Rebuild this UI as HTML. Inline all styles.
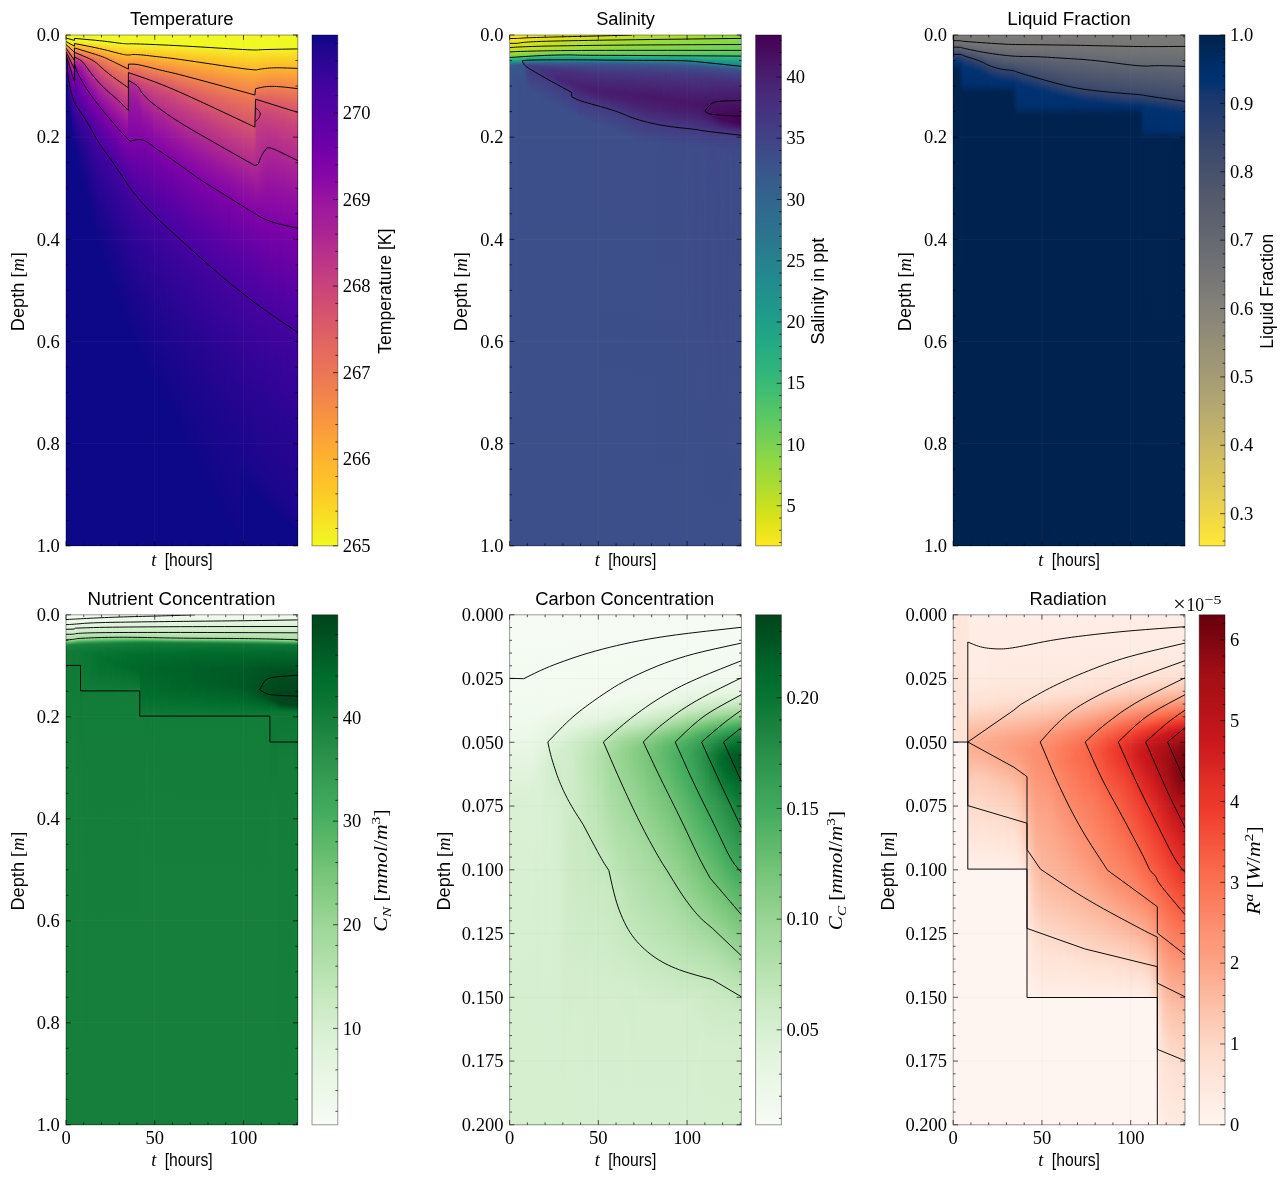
<!DOCTYPE html><html><head><meta charset="utf-8"><style>html,body{margin:0;padding:0;background:#fff}body{width:1288px;height:1184px;position:relative;overflow:hidden}.hm{position:absolute;overflow:hidden}.hm i{position:absolute;top:0;height:100%;display:block}svg{display:block;position:absolute;left:0;top:0;will-change:transform}</style></head><body><div class="hm" style="left:66px;top:35px;width:231.8px;height:510.8px"><div style="position:absolute;left:0px;top:0px;width:232px;height:511px"><i style="left:0px;width:2px;background:linear-gradient(#f0f921 0.5px,#f0f921 5.5px,#f3f027 6.5px,#fcd025 8.5px,#fca338 11.5px,#ed7953 14.5px,#ca457a 19.5px,#a21d9a 23.5px,#9511a1 24.5px,#8305a7 25.5px,#6c00a8 26.5px,#5b01a5 28.5px,#43039e 33.5px,#20068f 44.5px,#0d0887 53.5px,#0d0887 510.5px)"></i><i style="left:2px;width:2px;background:linear-gradient(#f0f921 0.5px,#f0f921 5.5px,#f1f525 6.5px,#fccd25 9.5px,#f99a3e 13.5px,#ec7754 16.5px,#c43e7f 23.5px,#9511a1 29.5px,#8004a8 32.5px,#6700a8 38.5px,#41049d 52.5px,#220690 63.5px,#0d0887 76.5px,#0d0887 510.5px)"></i><i style="left:4px;width:2px;background:linear-gradient(#f0f921 0.5px,#f0f921 6.5px,#f3ee27 7.5px,#fdca26 10.5px,#fa9c3c 14.5px,#e76f5a 19.5px,#c6417d 26.5px,#9c179e 33.5px,#8104a7 38.5px,#6300a7 47.5px,#310597 67.5px,#1b068d 78.5px,#0d0887 91.5px,#0d0887 510.5px)"></i><i style="left:6px;width:2px;background:linear-gradient(#f0f921 0.5px,#f0f921 6.5px,#f1f426 7.5px,#fdc827 11.5px,#f89540 16.5px,#e76f5a 21.5px,#c33d80 30.5px,#a11b9b 37.5px,#8104a7 44.5px,#5c01a6 57.5px,#280592 81.5px,#100788 100.5px,#0d0887 111.5px,#0d0887 510.5px)"></i><i style="left:8px;width:2px;background:linear-gradient(#f0f921 0.5px,#f0f921 5.5px,#f3f027 6.5px,#fdcb26 9.5px,#fba139 13.5px,#e56b5d 18.5px,#c23c81 23.5px,#a51f99 27.5px,#8b0aa5 31.5px,#7b02a8 35.5px,#6400a7 46.5px,#43039e 73.5px,#280592 87.5px,#130789 106.5px,#0d0887 115.5px,#0d0887 510.5px)"></i><i style="left:10px;width:2px;background:linear-gradient(#f0f921 0.5px,#f0f921 5.5px,#f2f227 6.5px,#fcce25 9.5px,#fca537 13.5px,#e97158 18.5px,#c13b82 24.5px,#ab2494 27.5px,#8d0ba5 34.5px,#7501a8 43.5px,#5601a4 62.5px,#41049d 77.5px,#2c0594 89.5px,#16078a 110.5px,#0d0887 123.5px,#0d0887 510.5px)"></i><i style="left:12px;width:2px;background:linear-gradient(#f0f921 0.5px,#f0f921 5.5px,#f1f426 6.5px,#fdc627 10.5px,#fb9f3a 14.5px,#e26561 20.5px,#c03a83 25.5px,#ab2494 28.5px,#8d0ba5 37.5px,#7501a8 48.5px,#3e049c 82.5px,#260591 99.5px,#130789 122.5px,#0d0887 133.5px,#0d0887 510.5px)"></i><i style="left:14px;width:2px;background:linear-gradient(#f0f921 0.5px,#f0f921 5.5px,#f1f525 6.5px,#fdca26 10.5px,#f99a3e 15.5px,#e06363 21.5px,#bf3984 26.5px,#ab2494 29.5px,#8f0da4 38.5px,#7501a8 51.5px,#3e049c 85.5px,#240691 106.5px,#130789 130.5px,#0d0887 141.5px,#0d0887 510.5px)"></i><i style="left:16px;width:2px;background:linear-gradient(#f0f921 0.5px,#f0f724 6.5px,#f8df25 8.5px,#fdc229 11.5px,#f89441 16.5px,#de6164 22.5px,#b32c8e 29.5px,#a11b9b 34.5px,#8707a6 45.5px,#6700a8 62.5px,#370499 93.5px,#1d068e 120.5px,#100788 143.5px,#0d0887 146.5px,#0d0887 510.5px)"></i><i style="left:18px;width:2px;background:linear-gradient(#f0f921 0.5px,#f0f921 6.5px,#f4ed27 7.5px,#fcce25 10.5px,#fba238 15.5px,#e76e5b 21.5px,#cd4a76 26.5px,#b12a90 32.5px,#9511a1 42.5px,#7d03a8 54.5px,#4c02a1 81.5px,#2e0595 105.5px,#16078a 138.5px,#100788 151.5px,#0d0887 154.5px,#0d0887 510.5px)"></i><i style="left:20px;width:2px;background:linear-gradient(#f0f921 0.5px,#f0f921 6.5px,#f3ee27 7.5px,#fdc827 11.5px,#fa9c3c 16.5px,#e56b5d 22.5px,#cd4a76 27.5px,#b02991 35.5px,#8f0da4 48.5px,#7501a8 61.5px,#48039f 87.5px,#2c0594 112.5px,#16078a 144.5px,#100788 158.5px,#0d0887 161.5px,#0d0887 510.5px)"></i><i style="left:22px;width:2px;background:linear-gradient(#f0f921 0.5px,#f0f921 6.5px,#f3f027 7.5px,#fdca26 11.5px,#f9983e 17.5px,#e4695e 23.5px,#d14e72 27.5px,#b42e8d 36.5px,#920fa3 50.5px,#7a02a8 62.5px,#48039f 90.5px,#2a0593 118.5px,#16078a 152.5px,#100788 166.5px,#0d0887 169.5px,#0d0887 510.5px)"></i><i style="left:24px;width:2px;background:linear-gradient(#f0f921 0.5px,#f0f921 6.5px,#f3f027 7.5px,#fdcb26 11.5px,#fa9c3c 17.5px,#e76e5b 23.5px,#d45270 27.5px,#ba3388 36.5px,#9511a1 52.5px,#7e03a8 63.5px,#5102a3 87.5px,#3a049a 105.5px,#220690 136.5px,#130789 166.5px,#100788 174.5px,#0d0887 177.5px,#0d0887 510.5px)"></i><i style="left:26px;width:2px;background:linear-gradient(#f0f921 0.5px,#f0f921 6.5px,#f2f227 7.5px,#fcce25 11.5px,#fb9f3a 17.5px,#e97257 23.5px,#d35171 28.5px,#bc3587 37.5px,#9410a2 55.5px,#7b02a8 67.5px,#4b03a1 95.5px,#2f0596 121.5px,#19068c 160.5px,#100788 182.5px,#0d0887 185.5px,#0d0887 510.5px)"></i><i style="left:28px;width:2px;background:linear-gradient(#f0f921 0.5px,#f0f921 6.5px,#f1f426 7.5px,#fdc827 12.5px,#fa9b3d 18.5px,#e56a5d 25.5px,#d14e72 30.5px,#b7318a 41.5px,#8e0ca4 60.5px,#7501a8 73.5px,#48039f 101.5px,#2a0593 135.5px,#1b068d 163.5px,#100788 190.5px,#0d0887 197.5px,#0d0887 510.5px)"></i><i style="left:30px;width:2px;background:linear-gradient(#f0f921 0.5px,#f0f921 6.5px,#f1f525 7.5px,#fdca26 12.5px,#fa9e3b 18.5px,#e56a5d 26.5px,#d14e72 32.5px,#b42e8d 45.5px,#8e0ca4 63.5px,#7801a8 74.5px,#4b03a1 102.5px,#2f0596 132.5px,#1b068d 169.5px,#130789 190.5px,#100788 195.5px,#100788 199.5px,#0d0887 202.5px,#0d0887 510.5px)"></i><i style="left:32px;width:2px;background:linear-gradient(#f0f921 0.5px,#f0f921 6.5px,#f1f525 7.5px,#fdc527 13.5px,#f99a3e 19.5px,#ed7953 24.5px,#d6556d 32.5px,#c03a83 42.5px,#9814a0 61.5px,#7e03a8 73.5px,#5102a3 100.5px,#3a049a 121.5px,#220690 160.5px,#130789 196.5px,#100788 206.5px,#0d0887 209.5px,#0d0887 510.5px)"></i><i style="left:34px;width:2px;background:linear-gradient(#f0f921 0.5px,#f0f724 7.5px,#f6e626 9.5px,#fdc627 13.5px,#fa9e3b 19.5px,#ef7c51 24.5px,#da5b69 32.5px,#be3885 45.5px,#9410a2 65.5px,#7b02a8 77.5px,#4c02a1 106.5px,#350498 132.5px,#1d068e 174.5px,#130789 203.5px,#100788 208.5px,#100788 212.5px,#0d0887 215.5px,#0d0887 510.5px)"></i><i style="left:36px;width:2px;background:linear-gradient(#f0f921 0.5px,#f0f724 7.5px,#f6e826 9.5px,#fdca26 13.5px,#f99a3e 20.5px,#eb7655 26.5px,#d04d73 38.5px,#a11b9b 61.5px,#8004a8 77.5px,#5801a4 101.5px,#3f049c 121.5px,#260591 160.5px,#16078a 199.5px,#100788 216.5px,#0d0887 227.5px,#0d0887 510.5px)"></i><i style="left:38px;width:2px;background:linear-gradient(#f0f921 0.5px,#f0f921 7.5px,#f2f227 8.5px,#fdcb26 13.5px,#fa9e3b 20.5px,#ed7a52 26.5px,#d8576b 36.5px,#a51f99 61.5px,#8305a7 78.5px,#6001a6 98.5px,#41049d 122.5px,#260591 164.5px,#16078a 203.5px,#100788 222.5px,#0d0887 229.5px,#0d0887 510.5px)"></i><i style="left:40px;width:2px;background:linear-gradient(#f0f921 0.5px,#f0f921 7.5px,#f2f227 8.5px,#fdc827 14.5px,#fa9c3c 21.5px,#ed7a52 27.5px,#d5536f 39.5px,#a82296 61.5px,#8606a6 79.5px,#6600a7 97.5px,#44039e 121.5px,#2c0594 157.5px,#1b068d 194.5px,#130789 219.5px,#100788 224.5px,#100788 229.5px,#0d0887 232.5px,#0d0887 510.5px)"></i><i style="left:42px;width:2px;background:linear-gradient(#f0f921 0.5px,#f0f921 7.5px,#f4ed27 9.5px,#fdca26 14.5px,#f99a3e 22.5px,#ed7a52 28.5px,#da5a6a 38.5px,#ac2694 61.5px,#8707a6 80.5px,#6700a8 99.5px,#46039f 122.5px,#2c0594 160.5px,#1b068d 199.5px,#130789 224.5px,#100788 229.5px,#100788 234.5px,#0d0887 237.5px,#0d0887 510.5px)"></i><i style="left:44px;width:2px;background:linear-gradient(#f0f921 0.5px,#f0f921 7.5px,#f6e826 10.5px,#fdc627 15.5px,#f9983e 23.5px,#ed7a52 29.5px,#da5b69 39.5px,#a72197 65.5px,#8405a7 84.5px,#6100a7 105.5px,#43039e 128.5px,#280592 172.5px,#19068c 210.5px,#130789 229.5px,#100788 234.5px,#100788 239.5px,#0d0887 242.5px,#0d0887 510.5px)"></i><i style="left:46px;width:2px;background:linear-gradient(#f0f921 0.5px,#f0f724 8.5px,#f5e926 10.5px,#fdca26 15.5px,#fa9b3d 23.5px,#ed7a52 30.5px,#da5a6a 41.5px,#ab2494 65.5px,#8a09a5 83.5px,#6c00a8 101.5px,#48039f 126.5px,#2f0596 161.5px,#1b068d 208.5px,#130789 234.5px,#100788 239.5px,#100788 245.5px,#0d0887 248.5px,#0d0887 510.5px)"></i><i style="left:48px;width:2px;background:linear-gradient(#f0f921 0.5px,#f0f921 8.5px,#f2f227 9.5px,#fdcb26 15.5px,#f99a3e 24.5px,#ed7953 31.5px,#d5546e 45.5px,#ac2694 66.5px,#8a09a5 85.5px,#6c00a8 103.5px,#44039e 132.5px,#280592 179.5px,#19068c 221.5px,#130789 239.5px,#100788 250.5px,#0d0887 257.5px,#0d0887 510.5px)"></i><i style="left:50px;width:2px;background:linear-gradient(#f0f921 0.5px,#f0f921 8.5px,#f2f227 9.5px,#fdc827 16.5px,#f9983e 25.5px,#ed7953 32.5px,#d04d73 49.5px,#a62098 71.5px,#8405a7 91.5px,#6300a7 112.5px,#44039e 135.5px,#2a0593 179.5px,#1b068d 218.5px,#130789 245.5px,#100788 250.5px,#100788 256.5px,#0d0887 259.5px,#0d0887 510.5px)"></i><i style="left:52px;width:2px;background:linear-gradient(#f0f921 0.5px,#f0f921 8.5px,#f3ee27 10.5px,#fdca26 16.5px,#f9973f 26.5px,#ed7953 33.5px,#c43e7f 57.5px,#9d189d 78.5px,#8004a8 96.5px,#5601a4 123.5px,#3f049c 145.5px,#280592 188.5px,#19068c 230.5px,#130789 251.5px,#100788 256.5px,#100788 262.5px,#0d0887 265.5px,#0d0887 510.5px)"></i><i style="left:54px;width:2px;background:linear-gradient(#f0f921 0.5px,#f0f921 8.5px,#f5e926 11.5px,#fdc627 17.5px,#f89441 27.5px,#e87059 37.5px,#bc3587 63.5px,#9613a1 84.5px,#7d03a8 100.5px,#4e02a2 132.5px,#3a049a 156.5px,#240691 202.5px,#19068c 236.5px,#130789 256.5px,#100788 261.5px,#100788 268.5px,#0d0887 271.5px,#0d0887 510.5px)"></i><i style="left:56px;width:2px;background:linear-gradient(#f0f921 0.5px,#f0f921 8.5px,#f5e926 11.5px,#fdc827 17.5px,#f9973f 27.5px,#eb7655 36.5px,#bf3984 63.5px,#9613a1 86.5px,#7d03a8 102.5px,#4c02a1 136.5px,#38049a 162.5px,#220690 212.5px,#16078a 250.5px,#130789 262.5px,#100788 267.5px,#100788 274.5px,#0d0887 277.5px,#0d0887 510.5px)"></i><i style="left:58px;width:2px;background:linear-gradient(#f0f921 0.5px,#f0f921 8.5px,#f5eb27 11.5px,#fdc827 17.5px,#f89540 28.5px,#e87059 39.5px,#bd3786 66.5px,#9511a1 89.5px,#7d03a8 104.5px,#4e02a2 138.5px,#3c049b 160.5px,#240691 210.5px,#16078a 255.5px,#130789 267.5px,#100788 272.5px,#100788 279.5px,#0d0887 282.5px,#0d0887 510.5px)"></i><i style="left:60px;width:2px;background:linear-gradient(#f0f921 0.5px,#f0f724 9.5px,#f6e626 12.5px,#fdc527 18.5px,#f89441 29.5px,#ea7457 39.5px,#ca457a 60.5px,#9c179e 87.5px,#7e03a8 105.5px,#5102a3 138.5px,#3e049c 160.5px,#240691 214.5px,#16078a 261.5px,#130789 273.5px,#100788 278.5px,#100788 285.5px,#0d0887 288.5px,#0d0887 510.5px)"></i><i style="left:62px;width:2px;background:linear-gradient(#f0f921 0.5px,#f0f724 9.5px,#f6e626 12.5px,#fdc627 18.5px,#f9983e 27.5px,#de5f65 38.5px,#bf3984 45.5px,#ad2793 49.5px,#9814a0 66.5px,#7b02a8 109.5px,#4e02a2 144.5px,#3c049b 166.5px,#260591 214.5px,#19068c 255.5px,#130789 278.5px,#100788 283.5px,#100788 291.5px,#0d0887 294.5px,#0d0887 510.5px)"></i><i style="left:64px;width:2px;background:linear-gradient(#f0f921 0.5px,#f0f921 8.5px,#f5e926 11.5px,#fdca26 17.5px,#fa9b3d 26.5px,#e26561 37.5px,#c43e7f 45.5px,#b02991 49.5px,#9613a1 69.5px,#7b02a8 110.5px,#5002a2 145.5px,#3c049b 169.5px,#240691 223.5px,#19068c 261.5px,#130789 283.5px,#100788 288.5px,#100788 296.5px,#0d0887 299.5px,#0d0887 510.5px)"></i><i style="left:66px;width:2px;background:linear-gradient(#f0f921 0.5px,#f0f724 9.5px,#f5eb27 11.5px,#fdc827 17.5px,#f99a3e 26.5px,#df6263 38.5px,#c8437b 45.5px,#b12a90 50.5px,#a01a9c 61.5px,#8d0ba5 84.5px,#7701a8 114.5px,#46039f 157.5px,#2e0595 202.5px,#1b068d 255.5px,#130789 287.5px,#100788 292.5px,#100788 300.5px,#0d0887 303.5px,#0d0887 510.5px)"></i><i style="left:68px;width:2px;background:linear-gradient(#f0f921 0.5px,#f0f724 9.5px,#f6e626 12.5px,#fdc328 18.5px,#f79342 27.5px,#db5c68 40.5px,#c23c81 47.5px,#ad2793 52.5px,#9511a1 72.5px,#7a02a8 111.5px,#4b03a1 155.5px,#370499 186.5px,#240691 231.5px,#19068c 269.5px,#130789 291.5px,#100788 302.5px,#100788 305.5px,#0d0887 308.5px,#0d0887 510.5px)"></i><i style="left:70px;width:2px;background:linear-gradient(#f0f921 0.5px,#f0f724 9.5px,#f6e626 12.5px,#fdca26 17.5px,#f99a3e 26.5px,#e87059 35.5px,#cb4679 46.5px,#b12a90 52.5px,#9c179e 66.5px,#8104a7 101.5px,#5b01a5 140.5px,#3e049c 176.5px,#260591 228.5px,#16078a 283.5px,#130789 296.5px,#100788 301.5px,#100788 310.5px,#0d0887 313.5px,#0d0887 510.5px)"></i><i style="left:72px;width:2px;background:linear-gradient(#f0f921 0.5px,#f0f724 9.5px,#f6e626 12.5px,#fdc527 18.5px,#f89540 27.5px,#e56a5d 37.5px,#c7427c 48.5px,#ae2892 55.5px,#9410a2 76.5px,#7501a8 114.5px,#46039f 166.5px,#2f0596 208.5px,#1d068e 259.5px,#130789 300.5px,#100788 311.5px,#100788 314.5px,#0d0887 317.5px,#0d0887 510.5px)"></i><i style="left:74px;width:2px;background:linear-gradient(#f0f921 0.5px,#f0f724 9.5px,#f6e626 12.5px,#fdc527 18.5px,#f79342 28.5px,#e16462 39.5px,#b22b8f 57.5px,#9814a0 76.5px,#7d03a8 107.5px,#4e02a2 158.5px,#38049a 191.5px,#220690 247.5px,#16078a 292.5px,#130789 304.5px,#100788 309.5px,#100788 318.5px,#0d0887 321.5px,#0d0887 510.5px)"></i><i style="left:76px;width:2px;background:linear-gradient(#f0f921 0.5px,#f0f724 9.5px,#f6e826 12.5px,#fdc627 18.5px,#f89441 28.5px,#de5f65 41.5px,#b83289 57.5px,#a31e9a 70.5px,#8405a7 99.5px,#6100a7 137.5px,#43039e 175.5px,#2a0593 227.5px,#1b068d 274.5px,#130789 307.5px,#100788 318.5px,#100788 322.5px,#0d0887 325.5px,#0d0887 510.5px)"></i><i style="left:78px;width:2px;background:linear-gradient(#f0f921 0.5px,#f0f921 9.5px,#f2f227 10.5px,#fdcb26 17.5px,#fa9b3d 27.5px,#e66c5c 38.5px,#cc4977 49.5px,#ae2892 64.5px,#8e0ca4 90.5px,#7401a8 117.5px,#4903a0 167.5px,#330597 207.5px,#20068f 260.5px,#130789 310.5px,#100788 321.5px,#100788 325.5px,#0d0887 328.5px,#0d0887 510.5px)"></i><i style="left:80px;width:2px;background:linear-gradient(#f0f921 0.5px,#f0f921 9.5px,#f2f227 10.5px,#fdc827 18.5px,#f9973f 28.5px,#db5c68 43.5px,#ba3388 59.5px,#a01a9c 76.5px,#8305a7 103.5px,#6001a6 141.5px,#41049d 181.5px,#280592 237.5px,#19068c 290.5px,#130789 314.5px,#100788 319.5px,#100788 328.5px,#0d0887 331.5px,#0d0887 510.5px)"></i><i style="left:82px;width:2px;background:linear-gradient(#f0f921 0.5px,#f0f921 9.5px,#f4ed27 11.5px,#fdc827 18.5px,#f89441 29.5px,#da5b69 44.5px,#bb3488 60.5px,#9d189d 80.5px,#8104a7 107.5px,#5c01a6 146.5px,#3f049c 186.5px,#280592 240.5px,#1b068d 283.5px,#130789 316.5px,#100788 332.5px,#0d0887 335.5px,#0d0887 510.5px)"></i><i style="left:84px;width:2px;background:linear-gradient(#f0f921 0.5px,#f0f921 9.5px,#f3ee27 11.5px,#fdca26 18.5px,#f99a3e 28.5px,#de6164 43.5px,#ca457a 53.5px,#ac2694 71.5px,#8e0ca4 95.5px,#7401a8 121.5px,#4b03a1 170.5px,#330597 213.5px,#20068f 268.5px,#130789 319.5px,#100788 335.5px,#0d0887 338.5px,#0d0887 510.5px)"></i><i style="left:86px;width:2px;background:linear-gradient(#f0f921 0.5px,#f0f921 9.5px,#f3ee27 11.5px,#fdca26 18.5px,#f9973f 29.5px,#de5f65 44.5px,#ca457a 54.5px,#ad2793 72.5px,#8d0ba5 98.5px,#7201a8 124.5px,#46039f 179.5px,#2f0596 224.5px,#1b068d 287.5px,#130789 324.5px,#100788 329.5px,#100788 339.5px,#0d0887 342.5px,#0d0887 510.5px)"></i><i style="left:88px;width:2px;background:linear-gradient(#f0f921 0.5px,#f0f921 9.5px,#f3ee27 11.5px,#fdca26 18.5px,#f9983e 29.5px,#e16462 43.5px,#cb4679 54.5px,#aa2395 76.5px,#8a09a5 103.5px,#6f00a8 130.5px,#48039f 178.5px,#310597 222.5px,#1d068e 282.5px,#130789 327.5px,#100788 332.5px,#100788 342.5px,#0d0887 345.5px,#0d0887 510.5px)"></i><i style="left:90px;width:2px;background:linear-gradient(#f0f921 0.5px,#f0f921 9.5px,#f3ee27 11.5px,#fdcb26 18.5px,#f99a3e 29.5px,#e26660 43.5px,#cf4c74 52.5px,#ae2892 74.5px,#8b0aa5 103.5px,#7100a8 129.5px,#48039f 180.5px,#310597 224.5px,#1d068e 285.5px,#130789 330.5px,#100788 341.5px,#100788 346.5px,#0d0887 349.5px,#0d0887 510.5px)"></i><i style="left:92px;width:2px;background:linear-gradient(#f0f921 0.5px,#f0f921 9.5px,#f3ee27 11.5px,#fdcb26 18.5px,#fa9b3d 29.5px,#e4695e 43.5px,#cf4c74 53.5px,#b22b8f 73.5px,#910ea3 100.5px,#7a02a8 121.5px,#5002a2 170.5px,#370499 214.5px,#220690 271.5px,#16078a 320.5px,#130789 334.5px,#100788 339.5px,#100788 349.5px,#0d0887 352.5px,#0d0887 510.5px)"></i><i style="left:94px;width:2px;background:linear-gradient(#f0f921 0.5px,#f0f921 9.5px,#f5e926 12.5px,#fdc827 19.5px,#f89441 31.5px,#e16462 45.5px,#ce4b75 54.5px,#ae2892 77.5px,#8d0ba5 104.5px,#7401a8 129.5px,#4903a0 181.5px,#330597 224.5px,#20068f 282.5px,#16078a 323.5px,#130789 337.5px,#100788 342.5px,#100788 353.5px,#0d0887 356.5px,#0d0887 510.5px)"></i><i style="left:96px;width:2px;background:linear-gradient(#f0f921 0.5px,#f0f921 9.5px,#f5eb27 12.5px,#fdc827 19.5px,#f89540 31.5px,#e26561 45.5px,#cc4977 56.5px,#ab2494 81.5px,#8a09a5 108.5px,#6f00a8 136.5px,#4c02a1 178.5px,#370499 218.5px,#240691 270.5px,#19068c 314.5px,#130789 340.5px,#100788 351.5px,#100788 356.5px,#0d0887 359.5px,#0d0887 510.5px)"></i><i style="left:98px;width:2px;background:linear-gradient(#f0f921 0.5px,#f0f921 9.5px,#f5eb27 12.5px,#fdc827 19.5px,#f89441 32.5px,#dd5e66 48.5px,#c8437b 60.5px,#a01a9c 91.5px,#8104a7 118.5px,#5c01a6 159.5px,#3f049c 201.5px,#260591 265.5px,#19068c 317.5px,#130789 344.5px,#100788 349.5px,#100788 359.5px,#0d0887 362.5px,#0d0887 510.5px)"></i><i style="left:100px;width:2px;background:linear-gradient(#f0f921 0.5px,#f0f921 9.5px,#f5eb27 12.5px,#fdca26 19.5px,#f9983e 31.5px,#e06363 47.5px,#cd4a76 57.5px,#b02991 80.5px,#8d0ba5 109.5px,#7501a8 131.5px,#4903a0 186.5px,#330597 231.5px,#20068f 290.5px,#16078a 333.5px,#130789 347.5px,#100788 352.5px,#100788 363.5px,#0d0887 366.5px,#0d0887 510.5px)"></i><i style="left:102px;width:2px;background:linear-gradient(#f0f921 0.5px,#f0f921 9.5px,#f5eb27 12.5px,#fdca26 19.5px,#f99a3e 31.5px,#df6263 48.5px,#c9447a 61.5px,#9e199d 95.5px,#8104a7 120.5px,#5c01a6 162.5px,#41049d 202.5px,#280592 263.5px,#19068c 323.5px,#130789 351.5px,#100788 356.5px,#100788 366.5px,#0d0887 369.5px,#0d0887 510.5px)"></i><i style="left:104px;width:2px;background:linear-gradient(#f0f921 0.5px,#f0f921 9.5px,#f5eb27 12.5px,#fdcb26 19.5px,#f99a3e 31.5px,#e26660 47.5px,#ce4b75 58.5px,#ad2793 85.5px,#8a09a5 114.5px,#7100a8 139.5px,#4b03a1 187.5px,#350498 231.5px,#20068f 295.5px,#16078a 340.5px,#130789 350.5px,#100788 370.5px,#0d0887 373.5px,#0d0887 510.5px)"></i><i style="left:106px;width:2px;background:linear-gradient(#f0f921 0.5px,#f0f921 9.5px,#f4ed27 12.5px,#fdcb26 19.5px,#fa9b3d 31.5px,#e26561 48.5px,#cc4778 61.5px,#a31e9a 94.5px,#8104a7 123.5px,#5c01a6 165.5px,#41049d 206.5px,#280592 268.5px,#19068c 330.5px,#130789 356.5px,#100788 367.5px,#100788 373.5px,#0d0887 376.5px,#0d0887 510.5px)"></i><i style="left:108px;width:2px;background:linear-gradient(#f0f921 0.5px,#f0f724 10.5px,#f6e826 13.5px,#fdc827 20.5px,#f89540 33.5px,#df6263 50.5px,#cc4778 62.5px,#9e199d 100.5px,#8104a7 124.5px,#5c01a6 166.5px,#41049d 208.5px,#2a0593 266.5px,#1b068d 320.5px,#130789 359.5px,#100788 370.5px,#100788 377.5px,#0d0887 380.5px,#0d0887 510.5px)"></i><i style="left:110px;width:2px;background:linear-gradient(#f0f921 0.5px,#f0f724 10.5px,#f6e826 13.5px,#fdc827 20.5px,#f9973f 33.5px,#db5c68 53.5px,#c8437b 66.5px,#9814a0 106.5px,#7e03a8 129.5px,#5502a4 178.5px,#3a049a 224.5px,#240691 288.5px,#19068c 336.5px,#130789 362.5px,#100788 379.5px,#0d0887 386.5px,#0d0887 510.5px)"></i><i style="left:112px;width:2px;background:linear-gradient(#f0f921 0.5px,#f0f724 10.5px,#f7e425 14.5px,#fdc527 21.5px,#f79143 35.5px,#da5b69 54.5px,#c23c81 72.5px,#9511a1 110.5px,#7d03a8 132.5px,#5302a3 182.5px,#3a049a 226.5px,#260591 284.5px,#19068c 338.5px,#130789 367.5px,#100788 372.5px,#100788 384.5px,#0d0887 387.5px,#0d0887 510.5px)"></i><i style="left:114px;width:2px;background:linear-gradient(#f0f921 0.5px,#f0f724 10.5px,#f7e425 14.5px,#fdc229 22.5px,#f68f44 36.5px,#d9586a 56.5px,#c13b82 74.5px,#9511a1 111.5px,#7d03a8 133.5px,#5102a3 186.5px,#38049a 232.5px,#240691 294.5px,#19068c 342.5px,#130789 370.5px,#100788 375.5px,#100788 387.5px,#0d0887 390.5px,#0d0887 510.5px)"></i><i style="left:116px;width:2px;background:linear-gradient(#f0f921 0.5px,#f0f724 10.5px,#f7e425 14.5px,#fdc627 21.5px,#f79342 35.5px,#da5a6a 56.5px,#c03a83 76.5px,#920fa3 115.5px,#7b02a8 136.5px,#4c02a1 195.5px,#370499 239.5px,#220690 303.5px,#19068c 346.5px,#130789 381.5px,#100788 392.5px,#100788 399.5px,#0d0887 402.5px,#0d0887 510.5px)"></i><i style="left:118px;width:2px;background:linear-gradient(#f0f921 0.5px,#f0f921 10.5px,#f3ee27 12.5px,#fdcb26 20.5px,#fa9b3d 33.5px,#e26561 52.5px,#cc4778 67.5px,#9a169f 110.5px,#8004a8 133.5px,#5801a4 181.5px,#3e049c 223.5px,#260591 291.5px,#19068c 346.5px,#16078a 367.5px,#130789 377.5px,#130789 386.5px,#100788 391.5px,#100788 403.5px,#0d0887 406.5px,#0d0887 510.5px)"></i><i style="left:120px;width:2px;background:linear-gradient(#f0f921 0.5px,#f0f921 10.5px,#f3ee27 12.5px,#fdc827 21.5px,#f89540 35.5px,#e06363 54.5px,#cb4679 69.5px,#9a169f 111.5px,#8004a8 134.5px,#5801a4 183.5px,#3e049c 225.5px,#260591 294.5px,#19068c 349.5px,#16078a 371.5px,#130789 381.5px,#130789 390.5px,#100788 395.5px,#100788 407.5px,#0d0887 410.5px,#0d0887 510.5px)"></i><i style="left:122px;width:2px;background:linear-gradient(#f0f921 0.5px,#f0f921 10.5px,#f3f027 12.5px,#fdc827 21.5px,#f89441 36.5px,#df6263 55.5px,#c8437b 72.5px,#9613a1 115.5px,#7d03a8 139.5px,#4c02a1 200.5px,#370499 245.5px,#240691 304.5px,#19068c 353.5px,#16078a 374.5px,#130789 384.5px,#130789 394.5px,#100788 399.5px,#100788 411.5px,#0d0887 414.5px,#0d0887 510.5px)"></i><i style="left:124px;width:2px;background:linear-gradient(#f0f921 0.5px,#f0f921 10.5px,#f5eb27 13.5px,#fdca26 21.5px,#f9983e 35.5px,#e06363 55.5px,#c6417d 75.5px,#99159f 114.5px,#7e03a8 139.5px,#5302a3 192.5px,#3a049a 238.5px,#260591 299.5px,#19068c 356.5px,#16078a 377.5px,#130789 387.5px,#130789 397.5px,#100788 402.5px,#100788 414.5px,#0d0887 417.5px,#0d0887 510.5px)"></i><i style="left:126px;width:2px;background:linear-gradient(#f0f921 0.5px,#f0f921 10.5px,#f4ed27 13.5px,#fdca26 21.5px,#f99a3e 35.5px,#db5c68 59.5px,#be3885 83.5px,#9410a2 120.5px,#7b02a8 143.5px,#4e02a2 201.5px,#38049a 244.5px,#240691 309.5px,#19068c 360.5px,#16078a 381.5px,#130789 391.5px,#130789 401.5px,#100788 406.5px,#100788 418.5px,#0d0887 421.5px,#0d0887 510.5px)"></i><i style="left:128px;width:2px;background:linear-gradient(#f0f921 0.5px,#f0f921 10.5px,#f4ed27 13.5px,#fdcb26 21.5px,#fba139 33.5px,#e16462 56.5px,#ca457a 74.5px,#9e199d 112.5px,#8004a8 140.5px,#5801a4 189.5px,#3f049c 230.5px,#280592 296.5px,#19068c 362.5px,#16078a 384.5px,#130789 394.5px,#130789 405.5px,#100788 410.5px,#100788 422.5px,#0d0887 425.5px,#0d0887 510.5px)"></i><i style="left:130px;width:2px;background:linear-gradient(#f0f921 0.5px,#f0f921 10.5px,#f4ed27 13.5px,#fdc827 22.5px,#f89540 37.5px,#de5f65 59.5px,#c43e7f 80.5px,#99159f 118.5px,#7e03a8 143.5px,#5102a3 200.5px,#3c049b 240.5px,#260591 306.5px,#19068c 364.5px,#16078a 388.5px,#130789 398.5px,#130789 409.5px,#100788 414.5px,#100788 426.5px,#0d0887 429.5px,#0d0887 510.5px)"></i><i style="left:132px;width:2px;background:linear-gradient(#f0f921 0.5px,#f0f921 10.5px,#f4ed27 13.5px,#fdc827 22.5px,#f89441 38.5px,#e06363 58.5px,#c6417d 79.5px,#99159f 119.5px,#8004a8 143.5px,#5801a4 192.5px,#3f049c 234.5px,#280592 301.5px,#1b068d 356.5px,#16078a 389.5px,#130789 412.5px,#100788 417.5px,#100788 429.5px,#0d0887 432.5px,#0d0887 510.5px)"></i><i style="left:134px;width:2px;background:linear-gradient(#f0f921 0.5px,#f0f724 11.5px,#f6e626 15.5px,#fdc527 23.5px,#f79143 39.5px,#de6164 60.5px,#c43e7f 82.5px,#99159f 121.5px,#8004a8 144.5px,#5601a4 195.5px,#3c049b 244.5px,#260591 311.5px,#19068c 371.5px,#16078a 395.5px,#130789 405.5px,#130789 416.5px,#100788 421.5px,#100788 433.5px,#0d0887 436.5px,#0d0887 510.5px)"></i><i style="left:136px;width:2px;background:linear-gradient(#f0f921 0.5px,#f0f724 11.5px,#f6e626 15.5px,#fdc328 24.5px,#f79044 40.5px,#dd5e66 62.5px,#c13b82 86.5px,#9613a1 124.5px,#7e03a8 148.5px,#5801a4 195.5px,#3e049c 241.5px,#260591 313.5px,#19068c 374.5px,#16078a 398.5px,#130789 408.5px,#130789 420.5px,#100788 425.5px,#100788 437.5px,#0d0887 440.5px,#0d0887 510.5px)"></i><i style="left:138px;width:2px;background:linear-gradient(#f0f921 0.5px,#f0f724 11.5px,#f6e626 15.5px,#fdc328 24.5px,#f79143 40.5px,#de5f65 62.5px,#c13b82 87.5px,#9613a1 125.5px,#7e03a8 149.5px,#5102a3 206.5px,#3c049b 248.5px,#260591 316.5px,#19068c 376.5px,#16078a 402.5px,#130789 412.5px,#130789 424.5px,#100788 429.5px,#100788 440.5px,#0d0887 443.5px,#0d0887 510.5px)"></i><i style="left:140px;width:2px;background:linear-gradient(#f0f921 0.5px,#f0f724 11.5px,#f6e626 15.5px,#fdc527 24.5px,#f9983e 38.5px,#e4695e 58.5px,#ca457a 80.5px,#9d189d 121.5px,#8004a8 148.5px,#5801a4 199.5px,#3f049c 241.5px,#280592 311.5px,#19068c 378.5px,#16078a 405.5px,#130789 415.5px,#130789 427.5px,#100788 432.5px,#100788 444.5px,#0d0887 447.5px,#0d0887 510.5px)"></i><i style="left:142px;width:2px;background:linear-gradient(#f0f921 0.5px,#f0f724 11.5px,#f6e826 15.5px,#fdc527 24.5px,#f79143 41.5px,#e16462 61.5px,#c33d80 87.5px,#99159f 125.5px,#8004a8 149.5px,#5801a4 200.5px,#3e049c 247.5px,#260591 320.5px,#19068c 383.5px,#16078a 409.5px,#130789 419.5px,#130789 431.5px,#100788 436.5px,#100788 448.5px,#0d0887 451.5px,#0d0887 510.5px)"></i><i style="left:144px;width:2px;background:linear-gradient(#f0f921 0.5px,#f0f724 11.5px,#f7e425 16.5px,#fdc627 24.5px,#f89441 40.5px,#df6263 63.5px,#c03a83 91.5px,#9410a2 131.5px,#7b02a8 155.5px,#5102a3 211.5px,#3a049a 257.5px,#240691 331.5px,#19068c 386.5px,#16078a 412.5px,#130789 422.5px,#130789 435.5px,#100788 440.5px,#100788 451.5px,#0d0887 454.5px,#0d0887 510.5px)"></i><i style="left:146px;width:2px;background:linear-gradient(#f0f921 0.5px,#f0f921 11.5px,#f3f027 13.5px,#fdca26 23.5px,#f89540 40.5px,#e26561 62.5px,#c8437b 85.5px,#9c179e 125.5px,#7e03a8 153.5px,#5601a4 205.5px,#3e049c 251.5px,#280592 318.5px,#19068c 387.5px,#16078a 416.5px,#130789 426.5px,#130789 439.5px,#100788 444.5px,#100788 455.5px,#0d0887 458.5px,#0d0887 510.5px)"></i><i style="left:148px;width:2px;background:linear-gradient(#f0f921 0.5px,#f0f921 11.5px,#f3f027 13.5px,#fdcb26 23.5px,#f99a3e 39.5px,#e87059 57.5px,#cf4c74 79.5px,#a11b9b 122.5px,#8104a7 151.5px,#5c01a6 198.5px,#44039e 238.5px,#2e0595 300.5px,#1b068d 376.5px,#16078a 417.5px,#130789 443.5px,#100788 448.5px,#100788 459.5px,#0d0887 462.5px,#0d0887 510.5px)"></i><i style="left:150px;width:2px;background:linear-gradient(#f0f921 0.5px,#f0f921 11.5px,#f4ed27 14.5px,#fdc827 24.5px,#f89540 41.5px,#e56b5d 60.5px,#c8437b 87.5px,#9d189d 127.5px,#8004a8 154.5px,#5801a4 206.5px,#3e049c 255.5px,#280592 323.5px,#1b068d 381.5px,#16078a 418.5px,#130789 447.5px,#100788 452.5px,#100788 462.5px,#0d0887 465.5px,#0d0887 510.5px)"></i><i style="left:152px;width:2px;background:linear-gradient(#f0f921 0.5px,#f0f921 11.5px,#f4ed27 14.5px,#fdc827 24.5px,#f89441 42.5px,#e4695e 62.5px,#c7427c 89.5px,#9a169f 130.5px,#8004a8 156.5px,#5801a4 207.5px,#3e049c 256.5px,#260591 332.5px,#19068c 397.5px,#16078a 427.5px,#130789 437.5px,#130789 450.5px,#100788 455.5px,#100788 466.5px,#0d0887 469.5px,#0d0887 510.5px)"></i><i style="left:154px;width:2px;background:linear-gradient(#f0f921 0.5px,#f0f921 11.5px,#f3ee27 14.5px,#fdca26 24.5px,#f9973f 41.5px,#e56a5d 62.5px,#c8437b 89.5px,#9a169f 131.5px,#8004a8 157.5px,#5801a4 209.5px,#3e049c 258.5px,#260591 335.5px,#19068c 400.5px,#16078a 431.5px,#130789 441.5px,#130789 454.5px,#100788 459.5px,#100788 469.5px,#0d0887 472.5px,#0d0887 510.5px)"></i><i style="left:156px;width:2px;background:linear-gradient(#f0f921 0.5px,#f0f921 11.5px,#f3ee27 14.5px,#fdca26 24.5px,#f89540 42.5px,#e3685f 64.5px,#c5407e 93.5px,#9c179e 131.5px,#7e03a8 159.5px,#5502a4 215.5px,#3e049c 260.5px,#260591 337.5px,#19068c 402.5px,#16078a 435.5px,#130789 445.5px,#130789 458.5px,#100788 463.5px,#100788 473.5px,#0d0887 476.5px,#0d0887 510.5px)"></i><i style="left:158px;width:2px;background:linear-gradient(#f0f921 0.5px,#f0f921 11.5px,#f3ee27 14.5px,#fdc827 25.5px,#fa9b3d 40.5px,#e66c5c 62.5px,#c8437b 91.5px,#9d189d 131.5px,#8004a8 159.5px,#5801a4 212.5px,#3e049c 261.5px,#260591 339.5px,#19068c 405.5px,#16078a 439.5px,#130789 449.5px,#130789 462.5px,#100788 467.5px,#100788 476.5px,#0d0887 479.5px,#0d0887 510.5px)"></i><i style="left:160px;width:2px;background:linear-gradient(#f0f921 0.5px,#f0f724 12.5px,#f6e826 16.5px,#fdc527 26.5px,#f99a3e 41.5px,#e56a5d 64.5px,#c5407e 95.5px,#9a169f 135.5px,#8004a8 160.5px,#5801a4 214.5px,#41049d 255.5px,#2a0593 326.5px,#1b068d 394.5px,#16078a 435.5px,#130789 466.5px,#100788 471.5px,#100788 480.5px,#0d0887 483.5px,#0d0887 510.5px)"></i><i style="left:162px;width:2px;background:linear-gradient(#f0f921 0.5px,#f0f724 12.5px,#f7e425 17.5px,#fdc229 27.5px,#f68f44 46.5px,#dc5d67 73.5px,#b12a90 115.5px,#8a09a5 151.5px,#6f00a8 181.5px,#4b03a1 236.5px,#350498 290.5px,#220690 362.5px,#19068c 412.5px,#16078a 448.5px,#130789 458.5px,#130789 470.5px,#100788 475.5px,#100788 484.5px,#0d0887 487.5px,#0d0887 510.5px)"></i><i style="left:164px;width:2px;background:linear-gradient(#f0f921 0.5px,#f0f724 12.5px,#f7e425 17.5px,#fdc328 27.5px,#f89441 44.5px,#e56b5d 65.5px,#c6417d 96.5px,#99159f 138.5px,#7e03a8 164.5px,#5502a4 221.5px,#3e049c 267.5px,#260591 345.5px,#19068c 413.5px,#16078a 453.5px,#130789 463.5px,#130789 474.5px,#100788 479.5px,#100788 487.5px,#0d0887 490.5px,#0d0887 510.5px)"></i><i style="left:166px;width:2px;background:linear-gradient(#f0f921 0.5px,#f0f724 12.5px,#f7e425 17.5px,#fdc328 27.5px,#f79342 45.5px,#e16462 70.5px,#bd3786 106.5px,#9511a1 143.5px,#7d03a8 167.5px,#5302a3 225.5px,#3c049b 273.5px,#280592 341.5px,#1b068d 401.5px,#16078a 446.5px,#16078a 458.5px,#130789 468.5px,#130789 479.5px,#100788 484.5px,#100788 491.5px,#0d0887 494.5px,#0d0887 510.5px)"></i><i style="left:168px;width:2px;background:linear-gradient(#f0f921 0.5px,#f0f724 12.5px,#f6e626 17.5px,#fdc527 27.5px,#f9983e 43.5px,#e76f5a 64.5px,#c8437b 96.5px,#9c179e 138.5px,#8004a8 165.5px,#5801a4 219.5px,#41049d 262.5px,#2a0593 334.5px,#1b068d 404.5px,#16078a 449.5px,#16078a 463.5px,#130789 473.5px,#130789 483.5px,#100788 488.5px,#100788 494.5px,#0d0887 497.5px,#0d0887 510.5px)"></i><i style="left:170px;width:2px;background:linear-gradient(#f0f921 0.5px,#f0f724 12.5px,#f6e626 17.5px,#fdc527 27.5px,#f9973f 44.5px,#e56b5d 67.5px,#c5407e 100.5px,#9814a0 143.5px,#7e03a8 168.5px,#5502a4 225.5px,#3c049b 276.5px,#260591 353.5px,#19068c 421.5px,#16078a 469.5px,#130789 479.5px,#130789 487.5px,#100788 492.5px,#100788 498.5px,#0d0887 501.5px,#0d0887 510.5px)"></i><i style="left:172px;width:2px;background:linear-gradient(#f0f921 0.5px,#f0f921 12.5px,#f3f027 14.5px,#fdc827 26.5px,#f89540 45.5px,#e76e5b 66.5px,#c6417d 100.5px,#9814a0 144.5px,#7e03a8 170.5px,#5601a4 224.5px,#3e049c 274.5px,#260591 355.5px,#1b068d 410.5px,#16078a 459.5px,#16078a 474.5px,#130789 484.5px,#130789 491.5px,#100788 496.5px,#100788 502.5px,#0d0887 505.5px,#0d0887 510.5px)"></i><i style="left:174px;width:2px;background:linear-gradient(#f0f921 0.5px,#f0f921 12.5px,#f4ed27 15.5px,#fdca26 26.5px,#fa9b3d 43.5px,#e76f5a 66.5px,#c7427c 100.5px,#99159f 144.5px,#7e03a8 170.5px,#5302a3 231.5px,#3c049b 280.5px,#260591 358.5px,#16078a 436.5px,#130789 446.5px,#100788 457.5px,#0d0887 464.5px,#0d0887 510.5px)"></i><i style="left:176px;width:2px;background:linear-gradient(#f0f921 0.5px,#f0f921 12.5px,#f3ee27 15.5px,#fdca26 26.5px,#fba139 41.5px,#eb7655 62.5px,#cc4977 95.5px,#9a169f 144.5px,#8004a8 171.5px,#5901a5 222.5px,#3f049c 272.5px,#280592 352.5px,#1b068d 415.5px,#130789 437.5px,#100788 442.5px,#0d0887 453.5px,#0d0887 510.5px)"></i><i style="left:178px;width:2px;background:linear-gradient(#f0f921 0.5px,#f0f921 12.5px,#f3ee27 15.5px,#fdc827 27.5px,#f9983e 45.5px,#e76e5b 68.5px,#c03a83 109.5px,#9511a1 150.5px,#7b02a8 176.5px,#5302a3 234.5px,#3e049c 279.5px,#280592 354.5px,#19068c 426.5px,#100788 445.5px,#0d0887 452.5px,#0d0887 510.5px)"></i><i style="left:180px;width:2px;background:linear-gradient(#f0f921 0.5px,#f0f921 12.5px,#f3ee27 15.5px,#fdc827 27.5px,#fa9b3d 44.5px,#e87059 67.5px,#c23c81 108.5px,#9613a1 150.5px,#7d03a8 176.5px,#5601a4 230.5px,#3e049c 280.5px,#260591 364.5px,#19068c 428.5px,#100788 448.5px,#0d0887 451.5px,#0d0887 510.5px)"></i><i style="left:182px;width:2px;background:linear-gradient(#f0f921 0.5px,#f0f921 12.5px,#f3ee27 15.5px,#fdc827 27.5px,#f89540 47.5px,#e66c5c 70.5px,#bc3587 115.5px,#920fa3 155.5px,#7b02a8 180.5px,#5502a4 234.5px,#3c049b 286.5px,#260591 368.5px,#1b068d 423.5px,#130789 444.5px,#100788 449.5px,#0d0887 456.5px,#0d0887 510.5px)"></i><i style="left:184px;width:2px;background:linear-gradient(#f0f921 0.5px,#f0f921 12.5px,#f3ee27 15.5px,#fdca26 27.5px,#fb9f3a 43.5px,#eb7556 65.5px,#c8437b 104.5px,#99159f 150.5px,#8004a8 176.5px,#5801a4 230.5px,#3e049c 283.5px,#260591 369.5px,#19068c 433.5px,#100788 452.5px,#0d0887 455.5px,#0d0887 510.5px)"></i><i style="left:186px;width:2px;background:linear-gradient(#f0f921 0.5px,#f0f724 13.5px,#f6e626 18.5px,#fdc627 28.5px,#f9973f 47.5px,#e87059 69.5px,#bf3984 114.5px,#9410a2 156.5px,#7b02a8 181.5px,#5002a2 245.5px,#38049a 301.5px,#260591 373.5px,#19068c 436.5px,#100788 454.5px,#0d0887 457.5px,#0d0887 510.5px)"></i><i style="left:188px;width:2px;background:linear-gradient(#f0f921 0.5px,#f0f724 13.5px,#f6e626 18.5px,#fdc527 29.5px,#f79143 49.5px,#e4695e 66.5px,#d9586a 76.5px,#c03a83 108.5px,#a11b9b 146.5px,#8004a8 177.5px,#5801a4 234.5px,#3f049c 282.5px,#280592 364.5px,#1b068d 431.5px,#100788 456.5px,#0d0887 459.5px,#0d0887 510.5px)"></i><i style="left:190px;width:2px;background:linear-gradient(#f0f921 0.5px,#f0f921 12.5px,#f3ee27 15.5px,#fdca26 27.5px,#f9973f 46.5px,#e97158 59.5px,#d35171 67.5px,#c23c81 88.5px,#ac2694 134.5px,#8405a7 174.5px,#6400a7 216.5px,#48039f 264.5px,#330597 323.5px,#240691 387.5px,#1b068d 433.5px,#100788 458.5px,#0d0887 461.5px,#0d0887 510.5px)"></i><i style="left:192px;width:2px;background:linear-gradient(#f0f921 0.5px,#f0f921 12.5px,#f3ee27 15.5px,#fdc827 27.5px,#f89540 46.5px,#e87059 59.5px,#d45270 67.5px,#c23c81 88.5px,#aa2395 135.5px,#8606a6 173.5px,#6600a7 214.5px,#46039f 269.5px,#310597 331.5px,#240691 391.5px,#19068c 443.5px,#100788 460.5px,#0d0887 463.5px,#0d0887 510.5px)"></i><i style="left:194px;width:2px;background:linear-gradient(#f0f921 0.5px,#f0f921 12.5px,#f3ee27 15.5px,#fdc827 27.5px,#f89441 46.5px,#e76f5a 59.5px,#d45270 68.5px,#c23c81 87.5px,#a31e9a 137.5px,#8104a7 178.5px,#5b01a5 234.5px,#43039e 278.5px,#2a0593 361.5px,#1b068d 438.5px,#100788 461.5px,#0d0887 464.5px,#0d0887 510.5px)"></i><i style="left:196px;width:2px;background:linear-gradient(#f0f921 0.5px,#f0f921 12.5px,#f3ee27 15.5px,#fdca26 26.5px,#f9983e 44.5px,#e76f5a 59.5px,#d5536f 68.5px,#c03a83 90.5px,#9c179e 144.5px,#7e03a8 183.5px,#5102a3 251.5px,#3e049c 293.5px,#280592 373.5px,#1b068d 440.5px,#100788 463.5px,#0d0887 466.5px,#0d0887 510.5px)"></i><i style="left:198px;width:2px;background:linear-gradient(#f0f921 0.5px,#f0f921 12.5px,#f3ee27 15.5px,#fdca26 26.5px,#f9973f 44.5px,#e76e5b 59.5px,#d24f71 70.5px,#bd3786 94.5px,#9410a2 153.5px,#7a02a8 191.5px,#4b03a1 263.5px,#38049a 311.5px,#260591 385.5px,#1b068d 443.5px,#100788 465.5px,#0d0887 468.5px,#0d0887 510.5px)"></i><i style="left:200px;width:2px;background:linear-gradient(#f0f921 0.5px,#f0f921 12.5px,#f4ed27 15.5px,#fdca26 26.5px,#f9983e 43.5px,#e3685f 61.5px,#cf4c74 73.5px,#b83289 99.5px,#9410a2 152.5px,#7801a8 194.5px,#4903a0 268.5px,#38049a 313.5px,#260591 386.5px,#1b068d 445.5px,#100788 467.5px,#0d0887 470.5px,#0d0887 510.5px)"></i><i style="left:202px;width:2px;background:linear-gradient(#f0f921 0.5px,#f0f921 12.5px,#f4ed27 15.5px,#fdca26 26.5px,#f9983e 43.5px,#e3685f 61.5px,#d04d73 73.5px,#b83289 99.5px,#9613a1 148.5px,#7b02a8 191.5px,#4c02a1 264.5px,#3a049a 308.5px,#260591 388.5px,#1b068d 447.5px,#100788 468.5px,#0d0887 471.5px,#0d0887 510.5px)"></i><i style="left:204px;width:2px;background:linear-gradient(#f0f921 0.5px,#f0f921 12.5px,#f4ed27 15.5px,#fdc827 26.5px,#f89540 44.5px,#e26660 62.5px,#d14e72 73.5px,#ba3388 98.5px,#9814a0 146.5px,#7d03a8 189.5px,#5002a2 259.5px,#3e049c 298.5px,#260591 389.5px,#1b068d 450.5px,#100788 470.5px,#0d0887 473.5px,#0d0887 510.5px)"></i><i style="left:206px;width:2px;background:linear-gradient(#f0f921 0.5px,#f0f921 12.5px,#f4ed27 15.5px,#fdc827 26.5px,#f9973f 43.5px,#e16462 63.5px,#cf4c74 75.5px,#b42e8d 106.5px,#920fa3 155.5px,#7801a8 196.5px,#48039f 274.5px,#310597 342.5px,#240691 405.5px,#1b068d 452.5px,#100788 472.5px,#0d0887 475.5px,#0d0887 510.5px)"></i><i style="left:208px;width:2px;background:linear-gradient(#f0f921 0.5px,#f0f921 12.5px,#f3f027 14.5px,#fdc827 26.5px,#f9973f 43.5px,#e06363 64.5px,#d04d73 75.5px,#b83289 101.5px,#9511a1 151.5px,#7a02a8 194.5px,#4b03a1 270.5px,#38049a 318.5px,#260591 395.5px,#1b068d 454.5px,#100788 474.5px,#0d0887 477.5px,#0d0887 510.5px)"></i><i style="left:210px;width:2px;background:linear-gradient(#f0f921 0.5px,#f0f921 12.5px,#f3f027 14.5px,#fdc827 26.5px,#f9973f 43.5px,#e26561 63.5px,#ce4b75 77.5px,#b22b8f 111.5px,#910ea3 159.5px,#7801a8 197.5px,#4b03a1 271.5px,#38049a 320.5px,#260591 397.5px,#1b068d 457.5px,#100788 475.5px,#0d0887 478.5px,#0d0887 510.5px)"></i><i style="left:212px;width:2px;background:linear-gradient(#f0f921 0.5px,#f0f724 12.5px,#f6e626 17.5px,#fdc527 27.5px,#f89441 44.5px,#df6263 65.5px,#cf4c74 77.5px,#b42e8d 109.5px,#920fa3 157.5px,#7801a8 198.5px,#4c02a1 269.5px,#3a049a 316.5px,#260591 398.5px,#1b068d 459.5px,#100788 477.5px,#0d0887 480.5px,#0d0887 510.5px)"></i><i style="left:214px;width:2px;background:linear-gradient(#f0f921 0.5px,#f0f724 12.5px,#f6e626 17.5px,#fdc527 27.5px,#f79342 45.5px,#da5a6a 69.5px,#c8437b 86.5px,#ab2494 123.5px,#8808a6 173.5px,#6a00a8 220.5px,#48039f 280.5px,#350498 336.5px,#240691 411.5px,#1b068d 461.5px,#100788 479.5px,#0d0887 482.5px,#0d0887 510.5px)"></i><i style="left:216px;width:2px;background:linear-gradient(#f0f921 0.5px,#f0f724 12.5px,#f6e626 17.5px,#fdc527 27.5px,#f79342 45.5px,#da5b69 69.5px,#c7427c 87.5px,#a01a9c 139.5px,#8004a8 187.5px,#5601a4 254.5px,#41049d 298.5px,#2a0593 382.5px,#1b068d 464.5px,#100788 480.5px,#0d0887 483.5px,#0d0887 510.5px)"></i><i style="left:218px;width:2px;background:linear-gradient(#f0f921 0.5px,#f0f724 12.5px,#f6e626 17.5px,#fdc527 27.5px,#f79342 45.5px,#d9586a 71.5px,#c7427c 88.5px,#a01a9c 140.5px,#8004a8 187.5px,#5601a4 255.5px,#41049d 299.5px,#2a0593 384.5px,#1d068e 458.5px,#16078a 475.5px,#0d0887 486.5px,#0d0887 510.5px)"></i><i style="left:220px;width:2px;background:linear-gradient(#f0f921 0.5px,#f0f724 12.5px,#f6e626 17.5px,#fdc527 27.5px,#f79143 46.5px,#d9586a 71.5px,#bd3786 101.5px,#9613a1 154.5px,#7d03a8 193.5px,#4e02a2 271.5px,#3a049a 321.5px,#260591 407.5px,#1b068d 468.5px,#100788 484.5px,#0d0887 487.5px,#0d0887 510.5px)"></i><i style="left:222px;width:2px;background:linear-gradient(#f0f921 0.5px,#f0f724 12.5px,#f6e626 17.5px,#fdc527 27.5px,#f89441 45.5px,#da5a6a 71.5px,#c5407e 92.5px,#9e199d 144.5px,#7e03a8 190.5px,#5102a3 266.5px,#3e049c 312.5px,#280592 398.5px,#1d068e 463.5px,#16078a 479.5px,#0d0887 488.5px,#0d0887 510.5px)"></i><i style="left:224px;width:2px;background:linear-gradient(#f0f921 0.5px,#f0f724 12.5px,#f6e626 17.5px,#fdc527 27.5px,#f89441 45.5px,#da5b69 71.5px,#c8437b 89.5px,#a01a9c 143.5px,#8104a7 187.5px,#5b01a5 249.5px,#43039e 299.5px,#2c0594 381.5px,#220690 442.5px,#19068c 478.5px,#0d0887 490.5px,#0d0887 510.5px)"></i><i style="left:226px;width:2px;background:linear-gradient(#f0f921 0.5px,#f0f724 12.5px,#f7e425 17.5px,#fdc527 27.5px,#f89441 45.5px,#da5a6a 72.5px,#bf3984 101.5px,#9613a1 156.5px,#7b02a8 196.5px,#4c02a1 277.5px,#3a049a 327.5px,#260591 411.5px,#1d068e 468.5px,#16078a 483.5px,#0d0887 491.5px,#0d0887 510.5px)"></i><i style="left:228px;width:2px;background:linear-gradient(#f0f921 0.5px,#f0f724 12.5px,#f7e425 17.5px,#fdc527 27.5px,#f79342 46.5px,#dd5e66 70.5px,#cc4778 86.5px,#a82296 133.5px,#8606a6 181.5px,#6600a7 232.5px,#46039f 293.5px,#330597 355.5px,#240691 426.5px,#1d068e 471.5px,#16078a 485.5px,#0d0887 493.5px,#0d0887 510.5px)"></i><i style="left:230px;width:2px;background:linear-gradient(#f0f921 0.5px,#f0f724 12.5px,#f7e425 17.5px,#fdc527 27.5px,#f79342 46.5px,#da5a6a 73.5px,#c13b82 100.5px,#9613a1 158.5px,#7d03a8 195.5px,#4e02a2 276.5px,#3a049a 330.5px,#260591 416.5px,#1d068e 473.5px,#16078a 487.5px,#0d0887 495.5px,#0d0887 510.5px)"></i></div></div>
<div class="hm" style="left:509.6px;top:35px;width:231.8px;height:510.8px"><div style="position:absolute;left:-0.6px;top:0px;width:233px;height:511px"><i style="left:0px;width:2px;background:linear-gradient(#fbe723 0.5px,#e2e418 8.5px,#d8e219 11.5px,#bade28 16.5px,#b2dd2d 17.5px,#93d741 19.5px,#58c765 22.5px,#2eb37c 24.5px,#21a685 25.5px,#1f998a 26.5px,#306a8e 29.5px,#355e8d 30.5px,#38588c 32.5px,#3c4f8a 56.5px,#3c4f8a 510.5px)"></i><i style="left:2px;width:2px;background:linear-gradient(#fbe723 0.5px,#e2e418 8.5px,#cde11d 13.5px,#bade28 16.5px,#a2da37 18.5px,#56c667 22.5px,#2cb17e 24.5px,#20a486 25.5px,#1f978b 26.5px,#31688e 29.5px,#365c8d 30.5px,#39568c 33.5px,#3c4f8a 55.5px,#3c4f8a 510.5px)"></i><i style="left:4px;width:2px;background:linear-gradient(#fbe723 0.5px,#e2e418 8.5px,#cae11f 13.5px,#b8de29 16.5px,#a0da39 18.5px,#54c568 22.5px,#2ab07f 24.5px,#20a386 25.5px,#1f968b 26.5px,#32658e 29.5px,#375a8c 30.5px,#3b518b 42.5px,#3c4f8a 510.5px)"></i><i style="left:6px;width:2px;background:linear-gradient(#f8e621 0.5px,#e2e418 8.5px,#cae11f 13.5px,#b5de2b 16.5px,#9dd93b 18.5px,#50c46a 22.5px,#28ae80 24.5px,#1fa187 25.5px,#1f948c 26.5px,#33638d 29.5px,#38598c 30.5px,#3c508b 44.5px,#3c4f8a 510.5px)"></i><i style="left:8px;width:2px;background:linear-gradient(#f8e621 0.5px,#e2e418 8.5px,#c8e020 13.5px,#b5de2b 16.5px,#89d548 19.5px,#4ec36b 22.5px,#27ad81 24.5px,#1fa188 25.5px,#20928c 26.5px,#34608d 29.5px,#39568c 30.5px,#3c4f8a 50.5px,#3c4f8a 510.5px)"></i><i style="left:10px;width:2px;background:linear-gradient(#f8e621 0.5px,#dfe318 8.5px,#c8e020 13.5px,#b2dd2d 16.5px,#a8db34 17.5px,#73d056 20.5px,#35b779 23.5px,#25ac82 24.5px,#1f9f88 25.5px,#27808e 27.5px,#355e8d 29.5px,#39558c 30.5px,#3c4f8a 52.5px,#3c4f8a 510.5px)"></i><i style="left:12px;width:2px;background:linear-gradient(#f6e620 0.5px,#dde318 8.5px,#c0df25 14.5px,#b2dd2d 16.5px,#84d44b 19.5px,#48c16e 22.5px,#24aa83 24.5px,#1e9d89 25.5px,#287d8e 27.5px,#306a8e 28.5px,#365c8d 29.5px,#39558c 30.5px,#3c4f8a 50.5px,#3c4f8a 510.5px)"></i><i style="left:14px;width:2px;background:linear-gradient(#f6e620 0.5px,#dfe318 7.5px,#c0df25 14.5px,#b0dd2f 16.5px,#81d34d 19.5px,#32b67a 23.5px,#23a983 24.5px,#1f998a 25.5px,#26818e 26.5px,#34608d 27.5px,#3f4889 28.5px,#3a548c 30.5px,#3c4f8a 61.5px,#3c4f8a 510.5px)"></i><i style="left:16px;width:2px;background:linear-gradient(#f6e620 0.5px,#e2e418 6.5px,#c8e020 12.5px,#b0dd2f 16.5px,#93d741 18.5px,#40bd72 22.5px,#2cb17e 23.5px,#20a386 24.5px,#1f948c 25.5px,#365d8d 28.5px,#3e4989 29.5px,#3c4f8a 61.5px,#3c4f8a 510.5px)"></i><i style="left:18px;width:2px;background:linear-gradient(#f4e61e 0.5px,#e7e419 4.5px,#d0e11c 10.5px,#bddf26 14.5px,#addc30 16.5px,#90d743 18.5px,#54c568 21.5px,#27ad81 23.5px,#1f9f88 24.5px,#27808e 26.5px,#365d8d 28.5px,#404688 29.5px,#424086 30.5px,#424086 37.5px,#3c4f8a 53.5px,#3c4f8a 510.5px)"></i><i style="left:20px;width:2px;background:linear-gradient(#f4e61e 0.5px,#e2e418 5.5px,#cae11f 11.5px,#addc30 16.5px,#8ed645 18.5px,#50c46a 21.5px,#26ad81 23.5px,#1f9e89 24.5px,#287d8e 26.5px,#3e4989 29.5px,#433d84 30.5px,#433d84 38.5px,#3c4f8a 54.5px,#3c4f8a 510.5px)"></i><i style="left:22px;width:2px;background:linear-gradient(#f4e61e 0.5px,#dde318 6.5px,#c0df25 13.5px,#aadc32 16.5px,#8bd646 18.5px,#4ec36b 21.5px,#37b878 22.5px,#25ac82 23.5px,#1e9d89 24.5px,#287d8e 26.5px,#3e4a89 29.5px,#433e85 30.5px,#443b84 37.5px,#3c4f8a 56.5px,#3c4f8a 510.5px)"></i><i style="left:24px;width:2px;background:linear-gradient(#f4e61e 0.5px,#dae319 6.5px,#c8e020 11.5px,#bade28 14.5px,#aadc32 16.5px,#75d054 19.5px,#35b779 22.5px,#25ab82 23.5px,#1e9d89 24.5px,#287c8e 26.5px,#38598c 28.5px,#423f85 30.5px,#443a83 31.5px,#433e85 41.5px,#3c4f8a 57.5px,#3c4f8a 510.5px)"></i><i style="left:26px;width:2px;background:linear-gradient(#f1e51d 0.5px,#e7e419 3.5px,#d5e21a 7.5px,#b8de29 14.5px,#b2dd2d 15.5px,#9bd93c 17.5px,#48c16e 21.5px,#32b67a 22.5px,#24aa83 23.5px,#1e9c89 24.5px,#287c8e 26.5px,#38598c 28.5px,#424186 30.5px,#443a83 31.5px,#433e85 41.5px,#3c4f8a 58.5px,#3c4f8a 510.5px)"></i><i style="left:28px;width:2px;background:linear-gradient(#f1e51d 0.5px,#dde318 5.5px,#d0e11c 8.5px,#b8de29 14.5px,#a8db34 16.5px,#84d44b 18.5px,#44bf70 21.5px,#31b57b 22.5px,#23a983 23.5px,#1e9c89 24.5px,#297b8e 26.5px,#38598c 28.5px,#414287 30.5px,#453882 32.5px,#433d84 40.5px,#3c4f8a 59.5px,#3c4f8a 510.5px)"></i><i style="left:30px;width:2px;background:linear-gradient(#f1e51d 0.5px,#dae319 5.5px,#bade28 13.5px,#b0dd2f 15.5px,#a5db36 16.5px,#81d34d 18.5px,#42be71 21.5px,#2fb47c 22.5px,#22a884 23.5px,#1e9b8a 24.5px,#297b8e 26.5px,#38598c 28.5px,#443b84 31.5px,#453781 35.5px,#3c4f8a 61.5px,#3c4f8a 510.5px)"></i><i style="left:32px;width:2px;background:linear-gradient(#efe51c 0.5px,#e5e419 3.5px,#d8e219 5.5px,#bade28 13.5px,#a5db36 16.5px,#7fd34e 18.5px,#3fbc73 21.5px,#22a785 23.5px,#1e9b8a 24.5px,#297b8e 26.5px,#38598c 28.5px,#433d84 31.5px,#453581 34.5px,#453581 38.5px,#3e4a89 55.5px,#3c4f8a 66.5px,#3c4f8a 510.5px)"></i><i style="left:34px;width:2px;background:linear-gradient(#efe51c 0.5px,#e5e419 3.5px,#d2e21b 6.5px,#b8de29 13.5px,#addc30 15.5px,#a2da37 16.5px,#93d741 17.5px,#3fbc73 21.5px,#2db27d 22.5px,#22a785 23.5px,#1f9a8a 24.5px,#30698e 27.5px,#38598c 28.5px,#433e85 31.5px,#453581 33.5px,#453581 39.5px,#3e4989 55.5px,#3c4f8a 65.5px,#3c4f8a 510.5px)"></i><i style="left:36px;width:2px;background:linear-gradient(#efe51c 0.5px,#d8e219 5.5px,#cae11f 8.5px,#b2dd2d 14.5px,#a2da37 16.5px,#7cd250 18.5px,#3dbc74 21.5px,#21a685 23.5px,#1f9a8a 24.5px,#297a8e 26.5px,#38598c 28.5px,#423f85 31.5px,#46337f 34.5px,#46327e 39.5px,#424186 48.5px,#3c4f8a 65.5px,#3c4f8a 510.5px)"></i><i style="left:38px;width:2px;background:linear-gradient(#ece51b 0.5px,#e2e418 3.5px,#d0e11c 6.5px,#b5de2b 13.5px,#aadc32 15.5px,#a0da39 16.5px,#65cb5e 19.5px,#2cb17e 22.5px,#21a685 23.5px,#1f9a8a 24.5px,#297a8e 26.5px,#38598c 28.5px,#423f85 31.5px,#46337f 34.5px,#46307e 40.5px,#424186 49.5px,#3c4f8a 66.5px,#3c4f8a 510.5px)"></i><i style="left:40px;width:2px;background:linear-gradient(#ece51b 0.5px,#e2e418 3.5px,#cae11f 7.5px,#bade28 12.5px,#a8db34 15.5px,#a0da39 16.5px,#7ad151 18.5px,#3bbb75 21.5px,#21a585 23.5px,#1f998a 24.5px,#31688e 27.5px,#38598c 28.5px,#443a83 32.5px,#46307e 36.5px,#472f7d 41.5px,#423f85 48.5px,#3c4f8a 67.5px,#3c4f8a 510.5px)"></i><i style="left:42px;width:2px;background:linear-gradient(#ece51b 0.5px,#dae319 4.5px,#cde11d 6.5px,#b8de29 12.5px,#b0dd2f 14.5px,#9dd93b 16.5px,#63cb5f 19.5px,#2ab07f 22.5px,#21a585 23.5px,#1f998a 24.5px,#31688e 27.5px,#38598c 28.5px,#424086 31.5px,#46307e 35.5px,#472e7c 42.5px,#433e85 48.5px,#3c4f8a 68.5px,#3c4f8a 510.5px)"></i><i style="left:44px;width:2px;background:linear-gradient(#ece51b 0.5px,#dfe318 3.5px,#cde11d 6.5px,#b2dd2d 13.5px,#a8db34 15.5px,#8bd646 17.5px,#3aba76 21.5px,#2ab07f 22.5px,#21a585 23.5px,#1f998a 24.5px,#31688e 27.5px,#38598c 28.5px,#443b84 32.5px,#472f7d 36.5px,#472c7a 42.5px,#433d84 49.5px,#3c4f8a 69.5px,#3c4f8a 510.5px)"></i><i style="left:46px;width:2px;background:linear-gradient(#eae51a 0.5px,#e5e419 2.5px,#d0e11c 5.5px,#addc30 14.5px,#9bd93c 16.5px,#60ca60 19.5px,#3aba76 21.5px,#2ab07f 22.5px,#20a486 23.5px,#1f988b 24.5px,#31688e 27.5px,#38598c 28.5px,#424186 31.5px,#472f7d 36.5px,#482979 43.5px,#443b84 49.5px,#3c4f8a 69.5px,#3c4f8a 510.5px)"></i><i style="left:48px;width:2px;background:linear-gradient(#eae51a 0.5px,#dde318 3.5px,#cae11f 6.5px,#b0dd2f 13.5px,#a5db36 15.5px,#89d548 17.5px,#38b977 21.5px,#29af7f 22.5px,#20a486 23.5px,#1f988b 24.5px,#31678e 27.5px,#3c4f8a 29.5px,#463480 34.5px,#482878 42.5px,#472a7a 45.5px,#443b84 50.5px,#3c4f8a 70.5px,#3c4f8a 510.5px)"></i><i style="left:50px;width:2px;background:linear-gradient(#eae51a 0.5px,#dde318 3.5px,#cde11d 5.5px,#aadc32 14.5px,#98d83e 16.5px,#5ec962 19.5px,#38b977 21.5px,#29af7f 22.5px,#20a386 23.5px,#238a8d 25.5px,#38598c 28.5px,#414287 31.5px,#472f7d 36.5px,#482677 44.5px,#472d7b 47.5px,#443b84 51.5px,#3c4f8a 71.5px,#3c4f8a 510.5px)"></i><i style="left:52px;width:2px;background:linear-gradient(#e7e419 0.5px,#e2e418 2.5px,#cde11d 5.5px,#b2dd2d 12.5px,#a2da37 15.5px,#86d549 17.5px,#37b878 21.5px,#28ae80 22.5px,#20a386 23.5px,#1f978b 24.5px,#31678e 27.5px,#3c4f8a 29.5px,#453581 34.5px,#482677 42.5px,#482677 46.5px,#443b84 52.5px,#3c4f8a 73.5px,#3c4f8a 510.5px)"></i><i style="left:54px;width:2px;background:linear-gradient(#e7e419 0.5px,#dae319 3.5px,#c2df23 7.5px,#b2dd2d 12.5px,#a0da39 15.5px,#95d840 16.5px,#5cc863 19.5px,#37b878 21.5px,#28ae80 22.5px,#20a386 23.5px,#1f978b 24.5px,#31678e 27.5px,#38598c 28.5px,#433e85 32.5px,#472e7c 37.5px,#482576 45.5px,#472a7a 48.5px,#443b84 53.5px,#3c4f8a 74.5px,#3c4f8a 510.5px)"></i><i style="left:56px;width:2px;background:linear-gradient(#e7e419 0.5px,#dfe318 2.5px,#c5e021 6.5px,#b5de2b 11.5px,#a8db34 14.5px,#95d840 16.5px,#48c16e 20.5px,#27ad81 22.5px,#1fa287 23.5px,#23898e 25.5px,#38598c 28.5px,#423f85 32.5px,#472e7c 37.5px,#482576 45.5px,#482677 48.5px,#443b84 54.5px,#3c4f8a 75.5px,#3c4f8a 510.5px)"></i><i style="left:58px;width:2px;background:linear-gradient(#e5e419 0.5px,#dfe318 2.5px,#cae11f 5.5px,#a5db36 14.5px,#a0da39 15.5px,#81d34d 17.5px,#35b779 21.5px,#27ad81 22.5px,#1fa287 23.5px,#23888e 25.5px,#38598c 28.5px,#423f85 32.5px,#472e7c 37.5px,#482475 47.5px,#453581 53.5px,#414487 62.5px,#3c4f8a 78.5px,#3c4f8a 510.5px)"></i><i style="left:60px;width:2px;background:linear-gradient(#e5e419 0.5px,#d8e219 3.5px,#c2df23 6.5px,#b2dd2d 11.5px,#a5db36 14.5px,#93d741 16.5px,#46c06f 20.5px,#26ad81 22.5px,#1fa187 23.5px,#23888e 25.5px,#38598c 28.5px,#423f85 32.5px,#472e7c 37.5px,#482475 47.5px,#472a7a 51.5px,#443a83 56.5px,#3c4f8a 76.5px,#3c4f8a 510.5px)"></i><i style="left:62px;width:2px;background:linear-gradient(#e5e419 0.5px,#dde318 2.5px,#c8e020 5.5px,#addc30 12.5px,#9dd93b 15.5px,#81d34d 17.5px,#35b779 21.5px,#27ad81 22.5px,#1fa187 23.5px,#23888e 25.5px,#38598c 28.5px,#424086 32.5px,#472d7b 38.5px,#482374 48.5px,#472f7d 54.5px,#423f85 63.5px,#3c4f8a 79.5px,#3c4f8a 510.5px)"></i><i style="left:64px;width:2px;background:linear-gradient(#e2e418 0.5px,#e2e418 1.5px,#cde11d 4.5px,#c5e021 5.5px,#a8db34 13.5px,#9bd93c 15.5px,#81d34d 17.5px,#37b878 21.5px,#27ad81 22.5px,#1fa287 23.5px,#23888e 25.5px,#38598c 28.5px,#424086 32.5px,#472e7c 38.5px,#482374 48.5px,#482979 54.5px,#433e85 65.5px,#3e4c8a 77.5px,#3c4f8a 81.5px,#3c4f8a 510.5px)"></i><i style="left:66px;width:2px;background:linear-gradient(#e2e418 0.5px,#dae319 2.5px,#c5e021 5.5px,#a2da37 14.5px,#90d743 16.5px,#5cc863 19.5px,#28ae80 22.5px,#1fa287 23.5px,#23888e 25.5px,#38598c 28.5px,#404688 31.5px,#46307e 37.5px,#482374 48.5px,#482677 54.5px,#433d84 65.5px,#3e4c8a 78.5px,#3c4f8a 82.5px,#3c4f8a 510.5px)"></i><i style="left:68px;width:2px;background:linear-gradient(#e2e418 0.5px,#dae319 2.5px,#c2df23 5.5px,#a5db36 13.5px,#9bd93c 15.5px,#81d34d 17.5px,#4cc26c 20.5px,#28ae80 22.5px,#1fa287 23.5px,#23888e 25.5px,#38598c 28.5px,#404688 31.5px,#46307e 37.5px,#482173 49.5px,#482979 56.5px,#433e85 67.5px,#3f4889 78.5px,#3c4f8a 81.5px,#3c4f8a 510.5px)"></i><i style="left:70px;width:2px;background:linear-gradient(#e2e418 0.5px,#dae319 2.5px,#c8e020 4.5px,#bade28 7.5px,#a0da39 14.5px,#81d34d 17.5px,#4cc26c 20.5px,#29af7f 22.5px,#20a386 23.5px,#23898e 25.5px,#38598c 28.5px,#424186 32.5px,#472d7b 39.5px,#482173 50.5px,#482979 57.5px,#433e85 68.5px,#3f4889 79.5px,#3c4f8a 82.5px,#3c4f8a 510.5px)"></i><i style="left:72px;width:2px;background:linear-gradient(#dfe318 0.5px,#d8e219 2.5px,#c0df25 5.5px,#a8db34 12.5px,#98d83e 15.5px,#7fd34e 17.5px,#4cc26c 20.5px,#29af7f 22.5px,#20a386 23.5px,#23898e 25.5px,#375a8c 28.5px,#3f4788 31.5px,#46327e 37.5px,#482071 51.5px,#472a7a 58.5px,#443b84 67.5px,#3e4989 80.5px,#3c4f8a 82.5px,#3c4f8a 510.5px)"></i><i style="left:74px;width:2px;background:linear-gradient(#dfe318 0.5px,#d8e219 2.5px,#c5e021 4.5px,#b8de29 7.5px,#a8db34 12.5px,#8ed645 16.5px,#4cc26c 20.5px,#29af7f 22.5px,#20a386 23.5px,#23898e 25.5px,#375a8c 28.5px,#3f4788 31.5px,#46307e 38.5px,#482071 51.5px,#482878 58.5px,#433d84 68.5px,#3e4c8a 81.5px,#3c4f8a 85.5px,#3c4f8a 510.5px)"></i><i style="left:76px;width:2px;background:linear-gradient(#dfe318 0.5px,#d8e219 2.5px,#c5e021 4.5px,#b8de29 7.5px,#9dd93b 14.5px,#7fd34e 17.5px,#3aba76 21.5px,#29af7f 22.5px,#20a386 23.5px,#23898e 25.5px,#375a8c 28.5px,#3f4788 31.5px,#46307e 38.5px,#482071 51.5px,#482374 56.5px,#443b84 68.5px,#3e4989 81.5px,#3c4f8a 84.5px,#3c4f8a 510.5px)"></i><i style="left:78px;width:2px;background:linear-gradient(#dde318 0.5px,#dde318 1.5px,#bddf26 5.5px,#a0da39 13.5px,#95d840 15.5px,#7cd250 17.5px,#3aba76 21.5px,#29af7f 22.5px,#20a386 23.5px,#23898e 25.5px,#375a8c 28.5px,#3f4788 31.5px,#472f7d 39.5px,#481f70 52.5px,#482576 58.5px,#433d84 69.5px,#3e4a89 82.5px,#3c4f8a 86.5px,#3c4f8a 510.5px)"></i><i style="left:80px;width:2px;background:linear-gradient(#dde318 0.5px,#d5e21a 2.5px,#c2df23 4.5px,#b5de2b 7.5px,#9bd93c 14.5px,#7cd250 17.5px,#3aba76 21.5px,#29af7f 22.5px,#20a386 23.5px,#23898e 25.5px,#375a8c 28.5px,#3d4d8a 30.5px,#463480 37.5px,#481f70 51.5px,#482173 57.5px,#443b84 69.5px,#3c4f8a 87.5px,#3c4f8a 510.5px)"></i><i style="left:82px;width:2px;background:linear-gradient(#dde318 0.5px,#d5e21a 2.5px,#bade28 5.5px,#a2da37 12.5px,#93d741 15.5px,#7cd250 17.5px,#3aba76 21.5px,#29af7f 22.5px,#20a386 23.5px,#23898e 25.5px,#375b8d 28.5px,#3b518b 29.5px,#453781 36.5px,#481f70 51.5px,#482173 58.5px,#433d84 70.5px,#3c4f8a 88.5px,#3c4f8a 510.5px)"></i><i style="left:84px;width:2px;background:linear-gradient(#dae319 0.5px,#dae319 1.5px,#c0df25 4.5px,#b2dd2d 7.5px,#a2da37 12.5px,#89d548 16.5px,#4cc26c 20.5px,#29af7f 22.5px,#20a386 23.5px,#238a8d 25.5px,#375b8d 28.5px,#3b518b 29.5px,#443a83 35.5px,#482475 47.5px,#481d6f 56.5px,#443b84 70.5px,#3c4f8a 88.5px,#3c4f8a 510.5px)"></i><i style="left:86px;width:2px;background:linear-gradient(#dae319 0.5px,#d2e21b 2.5px,#b8de29 5.5px,#9dd93b 13.5px,#86d549 16.5px,#6ccd5a 18.5px,#3aba76 21.5px,#29af7f 22.5px,#20a386 23.5px,#238a8d 25.5px,#375b8d 28.5px,#3b518b 29.5px,#453581 37.5px,#481d6f 53.5px,#481f70 58.5px,#443a83 70.5px,#3c4f8a 89.5px,#3c4f8a 510.5px)"></i><i style="left:88px;width:2px;background:linear-gradient(#dae319 0.5px,#d2e21b 2.5px,#bddf26 4.5px,#b0dd2f 7.5px,#a0da39 12.5px,#90d743 15.5px,#7ad151 17.5px,#3aba76 21.5px,#29af7f 22.5px,#20a386 23.5px,#238a8d 25.5px,#375b8d 28.5px,#3d4d8a 30.5px,#46337f 38.5px,#481c6e 56.5px,#482475 61.5px,#443b84 71.5px,#3c4f8a 90.5px,#3c4f8a 510.5px)"></i><i style="left:90px;width:2px;background:linear-gradient(#d8e219 0.5px,#d8e219 1.5px,#b5de2b 5.5px,#a2da37 11.5px,#95d840 14.5px,#86d549 16.5px,#4ac16d 20.5px,#29af7f 22.5px,#20a386 23.5px,#238a8d 25.5px,#375b8d 28.5px,#3d4e8a 30.5px,#443983 36.5px,#482677 46.5px,#481c6e 56.5px,#482173 61.5px,#433d84 72.5px,#3d4e8a 90.5px,#3c4f8a 510.5px)"></i><i style="left:92px;width:2px;background:linear-gradient(#d8e219 0.5px,#d0e11c 2.5px,#bade28 4.5px,#a8db34 9.5px,#9dd93b 12.5px,#8ed645 15.5px,#69cd5b 18.5px,#38b977 21.5px,#29af7f 22.5px,#20a386 23.5px,#238a8d 25.5px,#365c8d 28.5px,#3b528b 29.5px,#443b84 35.5px,#482576 47.5px,#481c6e 56.5px,#482374 62.5px,#443b84 72.5px,#3d4e8a 90.5px,#3c4f8a 510.5px)"></i><i style="left:94px;width:2px;background:linear-gradient(#d8e219 0.5px,#d5e21a 1.5px,#bade28 4.5px,#addc30 7.5px,#9dd93b 12.5px,#84d44b 16.5px,#5ac864 19.5px,#29af7f 22.5px,#20a386 23.5px,#238a8d 25.5px,#365c8d 28.5px,#3b528b 29.5px,#453781 37.5px,#481c6e 54.5px,#481c6e 59.5px,#443b84 73.5px,#3d4e8a 91.5px,#3c4f8a 510.5px)"></i><i style="left:96px;width:2px;background:linear-gradient(#d8e219 0.5px,#d5e21a 1.5px,#b8de29 4.5px,#93d741 14.5px,#75d054 17.5px,#4ac16d 20.5px,#29af7f 22.5px,#20a386 23.5px,#238a8d 25.5px,#365c8d 28.5px,#3b528b 29.5px,#453781 37.5px,#481c6e 54.5px,#481d6f 60.5px,#433d84 74.5px,#3d4e8a 92.5px,#3c4f8a 510.5px)"></i><i style="left:98px;width:2px;background:linear-gradient(#d5e21a 0.5px,#d2e21b 1.5px,#b8de29 4.5px,#aadc32 7.5px,#9bd93c 12.5px,#8bd646 15.5px,#67cc5c 18.5px,#38b977 21.5px,#29af7f 22.5px,#20a386 23.5px,#238a8d 25.5px,#365c8d 28.5px,#3b528b 29.5px,#453781 37.5px,#481d6f 54.5px,#481c6e 59.5px,#472f7d 68.5px,#433e85 76.5px,#3d4e8a 93.5px,#3c4f8a 510.5px)"></i><i style="left:100px;width:2px;background:linear-gradient(#d5e21a 0.5px,#d2e21b 1.5px,#b5de2b 4.5px,#90d743 14.5px,#81d34d 16.5px,#4ac16d 20.5px,#29af7f 22.5px,#20a386 23.5px,#228b8d 25.5px,#365c8d 28.5px,#3b528b 29.5px,#453781 37.5px,#481d6f 54.5px,#481c6e 60.5px,#433d84 75.5px,#3d4e8a 93.5px,#3c4f8a 510.5px)"></i><i style="left:102px;width:2px;background:linear-gradient(#d5e21a 0.5px,#c8e020 2.5px,#b5de2b 4.5px,#a2da37 9.5px,#98d83e 12.5px,#89d548 15.5px,#67cc5c 18.5px,#38b977 21.5px,#29af7f 22.5px,#20a386 23.5px,#228b8d 25.5px,#365d8d 28.5px,#3b528b 29.5px,#453781 37.5px,#481b6d 56.5px,#481f70 62.5px,#443b84 75.5px,#3d4e8a 94.5px,#3c4f8a 510.5px)"></i><i style="left:104px;width:2px;background:linear-gradient(#d2e21b 0.5px,#d0e11c 1.5px,#b2dd2d 4.5px,#93d741 13.5px,#7fd34e 16.5px,#48c16e 20.5px,#29af7f 22.5px,#20a386 23.5px,#228b8d 25.5px,#365d8d 28.5px,#3b528b 29.5px,#453781 37.5px,#481b6d 56.5px,#482071 63.5px,#433d84 76.5px,#3d4e8a 95.5px,#3c4f8a 510.5px)"></i><i style="left:106px;width:2px;background:linear-gradient(#d2e21b 0.5px,#c5e021 2.5px,#b2dd2d 4.5px,#8ed645 14.5px,#7fd34e 16.5px,#48c16e 20.5px,#29af7f 22.5px,#20a386 23.5px,#228b8d 25.5px,#365d8d 28.5px,#3d4e8a 30.5px,#453882 37.5px,#482071 52.5px,#481b6d 59.5px,#482576 66.5px,#443b84 76.5px,#3d4e8a 95.5px,#3c4f8a 510.5px)"></i><i style="left:108px;width:2px;background:linear-gradient(#d2e21b 0.5px,#cde11d 1.5px,#b0dd2f 4.5px,#90d743 13.5px,#86d549 15.5px,#65cb5e 18.5px,#38b977 21.5px,#29af7f 22.5px,#20a386 23.5px,#228b8d 25.5px,#365d8d 28.5px,#3d4e8a 30.5px,#46337f 39.5px,#481b6d 57.5px,#482071 64.5px,#443a83 76.5px,#3d4e8a 96.5px,#3c4f8a 510.5px)"></i><i style="left:110px;width:2px;background:linear-gradient(#d0e11c 0.5px,#c2df23 2.5px,#b0dd2f 4.5px,#8bd646 14.5px,#7cd250 16.5px,#56c667 19.5px,#29af7f 22.5px,#20a386 23.5px,#228b8d 25.5px,#355e8d 28.5px,#3a538b 29.5px,#443a83 36.5px,#482475 49.5px,#481a6c 59.5px,#482576 67.5px,#443b84 78.5px,#3d4e8a 97.5px,#3c4f8a 510.5px)"></i><i style="left:112px;width:2px;background:linear-gradient(#d0e11c 0.5px,#cae11f 1.5px,#addc30 4.5px,#93d741 12.5px,#84d44b 15.5px,#70cf57 17.5px,#38b977 21.5px,#29af7f 22.5px,#20a386 23.5px,#228b8d 25.5px,#355e8d 28.5px,#3a538b 29.5px,#453882 37.5px,#481b6d 56.5px,#481c6e 62.5px,#433d84 79.5px,#3d4e8a 98.5px,#3c4f8a 510.5px)"></i><i style="left:114px;width:2px;background:linear-gradient(#cde11d 0.5px,#c0df25 2.5px,#addc30 4.5px,#8ed645 13.5px,#7ad151 16.5px,#48c16e 20.5px,#29af7f 22.5px,#20a386 23.5px,#228b8d 25.5px,#355e8d 28.5px,#3a538b 29.5px,#453882 37.5px,#481b6d 56.5px,#481c6e 63.5px,#443b84 79.5px,#3d4e8a 99.5px,#3c4f8a 510.5px)"></i><i style="left:116px;width:2px;background:linear-gradient(#cde11d 0.5px,#c8e020 1.5px,#addc30 4.5px,#89d548 14.5px,#7ad151 16.5px,#48c16e 20.5px,#29af7f 22.5px,#20a386 23.5px,#228b8d 25.5px,#3a538b 29.5px,#453882 37.5px,#481b6d 56.5px,#481c6e 63.5px,#433d84 81.5px,#3d4e8a 100.5px,#3c4f8a 510.5px)"></i><i style="left:118px;width:2px;background:linear-gradient(#cde11d 0.5px,#c8e020 1.5px,#aadc32 4.5px,#90d743 12.5px,#7ad151 16.5px,#48c16e 20.5px,#29af7f 22.5px,#20a386 23.5px,#228b8d 25.5px,#355f8d 28.5px,#3a548c 29.5px,#433e85 35.5px,#472a7a 45.5px,#481a6c 59.5px,#481f70 66.5px,#443b84 81.5px,#3d4e8a 101.5px,#3c4f8a 510.5px)"></i><i style="left:120px;width:2px;background:linear-gradient(#cae11f 0.5px,#bddf26 2.5px,#aadc32 4.5px,#8bd646 13.5px,#81d34d 15.5px,#63cb5f 18.5px,#38b977 21.5px,#29af7f 22.5px,#20a386 23.5px,#228b8d 25.5px,#355f8d 28.5px,#3a548c 29.5px,#433e85 35.5px,#472a7a 45.5px,#481a6c 59.5px,#482071 67.5px,#433d84 83.5px,#3d4e8a 101.5px,#3c4f8a 510.5px)"></i><i style="left:122px;width:2px;background:linear-gradient(#c8e020 0.5px,#c2df23 1.5px,#b0dd2f 3.5px,#a2da37 6.5px,#90d743 12.5px,#81d34d 15.5px,#63cb5f 18.5px,#38b977 21.5px,#28ae80 22.5px,#20a386 23.5px,#228b8d 25.5px,#3a548c 29.5px,#443983 37.5px,#482173 52.5px,#481a6c 60.5px,#482071 68.5px,#443a83 82.5px,#3d4e8a 102.5px,#3c4f8a 510.5px)"></i><i style="left:124px;width:2px;background:linear-gradient(#c5e021 0.5px,#b0dd2f 3.5px,#a2da37 6.5px,#8bd646 13.5px,#81d34d 15.5px,#6ece58 17.5px,#38b977 21.5px,#28ae80 22.5px,#20a386 23.5px,#228b8d 25.5px,#34608d 28.5px,#3c508b 30.5px,#453781 38.5px,#481a6c 58.5px,#481d6f 67.5px,#443b84 84.5px,#3d4e8a 103.5px,#3c4f8a 510.5px)"></i><i style="left:126px;width:2px;background:linear-gradient(#c5e021 0.5px,#a8db34 4.5px,#93d741 11.5px,#7fd34e 15.5px,#6ece58 17.5px,#38b977 21.5px,#28ae80 22.5px,#20a386 23.5px,#228b8d 25.5px,#39558c 29.5px,#443b84 36.5px,#482576 49.5px,#481a6c 60.5px,#481d6f 67.5px,#443b84 85.5px,#3d4e8a 104.5px,#3c4f8a 510.5px)"></i><i style="left:128px;width:2px;background:linear-gradient(#c5e021 0.5px,#bade28 1.5px,#a8db34 4.5px,#8bd646 13.5px,#6ece58 17.5px,#38b977 21.5px,#28ae80 22.5px,#1fa287 23.5px,#228b8d 25.5px,#34618d 28.5px,#3c508b 30.5px,#453781 38.5px,#481a6c 59.5px,#481c6e 66.5px,#433d84 86.5px,#3d4e8a 105.5px,#3c4f8a 510.5px)"></i><i style="left:130px;width:2px;background:linear-gradient(#c2df23 0.5px,#addc30 3.5px,#a0da39 6.5px,#8ed645 12.5px,#77d153 16.5px,#54c568 19.5px,#38b977 21.5px,#28ae80 22.5px,#1fa287 23.5px,#228b8d 25.5px,#39568c 29.5px,#414287 34.5px,#472e7c 43.5px,#48186a 61.5px,#482071 70.5px,#443a83 85.5px,#3d4e8a 105.5px,#3c4f8a 510.5px)"></i><i style="left:132px;width:2px;background:linear-gradient(#c2df23 0.5px,#addc30 3.5px,#a0da39 6.5px,#8ed645 12.5px,#77d153 16.5px,#46c06f 20.5px,#28ae80 22.5px,#1fa287 23.5px,#238a8d 25.5px,#39568c 29.5px,#414287 34.5px,#472e7c 43.5px,#48186a 61.5px,#482173 71.5px,#433d84 87.5px,#3d4e8a 106.5px,#3c4f8a 510.5px)"></i><i style="left:134px;width:2px;background:linear-gradient(#c2df23 0.5px,#a5db36 4.5px,#8ed645 12.5px,#77d153 16.5px,#46c06f 20.5px,#28ae80 22.5px,#1fa287 23.5px,#238a8d 25.5px,#38588c 29.5px,#414287 34.5px,#472d7b 44.5px,#48186a 61.5px,#481f70 70.5px,#443a83 86.5px,#3d4e8a 106.5px,#3c4f8a 510.5px)"></i><i style="left:136px;width:2px;background:linear-gradient(#c0df25 0.5px,#aadc32 3.5px,#89d548 13.5px,#7fd34e 15.5px,#54c568 19.5px,#38b977 21.5px,#28ae80 22.5px,#1fa287 23.5px,#238a8d 25.5px,#38588c 29.5px,#414287 34.5px,#472d7b 44.5px,#48186a 61.5px,#481f70 70.5px,#443b84 87.5px,#3d4e8a 107.5px,#3c4f8a 510.5px)"></i><i style="left:138px;width:2px;background:linear-gradient(#c0df25 0.5px,#aadc32 3.5px,#98d83e 8.5px,#84d44b 14.5px,#75d054 16.5px,#54c568 19.5px,#28ae80 22.5px,#1fa287 23.5px,#238a8d 25.5px,#38588c 29.5px,#414287 34.5px,#472c7a 45.5px,#48186a 61.5px,#481c6e 69.5px,#443a83 87.5px,#3d4e8a 107.5px,#3c4f8a 510.5px)"></i><i style="left:140px;width:2px;background:linear-gradient(#c0df25 0.5px,#aadc32 3.5px,#9dd93b 6.5px,#89d548 13.5px,#6ccd5a 17.5px,#46c06f 20.5px,#28ae80 22.5px,#1fa287 23.5px,#238a8d 25.5px,#38598c 29.5px,#3e4989 32.5px,#463480 40.5px,#48186a 60.5px,#481c6e 69.5px,#443b84 88.5px,#3d4e8a 107.5px,#3c4f8a 510.5px)"></i><i style="left:142px;width:2px;background:linear-gradient(#bddf26 0.5px,#a8db34 3.5px,#8bd646 12.5px,#7cd250 15.5px,#60ca60 18.5px,#37b878 21.5px,#28ae80 22.5px,#1fa287 23.5px,#238a8d 25.5px,#38598c 29.5px,#3d4e8a 31.5px,#463480 40.5px,#48186a 61.5px,#481c6e 69.5px,#443a83 88.5px,#3d4e8a 108.5px,#3c4f8a 510.5px)"></i><i style="left:144px;width:2px;background:linear-gradient(#bddf26 0.5px,#a8db34 3.5px,#86d549 13.5px,#75d054 16.5px,#54c568 19.5px,#28ae80 22.5px,#1fa287 23.5px,#238a8d 25.5px,#375a8c 29.5px,#3e4a89 32.5px,#46337f 41.5px,#48186a 61.5px,#481c6e 70.5px,#443a83 88.5px,#3d4e8a 108.5px,#3c4f8a 510.5px)"></i><i style="left:146px;width:2px;background:linear-gradient(#bade28 0.5px,#a2da37 4.5px,#8bd646 12.5px,#75d054 16.5px,#54c568 19.5px,#28ae80 22.5px,#1fa187 23.5px,#238a8d 25.5px,#375a8c 29.5px,#3e4a89 32.5px,#46337f 41.5px,#48186a 61.5px,#481b6d 69.5px,#433d84 90.5px,#3d4e8a 109.5px,#3c4f8a 510.5px)"></i><i style="left:148px;width:2px;background:linear-gradient(#bade28 0.5px,#a2da37 4.5px,#86d549 13.5px,#75d054 16.5px,#46c06f 20.5px,#28ae80 22.5px,#1fa187 23.5px,#23898e 25.5px,#375a8c 29.5px,#3e4a89 32.5px,#46337f 41.5px,#481769 63.5px,#482071 73.5px,#443b84 90.5px,#3d4d8a 108.5px,#3c4f8a 510.5px)"></i><i style="left:150px;width:2px;background:linear-gradient(#bade28 0.5px,#a5db36 3.5px,#86d549 13.5px,#75d054 16.5px,#46c06f 20.5px,#28ae80 22.5px,#1fa187 23.5px,#23898e 25.5px,#375b8d 29.5px,#3b528b 30.5px,#453882 39.5px,#481a6c 59.5px,#48186a 67.5px,#482979 79.5px,#433e85 93.5px,#3d4d8a 109.5px,#3c4f8a 510.5px)"></i><i style="left:152px;width:2px;background:linear-gradient(#b8de29 0.5px,#a0da39 4.5px,#86d549 13.5px,#69cd5b 17.5px,#46c06f 20.5px,#28ae80 22.5px,#1fa187 23.5px,#23898e 25.5px,#375b8d 29.5px,#3e4c8a 32.5px,#463480 41.5px,#48186a 61.5px,#481a6c 69.5px,#443b84 91.5px,#3d4d8a 109.5px,#3c4f8a 510.5px)"></i><i style="left:154px;width:2px;background:linear-gradient(#b8de29 0.5px,#a0da39 4.5px,#89d548 12.5px,#7ad151 15.5px,#5ec962 18.5px,#37b878 21.5px,#28ae80 22.5px,#1fa187 23.5px,#277e8e 26.5px,#375b8d 29.5px,#3e4c8a 32.5px,#463480 41.5px,#481769 64.5px,#481f70 74.5px,#443b84 91.5px,#3d4d8a 109.5px,#3c4f8a 510.5px)"></i><i style="left:156px;width:2px;background:linear-gradient(#b8de29 0.5px,#a0da39 4.5px,#89d548 12.5px,#73d056 16.5px,#46c06f 20.5px,#28ae80 22.5px,#1fa187 23.5px,#277e8e 26.5px,#365c8d 29.5px,#3c4f8a 31.5px,#453581 40.5px,#481769 64.5px,#481d6f 73.5px,#443a83 91.5px,#3d4d8a 110.5px,#3c4f8a 510.5px)"></i><i style="left:158px;width:2px;background:linear-gradient(#b5de2b 0.5px,#a2da37 3.5px,#84d44b 13.5px,#73d056 16.5px,#46c06f 20.5px,#27ad81 22.5px,#1fa187 23.5px,#277e8e 26.5px,#365c8d 29.5px,#3c4f8a 31.5px,#453781 40.5px,#48186a 61.5px,#481a6c 70.5px,#443b84 92.5px,#3d4d8a 110.5px,#3c4f8a 510.5px)"></i><i style="left:160px;width:2px;background:linear-gradient(#b5de2b 0.5px,#a2da37 3.5px,#84d44b 13.5px,#73d056 16.5px,#46c06f 20.5px,#27ad81 22.5px,#1fa187 23.5px,#277e8e 26.5px,#365c8d 29.5px,#3f4889 33.5px,#46307e 43.5px,#481769 64.5px,#481c6e 73.5px,#443a83 91.5px,#3d4d8a 110.5px,#3c4f8a 510.5px)"></i><i style="left:162px;width:2px;background:linear-gradient(#b5de2b 0.5px,#9dd93b 4.5px,#84d44b 13.5px,#73d056 16.5px,#46c06f 20.5px,#27ad81 22.5px,#1fa187 23.5px,#277e8e 26.5px,#3a548c 30.5px,#433e85 37.5px,#472c7a 47.5px,#481769 64.5px,#481c6e 73.5px,#443b84 92.5px,#3d4d8a 110.5px,#3c4f8a 510.5px)"></i><i style="left:164px;width:2px;background:linear-gradient(#b2dd2d 0.5px,#9bd93c 5.5px,#7fd34e 14.5px,#69cd5b 17.5px,#46c06f 20.5px,#27ad81 22.5px,#1fa187 23.5px,#277e8e 26.5px,#3a548c 30.5px,#443b84 38.5px,#482878 50.5px,#481769 64.5px,#481b6d 73.5px,#443b84 92.5px,#3d4d8a 111.5px,#3c4f8a 510.5px)"></i><i style="left:166px;width:2px;background:linear-gradient(#b2dd2d 0.5px,#a0da39 3.5px,#86d549 12.5px,#77d153 15.5px,#69cd5b 17.5px,#46c06f 20.5px,#27ad81 22.5px,#1fa188 23.5px,#277e8e 26.5px,#365d8d 29.5px,#3d4d8a 32.5px,#46337f 42.5px,#481769 64.5px,#481a6c 72.5px,#443983 91.5px,#3d4d8a 110.5px,#3c4f8a 510.5px)"></i><i style="left:168px;width:2px;background:linear-gradient(#b2dd2d 0.5px,#a0da39 3.5px,#81d34d 13.5px,#70cf57 16.5px,#52c569 19.5px,#37b878 21.5px,#27ad81 22.5px,#1fa188 23.5px,#277e8e 26.5px,#39558c 30.5px,#443b84 38.5px,#482475 53.5px,#481668 66.5px,#482071 77.5px,#443a83 92.5px,#3d4d8a 111.5px,#3c4f8a 510.5px)"></i><i style="left:170px;width:2px;background:linear-gradient(#b0dd2f 0.5px,#98d83e 5.5px,#81d34d 13.5px,#70cf57 16.5px,#44bf70 20.5px,#27ad81 22.5px,#1fa188 23.5px,#277e8e 26.5px,#39558c 30.5px,#443b84 38.5px,#482475 53.5px,#481668 66.5px,#481f70 76.5px,#443b84 93.5px,#3d4d8a 111.5px,#3c4f8a 510.5px)"></i><i style="left:172px;width:2px;background:linear-gradient(#b0dd2f 0.5px,#98d83e 5.5px,#81d34d 13.5px,#70cf57 16.5px,#44bf70 20.5px,#27ad81 22.5px,#1fa188 23.5px,#277e8e 26.5px,#39558c 30.5px,#443b84 38.5px,#482173 55.5px,#481668 67.5px,#481d6f 76.5px,#443b84 93.5px,#3d4d8a 111.5px,#3c4f8a 510.5px)"></i><i style="left:174px;width:2px;background:linear-gradient(#b0dd2f 0.5px,#9dd93b 3.5px,#7cd250 14.5px,#67cc5c 17.5px,#44bf70 20.5px,#27ad81 22.5px,#1fa188 23.5px,#277e8e 26.5px,#39568c 30.5px,#423f85 37.5px,#482979 49.5px,#481668 66.5px,#481c6e 75.5px,#443b84 93.5px,#3d4d8a 112.5px,#3c4f8a 510.5px)"></i><i style="left:176px;width:2px;background:linear-gradient(#addc30 0.5px,#9bd93c 4.5px,#84d44b 12.5px,#70cf57 16.5px,#44bf70 20.5px,#28ae80 22.5px,#1fa287 23.5px,#23898e 25.5px,#39568c 30.5px,#423f85 37.5px,#482979 49.5px,#481668 66.5px,#481b6d 75.5px,#443983 92.5px,#3d4d8a 111.5px,#3c4f8a 510.5px)"></i><i style="left:178px;width:2px;background:linear-gradient(#addc30 0.5px,#95d840 5.5px,#7cd250 14.5px,#67cc5c 17.5px,#38b977 21.5px,#29af7f 22.5px,#20a386 23.5px,#228b8d 25.5px,#38588c 30.5px,#3f4788 34.5px,#46307e 44.5px,#481668 66.5px,#481b6d 75.5px,#443a83 93.5px,#3d4d8a 112.5px,#3c4f8a 510.5px)"></i><i style="left:180px;width:2px;background:linear-gradient(#addc30 0.5px,#a0da39 2.5px,#7fd34e 13.5px,#67cc5c 17.5px,#38b977 21.5px,#29af7f 22.5px,#20a486 23.5px,#228d8d 25.5px,#38588c 30.5px,#3f4788 34.5px,#472f7d 45.5px,#481668 67.5px,#481a6c 74.5px,#443a83 93.5px,#3d4d8a 112.5px,#3c4f8a 510.5px)"></i><i style="left:182px;width:2px;background:linear-gradient(#aadc32 0.5px,#95d840 5.5px,#7fd34e 13.5px,#6ece58 16.5px,#50c46a 19.5px,#2ab07f 22.5px,#21a585 23.5px,#1f9a8a 24.5px,#2e6e8e 28.5px,#3b518b 31.5px,#453882 40.5px,#481668 67.5px,#481b6d 76.5px,#443983 92.5px,#3d4d8a 112.5px,#3c4f8a 510.5px)"></i><i style="left:184px;width:2px;background:linear-gradient(#aadc32 0.5px,#98d83e 4.5px,#7fd34e 13.5px,#6ece58 16.5px,#50c46a 19.5px,#2ab07f 22.5px,#21a685 23.5px,#1e9b8a 24.5px,#2e6f8e 28.5px,#3b528b 31.5px,#453882 40.5px,#481668 67.5px,#481a6c 75.5px,#443a83 93.5px,#3e4c8a 111.5px,#3c4f8a 510.5px)"></i><i style="left:186px;width:2px;background:linear-gradient(#aadc32 0.5px,#98d83e 4.5px,#7ad151 14.5px,#65cb5e 17.5px,#38b977 21.5px,#22a785 23.5px,#1e9c89 24.5px,#2d718e 28.5px,#375a8c 30.5px,#3e4a89 33.5px,#46307e 44.5px,#481467 68.5px,#481d6f 78.5px,#443983 93.5px,#3e4a89 109.5px,#3c4f8a 414.5px,#3c4f8a 510.5px)"></i><i style="left:188px;width:2px;background:linear-gradient(#a8db34 0.5px,#93d741 5.5px,#7ad151 14.5px,#65cb5e 17.5px,#38b977 21.5px,#22a884 23.5px,#1f9e89 24.5px,#2c718e 28.5px,#3b528b 31.5px,#453882 40.5px,#481467 68.5px,#481a6c 76.5px,#443983 93.5px,#3e4c8a 111.5px,#3c4f8a 510.5px)"></i><i style="left:190px;width:2px;background:linear-gradient(#a8db34 0.5px,#93d741 5.5px,#7ad151 14.5px,#65cb5e 17.5px,#38b977 21.5px,#23a983 23.5px,#1f9f88 24.5px,#2c738e 28.5px,#3a538b 31.5px,#443a83 39.5px,#482071 57.5px,#481467 70.5px,#482173 81.5px,#433d84 96.5px,#3d4d8a 114.5px,#3c4f8a 510.5px)"></i><i style="left:192px;width:2px;background:linear-gradient(#a5db36 0.5px,#93d741 5.5px,#7cd250 13.5px,#6ece58 16.5px,#38b977 21.5px,#23a983 23.5px,#1f958b 25.5px,#355e8d 30.5px,#3c4f8a 32.5px,#46337f 43.5px,#481467 68.5px,#481769 76.5px,#443983 94.5px,#3e4c8a 113.5px,#3c4f8a 510.5px)"></i><i style="left:194px;width:2px;background:linear-gradient(#a5db36 0.5px,#93d741 5.5px,#7cd250 13.5px,#65cb5e 17.5px,#38b977 21.5px,#24aa83 23.5px,#1f968b 25.5px,#2f6c8e 29.5px,#39558c 31.5px,#433e85 38.5px,#472c7a 48.5px,#471365 70.5px,#481769 78.5px,#453781 93.5px,#3e4c8a 112.5px,#3c4f8a 510.5px)"></i><i style="left:196px;width:2px;background:linear-gradient(#a5db36 0.5px,#98d83e 3.5px,#77d153 14.5px,#63cb5f 17.5px,#38b977 21.5px,#25ab82 23.5px,#1f988b 25.5px,#33628d 30.5px,#3c508b 32.5px,#453781 41.5px,#471365 69.5px,#481467 77.5px,#482979 87.5px,#433e85 98.5px,#3e4c8a 114.5px,#3c4f8a 510.5px)"></i><i style="left:198px;width:2px;background:linear-gradient(#a2da37 0.5px,#8bd646 7.5px,#77d153 14.5px,#63cb5f 17.5px,#38b977 21.5px,#25ab82 23.5px,#1f998a 25.5px,#2d718e 29.5px,#38598c 31.5px,#3d4e8a 33.5px,#453581 42.5px,#471164 70.5px,#471164 77.5px,#482677 87.5px,#443a83 96.5px,#3e4a89 111.5px,#3c4f8a 495.5px,#3c4f8a 510.5px)"></i><i style="left:200px;width:2px;background:linear-gradient(#a2da37 0.5px,#90d743 5.5px,#77d153 14.5px,#63cb5f 17.5px,#2eb37c 22.5px,#20a386 24.5px,#21918c 26.5px,#31678e 30.5px,#3b528b 32.5px,#453581 42.5px,#471164 70.5px,#471063 78.5px,#482475 87.5px,#443b84 97.5px,#3e4a89 112.5px,#3c4f8a 507.5px,#3c4f8a 510.5px)"></i><i style="left:202px;width:2px;background:linear-gradient(#a2da37 0.5px,#90d743 5.5px,#77d153 14.5px,#63cb5f 17.5px,#2eb37c 22.5px,#20a386 24.5px,#23898e 27.5px,#3a538b 32.5px,#443a83 40.5px,#482677 51.5px,#470e61 74.5px,#471063 80.5px,#482878 89.5px,#443a83 96.5px,#3e4989 110.5px,#3d4d8a 184.5px,#3c4f8a 510.5px)"></i><i style="left:204px;width:2px;background:linear-gradient(#a0da39 0.5px,#75d054 14.5px,#6ccd5a 16.5px,#38b977 21.5px,#20a486 24.5px,#20938c 26.5px,#2f6b8e 30.5px,#39558c 32.5px,#404588 36.5px,#472d7b 47.5px,#470d60 75.5px,#471063 82.5px,#453581 94.5px,#3e4989 110.5px,#3d4e8a 229.5px,#3c4f8a 510.5px)"></i><i style="left:206px;width:2px;background:linear-gradient(#a0da39 0.5px,#75d054 14.5px,#6ccd5a 16.5px,#2fb47c 22.5px,#21a585 24.5px,#1f948c 26.5px,#2e6e8e 30.5px,#39568c 32.5px,#414287 37.5px,#472d7b 47.5px,#470d60 75.5px,#470d60 82.5px,#482677 90.5px,#443a83 97.5px,#3e4a89 112.5px,#3c4f8a 510.5px)"></i><i style="left:208px;width:2px;background:linear-gradient(#a0da39 0.5px,#89d548 7.5px,#75d054 14.5px,#63cb5f 17.5px,#2fb47c 22.5px,#21a585 24.5px,#1f958b 26.5px,#2d708e 30.5px,#38598c 32.5px,#3e4989 35.5px,#472d7b 47.5px,#460b5e 76.5px,#460b5e 83.5px,#482475 90.5px,#443a83 97.5px,#3e4a89 112.5px,#3c4f8a 510.5px)"></i><i style="left:210px;width:2px;background:linear-gradient(#9dd93b 0.5px,#75d054 14.5px,#60ca60 17.5px,#2fb47c 22.5px,#21a685 24.5px,#1f968b 26.5px,#2c718e 30.5px,#3b528b 33.5px,#453781 42.5px,#482173 55.5px,#46085c 80.5px,#460a5d 84.5px,#46327e 94.5px,#424086 101.5px,#3e4a89 114.5px,#3c4f8a 510.5px)"></i><i style="left:212px;width:2px;background:linear-gradient(#9dd93b 0.5px,#75d054 14.5px,#60ca60 17.5px,#27ad81 23.5px,#1f9f88 25.5px,#277f8e 29.5px,#3a538b 33.5px,#443983 41.5px,#482374 54.5px,#46085c 80.5px,#46085c 84.5px,#481a6c 89.5px,#463480 95.5px,#404688 106.5px,#3e4c8a 123.5px,#3c4f8a 510.5px)"></i><i style="left:214px;width:2px;background:linear-gradient(#9dd93b 0.5px,#70cf57 15.5px,#42be71 20.5px,#27ad81 23.5px,#1fa088 25.5px,#27808e 29.5px,#3a548c 33.5px,#443983 41.5px,#482071 56.5px,#46085c 79.5px,#46085c 85.5px,#46337f 95.5px,#424186 102.5px,#3e4c8a 118.5px,#3c4f8a 510.5px)"></i><i style="left:216px;width:2px;background:linear-gradient(#9bd93c 0.5px,#70cf57 15.5px,#42be71 20.5px,#28ae80 23.5px,#1fa188 25.5px,#26828e 29.5px,#39568c 33.5px,#404588 37.5px,#472c7a 48.5px,#46085c 78.5px,#46085c 85.5px,#481668 89.5px,#46327e 95.5px,#423f85 101.5px,#3e4a89 114.5px,#3c4f8a 510.5px)"></i><i style="left:218px;width:2px;background:linear-gradient(#9bd93c 0.5px,#73d056 14.5px,#69cd5b 16.5px,#2fb47c 22.5px,#1fa188 25.5px,#26828e 29.5px,#38588c 33.5px,#3d4d8a 35.5px,#46337f 44.5px,#481f70 57.5px,#46075a 80.5px,#46085c 86.5px,#46307e 95.5px,#423f85 101.5px,#3e4a89 114.5px,#3c4f8a 510.5px)"></i><i style="left:220px;width:2px;background:linear-gradient(#9bd93c 0.5px,#73d056 14.5px,#69cd5b 16.5px,#2fb47c 22.5px,#1fa187 25.5px,#228b8d 28.5px,#2d718e 31.5px,#3b518b 34.5px,#46337f 44.5px,#481d6f 59.5px,#450559 80.5px,#46075a 86.5px,#481c6e 91.5px,#463480 96.5px,#404588 106.5px,#3e4c8a 122.5px,#3c4f8a 510.5px)"></i><i style="left:222px;width:2px;background:linear-gradient(#98d83e 0.5px,#73d056 14.5px,#60ca60 17.5px,#2fb47c 22.5px,#1fa287 25.5px,#25848e 29.5px,#31678e 32.5px,#3b528b 34.5px,#443983 42.5px,#482374 54.5px,#450559 80.5px,#450559 86.5px,#481f70 92.5px,#453781 97.5px,#3f4788 108.5px,#3e4c8a 132.5px,#3c4f8a 510.5px)"></i><i style="left:224px;width:2px;background:linear-gradient(#98d83e 0.5px,#73d056 14.5px,#5ec962 17.5px,#2fb47c 22.5px,#1fa287 25.5px,#24868e 29.5px,#3a548c 34.5px,#433e85 40.5px,#482576 52.5px,#450457 81.5px,#450559 87.5px,#46327e 96.5px,#433e85 101.5px,#3e4989 113.5px,#3c4f8a 421.5px,#3c4f8a 510.5px)"></i><i style="left:226px;width:2px;background:linear-gradient(#98d83e 0.5px,#6ece58 15.5px,#4cc26c 19.5px,#28ae80 23.5px,#1e9c89 26.5px,#2a768e 31.5px,#39558c 34.5px,#424186 39.5px,#482979 50.5px,#450457 80.5px,#450457 87.5px,#481b6d 92.5px,#463480 97.5px,#404588 106.5px,#3e4c8a 125.5px,#3c4f8a 510.5px)"></i><i style="left:228px;width:2px;background:linear-gradient(#95d840 0.5px,#6ece58 15.5px,#4cc26c 19.5px,#31b57b 22.5px,#20a386 25.5px,#218f8d 28.5px,#2e6e8e 32.5px,#3c508b 35.5px,#463480 44.5px,#481c6e 59.5px,#450457 80.5px,#440256 87.5px,#482475 94.5px,#443a83 99.5px,#3e4989 113.5px,#3c4f8a 438.5px,#3c4f8a 510.5px)"></i><i style="left:230px;width:2px;background:linear-gradient(#95d840 0.5px,#70cf57 14.5px,#67cc5c 16.5px,#31b57b 22.5px,#20a386 25.5px,#21908d 28.5px,#2d708e 32.5px,#38598c 34.5px,#3e4989 37.5px,#472a7a 49.5px,#440256 81.5px,#440154 87.5px,#460b5e 90.5px,#472e7c 96.5px,#443b84 100.5px,#3e4989 113.5px,#3c4f8a 446.5px,#3c4f8a 510.5px)"></i><i style="left:232px;width:1px;background:linear-gradient(#95d840 0.5px,#70cf57 14.5px,#67cc5c 16.5px,#31b57b 22.5px,#20a486 25.5px,#21918c 28.5px,#2d718e 32.5px,#3b518b 35.5px,#46337f 45.5px,#481b6d 60.5px,#440256 81.5px,#440256 88.5px,#481668 92.5px,#46327e 97.5px,#424086 103.5px,#3e4a89 116.5px,#3c4f8a 510.5px)"></i></div></div>
<div class="hm" style="left:953.2px;top:35px;width:231.8px;height:510.8px"><div style="position:absolute;left:-0.2px;top:0px;width:232px;height:511px"><i style="left:0px;width:2px;background:linear-gradient(#7c7b78 0.5px,#727274 7.5px,#555c6d 14.5px,#203a6f 23.5px,#053371 26.5px,#002f6d 28.5px,#002554 33.5px,#00224e 37.5px,#00224e 510.5px)"></i><i style="left:2px;width:2px;background:linear-gradient(#7c7b78 0.5px,#6f7073 8.5px,#50576c 15.5px,#18376f 24.5px,#053371 26.5px,#002f6d 28.5px,#002554 33.5px,#00224e 37.5px,#00224e 510.5px)"></i><i style="left:4px;width:2px;background:linear-gradient(#7c7b78 0.5px,#6f7073 8.5px,#50576c 15.5px,#18376f 24.5px,#003170 27.5px,#002a5f 31.5px,#002451 35.5px,#00224e 43.5px,#00224e 510.5px)"></i><i style="left:6px;width:2px;background:linear-gradient(#7c7b78 0.5px,#727274 7.5px,#5c616e 13.5px,#273e6e 22.5px,#143670 25.5px,#003170 28.5px,#00285b 34.5px,#002656 39.5px,#002451 53.5px,#00224e 65.5px,#00224e 510.5px)"></i><i style="left:8px;width:2px;background:linear-gradient(#7c7b78 0.5px,#707173 8.5px,#585e6d 14.5px,#273e6e 23.5px,#003171 30.5px,#002d68 38.5px,#002b62 50.5px,#00234f 57.5px,#00224e 510.5px)"></i><i style="left:10px;width:2px;background:linear-gradient(#7c7b78 0.5px,#727274 8.5px,#5b606e 14.5px,#2d416d 23.5px,#053371 31.5px,#003170 35.5px,#002e6c 49.5px,#00224e 58.5px,#00224e 510.5px)"></i><i style="left:12px;width:2px;background:linear-gradient(#7c7b78 0.5px,#727274 8.5px,#5e626e 14.5px,#2f426d 23.5px,#053371 32.5px,#003170 36.5px,#002e6c 49.5px,#00224e 58.5px,#00224e 510.5px)"></i><i style="left:14px;width:2px;background:linear-gradient(#7c7b78 0.5px,#727374 8.5px,#5b606e 15.5px,#293f6e 25.5px,#0c3470 31.5px,#013271 33.5px,#002f6d 48.5px,#002a5f 53.5px,#00224e 58.5px,#00224e 510.5px)"></i><i style="left:16px;width:2px;background:linear-gradient(#7c7b78 0.5px,#737475 8.5px,#5e626e 15.5px,#2b406d 25.5px,#013271 34.5px,#002f6d 48.5px,#002b62 52.5px,#00224e 58.5px,#00224e 510.5px)"></i><i style="left:18px;width:2px;background:linear-gradient(#7c7b78 0.5px,#727274 9.5px,#565c6d 17.5px,#2a3f6d 26.5px,#123570 31.5px,#013271 35.5px,#002e6c 49.5px,#00224e 58.5px,#00224e 510.5px)"></i><i style="left:20px;width:2px;background:linear-gradient(#7c7b78 0.5px,#707173 10.5px,#585e6d 17.5px,#293f6e 27.5px,#0c3470 33.5px,#013271 35.5px,#002e6c 49.5px,#00224e 58.5px,#00224e 510.5px)"></i><i style="left:22px;width:2px;background:linear-gradient(#7c7b78 0.5px,#717274 10.5px,#565c6d 18.5px,#273e6e 28.5px,#013271 36.5px,#002f6d 48.5px,#002b62 52.5px,#00224e 58.5px,#00224e 510.5px)"></i><i style="left:24px;width:2px;background:linear-gradient(#7c7b78 0.5px,#717274 10.5px,#585e6d 18.5px,#2a3f6d 28.5px,#013271 36.5px,#002f6d 48.5px,#002b62 52.5px,#00224e 58.5px,#00224e 510.5px)"></i><i style="left:26px;width:2px;background:linear-gradient(#7c7b78 0.5px,#727274 10.5px,#5a5f6e 18.5px,#293f6e 29.5px,#0c3470 35.5px,#013271 37.5px,#002f6d 48.5px,#002b62 52.5px,#00224e 58.5px,#00224e 510.5px)"></i><i style="left:28px;width:2px;background:linear-gradient(#7c7b78 0.5px,#727274 10.5px,#5d616e 18.5px,#243c6e 31.5px,#013271 38.5px,#002f6d 48.5px,#002b62 52.5px,#00224e 58.5px,#00224e 510.5px)"></i><i style="left:30px;width:2px;background:linear-gradient(#7c7b78 0.5px,#717274 11.5px,#575d6d 20.5px,#203a6f 33.5px,#013271 39.5px,#002f6d 48.5px,#002b62 52.5px,#00224e 58.5px,#00224e 510.5px)"></i><i style="left:32px;width:2px;background:linear-gradient(#7c7b78 0.5px,#727374 10.5px,#595e6e 20.5px,#1c396f 35.5px,#013271 40.5px,#002e6c 49.5px,#00224e 58.5px,#00224e 510.5px)"></i><i style="left:34px;width:2px;background:linear-gradient(#7c7b78 0.5px,#727274 11.5px,#555b6d 22.5px,#18376f 37.5px,#003171 42.5px,#002e6c 49.5px,#00224e 58.5px,#00224e 510.5px)"></i><i style="left:36px;width:2px;background:linear-gradient(#7c7b78 0.5px,#727274 11.5px,#555c6d 22.5px,#213b6e 36.5px,#013271 42.5px,#002e6c 49.5px,#00224e 58.5px,#00224e 510.5px)"></i><i style="left:38px;width:2px;background:linear-gradient(#7c7b78 0.5px,#727274 11.5px,#575d6d 22.5px,#1c396f 38.5px,#013271 43.5px,#00306f 48.5px,#00224e 58.5px,#00224e 510.5px)"></i><i style="left:40px;width:2px;background:linear-gradient(#7c7b78 0.5px,#717274 12.5px,#48526c 27.5px,#1a386f 39.5px,#003171 44.5px,#002f6d 49.5px,#00224e 58.5px,#00224e 510.5px)"></i><i style="left:42px;width:2px;background:linear-gradient(#7c7b78 0.5px,#717274 12.5px,#4d556c 26.5px,#213b6e 38.5px,#083370 43.5px,#013271 44.5px,#002f6d 49.5px,#002553 56.5px,#00224e 60.5px,#00224e 510.5px)"></i><i style="left:44px;width:2px;background:linear-gradient(#7c7b78 0.5px,#717274 12.5px,#52596d 25.5px,#243c6e 38.5px,#013271 45.5px,#002f6d 49.5px,#002553 56.5px,#00224e 60.5px,#00224e 510.5px)"></i><i style="left:46px;width:2px;background:linear-gradient(#7c7b78 0.5px,#707173 13.5px,#49536c 28.5px,#233c6e 39.5px,#083370 44.5px,#013271 45.5px,#002f6d 49.5px,#002553 56.5px,#00224e 60.5px,#00224e 510.5px)"></i><i style="left:48px;width:2px;background:linear-gradient(#7c7b78 0.5px,#727274 12.5px,#51586d 26.5px,#243c6e 39.5px,#013271 46.5px,#002f6d 49.5px,#002553 56.5px,#00224e 60.5px,#00224e 510.5px)"></i><i style="left:50px;width:2px;background:linear-gradient(#7c7b78 0.5px,#727274 12.5px,#555b6d 25.5px,#213b6e 40.5px,#143670 43.5px,#013271 46.5px,#002f6d 49.5px,#002553 56.5px,#00224e 60.5px,#00224e 510.5px)"></i><i style="left:52px;width:2px;background:linear-gradient(#7c7b78 0.5px,#717274 13.5px,#4f576c 27.5px,#1e3a6f 41.5px,#013271 46.5px,#002f6d 49.5px,#002553 56.5px,#00224e 60.5px,#00224e 510.5px)"></i><i style="left:54px;width:2px;background:linear-gradient(#7c7b78 0.5px,#727374 12.5px,#535a6d 26.5px,#1a386f 42.5px,#013271 46.5px,#002f6d 49.5px,#002553 56.5px,#00224e 60.5px,#00224e 510.5px)"></i><i style="left:56px;width:2px;background:linear-gradient(#7c7b78 0.5px,#727374 12.5px,#565c6d 25.5px,#203a6f 41.5px,#003171 47.5px,#002e6c 50.5px,#002554 55.5px,#00224e 59.5px,#00224e 510.5px)"></i><i style="left:58px;width:2px;background:linear-gradient(#7c7b78 0.5px,#727374 12.5px,#5a5f6e 24.5px,#243c6e 40.5px,#003171 47.5px,#002e6c 50.5px,#002553 56.5px,#00224e 62.5px,#00224e 510.5px)"></i><i style="left:60px;width:2px;background:linear-gradient(#7c7b78 0.5px,#727274 13.5px,#555b6d 26.5px,#263d6e 40.5px,#083370 46.5px,#013271 47.5px,#002f6d 50.5px,#002859 56.5px,#002656 63.5px,#002451 75.5px,#00224e 87.5px,#00224e 510.5px)"></i><i style="left:62px;width:2px;background:linear-gradient(#7c7b78 0.5px,#727274 13.5px,#555c6d 26.5px,#293f6e 40.5px,#0c3470 46.5px,#013271 48.5px,#002c66 63.5px,#002b62 71.5px,#00224e 80.5px,#00224e 510.5px)"></i><i style="left:64px;width:2px;background:linear-gradient(#7c7b78 0.5px,#727274 13.5px,#4f576c 29.5px,#273e6e 41.5px,#0f3570 46.5px,#013271 49.5px,#002f6d 69.5px,#002b62 74.5px,#00224e 80.5px,#00224e 510.5px)"></i><i style="left:66px;width:2px;background:linear-gradient(#7c7b78 0.5px,#727274 13.5px,#4a536c 31.5px,#263d6e 42.5px,#013271 49.5px,#002f6d 70.5px,#002a5f 75.5px,#00224e 80.5px,#00224e 510.5px)"></i><i style="left:68px;width:2px;background:linear-gradient(#7c7b78 0.5px,#727274 13.5px,#4b546c 31.5px,#293f6e 42.5px,#0c3470 48.5px,#013271 50.5px,#002f6d 70.5px,#002a5f 75.5px,#00224e 80.5px,#00224e 510.5px)"></i><i style="left:70px;width:2px;background:linear-gradient(#7c7b78 0.5px,#727274 13.5px,#49536c 32.5px,#2b406d 42.5px,#013271 51.5px,#002f6d 70.5px,#002a5f 75.5px,#00224e 80.5px,#00224e 510.5px)"></i><i style="left:72px;width:2px;background:linear-gradient(#7c7b78 0.5px,#727274 13.5px,#45506c 34.5px,#263d6e 44.5px,#013271 51.5px,#002f6d 70.5px,#002a5f 75.5px,#00224e 80.5px,#00224e 510.5px)"></i><i style="left:74px;width:2px;background:linear-gradient(#7c7b78 0.5px,#727274 13.5px,#3f4c6c 37.5px,#233c6e 45.5px,#013271 52.5px,#002f6d 70.5px,#002a5f 75.5px,#00224e 80.5px,#00224e 510.5px)"></i><i style="left:76px;width:2px;background:linear-gradient(#7d7c78 0.5px,#707173 14.5px,#3b496c 39.5px,#18376f 48.5px,#013271 52.5px,#002f6d 70.5px,#002a5f 75.5px,#00224e 80.5px,#00224e 510.5px)"></i><i style="left:78px;width:2px;background:linear-gradient(#7d7c78 0.5px,#707173 14.5px,#3c4a6c 39.5px,#243c6e 46.5px,#013271 53.5px,#002f6d 70.5px,#002a5f 75.5px,#00224e 80.5px,#00224e 510.5px)"></i><i style="left:80px;width:2px;background:linear-gradient(#7d7c78 0.5px,#707173 14.5px,#3b496c 40.5px,#233c6e 47.5px,#003171 54.5px,#002f6d 70.5px,#002a5f 75.5px,#00224e 80.5px,#00224e 510.5px)"></i><i style="left:82px;width:2px;background:linear-gradient(#7d7c78 0.5px,#707173 14.5px,#3c4a6c 40.5px,#243c6e 47.5px,#013271 54.5px,#002f6d 70.5px,#002a5f 75.5px,#00224e 80.5px,#00224e 510.5px)"></i><i style="left:84px;width:2px;background:linear-gradient(#7d7c78 0.5px,#707173 14.5px,#3e4b6c 40.5px,#233c6e 48.5px,#013271 55.5px,#002f6d 70.5px,#002a5f 75.5px,#00224e 80.5px,#00224e 510.5px)"></i><i style="left:86px;width:2px;background:linear-gradient(#7d7c78 0.5px,#707173 14.5px,#3d4a6c 41.5px,#263d6e 48.5px,#013271 55.5px,#002f6d 70.5px,#002a5f 75.5px,#00224e 80.5px,#00224e 510.5px)"></i><i style="left:88px;width:2px;background:linear-gradient(#7d7c78 0.5px,#707173 14.5px,#3e4b6c 41.5px,#203a6f 50.5px,#053371 55.5px,#003170 59.5px,#002e6c 71.5px,#00224e 80.5px,#00224e 510.5px)"></i><i style="left:90px;width:2px;background:linear-gradient(#7c7b78 0.5px,#727274 13.5px,#3f4c6c 41.5px,#2a3f6d 48.5px,#123570 53.5px,#013271 56.5px,#002f6d 70.5px,#002b62 74.5px,#00224e 80.5px,#00224e 510.5px)"></i><i style="left:92px;width:2px;background:linear-gradient(#7c7b78 0.5px,#727274 13.5px,#404c6c 41.5px,#293f6e 49.5px,#013271 57.5px,#002e6c 71.5px,#00224e 80.5px,#00224e 510.5px)"></i><i style="left:94px;width:2px;background:linear-gradient(#7c7b78 0.5px,#727274 13.5px,#3f4c6c 42.5px,#273e6e 50.5px,#083370 56.5px,#013271 57.5px,#002e6c 71.5px,#00224e 80.5px,#00224e 510.5px)"></i><i style="left:96px;width:2px;background:linear-gradient(#7c7b78 0.5px,#717274 14.5px,#3e4b6c 43.5px,#293f6e 50.5px,#0c3470 56.5px,#013271 58.5px,#002f6d 70.5px,#002b62 74.5px,#00224e 80.5px,#00224e 510.5px)"></i><i style="left:98px;width:2px;background:linear-gradient(#7c7b78 0.5px,#717274 14.5px,#3f4c6c 43.5px,#273e6e 51.5px,#013271 59.5px,#002f6d 70.5px,#002b62 74.5px,#00224e 80.5px,#00224e 510.5px)"></i><i style="left:100px;width:2px;background:linear-gradient(#7c7b78 0.5px,#717274 14.5px,#404c6c 43.5px,#2a3f6d 51.5px,#013271 59.5px,#002f6d 70.5px,#002b62 74.5px,#00224e 80.5px,#00224e 510.5px)"></i><i style="left:102px;width:2px;background:linear-gradient(#7c7b78 0.5px,#717274 14.5px,#3f4c6c 44.5px,#2b406d 51.5px,#143670 56.5px,#013271 60.5px,#002f6d 70.5px,#002b62 74.5px,#00224e 80.5px,#00224e 510.5px)"></i><i style="left:104px;width:2px;background:linear-gradient(#7c7b78 0.5px,#717274 14.5px,#404c6c 44.5px,#2a3f6d 52.5px,#123570 57.5px,#013271 60.5px,#002f6d 70.5px,#002b62 74.5px,#00224e 80.5px,#00224e 510.5px)"></i><i style="left:106px;width:2px;background:linear-gradient(#7c7b78 0.5px,#717274 14.5px,#3f4c6c 45.5px,#293f6e 53.5px,#0f3570 58.5px,#013271 61.5px,#002f6d 70.5px,#002b62 74.5px,#00224e 80.5px,#00224e 510.5px)"></i><i style="left:108px;width:2px;background:linear-gradient(#7c7b78 0.5px,#717274 14.5px,#404c6c 45.5px,#2a3f6d 53.5px,#083370 60.5px,#013271 61.5px,#002f6d 70.5px,#002b62 74.5px,#00224e 80.5px,#00224e 510.5px)"></i><i style="left:110px;width:2px;background:linear-gradient(#7c7b78 0.5px,#717274 14.5px,#3f4c6c 46.5px,#293f6e 54.5px,#0c3470 60.5px,#013271 62.5px,#002e6c 71.5px,#00224e 80.5px,#00224e 510.5px)"></i><i style="left:112px;width:2px;background:linear-gradient(#7c7b78 0.5px,#707173 15.5px,#404c6c 46.5px,#273e6e 55.5px,#083370 61.5px,#013271 62.5px,#002e6c 71.5px,#00224e 80.5px,#00224e 510.5px)"></i><i style="left:114px;width:2px;background:linear-gradient(#7c7b78 0.5px,#707173 15.5px,#3f4c6c 47.5px,#293f6e 55.5px,#013271 63.5px,#002e6c 71.5px,#00224e 80.5px,#00224e 510.5px)"></i><i style="left:116px;width:2px;background:linear-gradient(#7c7b78 0.5px,#707173 15.5px,#3f4c6c 47.5px,#2e416d 54.5px,#123570 60.5px,#013271 63.5px,#002f6d 70.5px,#002b62 74.5px,#00224e 80.5px,#00224e 510.5px)"></i><i style="left:118px;width:2px;background:linear-gradient(#7c7b78 0.5px,#707173 15.5px,#3e4b6c 48.5px,#2b406d 55.5px,#143670 60.5px,#003171 64.5px,#002e6c 71.5px,#00224e 80.5px,#00224e 510.5px)"></i><i style="left:120px;width:2px;background:linear-gradient(#7c7b78 0.5px,#727274 14.5px,#414d6c 47.5px,#2d416d 55.5px,#123570 61.5px,#013271 64.5px,#002e6c 71.5px,#00224e 80.5px,#00224e 510.5px)"></i><i style="left:122px;width:2px;background:linear-gradient(#7c7b78 0.5px,#727274 14.5px,#414d6c 47.5px,#2b406d 56.5px,#083370 63.5px,#013271 64.5px,#002e6c 71.5px,#00224e 80.5px,#00224e 510.5px)"></i><i style="left:124px;width:2px;background:linear-gradient(#7c7b78 0.5px,#727274 14.5px,#424e6c 47.5px,#2d416d 56.5px,#0c3470 63.5px,#013271 65.5px,#002e6a 72.5px,#00224e 80.5px,#00224e 510.5px)"></i><i style="left:126px;width:2px;background:linear-gradient(#7c7b78 0.5px,#727274 14.5px,#424e6c 47.5px,#2e416d 56.5px,#18376f 61.5px,#013271 65.5px,#00306f 70.5px,#00224e 80.5px,#00224e 510.5px)"></i><i style="left:128px;width:2px;background:linear-gradient(#7c7b78 0.5px,#727274 14.5px,#414d6c 48.5px,#2f426d 56.5px,#1a386f 61.5px,#003171 66.5px,#00306f 70.5px,#00224e 80.5px,#00224e 510.5px)"></i><i style="left:130px;width:2px;background:linear-gradient(#7c7b78 0.5px,#727274 14.5px,#424e6c 48.5px,#31436d 56.5px,#163770 62.5px,#013271 66.5px,#002f6d 71.5px,#00224e 80.5px,#00224e 510.5px)"></i><i style="left:132px;width:2px;background:linear-gradient(#7c7b78 0.5px,#727274 14.5px,#424e6c 48.5px,#32436d 56.5px,#143670 63.5px,#013271 66.5px,#002f6d 71.5px,#002553 78.5px,#00224e 82.5px,#00224e 510.5px)"></i><i style="left:134px;width:2px;background:linear-gradient(#7c7b78 0.5px,#727374 14.5px,#444f6c 47.5px,#2f426d 57.5px,#1a386f 62.5px,#003171 67.5px,#002f6d 71.5px,#002553 78.5px,#00224e 82.5px,#00224e 510.5px)"></i><i style="left:136px;width:2px;background:linear-gradient(#7c7b78 0.5px,#727374 14.5px,#49536c 44.5px,#33446d 56.5px,#123570 64.5px,#003171 67.5px,#002f6d 71.5px,#002553 78.5px,#00224e 82.5px,#00224e 510.5px)"></i><i style="left:138px;width:2px;background:linear-gradient(#7c7b78 0.5px,#727374 14.5px,#434e6c 48.5px,#31436d 57.5px,#18376f 63.5px,#013271 67.5px,#002f6d 71.5px,#002553 78.5px,#00224e 82.5px,#00224e 510.5px)"></i><i style="left:140px;width:2px;background:linear-gradient(#7c7b78 0.5px,#727374 14.5px,#444f6c 48.5px,#2e416d 58.5px,#143670 64.5px,#013271 67.5px,#002f6d 71.5px,#002553 78.5px,#00224e 82.5px,#00224e 510.5px)"></i><i style="left:142px;width:2px;background:linear-gradient(#7c7b78 0.5px,#727274 15.5px,#434e6c 49.5px,#2e416d 58.5px,#143670 64.5px,#013271 67.5px,#002f6d 71.5px,#002553 78.5px,#00224e 82.5px,#00224e 510.5px)"></i><i style="left:144px;width:2px;background:linear-gradient(#7c7b78 0.5px,#727274 15.5px,#414d6c 50.5px,#2f426d 58.5px,#163770 64.5px,#053371 67.5px,#003170 69.5px,#002b62 74.5px,#002553 78.5px,#00224e 82.5px,#00224e 510.5px)"></i><i style="left:146px;width:2px;background:linear-gradient(#7c7b78 0.5px,#727274 15.5px,#424e6c 50.5px,#2d416d 59.5px,#123570 65.5px,#003171 68.5px,#002e6a 72.5px,#002553 78.5px,#00224e 82.5px,#00224e 510.5px)"></i><i style="left:148px;width:2px;background:linear-gradient(#7c7b78 0.5px,#717274 16.5px,#3f4c6c 52.5px,#2a3f6d 60.5px,#123570 65.5px,#013271 68.5px,#002f6d 71.5px,#002553 78.5px,#00224e 82.5px,#00224e 510.5px)"></i><i style="left:150px;width:2px;background:linear-gradient(#7c7b78 0.5px,#717274 16.5px,#3f4c6c 52.5px,#273e6e 61.5px,#083370 67.5px,#013271 68.5px,#002f6d 71.5px,#002553 78.5px,#00224e 82.5px,#00224e 510.5px)"></i><i style="left:152px;width:2px;background:linear-gradient(#7c7b78 0.5px,#717274 16.5px,#3e4b6c 53.5px,#2b406d 60.5px,#143670 65.5px,#013271 68.5px,#002f6d 71.5px,#002553 78.5px,#00224e 82.5px,#00224e 510.5px)"></i><i style="left:154px;width:2px;background:linear-gradient(#7c7b78 0.5px,#707173 17.5px,#3e4b6c 53.5px,#293f6e 61.5px,#123570 66.5px,#083370 67.5px,#003171 69.5px,#002b62 74.5px,#002553 78.5px,#00224e 82.5px,#00224e 510.5px)"></i><i style="left:156px;width:2px;background:linear-gradient(#7c7b78 0.5px,#707173 17.5px,#3d4a6c 54.5px,#263d6e 62.5px,#0c3470 67.5px,#003171 69.5px,#002e6c 72.5px,#002554 77.5px,#00224e 81.5px,#00224e 510.5px)"></i><i style="left:158px;width:2px;background:linear-gradient(#7c7b78 0.5px,#6f7073 18.5px,#3d4a6c 54.5px,#2a3f6d 61.5px,#143670 66.5px,#003171 69.5px,#002e6c 72.5px,#002554 77.5px,#00224e 81.5px,#00224e 510.5px)"></i><i style="left:160px;width:2px;background:linear-gradient(#7c7b78 0.5px,#727274 16.5px,#3f4c6c 53.5px,#273e6e 62.5px,#0f3570 67.5px,#013271 69.5px,#002e6c 72.5px,#002554 77.5px,#00224e 81.5px,#00224e 510.5px)"></i><i style="left:162px;width:2px;background:linear-gradient(#7c7b78 0.5px,#727274 16.5px,#414d6c 52.5px,#2f426d 60.5px,#163770 66.5px,#013271 69.5px,#002e6c 72.5px,#002451 78.5px,#00224e 86.5px,#00224e 510.5px)"></i><i style="left:164px;width:2px;background:linear-gradient(#7c7b78 0.5px,#717274 17.5px,#3e4b6c 54.5px,#293f6e 62.5px,#123570 67.5px,#013271 69.5px,#002e6c 72.5px,#002451 78.5px,#00224e 86.5px,#00224e 510.5px)"></i><i style="left:166px;width:2px;background:linear-gradient(#7c7b78 0.5px,#717274 17.5px,#404c6c 53.5px,#2d416d 61.5px,#123570 67.5px,#003170 70.5px,#002b62 74.5px,#002451 78.5px,#00224e 86.5px,#00224e 510.5px)"></i><i style="left:168px;width:2px;background:linear-gradient(#7c7b78 0.5px,#707173 18.5px,#424e6c 52.5px,#2e416d 61.5px,#143670 67.5px,#003171 70.5px,#002b62 74.5px,#002451 78.5px,#00224e 86.5px,#00224e 510.5px)"></i><i style="left:170px;width:2px;background:linear-gradient(#7c7b78 0.5px,#707173 18.5px,#3f4c6c 54.5px,#273e6e 63.5px,#0f3570 68.5px,#053371 69.5px,#003070 71.5px,#002451 78.5px,#00224e 86.5px,#00224e 510.5px)"></i><i style="left:172px;width:2px;background:linear-gradient(#7c7b78 0.5px,#6f7073 19.5px,#414d6c 53.5px,#2b406d 62.5px,#163770 67.5px,#003171 70.5px,#002d68 73.5px,#002554 77.5px,#00224e 81.5px,#00224e 510.5px)"></i><i style="left:174px;width:2px;background:linear-gradient(#7c7b78 0.5px,#6f7073 19.5px,#434e6c 52.5px,#2f426d 61.5px,#163770 67.5px,#013271 70.5px,#002d68 73.5px,#002554 77.5px,#00224e 81.5px,#00224e 510.5px)"></i><i style="left:176px;width:2px;background:linear-gradient(#7c7b78 0.5px,#707173 18.5px,#424e6c 53.5px,#2d416d 62.5px,#123570 68.5px,#013271 70.5px,#002f6d 72.5px,#002554 77.5px,#00224e 81.5px,#00224e 510.5px)"></i><i style="left:178px;width:2px;background:linear-gradient(#7c7b78 0.5px,#717274 18.5px,#424e6c 53.5px,#2a3f6d 63.5px,#18376f 67.5px,#0c3470 69.5px,#013271 70.5px,#002f6d 72.5px,#002554 77.5px,#00224e 81.5px,#00224e 510.5px)"></i><i style="left:180px;width:2px;background:linear-gradient(#7c7b78 0.5px,#717274 18.5px,#444f6c 52.5px,#31436d 61.5px,#18376f 67.5px,#0c3470 69.5px,#013271 70.5px,#002f6d 72.5px,#002554 77.5px,#00224e 81.5px,#00224e 510.5px)"></i><i style="left:182px;width:2px;background:linear-gradient(#7c7b78 0.5px,#707173 19.5px,#46516c 51.5px,#2e416d 62.5px,#18376f 67.5px,#0c3470 69.5px,#013271 70.5px,#002f6d 72.5px,#002554 77.5px,#00224e 81.5px,#00224e 510.5px)"></i><i style="left:184px;width:2px;background:linear-gradient(#7c7b78 0.5px,#6f7073 20.5px,#434e6c 53.5px,#2e416d 62.5px,#143670 68.5px,#013271 70.5px,#002f6d 72.5px,#002554 77.5px,#00224e 81.5px,#00224e 510.5px)"></i><i style="left:186px;width:2px;background:linear-gradient(#7c7b78 0.5px,#6f7073 20.5px,#45506c 52.5px,#32436d 61.5px,#143670 68.5px,#013271 70.5px,#002e6a 73.5px,#002554 78.5px,#00234f 90.5px,#00224e 510.5px)"></i><i style="left:188px;width:2px;background:linear-gradient(#7c7b78 0.5px,#6e6f73 21.5px,#444f6c 53.5px,#2b406d 63.5px,#143670 68.5px,#003171 71.5px,#002a5f 80.5px,#00285b 95.5px,#00224e 104.5px,#00224e 510.5px)"></i><i style="left:190px;width:2px;background:linear-gradient(#7c7b78 0.5px,#6e6f73 21.5px,#444f6c 53.5px,#31436d 62.5px,#163770 68.5px,#053371 71.5px,#003170 73.5px,#002d68 95.5px,#002451 102.5px,#00224e 110.5px,#00224e 510.5px)"></i><i style="left:192px;width:2px;background:linear-gradient(#7c7b78 0.5px,#6f7073 20.5px,#434e6c 54.5px,#2e416d 63.5px,#0c3470 70.5px,#013271 72.5px,#002f6d 93.5px,#002a61 98.5px,#00234f 103.5px,#00224e 510.5px)"></i><i style="left:194px;width:2px;background:linear-gradient(#7c7b78 0.5px,#6f7073 20.5px,#424e6c 55.5px,#2b406d 64.5px,#013271 73.5px,#002f6d 93.5px,#002a61 98.5px,#00234f 103.5px,#00224e 510.5px)"></i><i style="left:196px;width:2px;background:linear-gradient(#7c7b78 0.5px,#707173 19.5px,#424e6c 55.5px,#31436d 63.5px,#163770 69.5px,#053371 72.5px,#003170 76.5px,#002f6d 93.5px,#002a61 98.5px,#00234f 103.5px,#00224e 510.5px)"></i><i style="left:198px;width:2px;background:linear-gradient(#7c7b78 0.5px,#707173 19.5px,#414d6c 56.5px,#2a3f6d 65.5px,#013271 73.5px,#002f6d 93.5px,#002a61 98.5px,#00234f 103.5px,#00224e 510.5px)"></i><i style="left:200px;width:2px;background:linear-gradient(#7c7b78 0.5px,#707173 19.5px,#414d6c 56.5px,#2e416d 64.5px,#143670 70.5px,#013271 73.5px,#002f6d 93.5px,#002d68 96.5px,#00234f 103.5px,#00224e 510.5px)"></i><i style="left:202px;width:2px;background:linear-gradient(#7c7b78 0.5px,#717274 18.5px,#404c6c 57.5px,#2b406d 65.5px,#143670 70.5px,#013271 74.5px,#002f6d 93.5px,#002d68 96.5px,#00234f 103.5px,#00224e 510.5px)"></i><i style="left:204px;width:2px;background:linear-gradient(#7c7b78 0.5px,#717274 18.5px,#3f4c6c 58.5px,#2d416d 65.5px,#0c3470 72.5px,#013271 74.5px,#002f6d 93.5px,#002d68 96.5px,#00234f 103.5px,#00224e 510.5px)"></i><i style="left:206px;width:2px;background:linear-gradient(#7c7b78 0.5px,#717274 18.5px,#414d6c 57.5px,#2e416d 65.5px,#123570 71.5px,#013271 74.5px,#002f6d 94.5px,#00234f 103.5px,#00224e 510.5px)"></i><i style="left:208px;width:2px;background:linear-gradient(#7c7b78 0.5px,#717274 18.5px,#414d6c 57.5px,#2f426d 65.5px,#013271 75.5px,#002f6d 94.5px,#002a61 98.5px,#00234f 103.5px,#00224e 510.5px)"></i><i style="left:210px;width:2px;background:linear-gradient(#7c7b78 0.5px,#717274 18.5px,#404c6c 58.5px,#2d416d 66.5px,#0f3570 72.5px,#013271 75.5px,#002f6d 94.5px,#002a61 98.5px,#00234f 103.5px,#00224e 510.5px)"></i><i style="left:212px;width:2px;background:linear-gradient(#7c7b78 0.5px,#717274 18.5px,#424e6c 57.5px,#2e416d 66.5px,#0c3470 73.5px,#013271 75.5px,#002f6d 94.5px,#002a61 98.5px,#00234f 103.5px,#00224e 510.5px)"></i><i style="left:214px;width:2px;background:linear-gradient(#7c7b78 0.5px,#717274 18.5px,#414d6c 58.5px,#2f426d 66.5px,#083370 74.5px,#013271 75.5px,#002f6d 94.5px,#002a61 98.5px,#00234f 103.5px,#00224e 510.5px)"></i><i style="left:216px;width:2px;background:linear-gradient(#7c7b78 0.5px,#717274 18.5px,#404c6c 59.5px,#293f6e 68.5px,#053371 75.5px,#003170 79.5px,#002f6d 94.5px,#002b62 98.5px,#002451 102.5px,#00224e 110.5px,#00224e 510.5px)"></i><i style="left:218px;width:2px;background:linear-gradient(#7c7b78 0.5px,#707173 19.5px,#404c6c 59.5px,#31436d 66.5px,#163770 72.5px,#013271 76.5px,#002f6d 94.5px,#002b62 98.5px,#002553 102.5px,#00224e 106.5px,#00224e 510.5px)"></i><i style="left:220px;width:2px;background:linear-gradient(#7c7b78 0.5px,#707173 19.5px,#424e6c 58.5px,#32436d 66.5px,#18376f 72.5px,#013271 76.5px,#002f6d 94.5px,#002b62 98.5px,#002553 102.5px,#00224e 106.5px,#00224e 510.5px)"></i><i style="left:222px;width:2px;background:linear-gradient(#7c7b78 0.5px,#707173 19.5px,#414d6c 59.5px,#2f426d 67.5px,#0f3570 74.5px,#013271 77.5px,#002f6d 94.5px,#002b62 98.5px,#002553 102.5px,#00224e 106.5px,#00224e 510.5px)"></i><i style="left:224px;width:2px;background:linear-gradient(#7c7b78 0.5px,#707173 19.5px,#404c6c 60.5px,#2d416d 68.5px,#0c3470 75.5px,#013271 77.5px,#002f6d 94.5px,#002b62 98.5px,#00224e 104.5px,#00224e 510.5px)"></i><i style="left:226px;width:2px;background:linear-gradient(#7c7b78 0.5px,#707173 19.5px,#3f4c6c 61.5px,#2a3f6d 69.5px,#013271 77.5px,#002f6d 94.5px,#002b62 98.5px,#00224e 104.5px,#00224e 510.5px)"></i><i style="left:228px;width:2px;background:linear-gradient(#7c7b78 0.5px,#707173 19.5px,#414d6c 60.5px,#2f426d 68.5px,#083370 76.5px,#013271 77.5px,#002f6d 94.5px,#002b62 98.5px,#00224e 104.5px,#00224e 510.5px)"></i><i style="left:230px;width:2px;background:linear-gradient(#7c7b78 0.5px,#6e6f73 20.5px,#414d6c 60.5px,#2f426d 68.5px,#1a386f 73.5px,#053371 77.5px,#003170 81.5px,#002e6c 95.5px,#00224e 104.5px,#00224e 510.5px)"></i></div></div>
<div class="hm" style="left:66px;top:614.8px;width:231.8px;height:510px"><div style="position:absolute;left:0px;top:-0.8px;width:232px;height:511px"><i style="left:0px;width:2px;background:linear-gradient(#f7fcf5 0.5px,#e7f6e3 11.5px,#c7e9c0 20.5px,#a5db9f 25.5px,#98d594 26.5px,#7fc97f 27.5px,#3ca559 29.5px,#2a924a 30.5px,#1d8640 31.5px,#117b38 36.5px,#157f3b 258.5px,#157f3b 510.5px)"></i><i style="left:2px;width:2px;background:linear-gradient(#f7fcf5 0.5px,#e7f6e3 11.5px,#c1e6ba 21.5px,#a4da9e 25.5px,#95d391 26.5px,#7ac77b 27.5px,#56b567 28.5px,#39a257 29.5px,#278f48 30.5px,#1c8540 31.5px,#107a37 37.5px,#157f3b 190.5px,#157f3b 510.5px)"></i><i style="left:4px;width:2px;background:linear-gradient(#f7fcf5 0.5px,#e5f5e0 12.5px,#c1e6ba 21.5px,#a3da9d 25.5px,#92d28f 26.5px,#76c578 27.5px,#52b365 28.5px,#359e53 29.5px,#248c46 30.5px,#1a843f 31.5px,#107a37 37.5px,#157f3b 187.5px,#157f3b 510.5px)"></i><i style="left:6px;width:2px;background:linear-gradient(#f7fcf5 0.5px,#e7f6e2 11.5px,#c1e6ba 21.5px,#a2d99c 25.5px,#8ed08b 26.5px,#72c375 27.5px,#4bb062 28.5px,#329b51 29.5px,#228a44 30.5px,#19833e 31.5px,#0e7936 38.5px,#147e3a 110.5px,#157f3b 510.5px)"></i><i style="left:8px;width:2px;background:linear-gradient(#f7fcf5 0.5px,#e6f5e1 11.5px,#c4e8bd 20.5px,#a8dca2 24.5px,#9cd797 25.5px,#87cd86 26.5px,#66bd6f 27.5px,#43ac5e 28.5px,#2f974e 29.5px,#208843 30.5px,#18823d 31.5px,#0e7936 38.5px,#147e3a 110.5px,#157f3b 510.5px)"></i><i style="left:10px;width:2px;background:linear-gradient(#f7fcf5 0.5px,#e5f5e1 11.5px,#c1e6ba 20.5px,#a2d99c 24.5px,#91d28e 25.5px,#78c679 26.5px,#3ba458 28.5px,#2a924a 29.5px,#1d8640 30.5px,#107a37 36.5px,#107a37 46.5px,#157f3b 162.5px,#157f3b 510.5px)"></i><i style="left:12px;width:2px;background:linear-gradient(#f7fcf5 0.5px,#e5f5e0 11.5px,#c6e8bf 19.5px,#aadda4 23.5px,#a0d99b 24.5px,#8dd08a 25.5px,#73c476 26.5px,#52b365 27.5px,#37a055 28.5px,#278f48 29.5px,#1c8540 30.5px,#117b38 35.5px,#0d7836 43.5px,#127c39 59.5px,#157f3b 320.5px,#157f3b 510.5px)"></i><i style="left:14px;width:2px;background:linear-gradient(#f7fcf5 0.5px,#e5f5e0 11.5px,#c6e8bf 19.5px,#a9dca3 23.5px,#9fd899 24.5px,#8bcf89 25.5px,#70c274 26.5px,#4eb264 27.5px,#359e53 28.5px,#258d47 29.5px,#1a843f 30.5px,#0e7936 36.5px,#0e7936 60.5px,#157f3b 160.5px,#157f3b 510.5px)"></i><i style="left:16px;width:2px;background:linear-gradient(#f7fcf5 0.5px,#e4f5df 11.5px,#c6e8bf 19.5px,#a9dca3 23.5px,#9ed798 24.5px,#88ce87 25.5px,#6dc072 26.5px,#4bb062 27.5px,#349d53 28.5px,#248c46 29.5px,#19833e 30.5px,#0c7735 38.5px,#117b38 72.5px,#157f3b 236.5px,#157f3b 510.5px)"></i><i style="left:18px;width:2px;background:linear-gradient(#f7fcf5 0.5px,#e4f5df 11.5px,#c4e8bd 19.5px,#a8dca2 23.5px,#9cd797 24.5px,#87cd86 25.5px,#6bc072 26.5px,#4aaf61 27.5px,#339c52 28.5px,#248c46 29.5px,#19833e 30.5px,#0c7735 37.5px,#0c7735 55.5px,#137d39 94.5px,#157f3b 510.5px)"></i><i style="left:20px;width:2px;background:linear-gradient(#f7fcf5 0.5px,#e3f4de 11.5px,#c4e8bd 19.5px,#a8dca2 23.5px,#9bd696 24.5px,#86cc85 25.5px,#46ae60 27.5px,#329b51 28.5px,#238b45 29.5px,#18823d 30.5px,#0a7633 39.5px,#137d39 96.5px,#157f3b 510.5px)"></i><i style="left:22px;width:2px;background:linear-gradient(#f7fcf5 0.5px,#e3f4de 11.5px,#c4e8bd 19.5px,#a7dba0 23.5px,#99d595 24.5px,#83cb82 25.5px,#66bd6f 26.5px,#45ad5f 27.5px,#309950 28.5px,#228a44 29.5px,#18823d 30.5px,#0b7734 38.5px,#0b7734 56.5px,#127c39 84.5px,#157f3b 320.5px,#157f3b 510.5px)"></i><i style="left:24px;width:2px;background:linear-gradient(#f7fcf5 0.5px,#e2f4dd 11.5px,#c3e7bc 19.5px,#a5db9f 23.5px,#98d594 24.5px,#81ca81 25.5px,#43ac5e 27.5px,#2f984f 28.5px,#218944 29.5px,#17813d 30.5px,#097532 39.5px,#0b7734 58.5px,#127c39 83.5px,#157f3b 319.5px,#157f3b 510.5px)"></i><i style="left:26px;width:2px;background:linear-gradient(#f7fcf5 0.5px,#e2f4dd 11.5px,#c3e7bc 19.5px,#a5db9f 23.5px,#97d492 24.5px,#80ca80 25.5px,#40aa5d 27.5px,#208843 29.5px,#17813d 30.5px,#097532 39.5px,#097532 54.5px,#127c39 81.5px,#157f3b 325.5px,#157f3b 510.5px)"></i><i style="left:28px;width:2px;background:linear-gradient(#f7fcf5 0.5px,#e2f4dd 11.5px,#c3e7bc 19.5px,#a4da9e 23.5px,#95d391 24.5px,#7dc87e 25.5px,#3fa95c 27.5px,#1f8742 29.5px,#147e3a 31.5px,#077331 41.5px,#0b7734 60.5px,#127c39 82.5px,#157f3b 318.5px,#157f3b 510.5px)"></i><i style="left:30px;width:2px;background:linear-gradient(#f7fcf5 0.5px,#e2f4dd 11.5px,#c2e7bb 19.5px,#a3da9d 23.5px,#94d390 24.5px,#7cc87c 25.5px,#3ea75a 27.5px,#1f8742 29.5px,#16803c 30.5px,#077331 40.5px,#097532 57.5px,#127c39 80.5px,#157f3b 324.5px,#157f3b 510.5px)"></i><i style="left:32px;width:2px;background:linear-gradient(#f7fcf5 0.5px,#e1f3dc 11.5px,#c8e9c1 18.5px,#acdea6 22.5px,#a3da9d 23.5px,#92d28f 24.5px,#79c67a 25.5px,#3da65a 27.5px,#1e8741 29.5px,#16803c 30.5px,#077331 39.5px,#077331 55.5px,#127c39 78.5px,#157f3b 331.5px,#157f3b 510.5px)"></i><i style="left:34px;width:2px;background:linear-gradient(#f7fcf5 0.5px,#e1f3dc 11.5px,#c2e7bb 19.5px,#a2d99c 23.5px,#90d18d 24.5px,#78c679 25.5px,#3ca559 27.5px,#2a924a 28.5px,#1d8640 29.5px,#147e3a 31.5px,#067230 40.5px,#067230 54.5px,#127c39 78.5px,#157f3b 331.5px,#157f3b 510.5px)"></i><i style="left:36px;width:2px;background:linear-gradient(#f7fcf5 0.5px,#e1f3dc 11.5px,#c7e9c0 18.5px,#abdda5 22.5px,#a0d99b 23.5px,#90d18d 24.5px,#76c578 25.5px,#3aa357 27.5px,#29914a 28.5px,#1c8540 29.5px,#137d39 31.5px,#05712f 42.5px,#077331 56.5px,#127c39 78.5px,#157f3b 326.5px,#157f3b 510.5px)"></i><i style="left:38px;width:2px;background:linear-gradient(#f7fcf5 0.5px,#e1f3dc 11.5px,#c7e9c0 18.5px,#abdda5 22.5px,#a0d99b 23.5px,#8ed08b 24.5px,#75c477 25.5px,#3aa357 27.5px,#29914a 28.5px,#1c8540 29.5px,#137d39 31.5px,#05712f 42.5px,#05712f 54.5px,#127c39 77.5px,#157f3b 330.5px,#157f3b 510.5px)"></i><i style="left:40px;width:2px;background:linear-gradient(#f7fcf5 0.5px,#e1f3dc 11.5px,#c7e9c0 18.5px,#abdda5 22.5px,#a0d99b 23.5px,#8ed08b 24.5px,#75c477 25.5px,#53b466 26.5px,#39a257 27.5px,#289049 28.5px,#1a843f 29.5px,#0e7936 33.5px,#026f2e 44.5px,#097532 61.5px,#127c39 79.5px,#157f3b 323.5px,#157f3b 510.5px)"></i><i style="left:42px;width:2px;background:linear-gradient(#f7fcf5 0.5px,#e1f3dc 11.5px,#c7e9c0 18.5px,#aadda4 22.5px,#a0d99b 23.5px,#8ed08b 24.5px,#73c476 25.5px,#52b365 26.5px,#38a156 27.5px,#278f48 28.5px,#1a843f 29.5px,#0e7936 33.5px,#026f2e 44.5px,#077331 58.5px,#127c39 78.5px,#157f3b 326.5px,#157f3b 510.5px)"></i><i style="left:44px;width:2px;background:linear-gradient(#f7fcf5 0.5px,#e1f3dc 11.5px,#c7e9c0 18.5px,#aadda4 22.5px,#a0d99b 23.5px,#8dd08a 24.5px,#73c476 25.5px,#52b365 26.5px,#37a055 27.5px,#268e47 28.5px,#19833e 29.5px,#107a37 32.5px,#026f2e 44.5px,#067230 58.5px,#127c39 77.5px,#157f3b 330.5px,#157f3b 510.5px)"></i><i style="left:46px;width:2px;background:linear-gradient(#f7fcf5 0.5px,#e1f3dc 11.5px,#c7e9c0 18.5px,#aadda4 22.5px,#a0d99b 23.5px,#8dd08a 24.5px,#72c375 25.5px,#50b264 26.5px,#369f54 27.5px,#258d47 28.5px,#18823d 29.5px,#097532 36.5px,#016e2d 48.5px,#0a7633 63.5px,#127c39 79.5px,#157f3b 323.5px,#157f3b 510.5px)"></i><i style="left:48px;width:2px;background:linear-gradient(#f7fcf5 0.5px,#e0f3db 11.5px,#c7e9c0 18.5px,#aadda4 22.5px,#a0d99b 23.5px,#8dd08a 24.5px,#72c375 25.5px,#4eb264 26.5px,#359e53 27.5px,#258d47 28.5px,#18823d 29.5px,#097532 36.5px,#006d2c 48.5px,#0c7735 66.5px,#127c39 82.5px,#157f3b 310.5px,#157f3b 510.5px)"></i><i style="left:50px;width:2px;background:linear-gradient(#f7fcf5 0.5px,#e0f3db 11.5px,#c7e9c0 18.5px,#aadda4 22.5px,#9fd899 23.5px,#8bcf89 24.5px,#70c274 25.5px,#4eb264 26.5px,#359e53 27.5px,#248c46 28.5px,#17813d 29.5px,#067230 38.5px,#006d2c 51.5px,#127c39 77.5px,#157f3b 325.5px,#157f3b 510.5px)"></i><i style="left:52px;width:2px;background:linear-gradient(#f7fcf5 0.5px,#e0f3db 11.5px,#c7e9c0 18.5px,#aadda4 22.5px,#9fd899 23.5px,#8bcf89 24.5px,#6ec173 25.5px,#4db163 26.5px,#349d53 27.5px,#238b45 28.5px,#17813d 29.5px,#087432 36.5px,#006d2c 49.5px,#087432 62.5px,#127c39 77.5px,#157f3b 325.5px,#157f3b 510.5px)"></i><i style="left:54px;width:2px;background:linear-gradient(#f7fcf5 0.5px,#e0f3db 11.5px,#c7e9c0 18.5px,#aadda4 22.5px,#9fd899 23.5px,#8bcf89 24.5px,#6ec173 25.5px,#4bb062 26.5px,#339c52 27.5px,#228a44 28.5px,#16803c 29.5px,#05712f 39.5px,#006d2c 52.5px,#127c39 77.5px,#157f3b 325.5px,#157f3b 510.5px)"></i><i style="left:56px;width:2px;background:linear-gradient(#f7fcf5 0.5px,#e0f3db 11.5px,#c7e9c0 18.5px,#aadda4 22.5px,#9fd899 23.5px,#8ace88 24.5px,#6dc072 25.5px,#4aaf61 26.5px,#329b51 27.5px,#228a44 28.5px,#16803c 29.5px,#077331 37.5px,#006c2c 48.5px,#03702e 59.5px,#127c39 76.5px,#157f3b 329.5px,#157f3b 510.5px)"></i><i style="left:58px;width:2px;background:linear-gradient(#f7fcf5 0.5px,#e0f3db 11.5px,#c7e9c0 18.5px,#aadda4 22.5px,#9fd899 23.5px,#8ace88 24.5px,#6dc072 25.5px,#4aaf61 26.5px,#319a50 27.5px,#218944 28.5px,#157f3b 29.5px,#03702e 40.5px,#006c2c 54.5px,#127c39 77.5px,#157f3b 325.5px,#157f3b 510.5px)"></i><i style="left:60px;width:2px;background:linear-gradient(#f7fcf5 0.5px,#e0f3db 11.5px,#c7e9c0 18.5px,#aadda4 22.5px,#9fd899 23.5px,#88ce87 24.5px,#6bc072 25.5px,#48ae60 26.5px,#309950 27.5px,#208843 28.5px,#157f3b 29.5px,#026f2e 40.5px,#006b2b 53.5px,#097532 65.5px,#127c39 77.5px,#157f3b 321.5px,#157f3b 510.5px)"></i><i style="left:62px;width:2px;background:linear-gradient(#f7fcf5 0.5px,#e0f3db 11.5px,#c7e9c0 18.5px,#aadda4 22.5px,#9ed798 23.5px,#88ce87 24.5px,#6bc072 25.5px,#46ae60 26.5px,#2f984f 27.5px,#1f8742 28.5px,#147e3a 29.5px,#016e2d 41.5px,#006b2b 54.5px,#0c7735 68.5px,#127c39 80.5px,#157f3b 312.5px,#157f3b 510.5px)"></i><i style="left:64px;width:2px;background:linear-gradient(#f7fcf5 0.5px,#e0f3db 11.5px,#c7e9c0 18.5px,#aadda4 22.5px,#9ed798 23.5px,#88ce87 24.5px,#6abf71 25.5px,#45ad5f 26.5px,#1e8741 28.5px,#147e3a 29.5px,#026f2e 40.5px,#00692a 53.5px,#05712f 62.5px,#127c39 76.5px,#157f3b 324.5px,#157f3b 510.5px)"></i><i style="left:66px;width:2px;background:linear-gradient(#f7fcf5 0.5px,#e0f3db 11.5px,#c7e9c0 18.5px,#b2e0ac 21.5px,#9ed798 23.5px,#87cd86 24.5px,#68be70 25.5px,#43ac5e 26.5px,#1e8741 28.5px,#147e3a 29.5px,#026f2e 40.5px,#00692a 54.5px,#067230 63.5px,#127c39 77.5px,#157f3b 321.5px,#157f3b 510.5px)"></i><i style="left:68px;width:2px;background:linear-gradient(#f7fcf5 0.5px,#e0f3db 11.5px,#c7e9c0 18.5px,#aadda4 22.5px,#9fd899 23.5px,#88ce87 24.5px,#6abf71 25.5px,#43ac5e 26.5px,#2e964d 27.5px,#1d8640 28.5px,#137d39 29.5px,#026f2e 40.5px,#00692a 52.5px,#03702e 62.5px,#127c39 76.5px,#157f3b 324.5px,#157f3b 510.5px)"></i><i style="left:70px;width:2px;background:linear-gradient(#f7fcf5 0.5px,#e0f3db 11.5px,#c7e9c0 18.5px,#aadda4 22.5px,#9fd899 23.5px,#8ace88 24.5px,#6abf71 25.5px,#43ac5e 26.5px,#1c8540 28.5px,#137d39 29.5px,#006d2c 41.5px,#00682a 54.5px,#03702e 62.5px,#127c39 76.5px,#157f3b 324.5px,#157f3b 510.5px)"></i><i style="left:72px;width:2px;background:linear-gradient(#f7fcf5 0.5px,#e0f3db 11.5px,#c7e9c0 18.5px,#aadda4 22.5px,#a0d99b 23.5px,#8ace88 24.5px,#6abf71 25.5px,#43ac5e 26.5px,#2d954d 27.5px,#1c8540 28.5px,#137d39 29.5px,#016e2d 40.5px,#00682a 55.5px,#03702e 63.5px,#127c39 76.5px,#157f3b 324.5px,#157f3b 510.5px)"></i><i style="left:74px;width:2px;background:linear-gradient(#f7fcf5 0.5px,#e3f4de 10.5px,#c7e9c0 18.5px,#abdda5 22.5px,#a0d99b 23.5px,#8bcf89 24.5px,#6bc072 25.5px,#43ac5e 26.5px,#2d954d 27.5px,#1c8540 28.5px,#127c39 29.5px,#006d2c 41.5px,#006729 55.5px,#026f2e 82.5px,#127c39 105.5px,#157f3b 262.5px,#157f3b 510.5px)"></i><i style="left:76px;width:2px;background:linear-gradient(#f7fcf5 0.5px,#e3f4de 10.5px,#c7e9c0 18.5px,#abdda5 22.5px,#a2d99c 23.5px,#8dd08a 24.5px,#6dc072 25.5px,#45ad5f 26.5px,#2e964d 27.5px,#1c8540 28.5px,#127c39 29.5px,#006d2c 41.5px,#006729 55.5px,#026f2e 82.5px,#127c39 105.5px,#157f3b 262.5px,#157f3b 510.5px)"></i><i style="left:78px;width:2px;background:linear-gradient(#f7fcf5 0.5px,#e9f7e5 7.5px,#cfecc9 16.5px,#bbe4b4 20.5px,#a2d99c 23.5px,#8dd08a 24.5px,#6ec173 25.5px,#46ae60 26.5px,#2e964d 27.5px,#1c8540 28.5px,#127c39 29.5px,#006d2c 41.5px,#006729 55.5px,#026f2e 83.5px,#127c39 105.5px,#157f3b 262.5px,#157f3b 510.5px)"></i><i style="left:80px;width:2px;background:linear-gradient(#f7fcf5 0.5px,#e9f7e5 7.5px,#cfecc9 16.5px,#b5e1ae 21.5px,#a2d99c 23.5px,#8ed08b 24.5px,#70c274 25.5px,#48ae60 26.5px,#2f974e 27.5px,#1c8540 28.5px,#127c39 29.5px,#006d2c 41.5px,#006729 53.5px,#006c2c 77.5px,#107a37 100.5px,#157f3b 155.5px,#157f3b 510.5px)"></i><i style="left:82px;width:2px;background:linear-gradient(#f7fcf5 0.5px,#e9f7e5 7.5px,#cfecc9 16.5px,#bbe4b4 20.5px,#a3da9d 23.5px,#90d18d 24.5px,#70c274 25.5px,#48ae60 26.5px,#2f974e 27.5px,#1d8640 28.5px,#127c39 29.5px,#006d2c 41.5px,#006529 54.5px,#016e2d 81.5px,#127c39 105.5px,#157f3b 262.5px,#157f3b 510.5px)"></i><i style="left:84px;width:2px;background:linear-gradient(#f7fcf5 0.5px,#ebf7e7 6.5px,#dcf2d7 12.5px,#c2e7bb 19.5px,#a3da9d 23.5px,#91d28e 24.5px,#72c375 25.5px,#4aaf61 26.5px,#2f984f 27.5px,#1d8640 28.5px,#127c39 29.5px,#006d2c 40.5px,#006529 55.5px,#026f2e 84.5px,#127c39 105.5px,#157f3b 262.5px,#157f3b 510.5px)"></i><i style="left:86px;width:2px;background:linear-gradient(#f7fcf5 0.5px,#ebf7e7 6.5px,#dbf1d6 12.5px,#c2e7bb 19.5px,#a4da9e 23.5px,#92d28f 24.5px,#73c476 25.5px,#4bb062 26.5px,#309950 27.5px,#1d8640 28.5px,#127c39 29.5px,#006d2c 40.5px,#006529 53.5px,#006c2c 78.5px,#117b38 101.5px,#157f3b 198.5px,#157f3b 510.5px)"></i><i style="left:88px;width:2px;background:linear-gradient(#f7fcf5 0.5px,#ecf8e8 5.5px,#dff3da 11.5px,#c2e7bb 19.5px,#a4da9e 23.5px,#92d28f 24.5px,#75c477 25.5px,#4db163 26.5px,#309950 27.5px,#1d8640 28.5px,#127c39 29.5px,#006d2c 40.5px,#006529 53.5px,#00692a 74.5px,#087432 92.5px,#127c39 105.5px,#157f3b 262.5px,#157f3b 510.5px)"></i><i style="left:90px;width:2px;background:linear-gradient(#f7fcf5 0.5px,#ecf8e8 5.5px,#dff3da 11.5px,#c2e7bb 19.5px,#a4da9e 23.5px,#94d390 24.5px,#76c578 25.5px,#4eb264 26.5px,#319a50 27.5px,#1e8741 28.5px,#127c39 29.5px,#006d2c 40.5px,#006428 55.5px,#006d2c 81.5px,#127c39 105.5px,#157f3b 262.5px,#157f3b 510.5px)"></i><i style="left:92px;width:2px;background:linear-gradient(#f7fcf5 0.5px,#ecf8e8 5.5px,#dff3da 11.5px,#c2e7bb 19.5px,#a5db9f 23.5px,#95d391 24.5px,#78c679 25.5px,#50b264 26.5px,#319a50 27.5px,#1e8741 28.5px,#127c39 29.5px,#006d2c 40.5px,#006428 53.5px,#006b2b 77.5px,#0b7734 96.5px,#127c39 105.5px,#157f3b 262.5px,#157f3b 510.5px)"></i><i style="left:94px;width:2px;background:linear-gradient(#f7fcf5 0.5px,#edf8e9 4.5px,#dff3da 11.5px,#c2e7bb 19.5px,#a5db9f 23.5px,#97d492 24.5px,#79c67a 25.5px,#50b264 26.5px,#329b51 27.5px,#1e8741 28.5px,#127c39 29.5px,#006d2c 40.5px,#006428 53.5px,#00692a 75.5px,#067230 89.5px,#127c39 105.5px,#157f3b 262.5px,#157f3b 510.5px)"></i><i style="left:96px;width:2px;background:linear-gradient(#f7fcf5 0.5px,#edf8e9 4.5px,#dff3da 11.5px,#c2e7bb 19.5px,#a5db9f 23.5px,#97d492 24.5px,#7ac77b 25.5px,#52b365 26.5px,#339c52 27.5px,#1e8741 28.5px,#127c39 29.5px,#006d2c 40.5px,#006428 53.5px,#00682a 74.5px,#05712f 88.5px,#127c39 105.5px,#157f3b 262.5px,#157f3b 510.5px)"></i><i style="left:98px;width:2px;background:linear-gradient(#f7fcf5 0.5px,#edf8e9 4.5px,#dff3da 11.5px,#c2e7bb 19.5px,#a7dba0 23.5px,#98d594 24.5px,#7cc87c 25.5px,#53b466 26.5px,#339c52 27.5px,#1f8742 28.5px,#127c39 29.5px,#006c2c 40.5px,#006328 56.5px,#006b2b 78.5px,#0b7734 96.5px,#127c39 105.5px,#157f3b 262.5px,#157f3b 510.5px)"></i><i style="left:100px;width:2px;background:linear-gradient(#f7fcf5 0.5px,#eef8ea 3.5px,#e2f4dd 10.5px,#c2e7bb 19.5px,#a7dba0 23.5px,#99d595 24.5px,#7dc87e 25.5px,#55b567 26.5px,#349d53 27.5px,#1f8742 28.5px,#127c39 29.5px,#006c2c 40.5px,#006328 55.5px,#006b2b 79.5px,#0d7836 99.5px,#127c39 105.5px,#157f3b 262.5px,#157f3b 510.5px)"></i><i style="left:102px;width:2px;background:linear-gradient(#f7fcf5 0.5px,#eef8ea 3.5px,#e2f4dd 10.5px,#c2e7bb 19.5px,#b0dfaa 22.5px,#99d595 24.5px,#7fc97f 25.5px,#56b567 26.5px,#349d53 27.5px,#1f8742 28.5px,#127c39 29.5px,#006c2c 40.5px,#006328 55.5px,#00692a 77.5px,#067230 90.5px,#127c39 105.5px,#157f3b 262.5px,#157f3b 510.5px)"></i><i style="left:104px;width:2px;background:linear-gradient(#f7fcf5 0.5px,#ecf8e8 4.5px,#e2f4dd 10.5px,#c2e7bb 19.5px,#a8dca2 23.5px,#9bd696 24.5px,#80ca80 25.5px,#58b668 26.5px,#359e53 27.5px,#208843 28.5px,#127c39 29.5px,#006c2c 40.5px,#006328 53.5px,#006729 74.5px,#03702e 87.5px,#127c39 105.5px,#157f3b 262.5px,#157f3b 510.5px)"></i><i style="left:106px;width:2px;background:linear-gradient(#f7fcf5 0.5px,#edf8ea 3.5px,#e2f4dd 10.5px,#c2e7bb 19.5px,#a8dca2 23.5px,#9cd797 24.5px,#80ca80 25.5px,#5ab769 26.5px,#369f54 27.5px,#208843 28.5px,#127c39 29.5px,#006c2c 40.5px,#006328 53.5px,#006529 72.5px,#03702e 87.5px,#127c39 105.5px,#157f3b 262.5px,#157f3b 510.5px)"></i><i style="left:108px;width:2px;background:linear-gradient(#f7fcf5 0.5px,#edf8ea 3.5px,#e2f4dd 10.5px,#bde5b6 20.5px,#a8dca2 23.5px,#9cd797 24.5px,#81ca81 25.5px,#5bb86a 26.5px,#37a055 27.5px,#218944 28.5px,#127c39 29.5px,#006d2c 39.5px,#006227 53.5px,#006729 75.5px,#05712f 89.5px,#127c39 105.5px,#157f3b 262.5px,#157f3b 510.5px)"></i><i style="left:110px;width:2px;background:linear-gradient(#f7fcf5 0.5px,#eff9ec 2.5px,#e2f4dd 10.5px,#bde5b6 20.5px,#a9dca3 23.5px,#9ed798 24.5px,#83cb82 25.5px,#5db96b 26.5px,#37a055 27.5px,#218944 28.5px,#127c39 29.5px,#006d2c 39.5px,#006227 53.5px,#006529 73.5px,#026f2e 86.5px,#127c39 105.5px,#157f3b 262.5px,#157f3b 510.5px)"></i><i style="left:112px;width:2px;background:linear-gradient(#f7fcf5 0.5px,#eff9eb 2.5px,#e2f4dd 10.5px,#bde5b6 20.5px,#a9dca3 23.5px,#9ed798 24.5px,#84cc83 25.5px,#38a156 27.5px,#218944 28.5px,#127c39 29.5px,#006d2c 39.5px,#006328 50.5px,#006428 71.5px,#03702e 88.5px,#127c39 104.5px,#157f3b 265.5px,#157f3b 510.5px)"></i><i style="left:114px;width:2px;background:linear-gradient(#f7fcf5 0.5px,#eff9eb 2.5px,#e2f4dd 10.5px,#bde5b6 20.5px,#a9dca3 23.5px,#9ed798 24.5px,#84cc83 25.5px,#5eb96b 26.5px,#38a156 27.5px,#218944 28.5px,#127c39 29.5px,#006d2c 39.5px,#006227 52.5px,#006328 69.5px,#026f2e 87.5px,#127c39 104.5px,#157f3b 265.5px,#157f3b 510.5px)"></i><i style="left:116px;width:2px;background:linear-gradient(#f7fcf5 0.5px,#eff9eb 2.5px,#e2f4dd 10.5px,#bde5b6 20.5px,#a9dca3 23.5px,#9ed798 24.5px,#84cc83 25.5px,#5eb96b 26.5px,#38a156 27.5px,#228a44 28.5px,#127c39 29.5px,#006c2c 39.5px,#006227 52.5px,#006328 70.5px,#026f2e 87.5px,#127c39 104.5px,#157f3b 265.5px,#157f3b 510.5px)"></i><i style="left:118px;width:2px;background:linear-gradient(#f7fcf5 0.5px,#eef8ea 2.5px,#e5f5e0 9.5px,#c2e7bb 19.5px,#a9dca3 23.5px,#9fd899 24.5px,#86cc85 25.5px,#39a257 27.5px,#228a44 28.5px,#127c39 29.5px,#006c2c 39.5px,#006027 54.5px,#006428 73.5px,#03702e 88.5px,#127c39 104.5px,#157f3b 265.5px,#157f3b 510.5px)"></i><i style="left:120px;width:2px;background:linear-gradient(#f4fbf2 0.5px,#ecf8e8 4.5px,#e2f4dd 10.5px,#bde5b6 20.5px,#a9dca3 23.5px,#9fd899 24.5px,#86cc85 25.5px,#39a257 27.5px,#228a44 28.5px,#127c39 29.5px,#006c2c 39.5px,#006027 54.5px,#006328 71.5px,#026f2e 87.5px,#127c39 104.5px,#157f3b 265.5px,#157f3b 510.5px)"></i><i style="left:122px;width:2px;background:linear-gradient(#ecf8e8 0.5px,#f0f9ed 1.5px,#e2f4dd 10.5px,#bde5b6 20.5px,#a9dca3 23.5px,#9fd899 24.5px,#86cc85 25.5px,#60ba6c 26.5px,#39a257 27.5px,#228a44 28.5px,#127c39 29.5px,#006d2c 38.5px,#006027 52.5px,#006227 70.5px,#026f2e 87.5px,#127c39 104.5px,#157f3b 265.5px,#157f3b 510.5px)"></i><i style="left:124px;width:2px;background:linear-gradient(#b5e1ae 0.5px,#f0f9ec 1.5px,#e2f4dd 10.5px,#bde5b6 20.5px,#a9dca3 23.5px,#9fd899 24.5px,#86cc85 25.5px,#3aa357 27.5px,#238b45 28.5px,#137d39 29.5px,#03702e 36.5px,#006529 44.5px,#005f26 61.5px,#00692a 81.5px,#087432 93.5px,#127c39 105.5px,#157f3b 262.5px,#157f3b 510.5px)"></i><i style="left:126px;width:2px;background:linear-gradient(#00441b 0.5px,#f0f9ec 1.5px,#e2f4dd 10.5px,#bde5b6 20.5px,#a9dca3 23.5px,#9fd899 24.5px,#87cd86 25.5px,#3aa357 27.5px,#238b45 28.5px,#137d39 29.5px,#016e2d 37.5px,#006027 51.5px,#006227 71.5px,#026f2e 88.5px,#127c39 104.5px,#157f3b 265.5px,#157f3b 510.5px)"></i><i style="left:128px;width:2px;background:linear-gradient(#00441b 0.5px,#f2faf0 1.5px,#e1f3dc 10.5px,#c2e7bb 19.5px,#a9dca3 23.5px,#9fd899 24.5px,#87cd86 25.5px,#62bb6d 26.5px,#3aa357 27.5px,#238b45 28.5px,#137d39 29.5px,#016e2d 37.5px,#006027 51.5px,#005f26 67.5px,#026f2e 88.5px,#127c39 104.5px,#157f3b 265.5px,#157f3b 510.5px)"></i><i style="left:130px;width:2px;background:linear-gradient(#f7fcf5 0.5px,#dbf1d6 12.5px,#bde5b6 20.5px,#a9dca3 23.5px,#9fd899 24.5px,#87cd86 25.5px,#3ba458 27.5px,#238b45 28.5px,#137d39 29.5px,#016e2d 37.5px,#005f26 52.5px,#006027 70.5px,#026f2e 88.5px,#127c39 104.5px,#157f3b 265.5px,#157f3b 510.5px)"></i><i style="left:132px;width:2px;background:linear-gradient(#f7fcf5 0.5px,#dbf1d6 12.5px,#bde5b6 20.5px,#aadda4 23.5px,#9fd899 24.5px,#87cd86 25.5px,#3ba458 27.5px,#248c46 28.5px,#137d39 29.5px,#016e2d 37.5px,#005f26 52.5px,#006027 71.5px,#026f2e 88.5px,#127c39 104.5px,#157f3b 265.5px,#157f3b 510.5px)"></i><i style="left:134px;width:2px;background:linear-gradient(#f7fcf5 0.5px,#dbf1d6 12.5px,#bde5b6 20.5px,#aadda4 23.5px,#9fd899 24.5px,#87cd86 25.5px,#63bc6e 26.5px,#3ba458 27.5px,#248c46 28.5px,#137d39 29.5px,#016e2d 37.5px,#005f26 51.5px,#006027 71.5px,#026f2e 88.5px,#127c39 104.5px,#157f3b 265.5px,#157f3b 510.5px)"></i><i style="left:136px;width:2px;background:linear-gradient(#f7fcf5 0.5px,#dbf1d6 12.5px,#bde5b6 20.5px,#a0d99b 24.5px,#88ce87 25.5px,#3ca559 27.5px,#248c46 28.5px,#137d39 29.5px,#016e2d 37.5px,#005f26 51.5px,#005e26 67.5px,#026f2e 88.5px,#127c39 104.5px,#157f3b 265.5px,#157f3b 510.5px)"></i><i style="left:138px;width:2px;background:linear-gradient(#f7fcf5 0.5px,#dbf1d6 12.5px,#bde5b6 20.5px,#a0d99b 24.5px,#88ce87 25.5px,#65bd6f 26.5px,#3ca559 27.5px,#258d47 28.5px,#137d39 29.5px,#016e2d 37.5px,#005f26 51.5px,#005e26 68.5px,#026f2e 89.5px,#127c39 104.5px,#157f3b 265.5px,#157f3b 510.5px)"></i><i style="left:140px;width:2px;background:linear-gradient(#f7fcf5 0.5px,#dbf1d6 12.5px,#bde5b6 20.5px,#a0d99b 24.5px,#88ce87 25.5px,#65bd6f 26.5px,#3da65a 27.5px,#258d47 28.5px,#147e3a 29.5px,#087432 33.5px,#00692a 40.5px,#005e26 55.5px,#005f26 71.5px,#026f2e 89.5px,#127c39 104.5px,#157f3b 265.5px,#157f3b 510.5px)"></i><i style="left:142px;width:2px;background:linear-gradient(#f7fcf5 0.5px,#dbf1d6 12.5px,#c2e7bb 19.5px,#aadda4 23.5px,#a0d99b 24.5px,#8ace88 25.5px,#3da65a 27.5px,#268e47 28.5px,#147e3a 29.5px,#087432 33.5px,#00692a 40.5px,#005e26 54.5px,#005f26 72.5px,#026f2e 89.5px,#127c39 104.5px,#157f3b 265.5px,#157f3b 510.5px)"></i><i style="left:144px;width:2px;background:linear-gradient(#f7fcf5 0.5px,#dbf1d6 12.5px,#c2e7bb 19.5px,#aadda4 23.5px,#a0d99b 24.5px,#8ace88 25.5px,#66bd6f 26.5px,#3ea75a 27.5px,#268e47 28.5px,#147e3a 29.5px,#087432 33.5px,#00692a 40.5px,#005c25 55.5px,#005f26 72.5px,#026f2e 89.5px,#127c39 104.5px,#157f3b 265.5px,#157f3b 510.5px)"></i><i style="left:146px;width:2px;background:linear-gradient(#f7fcf5 0.5px,#dbf1d6 12.5px,#c2e7bb 19.5px,#aadda4 23.5px,#a0d99b 24.5px,#8ace88 25.5px,#66bd6f 26.5px,#3ea75a 27.5px,#278f48 28.5px,#147e3a 29.5px,#087432 33.5px,#00692a 40.5px,#005c25 55.5px,#005e26 71.5px,#026f2e 89.5px,#127c39 104.5px,#157f3b 265.5px,#157f3b 510.5px)"></i><i style="left:148px;width:2px;background:linear-gradient(#f7fcf5 0.5px,#dbf1d6 12.5px,#c2e7bb 19.5px,#aadda4 23.5px,#a0d99b 24.5px,#8ace88 25.5px,#68be70 26.5px,#3fa85b 27.5px,#278f48 28.5px,#157f3b 29.5px,#0c7735 31.5px,#006b2b 39.5px,#005c25 55.5px,#005e26 72.5px,#026f2e 89.5px,#127c39 104.5px,#157f3b 265.5px,#157f3b 510.5px)"></i><i style="left:150px;width:2px;background:linear-gradient(#f7fcf5 0.5px,#dbf1d6 12.5px,#c2e7bb 19.5px,#aadda4 23.5px,#a0d99b 24.5px,#8bcf89 25.5px,#68be70 26.5px,#3fa85b 27.5px,#289049 28.5px,#157f3b 29.5px,#0c7735 31.5px,#006b2b 39.5px,#005c25 55.5px,#005e26 72.5px,#026f2e 89.5px,#127c39 104.5px,#157f3b 265.5px,#157f3b 510.5px)"></i><i style="left:152px;width:2px;background:linear-gradient(#f7fcf5 0.5px,#dbf1d6 12.5px,#c2e7bb 19.5px,#aadda4 23.5px,#a0d99b 24.5px,#8bcf89 25.5px,#68be70 26.5px,#3fa95c 27.5px,#289049 28.5px,#157f3b 29.5px,#0c7735 31.5px,#006b2b 39.5px,#005c25 54.5px,#005e26 73.5px,#026f2e 89.5px,#127c39 104.5px,#157f3b 265.5px,#157f3b 510.5px)"></i><i style="left:154px;width:2px;background:linear-gradient(#f7fcf5 0.5px,#dbf1d6 12.5px,#c3e7bc 19.5px,#aadda4 23.5px,#a0d99b 24.5px,#8bcf89 25.5px,#6abf71 26.5px,#3fa95c 27.5px,#29914a 28.5px,#16803c 29.5px,#0e7936 30.5px,#006b2b 39.5px,#005c25 54.5px,#005b25 69.5px,#026f2e 90.5px,#127c39 104.5px,#157f3b 265.5px,#157f3b 510.5px)"></i><i style="left:156px;width:2px;background:linear-gradient(#f7fcf5 0.5px,#dbf1d6 12.5px,#c3e7bc 19.5px,#aadda4 23.5px,#a2d99c 24.5px,#8bcf89 25.5px,#6abf71 26.5px,#40aa5d 27.5px,#29914a 28.5px,#16803c 29.5px,#0e7936 30.5px,#006b2b 39.5px,#005b25 55.5px,#005c25 72.5px,#026f2e 90.5px,#127c39 104.5px,#157f3b 265.5px,#157f3b 510.5px)"></i><i style="left:158px;width:2px;background:linear-gradient(#f7fcf5 0.5px,#dbf1d6 12.5px,#c3e7bc 19.5px,#aadda4 23.5px,#a2d99c 24.5px,#8dd08a 25.5px,#6bc072 26.5px,#40aa5d 27.5px,#2a924a 28.5px,#16803c 29.5px,#0e7936 30.5px,#006b2b 39.5px,#005c25 53.5px,#005b25 71.5px,#026f2e 90.5px,#127c39 104.5px,#157f3b 265.5px,#157f3b 510.5px)"></i><i style="left:160px;width:2px;background:linear-gradient(#f7fcf5 0.5px,#dbf1d6 12.5px,#c3e7bc 19.5px,#aadda4 23.5px,#a2d99c 24.5px,#8dd08a 25.5px,#6bc072 26.5px,#42ab5d 27.5px,#2a924a 28.5px,#17813d 29.5px,#0e7936 30.5px,#006b2b 39.5px,#005c25 53.5px,#005b25 71.5px,#026f2e 90.5px,#127c39 104.5px,#157f3b 265.5px,#157f3b 510.5px)"></i><i style="left:162px;width:2px;background:linear-gradient(#f7fcf5 0.5px,#dbf1d6 12.5px,#c3e7bc 19.5px,#aadda4 23.5px,#a2d99c 24.5px,#8dd08a 25.5px,#6bc072 26.5px,#42ab5d 27.5px,#2b934b 28.5px,#17813d 29.5px,#0e7936 30.5px,#006b2b 39.5px,#005b25 54.5px,#005a24 70.5px,#026f2e 90.5px,#127c39 104.5px,#157f3b 265.5px,#157f3b 510.5px)"></i><i style="left:164px;width:2px;background:linear-gradient(#f7fcf5 0.5px,#dbf1d6 12.5px,#c3e7bc 19.5px,#aadda4 23.5px,#a2d99c 24.5px,#8dd08a 25.5px,#6dc072 26.5px,#43ac5e 27.5px,#2b934b 28.5px,#17813d 29.5px,#0e7936 30.5px,#006b2b 39.5px,#005b25 54.5px,#005a24 71.5px,#026f2e 90.5px,#127c39 104.5px,#157f3b 265.5px,#157f3b 510.5px)"></i><i style="left:166px;width:2px;background:linear-gradient(#f7fcf5 0.5px,#dbf1d5 12.5px,#c3e7bc 19.5px,#abdda5 23.5px,#a2d99c 24.5px,#8ed08b 25.5px,#6dc072 26.5px,#43ac5e 27.5px,#2c944c 28.5px,#18823d 29.5px,#0e7936 30.5px,#006b2b 39.5px,#005b25 54.5px,#005a24 71.5px,#006c2c 88.5px,#127c39 104.5px,#157f3b 265.5px,#157f3b 510.5px)"></i><i style="left:168px;width:2px;background:linear-gradient(#f7fcf5 0.5px,#dbf1d5 12.5px,#c3e7bc 19.5px,#abdda5 23.5px,#a2d99c 24.5px,#8ed08b 25.5px,#6ec173 26.5px,#45ad5f 27.5px,#2c944c 28.5px,#18823d 29.5px,#0e7936 30.5px,#006b2b 39.5px,#005b25 54.5px,#005a24 72.5px,#026f2e 90.5px,#127c39 104.5px,#157f3b 265.5px,#157f3b 510.5px)"></i><i style="left:170px;width:2px;background:linear-gradient(#f7fcf5 0.5px,#dbf1d5 12.5px,#c3e7bc 19.5px,#abdda5 23.5px,#a2d99c 24.5px,#8ed08b 25.5px,#6ec173 26.5px,#45ad5f 27.5px,#18823d 29.5px,#0e7936 30.5px,#006b2b 39.5px,#005a24 55.5px,#005b25 74.5px,#016e2d 90.5px,#127c39 103.5px,#157f3b 268.5px,#157f3b 510.5px)"></i><i style="left:172px;width:2px;background:linear-gradient(#f7fcf5 0.5px,#dbf1d5 12.5px,#c3e7bc 19.5px,#abdda5 23.5px,#a2d99c 24.5px,#8ed08b 25.5px,#6ec173 26.5px,#46ae60 27.5px,#2d954d 28.5px,#19833e 29.5px,#0e7936 30.5px,#006b2b 39.5px,#005a24 55.5px,#005924 71.5px,#00692a 86.5px,#087432 95.5px,#127c39 104.5px,#157f3b 265.5px,#157f3b 510.5px)"></i><i style="left:174px;width:2px;background:linear-gradient(#f7fcf5 0.5px,#d5efcf 14.5px,#bee5b8 20.5px,#a2d99c 24.5px,#90d18d 25.5px,#70c274 26.5px,#46ae60 27.5px,#19833e 29.5px,#0e7936 30.5px,#006b2b 39.5px,#005b25 53.5px,#005924 70.5px,#006428 83.5px,#026f2e 91.5px,#127c39 103.5px,#157f3b 268.5px,#157f3b 510.5px)"></i><i style="left:176px;width:2px;background:linear-gradient(#f7fcf5 0.5px,#d5efcf 14.5px,#bee5b8 20.5px,#a2d99c 24.5px,#90d18d 25.5px,#70c274 26.5px,#48ae60 27.5px,#2e964d 28.5px,#1a843f 29.5px,#0e7936 30.5px,#006b2b 39.5px,#005a24 55.5px,#005924 73.5px,#026f2e 91.5px,#127c39 103.5px,#157f3b 268.5px,#157f3b 510.5px)"></i><i style="left:178px;width:2px;background:linear-gradient(#f7fcf5 0.5px,#d2edcc 15.5px,#b8e3b2 21.5px,#a3da9d 24.5px,#91d28e 25.5px,#72c375 26.5px,#4aaf61 27.5px,#2f974e 28.5px,#1a843f 29.5px,#0e7936 30.5px,#006b2b 39.5px,#005924 56.5px,#005a24 75.5px,#026f2e 91.5px,#127c39 103.5px,#157f3b 268.5px,#157f3b 510.5px)"></i><i style="left:180px;width:2px;background:linear-gradient(#f7fcf5 0.5px,#d2edcc 15.5px,#b8e3b2 21.5px,#a3da9d 24.5px,#91d28e 25.5px,#73c476 26.5px,#4bb062 27.5px,#2f984f 28.5px,#1a843f 29.5px,#0e7936 30.5px,#006b2b 39.5px,#005924 55.5px,#005723 74.5px,#026f2e 91.5px,#127c39 103.5px,#157f3b 268.5px,#157f3b 510.5px)"></i><i style="left:182px;width:2px;background:linear-gradient(#f7fcf5 0.5px,#d2edcc 15.5px,#b8e3b2 21.5px,#a3da9d 24.5px,#92d28f 25.5px,#75c477 26.5px,#4bb062 27.5px,#2f984f 28.5px,#1c8540 29.5px,#0e7936 30.5px,#006b2b 39.5px,#005a24 53.5px,#005522 72.5px,#006529 86.5px,#05712f 93.5px,#127c39 103.5px,#157f3b 268.5px,#157f3b 510.5px)"></i><i style="left:184px;width:2px;background:linear-gradient(#f7fcf5 0.5px,#cfecc9 16.5px,#b4e1ad 22.5px,#a4da9e 24.5px,#92d28f 25.5px,#76c578 26.5px,#4db163 27.5px,#309950 28.5px,#1c8540 29.5px,#107a37 30.5px,#006c2c 38.5px,#005924 54.5px,#005321 72.5px,#006428 86.5px,#026f2e 92.5px,#127c39 103.5px,#157f3b 268.5px,#157f3b 510.5px)"></i><i style="left:186px;width:2px;background:linear-gradient(#f7fcf5 0.5px,#cfecc9 16.5px,#b4e1ad 22.5px,#a4da9e 24.5px,#94d390 25.5px,#76c578 26.5px,#4eb264 27.5px,#319a50 28.5px,#1d8640 29.5px,#107a37 30.5px,#006c2c 38.5px,#005723 55.5px,#005321 75.5px,#00692a 89.5px,#0a7633 97.5px,#127c39 102.5px,#157f3b 272.5px,#157f3b 510.5px)"></i><i style="left:188px;width:2px;background:linear-gradient(#f7fcf5 0.5px,#cfecc9 16.5px,#b4e1ad 22.5px,#a4da9e 24.5px,#94d390 25.5px,#78c679 26.5px,#50b264 27.5px,#329b51 28.5px,#1d8640 29.5px,#107a37 30.5px,#006c2c 38.5px,#005622 56.5px,#005221 75.5px,#006227 86.5px,#03702e 93.5px,#127c39 102.5px,#157f3b 272.5px,#157f3b 510.5px)"></i><i style="left:190px;width:2px;background:linear-gradient(#f7fcf5 0.5px,#cfecc9 16.5px,#b4e1ad 22.5px,#a4da9e 24.5px,#95d391 25.5px,#79c67a 26.5px,#52b365 27.5px,#329b51 28.5px,#1e8741 29.5px,#107a37 30.5px,#006c2c 38.5px,#005924 52.5px,#005120 71.5px,#005622 80.5px,#016e2d 92.5px,#127c39 102.5px,#157f3b 272.5px,#157f3b 510.5px)"></i><i style="left:192px;width:2px;background:linear-gradient(#f7fcf5 0.5px,#cfecc9 16.5px,#b4e1ad 22.5px,#a4da9e 24.5px,#95d391 25.5px,#79c67a 26.5px,#53b466 27.5px,#339c52 28.5px,#1e8741 29.5px,#107a37 30.5px,#006c2c 38.5px,#005723 53.5px,#005020 74.5px,#005522 81.5px,#026f2e 93.5px,#127c39 102.5px,#157f3b 272.5px,#157f3b 510.5px)"></i><i style="left:194px;width:2px;background:linear-gradient(#f7fcf5 0.5px,#cfecc9 16.5px,#aedea7 23.5px,#a5db9f 24.5px,#97d492 25.5px,#7ac77b 26.5px,#53b466 27.5px,#349d53 28.5px,#1f8742 29.5px,#107a37 30.5px,#006c2c 38.5px,#005622 54.5px,#004e1f 76.5px,#005b25 85.5px,#026f2e 93.5px,#127c39 102.5px,#157f3b 272.5px,#157f3b 510.5px)"></i><i style="left:196px;width:2px;background:linear-gradient(#f7fcf5 0.5px,#cfecc9 16.5px,#aedea7 23.5px,#a5db9f 24.5px,#97d492 25.5px,#7cc87c 26.5px,#55b567 27.5px,#349d53 28.5px,#1f8742 29.5px,#117b38 30.5px,#016e2d 37.5px,#005723 52.5px,#004e1f 72.5px,#005120 81.5px,#016e2d 93.5px,#127c39 102.5px,#157f3b 272.5px,#157f3b 510.5px)"></i><i style="left:198px;width:2px;background:linear-gradient(#f7fcf5 0.5px,#cfecc9 16.5px,#aedea7 23.5px,#98d594 25.5px,#7dc87e 26.5px,#56b567 27.5px,#359e53 28.5px,#208843 29.5px,#117b38 30.5px,#016e2d 37.5px,#005622 53.5px,#004d1f 73.5px,#005020 81.5px,#006d2c 93.5px,#127c39 102.5px,#157f3b 272.5px,#157f3b 510.5px)"></i><i style="left:200px;width:2px;background:linear-gradient(#f7fcf5 0.5px,#cfecc9 16.5px,#aedea7 23.5px,#99d595 25.5px,#7dc87e 26.5px,#369f54 28.5px,#218944 29.5px,#117b38 30.5px,#016e2d 37.5px,#005522 54.5px,#004c1e 76.5px,#005020 83.5px,#026f2e 94.5px,#127c39 102.5px,#157f3b 272.5px,#157f3b 510.5px)"></i><i style="left:202px;width:2px;background:linear-gradient(#f7fcf5 0.5px,#cfecc9 16.5px,#aedea7 23.5px,#a7dba0 24.5px,#99d595 25.5px,#80ca80 26.5px,#37a055 28.5px,#218944 29.5px,#117b38 30.5px,#016e2d 37.5px,#005723 52.5px,#004c1e 71.5px,#004d1f 83.5px,#006027 90.5px,#016e2d 94.5px,#127c39 102.5px,#157f3b 272.5px,#157f3b 510.5px)"></i><i style="left:204px;width:2px;background:linear-gradient(#f7fcf5 0.5px,#cfecc9 16.5px,#b5e1ae 22.5px,#a7dba0 24.5px,#9bd696 25.5px,#81ca81 26.5px,#38a156 28.5px,#228a44 29.5px,#127c39 30.5px,#087432 33.5px,#00682a 40.5px,#005321 55.5px,#004a1e 75.5px,#004c1e 84.5px,#006529 91.5px,#077331 95.5px,#0e7936 100.5px,#157f3b 206.5px,#157f3b 510.5px)"></i><i style="left:206px;width:2px;background:linear-gradient(#f7fcf5 0.5px,#cfecc9 16.5px,#b5e1ae 22.5px,#a8dca2 24.5px,#9cd797 25.5px,#83cb82 26.5px,#5eb96b 27.5px,#39a257 28.5px,#238b45 29.5px,#127c39 30.5px,#087432 33.5px,#00682a 40.5px,#005221 56.5px,#00491d 76.5px,#004a1e 85.5px,#006729 92.5px,#0d7836 98.5px,#157f3b 193.5px,#157f3b 510.5px)"></i><i style="left:208px;width:2px;background:linear-gradient(#f7fcf5 0.5px,#cfecc9 16.5px,#b5e1ae 22.5px,#9ed798 25.5px,#84cc83 26.5px,#60ba6c 27.5px,#3aa357 28.5px,#238b45 29.5px,#127c39 30.5px,#087432 33.5px,#00682a 40.5px,#005120 57.5px,#00481d 79.5px,#00491d 86.5px,#005f26 91.5px,#05712f 95.5px,#0d7836 99.5px,#157f3b 193.5px,#157f3b 510.5px)"></i><i style="left:210px;width:2px;background:linear-gradient(#f7fcf5 0.5px,#cfecc9 16.5px,#b0dfaa 23.5px,#9ed798 25.5px,#86cc85 26.5px,#62bb6d 27.5px,#3ba458 28.5px,#248c46 29.5px,#127c39 30.5px,#087432 33.5px,#00682a 40.5px,#005020 58.5px,#00471c 80.5px,#00481d 87.5px,#006529 93.5px,#077331 96.5px,#0e7936 101.5px,#157f3b 205.5px,#157f3b 510.5px)"></i><i style="left:212px;width:2px;background:linear-gradient(#f7fcf5 0.5px,#cfecc9 16.5px,#b0dfaa 23.5px,#9fd899 25.5px,#88ce87 26.5px,#3da65a 28.5px,#258d47 29.5px,#137d39 30.5px,#0a7633 32.5px,#00692a 39.5px,#004e1f 59.5px,#00451c 83.5px,#00471c 88.5px,#005a24 92.5px,#016e2d 95.5px,#0c7735 98.5px,#137d39 143.5px,#157f3b 510.5px)"></i><i style="left:214px;width:2px;background:linear-gradient(#f7fcf5 0.5px,#cfecc9 16.5px,#b0dfaa 23.5px,#a0d99b 25.5px,#8ace88 26.5px,#66bd6f 27.5px,#3ea75a 28.5px,#268e47 29.5px,#137d39 30.5px,#0a7633 32.5px,#00692a 39.5px,#004e1f 59.5px,#00451c 81.5px,#00471c 89.5px,#005622 92.5px,#006c2c 95.5px,#0c7735 98.5px,#137d39 143.5px,#157f3b 510.5px)"></i><i style="left:216px;width:2px;background:linear-gradient(#f7fcf5 0.5px,#cfecc9 16.5px,#b0dfaa 23.5px,#a0d99b 25.5px,#8bcf89 26.5px,#68be70 27.5px,#3fa85b 28.5px,#278f48 29.5px,#147e3a 30.5px,#0c7735 31.5px,#00692a 39.5px,#004e1f 59.5px,#00451c 81.5px,#00451c 89.5px,#005522 92.5px,#006c2c 95.5px,#0c7735 98.5px,#137d39 143.5px,#157f3b 510.5px)"></i><i style="left:218px;width:2px;background:linear-gradient(#f7fcf5 0.5px,#cfecc9 16.5px,#b1e0ab 23.5px,#a2d99c 25.5px,#8dd08a 26.5px,#6abf71 27.5px,#3fa95c 28.5px,#289049 29.5px,#147e3a 30.5px,#0c7735 31.5px,#00692a 39.5px,#004e1f 59.5px,#00451c 81.5px,#00451c 89.5px,#005321 92.5px,#006b2b 95.5px,#0c7735 98.5px,#137d39 143.5px,#157f3b 510.5px)"></i><i style="left:220px;width:2px;background:linear-gradient(#f7fcf5 0.5px,#cfecc9 16.5px,#b1e0ab 23.5px,#a2d99c 25.5px,#8ed08b 26.5px,#6dc072 27.5px,#40aa5d 28.5px,#289049 29.5px,#147e3a 30.5px,#0c7735 31.5px,#006b2b 39.5px,#005120 56.5px,#00451c 78.5px,#00471c 90.5px,#00692a 95.5px,#0c7735 98.5px,#137d39 143.5px,#157f3b 510.5px)"></i><i style="left:222px;width:2px;background:linear-gradient(#f7fcf5 0.5px,#cfecc9 16.5px,#b1e0ab 23.5px,#a3da9d 25.5px,#90d18d 26.5px,#6ec173 27.5px,#42ab5d 28.5px,#29914a 29.5px,#157f3b 30.5px,#0c7735 31.5px,#006b2b 39.5px,#005120 56.5px,#00451c 78.5px,#00451c 90.5px,#005723 93.5px,#026f2e 96.5px,#0c7735 98.5px,#137d39 143.5px,#157f3b 510.5px)"></i><i style="left:224px;width:2px;background:linear-gradient(#f7fcf5 0.5px,#cfecc9 16.5px,#b1e0ab 23.5px,#a3da9d 25.5px,#91d28e 26.5px,#70c274 27.5px,#45ad5f 28.5px,#2a924a 29.5px,#157f3b 30.5px,#0c7735 31.5px,#006b2b 39.5px,#005120 56.5px,#00451c 78.5px,#00441b 90.5px,#005622 93.5px,#026f2e 96.5px,#0c7735 98.5px,#137d39 143.5px,#157f3b 510.5px)"></i><i style="left:226px;width:2px;background:linear-gradient(#f7fcf5 0.5px,#cfecc9 16.5px,#b1e0ab 23.5px,#a3da9d 25.5px,#92d28f 26.5px,#72c375 27.5px,#46ae60 28.5px,#2b934b 29.5px,#16803c 30.5px,#0c7735 31.5px,#006b2b 39.5px,#005221 55.5px,#00451c 76.5px,#00471c 91.5px,#005c25 94.5px,#016e2d 96.5px,#0c7735 98.5px,#137d39 143.5px,#157f3b 510.5px)"></i><i style="left:228px;width:2px;background:linear-gradient(#f7fcf5 0.5px,#cfecc9 16.5px,#b2e0ac 23.5px,#a4da9e 25.5px,#94d390 26.5px,#75c477 27.5px,#48ae60 28.5px,#2c944c 29.5px,#16803c 30.5px,#0c7735 31.5px,#006b2b 39.5px,#005221 55.5px,#00451c 76.5px,#00451c 91.5px,#005b25 94.5px,#006d2c 96.5px,#0d7836 99.5px,#157f3b 192.5px,#157f3b 510.5px)"></i><i style="left:230px;width:2px;background:linear-gradient(#f7fcf5 0.5px,#cfecc9 16.5px,#acdea6 24.5px,#a4da9e 25.5px,#95d391 26.5px,#76c578 27.5px,#4bb062 28.5px,#2d954d 29.5px,#17813d 30.5px,#0c7735 31.5px,#006b2b 39.5px,#005221 55.5px,#00451c 76.5px,#00441b 91.5px,#005924 94.5px,#006c2c 96.5px,#0b7734 98.5px,#107a37 109.5px,#157f3b 213.5px,#157f3b 510.5px)"></i></div></div>
<div class="hm" style="left:509.6px;top:614.8px;width:231.8px;height:510px"><div style="position:absolute;left:-0.6px;top:-0.8px;width:233px;height:511px"><i style="left:0px;width:2px;background:linear-gradient(#f6fcf4 0.5px,#f1faee 107.5px,#dff3da 164.5px,#d9f0d3 203.5px,#d5efcf 459.5px,#d5efcf 510.5px)"></i><i style="left:2px;width:2px;background:linear-gradient(#f6fcf4 0.5px,#f1faee 106.5px,#ddf2d8 169.5px,#d8f0d2 224.5px,#d5efcf 510.5px)"></i><i style="left:4px;width:2px;background:linear-gradient(#f6fcf4 0.5px,#f1faee 106.5px,#daf0d4 186.5px,#d5efcf 413.5px,#d5efcf 510.5px)"></i><i style="left:6px;width:2px;background:linear-gradient(#f6fcf4 0.5px,#f1faee 105.5px,#daf0d4 186.5px,#d5efcf 413.5px,#d5efcf 510.5px)"></i><i style="left:8px;width:2px;background:linear-gradient(#f6fcf4 0.5px,#f1faee 104.5px,#daf0d4 186.5px,#d5efcf 413.5px,#d5efcf 510.5px)"></i><i style="left:10px;width:2px;background:linear-gradient(#f6fcf4 0.5px,#f1faee 104.5px,#daf0d4 185.5px,#d5efcf 416.5px,#d5efcf 510.5px)"></i><i style="left:12px;width:2px;background:linear-gradient(#f6fcf4 0.5px,#f1faee 103.5px,#dbf1d5 181.5px,#d5efcf 377.5px,#d5efcf 510.5px)"></i><i style="left:14px;width:2px;background:linear-gradient(#f6fcf4 0.5px,#f1faee 102.5px,#daf0d4 185.5px,#d5efcf 416.5px,#d5efcf 510.5px)"></i><i style="left:16px;width:2px;background:linear-gradient(#f6fcf4 0.5px,#f1faee 102.5px,#dbf1d5 180.5px,#d5efcf 380.5px,#d5efcf 510.5px)"></i><i style="left:18px;width:2px;background:linear-gradient(#f6fcf4 0.5px,#f1faee 101.5px,#dbf1d5 180.5px,#d5efcf 380.5px,#d5efcf 510.5px)"></i><i style="left:20px;width:2px;background:linear-gradient(#f6fcf4 0.5px,#f1faee 101.5px,#dbf1d5 178.5px,#d5efcf 385.5px,#d5efcf 510.5px)"></i><i style="left:22px;width:2px;background:linear-gradient(#f6fcf4 0.5px,#f1faee 100.5px,#dbf1d5 176.5px,#d5efcf 391.5px,#d5efcf 510.5px)"></i><i style="left:24px;width:2px;background:linear-gradient(#f6fcf4 0.5px,#f1faee 99.5px,#dbf1d6 169.5px,#d5efcf 361.5px,#d5efcf 510.5px)"></i><i style="left:26px;width:2px;background:linear-gradient(#f6fcf4 0.5px,#f1faee 99.5px,#ddf2d8 159.5px,#d7efd1 256.5px,#d5efcf 510.5px)"></i><i style="left:28px;width:2px;background:linear-gradient(#f6fcf4 0.5px,#f1faee 98.5px,#ddf2d8 154.5px,#d7efd1 265.5px,#d5efcf 510.5px)"></i><i style="left:30px;width:2px;background:linear-gradient(#f6fcf4 0.5px,#f1faee 98.5px,#dcf2d7 153.5px,#d5efcf 358.5px,#d5efcf 510.5px)"></i><i style="left:32px;width:2px;background:linear-gradient(#f6fcf4 0.5px,#f1faee 97.5px,#dbf1d5 153.5px,#d5efcf 428.5px,#d5efcf 510.5px)"></i><i style="left:34px;width:2px;background:linear-gradient(#f6fcf4 0.5px,#f1faee 97.5px,#d9f0d3 153.5px,#d5efcf 510.5px)"></i><i style="left:36px;width:2px;background:linear-gradient(#f6fcf4 0.5px,#f2faef 94.5px,#d7efd1 152.5px,#d7efd1 280.5px,#d5efcf 510.5px)"></i><i style="left:38px;width:2px;background:linear-gradient(#f6fcf4 0.5px,#f2faef 94.5px,#ddf2d8 132.5px,#d5efcf 154.5px,#d9f0d3 216.5px,#d5efcf 494.5px,#d5efcf 510.5px)"></i><i style="left:40px;width:2px;background:linear-gradient(#f6fcf4 0.5px,#f2faef 93.5px,#e1f3dc 125.5px,#d3eecd 150.5px,#d9f0d3 208.5px,#d5efcf 504.5px,#d5efcf 510.5px)"></i><i style="left:42px;width:2px;background:linear-gradient(#f6fcf4 0.5px,#f2faef 93.5px,#dff3da 126.5px,#d1edcb 151.5px,#d8f0d2 202.5px,#d5efcf 510.5px)"></i><i style="left:44px;width:2px;background:linear-gradient(#f6fcf4 0.5px,#f2faef 92.5px,#e1f3dc 122.5px,#d0edca 149.5px,#d3eecd 173.5px,#d7efd1 199.5px,#d5efcf 510.5px)"></i><i style="left:46px;width:2px;background:linear-gradient(#f6fcf4 0.5px,#f2faef 91.5px,#e1f3dc 121.5px,#d0edca 146.5px,#d0edca 167.5px,#d6efd0 194.5px,#d5efcf 510.5px)"></i><i style="left:48px;width:2px;background:linear-gradient(#f6fcf4 0.5px,#f2faef 91.5px,#e0f3db 121.5px,#d0edca 144.5px,#d0edca 168.5px,#d5efcf 195.5px,#d5efcf 510.5px)"></i><i style="left:50px;width:2px;background:linear-gradient(#f6fcf4 0.5px,#f2faef 90.5px,#e3f4de 117.5px,#d3eecd 137.5px,#cfecc9 162.5px,#d4eece 194.5px,#d5efcf 510.5px)"></i><i style="left:52px;width:2px;background:linear-gradient(#f6fcf4 0.5px,#f2faef 90.5px,#e1f3dc 118.5px,#d3eecd 135.5px,#cfecc9 162.5px,#d2edcc 193.5px,#d5efcf 510.5px)"></i><i style="left:54px;width:2px;background:linear-gradient(#f6fcf4 0.5px,#f2faef 89.5px,#e2f4dd 116.5px,#d2edcc 135.5px,#d0edca 166.5px,#d0edca 198.5px,#d5efcf 510.5px)"></i><i style="left:56px;width:2px;background:linear-gradient(#f6fcf4 0.5px,#f2faef 89.5px,#e3f4de 114.5px,#d2edcc 132.5px,#cfecc9 194.5px,#cfecc9 276.5px,#d5efcf 455.5px,#d5efcf 510.5px)"></i><i style="left:58px;width:2px;background:linear-gradient(#f6fcf4 0.5px,#f2faef 88.5px,#e3f4de 113.5px,#d1edcb 132.5px,#cfecc9 189.5px,#cbebc5 225.5px,#d5efcf 424.5px,#d5efcf 510.5px)"></i><i style="left:60px;width:2px;background:linear-gradient(#f6fcf4 0.5px,#f2faef 88.5px,#e4f5df 112.5px,#d1edcb 129.5px,#cfecc9 156.5px,#cfecc9 185.5px,#cbeac4 214.5px,#d5efcf 424.5px,#d5efcf 510.5px)"></i><i style="left:62px;width:2px;background:linear-gradient(#f6fcf4 0.5px,#f2faef 87.5px,#e3f4de 112.5px,#d0edca 129.5px,#cdecc7 149.5px,#cdecc7 187.5px,#caeac3 218.5px,#d5efcf 418.5px,#d5efcf 510.5px)"></i><i style="left:64px;width:2px;background:linear-gradient(#f6fcf4 0.5px,#f2faef 87.5px,#e5f5e1 109.5px,#ceecc8 129.5px,#ccebc6 154.5px,#ccebc6 186.5px,#c9eac2 220.5px,#d5efcf 412.5px,#d5efcf 510.5px)"></i><i style="left:66px;width:2px;background:linear-gradient(#f6fcf4 0.5px,#f2faef 87.5px,#e5f5e0 109.5px,#cdecc7 128.5px,#caeac3 145.5px,#cbebc5 184.5px,#c8e9c1 220.5px,#d5efcf 405.5px,#d5efcf 510.5px)"></i><i style="left:68px;width:2px;background:linear-gradient(#f6fcf4 0.5px,#f2faef 86.5px,#e5f5e1 108.5px,#cdecc7 127.5px,#c8e9c1 143.5px,#c9eac2 188.5px,#cbeac4 262.5px,#d5efcf 405.5px,#d5efcf 510.5px)"></i><i style="left:70px;width:2px;background:linear-gradient(#f6fcf4 0.5px,#f2faef 86.5px,#e5f5e0 108.5px,#caeac3 129.5px,#c7e9c0 150.5px,#cbeac4 263.5px,#d5efcf 404.5px,#d6efd0 510.5px)"></i><i style="left:72px;width:2px;background:linear-gradient(#f6fcf4 0.5px,#f2faef 86.5px,#e4f5df 108.5px,#cbeac4 127.5px,#c4e8bd 141.5px,#cbebc5 273.5px,#d5efcf 407.5px,#d6efd0 510.5px)"></i><i style="left:74px;width:2px;background:linear-gradient(#f6fcf4 0.5px,#f2faef 85.5px,#e5f5e0 107.5px,#c8e9c1 128.5px,#c2e7bb 144.5px,#d5efcf 407.5px,#d6efd0 510.5px)"></i><i style="left:76px;width:2px;background:linear-gradient(#f6fcf4 0.5px,#f2faef 85.5px,#e4f5df 107.5px,#c7e9c0 128.5px,#c0e6b9 143.5px,#d4eece 386.5px,#d6efd0 510.5px)"></i><i style="left:78px;width:2px;background:linear-gradient(#f6fcf4 0.5px,#f2faef 85.5px,#e5f5e0 106.5px,#c6e8bf 127.5px,#bee5b8 141.5px,#d4eece 383.5px,#d6efd0 510.5px)"></i><i style="left:80px;width:2px;background:linear-gradient(#f6fcf4 0.5px,#f2faef 84.5px,#e5f5e1 105.5px,#c2e7bb 129.5px,#bce4b5 147.5px,#d4eece 370.5px,#d6efd0 510.5px)"></i><i style="left:82px;width:2px;background:linear-gradient(#f6fcf4 0.5px,#f2faef 84.5px,#e4f5df 106.5px,#c3e7bc 127.5px,#bbe4b4 141.5px,#d4eece 371.5px,#d6efd0 510.5px)"></i><i style="left:84px;width:2px;background:linear-gradient(#f6fcf4 0.5px,#f2faef 84.5px,#e5f5e0 105.5px,#bee5b8 129.5px,#b8e3b2 146.5px,#cfecc9 314.5px,#d5efcf 431.5px,#d6efd0 510.5px)"></i><i style="left:86px;width:2px;background:linear-gradient(#f6fcf4 0.5px,#f2faef 84.5px,#e5f5e1 104.5px,#bee5b8 128.5px,#b6e2af 142.5px,#cdecc7 298.5px,#d5efcf 413.5px,#d6efd0 510.5px)"></i><i style="left:88px;width:2px;background:linear-gradient(#f6fcf4 0.5px,#f2faef 84.5px,#e5f5e0 104.5px,#bae3b3 130.5px,#b4e1ad 148.5px,#cbebc5 282.5px,#d5efcf 405.5px,#d6efd0 510.5px)"></i><i style="left:90px;width:2px;background:linear-gradient(#f6fcf4 0.5px,#f2faef 83.5px,#e5f5e0 104.5px,#bbe4b4 128.5px,#b1e0ab 141.5px,#cbebc5 286.5px,#d5efcf 403.5px,#d6efd0 510.5px)"></i><i style="left:92px;width:2px;background:linear-gradient(#f6fcf4 0.5px,#f2faef 83.5px,#e5f5e1 103.5px,#b8e3b2 128.5px,#afdfa8 141.5px,#bae3b3 200.5px,#caeac3 275.5px,#d4eece 386.5px,#d6efd0 510.5px)"></i><i style="left:94px;width:2px;background:linear-gradient(#f6fcf4 0.5px,#f2faef 83.5px,#e5f5e0 103.5px,#b6e2af 128.5px,#acdea6 141.5px,#b4e1ad 187.5px,#c9eac2 271.5px,#d4eece 385.5px,#d6efd0 510.5px)"></i><i style="left:96px;width:2px;background:linear-gradient(#f6fcf4 0.5px,#f2faef 83.5px,#e4f5df 103.5px,#b4e1ad 128.5px,#aadda4 140.5px,#acdea6 170.5px,#c8e9c1 270.5px,#d4eece 384.5px,#d6efd0 510.5px)"></i><i style="left:98px;width:2px;background:linear-gradient(#f6fcf4 0.5px,#f2faef 82.5px,#e5f5e0 102.5px,#b1e0ab 128.5px,#a7dba0 141.5px,#afdfa8 188.5px,#c7e9c0 269.5px,#d4eece 382.5px,#d6efd0 510.5px)"></i><i style="left:100px;width:2px;background:linear-gradient(#f6fcf4 0.5px,#f2faef 82.5px,#e5f5e1 101.5px,#b0dfaa 127.5px,#a5db9f 138.5px,#a7dba0 166.5px,#c7e9c0 274.5px,#d4eece 384.5px,#d6efd0 510.5px)"></i><i style="left:102px;width:2px;background:linear-gradient(#f6fcf4 0.5px,#f2faef 82.5px,#e5f5e0 101.5px,#abdda5 128.5px,#a2d99c 141.5px,#a9dca3 182.5px,#c7e9c0 278.5px,#d4eece 386.5px,#d6efd0 510.5px)"></i><i style="left:104px;width:2px;background:linear-gradient(#f6fcf4 0.5px,#f2faef 81.5px,#e5f5e0 101.5px,#a9dca3 128.5px,#9fd899 141.5px,#a8dca2 183.5px,#c6e8bf 280.5px,#d4eece 384.5px,#d6efd0 510.5px)"></i><i style="left:106px;width:2px;background:linear-gradient(#f6fcf4 0.5px,#f2faef 81.5px,#e5f5e1 100.5px,#c0e6b9 117.5px,#a7dba0 128.5px,#9cd797 140.5px,#a9dca3 191.5px,#c4e8bd 281.5px,#d4eece 384.5px,#d6efd0 510.5px)"></i><i style="left:108px;width:2px;background:linear-gradient(#f6fcf4 0.5px,#f2faef 81.5px,#e5f5e0 100.5px,#bbe4b4 118.5px,#a3da9d 129.5px,#9bd696 138.5px,#9cd797 157.5px,#c3e7bc 281.5px,#d4eece 385.5px,#d6efd0 510.5px)"></i><i style="left:110px;width:2px;background:linear-gradient(#f6fcf4 0.5px,#f2faef 81.5px,#e5f5e1 99.5px,#c4e8bd 114.5px,#a5db9f 126.5px,#98d594 137.5px,#9bd696 158.5px,#c2e7bb 282.5px,#d4eece 384.5px,#d6efd0 510.5px)"></i><i style="left:112px;width:2px;background:linear-gradient(#f6fcf4 0.5px,#f2faef 80.5px,#e5f5e1 99.5px,#bde5b6 116.5px,#9ed798 129.5px,#95d391 139.5px,#9bd696 163.5px,#c0e6b9 278.5px,#d4eece 384.5px,#d6efd0 510.5px)"></i><i style="left:114px;width:2px;background:linear-gradient(#f6fcf4 0.5px,#f2faef 80.5px,#e6f5e1 98.5px,#c8e9c1 112.5px,#a3da9d 125.5px,#94d390 135.5px,#95d391 154.5px,#b4e1ad 240.5px,#d0edca 356.5px,#d5efcf 429.5px,#d6efd0 510.5px)"></i><i style="left:116px;width:2px;background:linear-gradient(#f6fcf4 0.5px,#f2faef 80.5px,#e5f5e0 99.5px,#bde5b6 115.5px,#9cd797 127.5px,#91d28e 137.5px,#94d390 155.5px,#afdfa8 229.5px,#cfecc9 354.5px,#d5efcf 416.5px,#d6efd0 510.5px)"></i><i style="left:118px;width:2px;background:linear-gradient(#f6fcf4 0.5px,#f2faef 80.5px,#e5f5e1 98.5px,#c2e7bb 113.5px,#9fd899 125.5px,#90d18d 135.5px,#91d28e 153.5px,#aadda4 218.5px,#cfecc9 356.5px,#d5efcf 413.5px,#d6efd0 510.5px)"></i><i style="left:120px;width:2px;background:linear-gradient(#f6fcf4 0.5px,#f2faef 80.5px,#e5f5e1 98.5px,#c1e6ba 113.5px,#9ed798 125.5px,#90d18d 133.5px,#8bcf89 144.5px,#aadda4 222.5px,#d1edcb 367.5px,#d5efcf 438.5px,#d6efd0 510.5px)"></i><i style="left:122px;width:2px;background:linear-gradient(#f6fcf4 0.5px,#f2faef 79.5px,#e6f5e1 97.5px,#c9eac2 110.5px,#9bd696 125.5px,#8bcf89 135.5px,#8dd08a 153.5px,#a9dca3 222.5px,#d2edcc 373.5px,#d6efd0 510.5px)"></i><i style="left:124px;width:2px;background:linear-gradient(#f6fcf4 0.5px,#f2faef 79.5px,#e5f5e1 97.5px,#cbeac4 109.5px,#9cd797 124.5px,#8bcf89 132.5px,#87cd86 145.5px,#a9dca3 226.5px,#d3eecd 379.5px,#d6efd0 510.5px)"></i><i style="left:126px;width:2px;background:linear-gradient(#f6fcf4 0.5px,#f2faef 79.5px,#e5f5e1 97.5px,#c3e7bc 111.5px,#97d492 125.5px,#86cc85 136.5px,#88ce87 154.5px,#a7dba0 223.5px,#d3eecd 380.5px,#d6efd0 510.5px)"></i><i style="left:128px;width:2px;background:linear-gradient(#f6fcf4 0.5px,#f2faef 79.5px,#e6f5e1 96.5px,#c9eac2 109.5px,#98d594 124.5px,#86cc85 133.5px,#84cc83 150.5px,#a7dba0 227.5px,#d3eecd 382.5px,#d6efd0 510.5px)"></i><i style="left:130px;width:2px;background:linear-gradient(#f6fcf4 0.5px,#f2faef 78.5px,#e6f5e1 96.5px,#c8e9c1 109.5px,#95d391 124.5px,#84cc83 133.5px,#80ca80 145.5px,#a9dca3 237.5px,#d4eece 387.5px,#d6efd0 510.5px)"></i><i style="left:132px;width:2px;background:linear-gradient(#f6fcf4 0.5px,#f2faef 78.5px,#e5f5e1 96.5px,#c3e7bc 110.5px,#97d492 123.5px,#84cc83 131.5px,#7dc87e 142.5px,#a9dca3 241.5px,#d4eece 388.5px,#d6efd0 510.5px)"></i><i style="left:134px;width:2px;background:linear-gradient(#f6fcf4 0.5px,#f2faef 78.5px,#e5f5e0 96.5px,#c4e8bd 109.5px,#91d28e 124.5px,#7fc97f 133.5px,#7cc87c 144.5px,#95d391 199.5px,#acdea6 256.5px,#d4eece 389.5px,#d6efd0 510.5px)"></i><i style="left:136px;width:2px;background:linear-gradient(#f6fcf4 0.5px,#f2faef 77.5px,#e5f5e1 95.5px,#c3e7bc 109.5px,#8ed08b 124.5px,#7cc87c 133.5px,#7ac77b 150.5px,#a5db9f 238.5px,#d4eece 389.5px,#d6efd0 510.5px)"></i><i style="left:138px;width:2px;background:linear-gradient(#f6fcf4 0.5px,#f2faef 77.5px,#e5f5e0 95.5px,#c8e9c1 107.5px,#90d18d 123.5px,#7fc97f 130.5px,#76c578 139.5px,#7cc87c 160.5px,#a4da9e 239.5px,#d4eece 389.5px,#d6efd0 510.5px)"></i><i style="left:140px;width:2px;background:linear-gradient(#f6fcf4 0.5px,#f2faef 76.5px,#e5f5e1 94.5px,#c7e9c0 107.5px,#90d18d 122.5px,#7ac77b 131.5px,#73c476 140.5px,#7dc87e 167.5px,#a4da9e 242.5px,#d4eece 390.5px,#d6efd0 510.5px)"></i><i style="left:142px;width:2px;background:linear-gradient(#f6fcf4 0.5px,#f2faef 76.5px,#e5f5e0 94.5px,#c8e9c1 106.5px,#8ace88 123.5px,#78c679 131.5px,#70c274 141.5px,#80ca80 176.5px,#a4da9e 246.5px,#d4eece 390.5px,#d6efd0 510.5px)"></i><i style="left:144px;width:2px;background:linear-gradient(#f6fcf4 0.5px,#f2faef 75.5px,#e5f5e1 93.5px,#c7e9c0 106.5px,#87cd86 123.5px,#73c476 132.5px,#6dc072 142.5px,#83cb82 185.5px,#a5db9f 252.5px,#d4eece 390.5px,#d6efd0 510.5px)"></i><i style="left:146px;width:2px;background:linear-gradient(#f6fcf4 0.5px,#f2faef 75.5px,#e5f5e0 93.5px,#c8e9c1 105.5px,#84cc83 123.5px,#6ec173 133.5px,#6bc072 146.5px,#8dd08a 206.5px,#a7dba0 259.5px,#d4eece 390.5px,#d6efd0 510.5px)"></i><i style="left:148px;width:2px;background:linear-gradient(#f6fcf4 0.5px,#f2faef 74.5px,#e5f5e1 92.5px,#c7e9c0 105.5px,#81ca81 123.5px,#6dc072 132.5px,#68be70 142.5px,#7dc87e 183.5px,#a4da9e 256.5px,#d4eece 391.5px,#d6efd0 510.5px)"></i><i style="left:150px;width:2px;background:linear-gradient(#f6fcf4 0.5px,#f2faef 73.5px,#e6f5e1 91.5px,#cbeac4 103.5px,#95d391 117.5px,#78c679 126.5px,#6abf71 133.5px,#65bd6f 143.5px,#7fc97f 189.5px,#a5db9f 262.5px,#d4eece 391.5px,#d6efd0 510.5px)"></i><i style="left:152px;width:2px;background:linear-gradient(#f6fcf4 0.5px,#f2faef 73.5px,#e5f5e1 91.5px,#c7e9c0 104.5px,#7dc87e 123.5px,#6bc072 130.5px,#62bb6d 139.5px,#6ec173 166.5px,#a3da9d 259.5px,#d4eece 391.5px,#d6efd0 510.5px)"></i><i style="left:154px;width:2px;background:linear-gradient(#f6fcf4 0.5px,#f2faef 72.5px,#e6f5e1 90.5px,#cbebc5 102.5px,#7dc87e 122.5px,#66bd6f 131.5px,#60ba6c 139.5px,#65bd6f 155.5px,#84cc83 206.5px,#a8dca2 274.5px,#d4eece 391.5px,#d6efd0 510.5px)"></i><i style="left:156px;width:2px;background:linear-gradient(#f6fcf4 0.5px,#f2faef 72.5px,#e5f5e1 90.5px,#c7e9c0 103.5px,#7fc97f 121.5px,#66bd6f 129.5px,#5db96b 138.5px,#60ba6c 152.5px,#80ca80 203.5px,#a7dba0 274.5px,#d4eece 392.5px,#d6efd0 510.5px)"></i><i style="left:158px;width:2px;background:linear-gradient(#f6fcf4 0.5px,#f2faef 71.5px,#e6f5e1 89.5px,#cbebc5 101.5px,#94d390 115.5px,#6ec173 125.5px,#5db96b 133.5px,#5ab769 146.5px,#7dc87e 202.5px,#a7dba0 277.5px,#d4eece 392.5px,#d6efd0 510.5px)"></i><i style="left:160px;width:2px;background:linear-gradient(#f6fcf4 0.5px,#f2faef 71.5px,#e5f5e1 89.5px,#ccebc6 100.5px,#9fd899 112.5px,#73c476 123.5px,#5db96b 131.5px,#56b567 140.5px,#5db96b 158.5px,#83cb82 215.5px,#a8dca2 283.5px,#d4eece 392.5px,#d6efd0 510.5px)"></i><i style="left:162px;width:2px;background:linear-gradient(#f6fcf4 0.5px,#f2faef 70.5px,#e5f5e1 89.5px,#c6e8bf 102.5px,#7ac77b 120.5px,#5eb96b 129.5px,#53b466 137.5px,#56b567 154.5px,#80ca80 214.5px,#a8dca2 286.5px,#d4eece 392.5px,#d6efd0 510.5px)"></i><i style="left:164px;width:2px;background:linear-gradient(#f6fcf4 0.5px,#f2faef 70.5px,#e5f5e0 89.5px,#c3e7bc 102.5px,#8dd08a 115.5px,#70c274 122.5px,#56b567 131.5px,#4eb264 143.5px,#60ba6c 173.5px,#83cb82 222.5px,#a8dca2 289.5px,#d4eece 392.5px,#d6efd0 510.5px)"></i><i style="left:166px;width:2px;background:linear-gradient(#f6fcf4 0.5px,#f2faef 69.5px,#e5f5e1 88.5px,#c6e8bf 101.5px,#94d390 113.5px,#6dc072 122.5px,#53b466 131.5px,#4bb062 142.5px,#56b567 165.5px,#7fc97f 219.5px,#aadda4 297.5px,#d4eece 392.5px,#d6efd0 510.5px)"></i><i style="left:168px;width:2px;background:linear-gradient(#f6fcf4 0.5px,#f2faef 69.5px,#e5f5e0 88.5px,#c3e7bc 101.5px,#8dd08a 114.5px,#6ec173 121.5px,#55b567 129.5px,#4aaf61 137.5px,#4aaf61 151.5px,#6bc072 196.5px,#91d28e 253.5px,#b4e1ad 320.5px,#d4eece 393.5px,#d6efd0 510.5px)"></i><i style="left:170px;width:2px;background:linear-gradient(#f6fcf4 0.5px,#f2faef 68.5px,#e5f5e1 87.5px,#c6e8bf 100.5px,#98d594 111.5px,#6ec173 120.5px,#52b365 129.5px,#46ae60 137.5px,#46ae60 151.5px,#63bc6e 190.5px,#86cc85 238.5px,#acdea6 307.5px,#d4eece 392.5px,#d6efd0 510.5px)"></i><i style="left:172px;width:2px;background:linear-gradient(#f6fcf4 0.5px,#f2faef 68.5px,#e5f5e1 86.5px,#ccebc6 97.5px,#9fd899 109.5px,#70c274 119.5px,#50b264 128.5px,#43ac5e 137.5px,#43ac5e 151.5px,#62bb6d 193.5px,#81ca81 235.5px,#abdda5 307.5px,#d4eece 393.5px,#d6efd0 510.5px)"></i><i style="left:174px;width:2px;background:linear-gradient(#f6fcf4 0.5px,#f2faef 67.5px,#e6f5e1 85.5px,#cbebc5 97.5px,#9cd797 109.5px,#6dc072 119.5px,#4db163 128.5px,#40aa5d 136.5px,#43ac5e 157.5px,#7fc97f 235.5px,#aedea7 314.5px,#d3eecd 390.5px,#d6efd0 510.5px)"></i><i style="left:176px;width:2px;background:linear-gradient(#f6fcf4 0.5px,#f2faef 67.5px,#e5f5e1 85.5px,#ccebc6 96.5px,#abdda5 105.5px,#73c476 117.5px,#4eb264 126.5px,#3fa95c 134.5px,#3fa95c 154.5px,#56b567 187.5px,#7fc97f 238.5px,#acdea6 314.5px,#d3eecd 390.5px,#d6efd0 510.5px)"></i><i style="left:178px;width:2px;background:linear-gradient(#f6fcf4 0.5px,#f2faef 66.5px,#e5f5e0 85.5px,#c6e8bf 98.5px,#8dd08a 111.5px,#6bc072 118.5px,#4bb062 126.5px,#3fa85b 133.5px,#3da65a 151.5px,#46ae60 171.5px,#7dc87e 240.5px,#acdea6 316.5px,#d3eecd 390.5px,#d6efd0 510.5px)"></i><i style="left:180px;width:2px;background:linear-gradient(#f6fcf4 0.5px,#f2faef 66.5px,#e5f5e1 84.5px,#ccebc6 95.5px,#abdda5 104.5px,#72c375 116.5px,#4eb264 124.5px,#3fa95c 130.5px,#3aa357 143.5px,#45ad5f 174.5px,#7cc87c 242.5px,#aedea7 320.5px,#d2edcc 388.5px,#d6efd0 510.5px)"></i><i style="left:182px;width:2px;background:linear-gradient(#f6fcf4 0.5px,#f2faef 65.5px,#e5f5e0 84.5px,#c6e8bf 97.5px,#9bd696 107.5px,#6ec173 116.5px,#4bb062 124.5px,#3fa85b 129.5px,#38a156 140.5px,#42ab5d 174.5px,#7dc87e 249.5px,#b2e0ac 330.5px,#d1edcb 386.5px,#d5efcf 452.5px,#d6efd0 510.5px)"></i><i style="left:184px;width:2px;background:linear-gradient(#f6fcf4 0.5px,#f2faef 65.5px,#e5f5e0 84.5px,#c8e9c1 96.5px,#94d390 108.5px,#70c274 115.5px,#4bb062 123.5px,#3da65a 129.5px,#359e53 141.5px,#42ab5d 178.5px,#7dc87e 253.5px,#aedea7 323.5px,#d1edcb 387.5px,#d5efcf 461.5px,#d6efd0 510.5px)"></i><i style="left:186px;width:2px;background:linear-gradient(#f6fcf4 0.5px,#f2faef 64.5px,#e5f5e1 83.5px,#c9eac2 95.5px,#9bd696 106.5px,#6dc072 115.5px,#4bb062 122.5px,#3fa85b 126.5px,#339c52 138.5px,#39a257 163.5px,#48ae60 190.5px,#7fc97f 258.5px,#b4e1ad 334.5px,#d0edca 385.5px,#d5efcf 447.5px,#d6efd0 510.5px)"></i><i style="left:188px;width:2px;background:linear-gradient(#f6fcf4 0.5px,#f2faef 64.5px,#e5f5e0 83.5px,#c8e9c1 95.5px,#94d390 107.5px,#6ec173 114.5px,#48ae60 122.5px,#3ba458 127.5px,#309950 139.5px,#39a257 169.5px,#46ae60 192.5px,#7cc87c 258.5px,#b5e1ae 337.5px,#cfecc9 385.5px,#d5efcf 439.5px,#d6efd0 510.5px)"></i><i style="left:190px;width:2px;background:linear-gradient(#f6fcf4 0.5px,#f2faef 63.5px,#e5f5e1 82.5px,#c7e9c0 95.5px,#91d28e 107.5px,#6bc072 114.5px,#40aa5d 123.5px,#309950 134.5px,#2f974e 150.5px,#45ad5f 194.5px,#7dc87e 264.5px,#b0dfaa 331.5px,#cdecc7 381.5px,#d5efcf 431.5px,#d6efd0 510.5px)"></i><i style="left:192px;width:2px;background:linear-gradient(#f6fcf4 0.5px,#f2faef 63.5px,#e6f5e1 81.5px,#cbebc5 93.5px,#99d595 105.5px,#6ec173 113.5px,#40aa5d 122.5px,#2f974e 133.5px,#2b934b 148.5px,#45ad5f 198.5px,#7cc87c 265.5px,#b5e1ae 339.5px,#cbebc5 378.5px,#d4eece 421.5px,#d6efd0 510.5px)"></i><i style="left:194px;width:2px;background:linear-gradient(#f6fcf4 0.5px,#f2faef 63.5px,#e5f5e0 82.5px,#c8e9c1 94.5px,#9cd797 104.5px,#6bc072 113.5px,#42ab5d 121.5px,#2d954d 132.5px,#278f48 146.5px,#46ae60 204.5px,#7cc87c 269.5px,#b1e0ab 335.5px,#cbeac4 377.5px,#d4eece 423.5px,#d5efcf 510.5px)"></i><i style="left:196px;width:2px;background:linear-gradient(#f6fcf4 0.5px,#f2faef 63.5px,#e5f5e1 81.5px,#c7e9c0 94.5px,#95d391 105.5px,#6ec173 112.5px,#42ab5d 120.5px,#2d954d 130.5px,#248c46 141.5px,#29914a 159.5px,#46ae60 207.5px,#7cc87c 272.5px,#b1e0ab 336.5px,#cbeac4 378.5px,#d4eece 426.5px,#d5efcf 510.5px)"></i><i style="left:198px;width:2px;background:linear-gradient(#f6fcf4 0.5px,#f2faef 62.5px,#e5f5e1 81.5px,#c9eac2 93.5px,#98d594 104.5px,#6bc072 112.5px,#3fa95c 120.5px,#289049 131.5px,#1f8742 144.5px,#2f974e 172.5px,#46ae60 211.5px,#7ac77b 273.5px,#b6e2af 343.5px,#cbeac4 380.5px,#d4eece 428.5px,#d5efcf 510.5px)"></i><i style="left:200px;width:2px;background:linear-gradient(#f6fcf4 0.5px,#f2faef 62.5px,#e6f5e1 80.5px,#d0edca 90.5px,#b4e1ad 98.5px,#8bcf89 106.5px,#62bb6d 113.5px,#40aa5d 119.5px,#278f48 130.5px,#1a843f 142.5px,#218944 158.5px,#3fa85b 203.5px,#56b567 234.5px,#7cc87c 277.5px,#b2e0ac 340.5px,#cbeac4 380.5px,#d4eece 430.5px,#d5efcf 510.5px)"></i><i style="left:202px;width:2px;background:linear-gradient(#f6fcf4 0.5px,#f2faef 62.5px,#e5f5e0 81.5px,#c7e9c0 93.5px,#99d595 103.5px,#65bd6f 112.5px,#3fa85b 119.5px,#248c46 130.5px,#16803c 141.5px,#19833e 154.5px,#349d53 188.5px,#46ae60 219.5px,#7cc87c 280.5px,#b7e2b1 347.5px,#cbeac4 382.5px,#d4eece 430.5px,#d5efcf 510.5px)"></i><i style="left:204px;width:2px;background:linear-gradient(#f6fcf4 0.5px,#f2faef 62.5px,#e5f5e0 81.5px,#caeac3 92.5px,#9ed798 102.5px,#68be70 111.5px,#3fa95c 118.5px,#238b45 129.5px,#137d39 139.5px,#137d39 151.5px,#309950 185.5px,#46ae60 223.5px,#7ac77b 281.5px,#b1e0ab 341.5px,#caeac3 379.5px,#d4eece 430.5px,#d5efcf 510.5px)"></i><i style="left:206px;width:2px;background:linear-gradient(#f6fcf4 0.5px,#f2faef 62.5px,#e5f5e1 80.5px,#cbebc5 91.5px,#a2d99c 101.5px,#6dc072 110.5px,#40aa5d 117.5px,#208843 129.5px,#0e7936 140.5px,#0e7936 152.5px,#2d954d 183.5px,#46ae60 227.5px,#7cc87c 285.5px,#b6e2af 348.5px,#cbeac4 384.5px,#d4eece 431.5px,#d5efcf 510.5px)"></i><i style="left:208px;width:2px;background:linear-gradient(#f6fcf4 0.5px,#f2faef 62.5px,#e5f5e1 80.5px,#cbeac4 91.5px,#a0d99b 101.5px,#6abf71 110.5px,#3fa85b 117.5px,#1d8640 129.5px,#0a7633 140.5px,#087432 150.5px,#2c944c 186.5px,#46ae60 231.5px,#7cc87c 287.5px,#b1e0ab 344.5px,#c9eac2 379.5px,#d4eece 430.5px,#d5efcf 510.5px)"></i><i style="left:210px;width:2px;background:linear-gradient(#f6fcf4 0.5px,#f2faef 62.5px,#e4f5df 81.5px,#c3e7bc 93.5px,#9ed798 101.5px,#66bd6f 110.5px,#3da65a 117.5px,#19833e 129.5px,#067230 140.5px,#03702e 150.5px,#2a924a 186.5px,#46ae60 235.5px,#7ac77b 288.5px,#b2e0ac 347.5px,#c9eac2 381.5px,#d4eece 428.5px,#d5efcf 510.5px)"></i><i style="left:212px;width:2px;background:linear-gradient(#f6fcf4 0.5px,#f2faef 61.5px,#e6f5e1 79.5px,#cfecc9 89.5px,#bae3b3 95.5px,#91d28e 103.5px,#6bc072 109.5px,#3fa85b 116.5px,#1d8640 127.5px,#05712f 138.5px,#006c2c 149.5px,#0d7836 163.5px,#289049 187.5px,#46ae60 239.5px,#7cc87c 292.5px,#b4e1ad 350.5px,#c9eac2 382.5px,#d4eece 429.5px,#d5efcf 510.5px)"></i><i style="left:214px;width:2px;background:linear-gradient(#f6fcf4 0.5px,#f2faef 61.5px,#e6f5e1 79.5px,#ccebc6 90.5px,#a0d99b 100.5px,#68be70 109.5px,#40aa5d 115.5px,#1d8640 126.5px,#026f2e 138.5px,#00682a 147.5px,#03702e 158.5px,#258d47 187.5px,#45ad5f 241.5px,#7cc87c 294.5px,#b5e1ae 353.5px,#cbeac4 387.5px,#d4eece 432.5px,#d5efcf 510.5px)"></i><i style="left:216px;width:2px;background:linear-gradient(#f6fcf4 0.5px,#f2faef 61.5px,#e5f5e0 80.5px,#c4e8bd 92.5px,#99d595 101.5px,#6dc072 108.5px,#3fa85b 115.5px,#1d8640 125.5px,#026f2e 136.5px,#006428 146.5px,#006d2c 158.5px,#238b45 188.5px,#46ae60 247.5px,#7cc87c 296.5px,#b4e1ad 353.5px,#caeac3 386.5px,#d4eece 431.5px,#d5efcf 510.5px)"></i><i style="left:218px;width:2px;background:linear-gradient(#f6fcf4 0.5px,#f2faef 61.5px,#e5f5e1 79.5px,#cbeac4 90.5px,#9ed798 100.5px,#6abf71 108.5px,#40aa5d 114.5px,#17813d 126.5px,#006d2c 136.5px,#006227 144.5px,#006529 154.5px,#026f2e 162.5px,#208843 187.5px,#46ae60 250.5px,#7dc87e 300.5px,#b5e1ae 356.5px,#caeac3 387.5px,#d4eece 430.5px,#d5efcf 510.5px)"></i><i style="left:220px;width:2px;background:linear-gradient(#f6fcf4 0.5px,#f2faef 61.5px,#e5f5e1 79.5px,#cbeac4 90.5px,#9cd797 100.5px,#68be70 108.5px,#3fa85b 114.5px,#157f3b 126.5px,#006c2c 135.5px,#005f26 144.5px,#006328 155.5px,#016e2d 163.5px,#218944 192.5px,#45ad5f 252.5px,#7dc87e 302.5px,#b7e2b1 360.5px,#cbeac4 390.5px,#d4eece 433.5px,#d5efcf 510.5px)"></i><i style="left:222px;width:2px;background:linear-gradient(#f6fcf4 0.5px,#f2faef 61.5px,#e5f5e1 79.5px,#c7e9c0 91.5px,#9bd696 100.5px,#65bd6f 108.5px,#42ab5d 113.5px,#1d8640 123.5px,#016e2d 133.5px,#005e26 142.5px,#005c25 150.5px,#026f2e 165.5px,#1d8640 190.5px,#45ad5f 255.5px,#7dc87e 304.5px,#b5e1ae 359.5px,#cbeac4 391.5px,#d4eece 432.5px,#d5efcf 510.5px)"></i><i style="left:224px;width:2px;background:linear-gradient(#f6fcf4 0.5px,#f2faef 61.5px,#e6f5e1 78.5px,#cfecc9 88.5px,#afdfa8 96.5px,#80ca80 104.5px,#5bb86a 109.5px,#3fa95c 113.5px,#17813d 124.5px,#006c2c 133.5px,#005b25 142.5px,#005c25 153.5px,#026f2e 167.5px,#1d8640 193.5px,#45ad5f 257.5px,#7dc87e 306.5px,#b7e2b1 363.5px,#cbeac4 392.5px,#d4eece 433.5px,#d5efcf 510.5px)"></i><i style="left:226px;width:2px;background:linear-gradient(#f6fcf4 0.5px,#f2faef 61.5px,#e5f5e0 79.5px,#c9eac2 90.5px,#98d594 100.5px,#68be70 107.5px,#3fa85b 113.5px,#18823d 123.5px,#006c2c 132.5px,#005a24 141.5px,#005924 152.5px,#016e2d 168.5px,#19833e 192.5px,#45ad5f 260.5px,#7cc87c 306.5px,#bae3b3 367.5px,#cbebc5 395.5px,#d4eece 434.5px,#d5efcf 510.5px)"></i><i style="left:228px;width:2px;background:linear-gradient(#f6fcf4 0.5px,#f2faef 61.5px,#e5f5e0 79.5px,#c4e8bd 91.5px,#97d492 100.5px,#66bd6f 107.5px,#42ab5d 112.5px,#16803c 123.5px,#006c2c 131.5px,#005a24 140.5px,#005522 149.5px,#006328 162.5px,#03702e 171.5px,#1e8741 201.5px,#45ad5f 262.5px,#7dc87e 309.5px,#bae3b3 368.5px,#cbeac4 394.5px,#d4eece 432.5px,#d5efcf 510.5px)"></i><i style="left:230px;width:2px;background:linear-gradient(#f6fcf4 0.5px,#f2faef 61.5px,#e5f5e0 79.5px,#c8e9c1 90.5px,#9cd797 99.5px,#65bd6f 107.5px,#3ca559 113.5px,#157f3b 123.5px,#006d2c 130.5px,#005622 141.5px,#005321 150.5px,#006729 166.5px,#067230 175.5px,#218944 209.5px,#45ad5f 263.5px,#7cc87c 309.5px,#bde5b6 373.5px,#cdecc7 402.5px,#d5efcf 442.5px,#d5efcf 510.5px)"></i><i style="left:232px;width:1px;background:linear-gradient(#f6fcf4 0.5px,#f2faef 61.5px,#e5f5e0 79.5px,#c8e9c1 90.5px,#9bd696 99.5px,#6dc072 106.5px,#3fa95c 112.5px,#17813d 122.5px,#006c2c 130.5px,#005522 141.5px,#005221 150.5px,#005a24 159.5px,#026f2e 173.5px,#1e8741 206.5px,#45ad5f 264.5px,#7cc87c 310.5px,#bce4b5 372.5px,#ccebc6 399.5px,#d5efcf 440.5px,#d5efcf 510.5px)"></i></div></div>
<div class="hm" style="left:953.2px;top:614.8px;width:231.8px;height:510px"><div style="position:absolute;left:-0.2px;top:-0.8px;width:232px;height:511px"><i style="left:0px;width:2px;background:linear-gradient(#fee7db 0.5px,#fee3d6 126.5px,#fff5f0 127.5px,#fff5f0 510.5px)"></i><i style="left:2px;width:2px;background:linear-gradient(#fee7db 0.5px,#fee3d6 126.5px,#fff5f0 127.5px,#fff5f0 510.5px)"></i><i style="left:4px;width:2px;background:linear-gradient(#fee7db 0.5px,#fee3d6 126.5px,#fff5f0 127.5px,#fff5f0 510.5px)"></i><i style="left:6px;width:2px;background:linear-gradient(#fee7db 0.5px,#fee3d6 126.5px,#fff5f0 127.5px,#fff5f0 510.5px)"></i><i style="left:8px;width:2px;background:linear-gradient(#fee7db 0.5px,#fee3d6 126.5px,#fff5f0 127.5px,#fff5f0 510.5px)"></i><i style="left:10px;width:2px;background:linear-gradient(#fee7db 0.5px,#fee3d6 126.5px,#fff5f0 127.5px,#fff5f0 510.5px)"></i><i style="left:12px;width:2px;background:linear-gradient(#fee7db 0.5px,#fee3d6 126.5px,#fff5f0 127.5px,#fff5f0 510.5px)"></i><i style="left:14px;width:2px;background:linear-gradient(#feeae1 0.5px,#fee7db 76.5px,#fedecf 100.5px,#fdcbb6 126.5px,#fedbcc 127.5px,#fedbcc 141.5px,#fee6da 172.5px,#fff2ec 254.5px,#fff5f0 256.5px,#fff5f0 510.5px)"></i><i style="left:16px;width:2px;background:linear-gradient(#ffeee6 0.5px,#ffebe2 66.5px,#fee0d2 92.5px,#fcb398 123.5px,#fcad90 134.5px,#fcbba1 149.5px,#fdcebb 170.5px,#fee1d4 207.5px,#ffefe8 252.5px,#fff0e8 254.5px,#fff5f0 255.5px,#fff5f0 510.5px)"></i><i style="left:18px;width:2px;background:linear-gradient(#ffeee6 0.5px,#ffebe2 65.5px,#fee1d3 91.5px,#fcb499 122.5px,#fcad90 132.5px,#fcb69b 144.5px,#fdccb8 165.5px,#fee1d4 206.5px,#ffeee7 251.5px,#fff0e8 254.5px,#fff5f0 255.5px,#fff5f0 510.5px)"></i><i style="left:20px;width:2px;background:linear-gradient(#ffeee6 0.5px,#ffebe2 65.5px,#fee1d4 89.5px,#fdcdb9 105.5px,#fcb296 123.5px,#fcad90 134.5px,#fcb99f 147.5px,#fdcbb6 163.5px,#fedccd 195.5px,#fff0e8 254.5px,#fff5f0 255.5px,#fff5f0 510.5px)"></i><i style="left:22px;width:2px;background:linear-gradient(#ffeee6 0.5px,#ffebe2 65.5px,#fee0d2 91.5px,#fcb296 123.5px,#fcad90 133.5px,#fcb79c 145.5px,#fdcab5 161.5px,#fedaca 190.5px,#fff0e8 254.5px,#fff5f0 255.5px,#fff5f0 510.5px)"></i><i style="left:24px;width:2px;background:linear-gradient(#ffeee6 0.5px,#ffebe2 64.5px,#fee1d3 90.5px,#fcc3ab 111.5px,#fcaf93 125.5px,#fcad90 134.5px,#fcb499 143.5px,#fdcab5 161.5px,#fedbcc 193.5px,#fff0e8 254.5px,#fff5f0 255.5px,#fff5f0 510.5px)"></i><i style="left:26px;width:2px;background:linear-gradient(#ffeee6 0.5px,#ffebe2 64.5px,#fee1d4 88.5px,#fdcdb9 104.5px,#fcb296 122.5px,#fcab8f 132.5px,#fcb296 142.5px,#fdcbb6 163.5px,#fedccd 196.5px,#fff0e8 254.5px,#fff5f0 255.5px,#fff5f0 510.5px)"></i><i style="left:28px;width:2px;background:linear-gradient(#ffeee6 0.5px,#ffebe2 64.5px,#fee1d3 89.5px,#fdc6b0 108.5px,#fcb095 122.5px,#fcaa8d 134.5px,#fcbca2 150.5px,#fdccb8 165.5px,#fee1d3 207.5px,#ffeee7 251.5px,#fff0e8 254.5px,#fff5f0 255.5px,#fff5f0 510.5px)"></i><i style="left:30px;width:2px;background:linear-gradient(#ffeee6 0.5px,#ffebe2 63.5px,#fee1d3 89.5px,#fcc3ab 110.5px,#fcae92 124.5px,#fcaa8d 135.5px,#fcb99f 149.5px,#fdccb8 166.5px,#fee1d4 210.5px,#fff0e8 254.5px,#fff5f0 255.5px,#fff5f0 510.5px)"></i><i style="left:32px;width:2px;background:linear-gradient(#ffeee6 0.5px,#ffebe2 63.5px,#fee1d3 89.5px,#fcaf93 122.5px,#fca98c 132.5px,#fcaf93 142.5px,#fdc9b3 163.5px,#fedbcc 196.5px,#fff0e8 254.5px,#fff5f0 255.5px,#fff5f0 510.5px)"></i><i style="left:34px;width:2px;background:linear-gradient(#ffeee6 0.5px,#feeae1 66.5px,#fee0d2 89.5px,#fdc6b0 107.5px,#fcae92 123.5px,#fca78b 133.5px,#fcaf93 143.5px,#fdcbb6 167.5px,#fee1d4 211.5px,#ffeee7 251.5px,#fff0e8 254.5px,#fff5f0 255.5px,#fff5f0 510.5px)"></i><i style="left:36px;width:2px;background:linear-gradient(#ffeee6 0.5px,#feeae1 65.5px,#fee0d2 89.5px,#fcad90 123.5px,#fca78b 133.5px,#fcab8f 141.5px,#fdc7b2 164.5px,#fedccd 200.5px,#fff0e8 254.5px,#fff5f0 255.5px,#fff5f0 510.5px)"></i><i style="left:38px;width:2px;background:linear-gradient(#ffeee6 0.5px,#feeae1 65.5px,#fee1d3 88.5px,#fcae92 122.5px,#fca689 132.5px,#fcab8f 142.5px,#fdc6b0 164.5px,#fed9c9 194.5px,#fee5d8 224.5px,#fff0e8 254.5px,#fff5f0 255.5px,#fff5f0 510.5px)"></i><i style="left:40px;width:2px;background:linear-gradient(#ffeee6 0.5px,#feeae1 65.5px,#fee0d2 88.5px,#fdc6b0 106.5px,#fcab8f 123.5px,#fca588 135.5px,#fcb296 148.5px,#fdc9b3 168.5px,#fee1d3 211.5px,#fff0e8 254.5px,#fff5f0 255.5px,#fff5f0 510.5px)"></i><i style="left:42px;width:2px;background:linear-gradient(#ffeee6 0.5px,#feeae1 64.5px,#fee0d2 88.5px,#fcbfa7 110.5px,#fca98c 125.5px,#fca588 135.5px,#fcad90 145.5px,#fdc9b3 169.5px,#fee1d4 213.5px,#fff0e8 254.5px,#fff5f0 255.5px,#fff5f0 510.5px)"></i><i style="left:44px;width:2px;background:linear-gradient(#ffeee6 0.5px,#feeae1 64.5px,#fedfd0 89.5px,#fcaa8d 123.5px,#fca486 133.5px,#fca98c 143.5px,#fdc5ae 166.5px,#fedccd 203.5px,#fff0e8 254.5px,#fff5f0 255.5px,#fff5f0 510.5px)"></i><i style="left:46px;width:2px;background:linear-gradient(#ffeee6 0.5px,#feeae1 64.5px,#fee0d2 87.5px,#fdc6b0 105.5px,#fcab8f 122.5px,#fca285 132.5px,#fca98c 144.5px,#fcc4ad 166.5px,#fedbcc 201.5px,#fff0e8 254.5px,#fff5f0 255.5px,#fff5f0 510.5px)"></i><i style="left:48px;width:2px;background:linear-gradient(#ffeee6 0.5px,#feeae1 63.5px,#fee0d2 87.5px,#fcc4ad 106.5px,#fca78b 124.5px,#fca183 135.5px,#fcad90 148.5px,#fdc7b2 171.5px,#fee1d4 215.5px,#ffefe8 253.5px,#fff0e8 254.5px,#fff5f0 255.5px,#fff5f0 510.5px)"></i><i style="left:50px;width:2px;background:linear-gradient(#ffeee6 0.5px,#feeae1 63.5px,#fee0d2 87.5px,#fcbda4 110.5px,#fca689 125.5px,#fca183 135.5px,#fca78b 145.5px,#fcc4ad 168.5px,#fedecf 207.5px,#ffefe8 253.5px,#fff0e8 254.5px,#fff5f0 255.5px,#fff5f0 510.5px)"></i><i style="left:52px;width:2px;background:linear-gradient(#ffeee6 0.5px,#feeae1 63.5px,#fee0d2 87.5px,#fca98c 122.5px,#fca082 133.5px,#fca588 143.5px,#fdc6b0 172.5px,#fee1d4 216.5px,#ffefe8 253.5px,#fff0e8 254.5px,#fff5f0 255.5px,#fff5f0 510.5px)"></i><i style="left:54px;width:2px;background:linear-gradient(#ffeee6 0.5px,#feeae1 63.5px,#fee0d2 86.5px,#fdc7b2 103.5px,#fca78b 122.5px,#fc9e80 134.5px,#fca689 146.5px,#fcc2aa 168.5px,#fed9c9 201.5px,#fee8dd 237.5px,#fff0e8 254.5px,#fff5f0 255.5px,#fff5f0 510.5px)"></i><i style="left:56px;width:2px;background:linear-gradient(#ffeee6 0.5px,#feeae1 63.5px,#fee0d2 86.5px,#fdc9b3 102.5px,#fca98c 121.5px,#fc9e80 132.5px,#fca183 142.5px,#fcc4ad 172.5px,#fedccd 208.5px,#ffefe8 254.5px,#fff5f0 255.5px,#fff5f0 510.5px)"></i><i style="left:58px;width:2px;background:linear-gradient(#ffeee6 0.5px,#feeae1 62.5px,#fee0d2 86.5px,#fcc2aa 106.5px,#fca588 123.5px,#fc9d7f 133.5px,#fca183 143.5px,#fcc3ab 172.5px,#fee0d2 215.5px,#ffeee7 253.5px,#ffefe8 254.5px,#fff5f0 255.5px,#fff5f0 510.5px)"></i><i style="left:60px;width:2px;background:linear-gradient(#ffeee6 0.5px,#feeae1 62.5px,#fee0d2 86.5px,#fcbfa7 107.5px,#fca285 124.5px,#fc9c7d 136.5px,#fca689 149.5px,#fcc4ad 175.5px,#fee1d3 219.5px,#ffeee7 254.5px,#fff5f0 255.5px,#fff5f0 510.5px)"></i><i style="left:62px;width:2px;background:linear-gradient(#ffeee6 0.5px,#feeae1 62.5px,#fee0d2 85.5px,#fdc7b2 102.5px,#fca689 121.5px,#fc9b7c 133.5px,#fca183 146.5px,#fcc3ab 176.5px,#fee1d3 222.5px,#ffede5 254.5px,#fff5f0 255.5px,#fff5f0 510.5px)"></i><i style="left:64px;width:2px;background:linear-gradient(#ffeee6 0.5px,#feeae1 62.5px,#fee0d2 85.5px,#fdc9b3 101.5px,#fca486 122.5px,#fc997a 135.5px,#fca183 147.5px,#fcc3ab 179.5px,#fee1d3 226.5px,#ffece3 254.5px,#fff5f0 255.5px,#fff5f0 510.5px)"></i><i style="left:66px;width:2px;background:linear-gradient(#ffeee6 0.5px,#feeae1 62.5px,#fee0d2 85.5px,#fdc6b0 102.5px,#fca588 121.5px,#fc997a 132.5px,#fc9b7c 142.5px,#fcc1a8 180.5px,#fee1d4 234.5px,#feeae0 254.5px,#fff5f0 255.5px,#fff5f0 510.5px)"></i><i style="left:68px;width:2px;background:linear-gradient(#ffeee6 0.5px,#feeae1 62.5px,#fedfd0 86.5px,#fcbda4 107.5px,#fca082 124.5px,#fc9879 134.5px,#fc9c7d 146.5px,#fcbfa7 183.5px,#fee3d7 246.5px,#fee7dc 254.5px,#fff5f0 255.5px,#fff5f0 510.5px)"></i><i style="left:70px;width:2px;background:linear-gradient(#ffeee6 0.5px,#feeae1 61.5px,#fee0d2 85.5px,#fcbea5 106.5px,#fc9e80 124.5px,#fc9777 134.5px,#fc997a 145.5px,#fcbea5 188.5px,#fee3d7 254.5px,#fff5f0 255.5px,#fff5f0 510.5px)"></i><i style="left:72px;width:2px;background:linear-gradient(#ffeee6 0.5px,#feeae1 61.5px,#fee1d3 84.5px,#fcc2aa 104.5px,#fca285 121.5px,#fc9576 133.5px,#fc9879 146.5px,#fcbda4 194.5px,#fedbcc 249.5px,#fedfd0 254.5px,#fff5f0 255.5px,#fff5f0 510.5px)"></i><i style="left:74px;width:2px;background:linear-gradient(#ffeee6 0.5px,#feeae1 61.5px,#fee0d2 84.5px,#fdc6b0 101.5px,#fca082 122.5px,#fc9474 134.5px,#fc9777 147.5px,#fcbda4 205.5px,#fed8c7 255.5px,#fee1d3 273.5px,#fff2ec 383.5px,#fff5f0 385.5px,#fff5f0 510.5px)"></i><i style="left:76px;width:2px;background:linear-gradient(#ffeee6 0.5px,#feeae1 61.5px,#fee0d2 84.5px,#fdc7b2 100.5px,#fc9d7f 123.5px,#fc9373 136.5px,#fc9777 151.5px,#fcb79c 204.5px,#fdd0bc 253.5px,#fedccd 281.5px,#feeae0 344.5px,#fff2eb 383.5px,#fff5f0 385.5px,#fff5f0 510.5px)"></i><i style="left:78px;width:2px;background:linear-gradient(#ffeee6 0.5px,#feeae1 61.5px,#fedfd0 85.5px,#fcc2aa 103.5px,#fc9e80 122.5px,#fc9272 134.5px,#fc9474 150.5px,#fcb79c 215.5px,#fdcdb9 261.5px,#fee3d6 314.5px,#fff1ea 383.5px,#fff5f0 384.5px,#fff5f0 510.5px)"></i><i style="left:80px;width:2px;background:linear-gradient(#ffeee6 0.5px,#feeae1 61.5px,#fedfd0 85.5px,#fcb99f 107.5px,#fc9b7c 124.5px,#fc9070 135.5px,#fc9474 152.5px,#fdc5ae 257.5px,#fee2d5 321.5px,#fff0e9 382.5px,#fff5f0 385.5px,#fff5f0 510.5px)"></i><i style="left:82px;width:2px;background:linear-gradient(#ffeee6 0.5px,#feeae1 60.5px,#fee1d4 82.5px,#fdcdb9 96.5px,#fca082 120.5px,#fc9272 131.5px,#fc9070 147.5px,#fcc4ad 264.5px,#fee2d5 326.5px,#fff0e8 382.5px,#fff0e9 383.5px,#fff5f0 384.5px,#fff5f0 510.5px)"></i><i style="left:84px;width:2px;background:linear-gradient(#ffeee6 0.5px,#feeae1 60.5px,#fee0d2 83.5px,#fdcbb6 97.5px,#fc9d7f 121.5px,#fc9070 131.5px,#fc8f6f 146.5px,#fcb095 226.5px,#fdc9b3 281.5px,#fee1d4 328.5px,#ffefe8 381.5px,#fff0e9 383.5px,#fff5f0 384.5px,#fff5f0 510.5px)"></i><i style="left:86px;width:2px;background:linear-gradient(#ffeee6 0.5px,#feeae1 60.5px,#fee0d2 83.5px,#fdc5ae 100.5px,#fc9d7f 120.5px,#fc9070 130.5px,#fc8e6e 145.5px,#fca78b 206.5px,#fcc1a8 270.5px,#fee1d4 331.5px,#ffefe8 381.5px,#fff0e9 383.5px,#fff5f0 384.5px,#fff5f0 510.5px)"></i><i style="left:88px;width:2px;background:linear-gradient(#ffeee6 0.5px,#feeae1 60.5px,#fedfd0 84.5px,#fcc1a8 102.5px,#fc997a 122.5px,#fc8e6e 132.5px,#fc8f6f 150.5px,#fca588 201.5px,#fcbda4 267.5px,#fee1d3 331.5px,#ffefe8 381.5px,#fff0e8 383.5px,#fff5f0 384.5px,#fff5f0 510.5px)"></i><i style="left:90px;width:2px;background:linear-gradient(#ffeee6 0.5px,#feeae1 60.5px,#fee1d3 82.5px,#fdc7b2 98.5px,#fc997a 121.5px,#fc8e6e 130.5px,#fc8b6b 144.5px,#fca285 195.5px,#fcbca2 267.5px,#fee1d4 334.5px,#ffeee7 380.5px,#fff0e8 383.5px,#fff5f0 384.5px,#fff5f0 510.5px)"></i><i style="left:92px;width:2px;background:linear-gradient(#ffeee6 0.5px,#feeae1 59.5px,#fee0d2 82.5px,#fdc9b3 97.5px,#fc9879 121.5px,#fc8a6a 133.5px,#fc8d6d 149.5px,#fca285 197.5px,#fcbba1 267.5px,#fee2d5 337.5px,#ffeee7 380.5px,#fff0e8 383.5px,#fff5f0 384.5px,#fff5f0 510.5px)"></i><i style="left:94px;width:2px;background:linear-gradient(#ffeee6 0.5px,#feeae1 59.5px,#fee0d2 82.5px,#fdc6b0 98.5px,#fc9879 120.5px,#fc8969 133.5px,#fc8a6a 148.5px,#fca082 192.5px,#fcb99f 266.5px,#fee2d5 338.5px,#ffefe8 382.5px,#fff0e8 383.5px,#fff5f0 384.5px,#fff5f0 510.5px)"></i><i style="left:96px;width:2px;background:linear-gradient(#ffeee6 0.5px,#feeae1 59.5px,#fee0d2 82.5px,#fdc5ae 98.5px,#fc9576 121.5px,#fc8767 133.5px,#fc8969 149.5px,#fca082 195.5px,#fcb99f 268.5px,#fed9c9 320.5px,#fee3d7 344.5px,#ffeee7 380.5px,#fff0e8 383.5px,#fff5f0 384.5px,#fff5f0 510.5px)"></i><i style="left:98px;width:2px;background:linear-gradient(#ffeee6 0.5px,#feeae1 59.5px,#fee0d2 81.5px,#fdc9b3 96.5px,#fc9576 120.5px,#fc8565 134.5px,#fc8666 147.5px,#fca082 199.5px,#fcb99f 270.5px,#fee1d4 337.5px,#ffeee7 380.5px,#fff0e8 383.5px,#fff5f0 384.5px,#fff5f0 510.5px)"></i><i style="left:100px;width:2px;background:linear-gradient(#ffeee6 0.5px,#feeae1 59.5px,#fee0d2 81.5px,#fdc6b0 97.5px,#fc9879 118.5px,#fc8565 131.5px,#fc8464 146.5px,#fca082 204.5px,#fcb99f 271.5px,#fee1d4 338.5px,#ffeee7 380.5px,#fff0e8 383.5px,#fff5f0 384.5px,#fff5f0 510.5px)"></i><i style="left:102px;width:2px;background:linear-gradient(#ffeee6 0.5px,#feeae1 58.5px,#fee0d2 81.5px,#fdc5ae 97.5px,#fc9373 120.5px,#fc8262 132.5px,#fc8161 145.5px,#fc9e80 205.5px,#fcbba1 275.5px,#fee1d4 338.5px,#ffeee7 380.5px,#fff0e8 383.5px,#fff5f0 384.5px,#fff5f0 510.5px)"></i><i style="left:104px;width:2px;background:linear-gradient(#ffeee6 0.5px,#feeae1 58.5px,#fee1d3 80.5px,#fdc6b0 96.5px,#fc8f6f 121.5px,#fc8060 134.5px,#fc8161 150.5px,#fc9e80 209.5px,#fcbba1 276.5px,#fee1d4 339.5px,#fff0e8 383.5px,#fff5f0 384.5px,#fff5f0 510.5px)"></i><i style="left:106px;width:2px;background:linear-gradient(#ffeee6 0.5px,#feeae1 58.5px,#fee0d2 80.5px,#fdc7b2 95.5px,#fc9272 119.5px,#fc7f5f 133.5px,#fb7d5d 146.5px,#fca082 216.5px,#fcb99f 275.5px,#fdd4c2 317.5px,#fee2d5 342.5px,#ffefe8 382.5px,#fff0e8 383.5px,#fff5f0 384.5px,#fff5f0 510.5px)"></i><i style="left:108px;width:2px;background:linear-gradient(#ffeee6 0.5px,#feeae1 58.5px,#fee0d2 80.5px,#fdc9b3 94.5px,#fc9070 119.5px,#fb7c5c 134.5px,#fb7d5d 150.5px,#fca183 223.5px,#fcbca2 281.5px,#fee1d3 339.5px,#ffefe8 382.5px,#fff0e8 383.5px,#fff5f0 384.5px,#fff5f0 510.5px)"></i><i style="left:110px;width:2px;background:linear-gradient(#ffeee6 0.5px,#feeae1 57.5px,#fee0d2 80.5px,#fcc4ad 96.5px,#fc8d6d 120.5px,#fb7c5c 132.5px,#fb7b5b 149.5px,#fca588 235.5px,#fcbea5 287.5px,#fee1d3 339.5px,#ffefe8 382.5px,#fff0e8 383.5px,#fff5f0 384.5px,#fff5f0 510.5px)"></i><i style="left:112px;width:2px;background:linear-gradient(#ffeee6 0.5px,#feeae1 57.5px,#fee0d2 79.5px,#fdcdb9 91.5px,#fc8e6e 119.5px,#fb7c5c 130.5px,#fb7757 143.5px,#fcb79c 275.5px,#fdd0bc 313.5px,#fee3d6 346.5px,#fff0e8 383.5px,#fff5f0 384.5px,#fff5f0 510.5px)"></i><i style="left:114px;width:2px;background:linear-gradient(#ffeee6 0.5px,#feeae1 57.5px,#fee0d2 79.5px,#fdc9b3 93.5px,#fc8e6e 118.5px,#fb7a5a 131.5px,#fb7656 145.5px,#fcb499 272.5px,#fdcdb9 311.5px,#fee1d4 343.5px,#ffefe8 382.5px,#fff0e8 383.5px,#fff5f0 384.5px,#fff5f0 510.5px)"></i><i style="left:116px;width:2px;background:linear-gradient(#ffeee6 0.5px,#feeae1 57.5px,#fedfd0 80.5px,#fcc2aa 96.5px,#fc8d6d 118.5px,#fb7757 132.5px,#fb7555 147.5px,#fcb095 267.5px,#fdc6b0 302.5px,#fee1d4 343.5px,#ffefe8 382.5px,#fff0e8 383.5px,#fff5f0 384.5px,#fff5f0 510.5px)"></i><i style="left:118px;width:2px;background:linear-gradient(#ffeee6 0.5px,#feeae1 56.5px,#fee1d4 77.5px,#fdcdb9 90.5px,#fca183 109.5px,#fc8969 119.5px,#fb7656 132.5px,#fb7252 144.5px,#fca588 247.5px,#fcbfa7 293.5px,#fee1d3 342.5px,#ffefe8 382.5px,#fff0e8 383.5px,#fff5f0 384.5px,#fff5f0 510.5px)"></i><i style="left:120px;width:2px;background:linear-gradient(#ffeee6 0.5px,#feeae1 56.5px,#fee0d2 78.5px,#fdc9b3 92.5px,#fc8a6a 118.5px,#fb7555 131.5px,#fb7151 146.5px,#fca285 245.5px,#fcc2aa 298.5px,#fee1d3 343.5px,#ffefe8 382.5px,#fff0e8 383.5px,#fff5f0 384.5px,#fff5f0 510.5px)"></i><i style="left:122px;width:2px;background:linear-gradient(#ffeee6 0.5px,#feeae1 56.5px,#fee0d2 78.5px,#fcc4ad 94.5px,#fc8a6a 117.5px,#fb7555 130.5px,#fb6e4e 141.5px,#fc9b7c 233.5px,#fcbda4 292.5px,#fee1d4 345.5px,#ffefe8 382.5px,#fff0e8 383.5px,#fff5f0 384.5px,#fff5f0 510.5px)"></i><i style="left:124px;width:2px;background:linear-gradient(#ffeee6 0.5px,#feeae1 55.5px,#fee1d3 77.5px,#fdcbb6 90.5px,#fc8969 117.5px,#fb7252 130.5px,#fb6d4d 143.5px,#fc9c7d 239.5px,#fcbea5 295.5px,#fee1d3 344.5px,#ffefe8 382.5px,#fff0e8 383.5px,#fff5f0 384.5px,#fff5f0 510.5px)"></i><i style="left:126px;width:2px;background:linear-gradient(#ffeee6 0.5px,#feeae1 55.5px,#fee0d2 77.5px,#fdc9b3 91.5px,#fc8565 118.5px,#fb7050 131.5px,#fb6c4c 144.5px,#fc9c7d 242.5px,#fcc2aa 301.5px,#fee1d3 345.5px,#ffefe8 382.5px,#fff0e8 383.5px,#fff5f0 384.5px,#fff5f0 510.5px)"></i><i style="left:128px;width:2px;background:linear-gradient(#ffeee6 0.5px,#feeae1 55.5px,#fee0d2 77.5px,#fdc7b2 91.5px,#fc9576 111.5px,#fb7757 124.5px,#fb6b4b 136.5px,#fb6e4e 153.5px,#fc997a 240.5px,#fcbfa7 299.5px,#fee1d4 347.5px,#ffefe8 382.5px,#fff0e8 383.5px,#fff5f0 384.5px,#fff5f0 510.5px)"></i><i style="left:130px;width:2px;background:linear-gradient(#ffeee6 0.5px,#feeae1 55.5px,#fee1d3 76.5px,#fdcbb6 89.5px,#fc997a 109.5px,#fb7b5b 121.5px,#fb694a 134.5px,#fb6b4b 148.5px,#fc997a 243.5px,#fcbfa7 300.5px,#fee1d3 346.5px,#ffeee7 381.5px,#fff0e8 383.5px,#fff5f0 384.5px,#fff5f0 510.5px)"></i><i style="left:132px;width:2px;background:linear-gradient(#ffeee6 0.5px,#feeae1 54.5px,#fee0d2 76.5px,#fdccb8 88.5px,#fc9d7f 107.5px,#fb7d5d 119.5px,#fb6b4b 130.5px,#fa6648 141.5px,#fc8969 213.5px,#fc9e80 255.5px,#fdc5ae 309.5px,#fee1d4 348.5px,#ffefe8 382.5px,#fff0e8 383.5px,#fff5f0 384.5px,#fff5f0 510.5px)"></i><i style="left:134px;width:2px;background:linear-gradient(#ffeee6 0.5px,#feeae1 54.5px,#fee0d2 76.5px,#fdc7b2 90.5px,#fc8060 117.5px,#fb6b4b 129.5px,#f96346 139.5px,#fb7050 161.5px,#fc9777 245.5px,#fcbea5 301.5px,#fee1d3 347.5px,#ffefe8 383.5px,#fff5f0 384.5px,#fff5f0 510.5px)"></i><i style="left:136px;width:2px;background:linear-gradient(#ffeee6 0.5px,#feeae1 54.5px,#fee1d3 75.5px,#fdc6b0 90.5px,#fc9474 109.5px,#fb6d4d 125.5px,#f96245 135.5px,#f96346 147.5px,#fb7a5a 183.5px,#fc9777 248.5px,#fcbea5 302.5px,#fee1d4 349.5px,#ffeee7 381.5px,#ffefe8 383.5px,#fff5f0 384.5px,#fff5f0 510.5px)"></i><i style="left:138px;width:2px;background:linear-gradient(#ffeee6 0.5px,#feeae1 53.5px,#fee1d3 74.5px,#fdd0bc 85.5px,#fca183 104.5px,#fc8161 115.5px,#fa6849 127.5px,#f85d42 137.5px,#fa6648 154.5px,#fb7b5b 189.5px,#fc9474 246.5px,#fcb79c 294.5px,#fee1d3 348.5px,#ffefe8 383.5px,#fff5f0 384.5px,#fff5f0 510.5px)"></i><i style="left:140px;width:2px;background:linear-gradient(#ffeee6 0.5px,#feeae1 53.5px,#fee0d2 75.5px,#fdc6b0 89.5px,#fca285 103.5px,#fc8262 114.5px,#fa6648 126.5px,#f75c41 135.5px,#f85d42 146.5px,#fb7353 177.5px,#fc9474 249.5px,#fcb79c 295.5px,#fee1d4 350.5px,#ffefe8 383.5px,#fff5f0 384.5px,#fff5f0 510.5px)"></i><i style="left:142px;width:2px;background:linear-gradient(#ffeee6 0.5px,#feeae1 53.5px,#fee0d2 74.5px,#fdccb8 86.5px,#fcaf93 98.5px,#fc8060 114.5px,#fa6648 125.5px,#f7593f 134.5px,#f75b40 147.5px,#fb7050 174.5px,#fc9474 252.5px,#fcbba1 301.5px,#fee1d3 349.5px,#ffefe8 383.5px,#fff5f0 384.5px,#fff5f0 510.5px)"></i><i style="left:144px;width:2px;background:linear-gradient(#ffeee6 0.5px,#feeae1 53.5px,#fee0d2 74.5px,#fdcbb6 86.5px,#fcae92 98.5px,#fc8666 111.5px,#fa6547 124.5px,#f6563d 134.5px,#f6563d 145.5px,#fb7050 178.5px,#fc9474 255.5px,#fcbea5 306.5px,#fee1d4 351.5px,#ffefe8 383.5px,#fff5f0 384.5px,#fff5f0 510.5px)"></i><i style="left:146px;width:2px;background:linear-gradient(#ffeee6 0.5px,#feeae1 52.5px,#fee0d2 74.5px,#fcc4ad 89.5px,#fc8161 112.5px,#f96245 124.5px,#f5523a 135.5px,#f6553c 148.5px,#fb6e4e 180.5px,#fc9474 258.5px,#fcbea5 307.5px,#fee1d3 350.5px,#ffefe8 383.5px,#fff5f0 384.5px,#fff5f0 510.5px)"></i><i style="left:148px;width:2px;background:linear-gradient(#ffeee6 0.5px,#feeae1 52.5px,#fee0d2 73.5px,#fdc7b2 87.5px,#fc9e80 102.5px,#fb6e4e 118.5px,#f6563d 129.5px,#f44d38 139.5px,#f85d42 161.5px,#fb7353 193.5px,#fc9373 258.5px,#fcb79c 300.5px,#fee0d2 349.5px,#ffefe8 383.5px,#fff5f0 384.5px,#fff5f0 510.5px)"></i><i style="left:150px;width:2px;background:linear-gradient(#ffeee6 0.5px,#feeae1 52.5px,#fee0d2 73.5px,#fdc6b0 87.5px,#fca082 101.5px,#fb6c4c 118.5px,#f5533b 129.5px,#f34a36 139.5px,#f6553c 155.5px,#fb6e4e 188.5px,#fc9373 261.5px,#fcb69b 300.5px,#fee1d3 351.5px,#ffefe8 383.5px,#fff5f0 384.5px,#fff5f0 510.5px)"></i><i style="left:152px;width:2px;background:linear-gradient(#ffeee6 0.5px,#feeae1 51.5px,#fee0d2 73.5px,#fdc7b2 86.5px,#fca588 99.5px,#fb7858 113.5px,#f7593f 124.5px,#f34935 135.5px,#f34a36 147.5px,#fb6c4c 187.5px,#fc9373 263.5px,#fcb69b 301.5px,#fee0d2 350.5px,#ffefe8 383.5px,#fff5f0 384.5px,#fff5f0 510.5px)"></i><i style="left:154px;width:2px;background:linear-gradient(#ffeee6 0.5px,#feeae1 51.5px,#fee0d2 72.5px,#fdcbb6 84.5px,#fca689 98.5px,#fb7656 113.5px,#f6563d 124.5px,#f24633 134.5px,#f24734 147.5px,#fb6c4c 190.5px,#fc9272 264.5px,#fcb499 301.5px,#fee1d3 352.5px,#ffefe8 383.5px,#fff5f0 384.5px,#fff5f0 510.5px)"></i><i style="left:156px;width:2px;background:linear-gradient(#ffeee6 0.5px,#feeae1 51.5px,#fee0d2 72.5px,#fdc6b0 86.5px,#fc9879 102.5px,#fa6849 117.5px,#f44d38 127.5px,#f14130 136.5px,#f24633 149.5px,#fb694a 189.5px,#fc9070 264.5px,#fcae92 296.5px,#fee0d2 351.5px,#ffefe8 383.5px,#fff5f0 384.5px,#fff5f0 510.5px)"></i><i style="left:158px;width:2px;background:linear-gradient(#ffeee6 0.5px,#feeae1 50.5px,#fee0d2 72.5px,#fdc5ae 86.5px,#fca082 99.5px,#fb6c4c 115.5px,#f34a36 127.5px,#f03f2e 136.5px,#f14331 148.5px,#fa6648 189.5px,#fc9070 266.5px,#fcad90 296.5px,#fee0d2 351.5px,#ffefe8 383.5px,#fff5f0 384.5px,#fff5f0 510.5px)"></i><i style="left:160px;width:2px;background:linear-gradient(#ffeee6 0.5px,#feeae1 50.5px,#fee1d4 70.5px,#fdcdb9 82.5px,#fcab8f 95.5px,#fb7656 111.5px,#f7593f 120.5px,#f14130 130.5px,#ef3c2c 140.5px,#f44d38 161.5px,#fb6e4e 206.5px,#fc9070 268.5px,#fcab8f 296.5px,#fee0d2 352.5px,#ffefe8 383.5px,#fff5f0 384.5px,#fff5f0 510.5px)"></i><i style="left:162px;width:2px;background:linear-gradient(#ffeee6 0.5px,#feeae1 50.5px,#fee0d2 71.5px,#fdccb8 82.5px,#fcaa8d 95.5px,#fb6d4d 113.5px,#f24633 126.5px,#ee3a2c 134.5px,#ef3c2c 146.5px,#f75c41 181.5px,#fb7858 229.5px,#fc9576 276.5px,#fedaca 345.5px,#ffefe8 383.5px,#fff5f0 384.5px,#fff5f0 510.5px)"></i><i style="left:164px;width:2px;background:linear-gradient(#ffeee6 0.5px,#feeae1 50.5px,#fee0d2 71.5px,#fdc5ae 85.5px,#fc9e80 98.5px,#fa6849 114.5px,#f14331 126.5px,#ec382b 134.5px,#ee3a2c 147.5px,#f7593f 180.5px,#fb7b5b 237.5px,#fc9474 276.5px,#fedbcc 347.5px,#ffefe8 383.5px,#fff5f0 384.5px,#fff5f0 510.5px)"></i><i style="left:166px;width:2px;background:linear-gradient(#ffeee6 0.5px,#feeae1 49.5px,#fee1d4 69.5px,#fdcdb9 81.5px,#fcae92 93.5px,#fb6c4c 112.5px,#f14432 124.5px,#eb372a 132.5px,#eb372a 145.5px,#f6583e 181.5px,#fb7a5a 238.5px,#fc9576 279.5px,#fed9c9 345.5px,#fee8de 372.5px,#ffefe8 383.5px,#fff5f0 384.5px,#fff5f0 510.5px)"></i><i style="left:168px;width:2px;background:linear-gradient(#ffeee6 0.5px,#feeae1 49.5px,#fee0d2 70.5px,#fdccb8 81.5px,#fcad90 93.5px,#fb6d4d 111.5px,#f14130 124.5px,#e93529 132.5px,#e93529 145.5px,#f24734 164.5px,#fb7050 223.5px,#fc9272 276.5px,#fcbda4 317.5px,#fee0d2 354.5px,#ffefe8 383.5px,#fff5f0 384.5px,#fff5f0 510.5px)"></i><i style="left:170px;width:2px;background:linear-gradient(#ffeee6 0.5px,#feeae1 49.5px,#fee0d2 70.5px,#fdc5ae 84.5px,#fc9d7f 97.5px,#f96346 113.5px,#ef3c2c 125.5px,#e43027 136.5px,#e93529 148.5px,#f24633 166.5px,#fb7050 226.5px,#fc9070 276.5px,#fcb499 310.5px,#fee1d3 356.5px,#ffefe8 383.5px,#fff5f0 384.5px,#fff5f0 510.5px)"></i><i style="left:172px;width:2px;background:linear-gradient(#ffeee6 0.5px,#feeae1 49.5px,#fee1d3 69.5px,#fdc9b3 82.5px,#fca689 94.5px,#fa6547 112.5px,#ef3c2c 124.5px,#e22e27 134.5px,#e43027 146.5px,#f14130 165.5px,#f96346 211.5px,#fc8a6a 270.5px,#fca082 293.5px,#fedecf 352.5px,#ffefe8 383.5px,#fff5f0 384.5px,#fff5f0 510.5px)"></i><i style="left:174px;width:2px;background:linear-gradient(#ffeee6 0.5px,#feeae1 48.5px,#fee1d3 68.5px,#fdcebb 79.5px,#fcaf93 91.5px,#fa6648 111.5px,#ef3c2c 123.5px,#e02c26 133.5px,#e12d26 146.5px,#f0402f 167.5px,#fb7353 239.5px,#fc9373 282.5px,#fdc7b2 330.5px,#fee1d4 358.5px,#ffeee7 383.5px,#fff5f0 384.5px,#fff5f0 510.5px)"></i><i style="left:176px;width:2px;background:linear-gradient(#ffeee6 0.5px,#feeae1 48.5px,#fee0d2 69.5px,#fdc5ae 83.5px,#fc9272 99.5px,#fa6547 111.5px,#f03f2e 121.5px,#e12d26 130.5px,#db2824 141.5px,#f0402f 171.5px,#fb7151 239.5px,#fc9272 282.5px,#fcbda4 321.5px,#fee1d3 358.5px,#ffeee7 383.5px,#fff5f0 384.5px,#fff5f0 510.5px)"></i><i style="left:178px;width:2px;background:linear-gradient(#ffeee6 0.5px,#feeae1 48.5px,#fee0d2 69.5px,#fdc6b0 82.5px,#fca689 93.5px,#fa6648 110.5px,#ef3c2c 121.5px,#dc2924 131.5px,#da2723 143.5px,#f0402f 175.5px,#fb7252 245.5px,#fc9777 289.5px,#fedaca 350.5px,#ffeee7 383.5px,#fff5f0 384.5px,#fff5f0 510.5px)"></i><i style="left:180px;width:2px;background:linear-gradient(#ffeee6 0.5px,#feeae1 48.5px,#fee0d2 68.5px,#fdcebb 78.5px,#fcaf93 90.5px,#fa6849 109.5px,#ed392b 121.5px,#d92523 132.5px,#d72322 144.5px,#f03f2e 178.5px,#fb7252 248.5px,#fc9576 289.5px,#fedccd 353.5px,#ffeee7 383.5px,#fff5f0 384.5px,#fff5f0 510.5px)"></i><i style="left:182px;width:2px;background:linear-gradient(#ffeee6 0.5px,#feeae1 47.5px,#fee1d3 67.5px,#fdcebb 78.5px,#fcae92 90.5px,#fa6648 109.5px,#ed392b 120.5px,#d82422 131.5px,#d32020 142.5px,#f03f2e 182.5px,#fb7151 249.5px,#fc9373 288.5px,#fdcebb 340.5px,#fee3d6 363.5px,#ffeee7 383.5px,#fff5f0 384.5px,#fff5f0 510.5px)"></i><i style="left:184px;width:2px;background:linear-gradient(#ffeee6 0.5px,#feeae1 47.5px,#fee0d2 68.5px,#fdcbb6 79.5px,#fcad90 90.5px,#f96346 109.5px,#ee3a2c 119.5px,#d82422 129.5px,#d01d1f 140.5px,#f03f2e 186.5px,#fb7050 251.5px,#fc9474 291.5px,#fee0d2 358.5px,#ffeee7 383.5px,#fff5f0 384.5px,#fff5f0 510.5px)"></i><i style="left:186px;width:2px;background:linear-gradient(#ffeee6 0.5px,#feeae1 47.5px,#fee0d2 68.5px,#fdc6b0 81.5px,#fc9d7f 94.5px,#f96044 109.5px,#ec382b 119.5px,#d32020 130.5px,#ce1a1e 142.5px,#f03f2e 190.5px,#fb7050 255.5px,#fc9777 295.5px,#fee1d3 360.5px,#ffeee7 383.5px,#fff5f0 384.5px,#fff5f0 510.5px)"></i><i style="left:188px;width:2px;background:linear-gradient(#ffeee6 0.5px,#feeae1 47.5px,#fee0d2 67.5px,#fdcebb 77.5px,#fcae92 89.5px,#f96346 108.5px,#ec382b 118.5px,#d11e1f 130.5px,#cb181d 140.5px,#d52221 156.5px,#f03d2d 193.5px,#fb6e4e 256.5px,#fc9474 294.5px,#fee1d3 361.5px,#ffeee6 383.5px,#fff5f0 384.5px,#fff5f0 510.5px)"></i><i style="left:190px;width:2px;background:linear-gradient(#ffeee6 0.5px,#feeae1 47.5px,#fee0d2 67.5px,#fdcab5 79.5px,#fca98c 90.5px,#f96044 108.5px,#ed392b 117.5px,#d01d1f 129.5px,#c8171c 140.5px,#d01d1f 153.5px,#ef3c2c 195.5px,#fb6e4e 260.5px,#fc9777 298.5px,#fee0d2 361.5px,#ffede5 383.5px,#fff5f0 384.5px,#fff5f0 510.5px)"></i><i style="left:192px;width:2px;background:linear-gradient(#ffeee6 0.5px,#feeae1 46.5px,#fee0d2 67.5px,#fdc6b0 80.5px,#fca486 91.5px,#f96346 107.5px,#eb372a 117.5px,#cf1c1f 128.5px,#c5171c 138.5px,#cb181d 151.5px,#ed392b 195.5px,#fa6849 255.5px,#fc8767 287.5px,#fcc2aa 335.5px,#fee1d3 365.5px,#ffece4 383.5px,#fff5f0 384.5px,#fff5f0 510.5px)"></i><i style="left:194px;width:2px;background:linear-gradient(#ffeee6 0.5px,#feeae1 46.5px,#fee1d3 66.5px,#fdccb8 77.5px,#fcae92 88.5px,#fb6b4b 105.5px,#ec382b 116.5px,#cf1c1f 127.5px,#c2161b 138.5px,#c9181d 152.5px,#e63328 188.5px,#f14432 214.5px,#fb6c4c 263.5px,#fc9777 302.5px,#fedecf 363.5px,#ffebe2 383.5px,#fff5f0 384.5px,#fff5f0 510.5px)"></i><i style="left:196px;width:2px;background:linear-gradient(#ffeee6 0.5px,#feeae1 46.5px,#fee0d2 66.5px,#fdcab5 78.5px,#fca98c 89.5px,#f96346 106.5px,#ed392b 115.5px,#cb181d 127.5px,#be151a 138.5px,#c5171c 152.5px,#d32020 166.5px,#ef3c2c 207.5px,#fa6648 260.5px,#fc8262 287.5px,#fcb499 329.5px,#fee1d3 370.5px,#fee8de 383.5px,#fff5f0 384.5px,#fff5f0 510.5px)"></i><i style="left:198px;width:2px;background:linear-gradient(#ffeee6 0.5px,#feeae1 46.5px,#fee0d2 66.5px,#fdcbb6 77.5px,#fcab8f 88.5px,#fa6648 105.5px,#ee3a2c 114.5px,#ce1a1e 125.5px,#bd151a 135.5px,#bd151a 147.5px,#cf1c1f 165.5px,#ea362a 201.5px,#f44f39 236.5px,#fb7050 273.5px,#fca285 317.5px,#fed8c7 365.5px,#fee6da 383.5px,#fff5f0 384.5px,#fff5f0 510.5px)"></i><i style="left:200px;width:2px;background:linear-gradient(#ffeee6 0.5px,#feeae1 45.5px,#fee1d3 65.5px,#fdcdb9 76.5px,#fcae92 87.5px,#fa6849 104.5px,#ec382b 114.5px,#ca181d 125.5px,#b91419 135.5px,#b91419 148.5px,#cf1c1f 169.5px,#ea362a 205.5px,#f44f39 240.5px,#fb7050 276.5px,#fca486 322.5px,#fdd5c4 368.5px,#fee3d6 383.5px,#fff5f0 384.5px,#fff5f0 510.5px)"></i><i style="left:202px;width:2px;background:linear-gradient(#ffeee6 0.5px,#feeae1 45.5px,#fee0d2 66.5px,#fdc5ae 79.5px,#fca183 90.5px,#fa6648 104.5px,#ed392b 113.5px,#ca181d 124.5px,#b81419 134.5px,#b31218 144.5px,#c5171c 164.5px,#e02c26 193.5px,#f0402f 225.5px,#fa6547 268.5px,#fc9474 312.5px,#fdcebb 367.5px,#fedecf 383.5px,#fff5f0 384.5px,#fff5f0 510.5px)"></i><i style="left:204px;width:2px;background:linear-gradient(#ffeee6 0.5px,#feeae1 45.5px,#fee0d2 65.5px,#fdcab5 77.5px,#fca78b 88.5px,#fb694a 103.5px,#ef3c2c 112.5px,#ca181d 123.5px,#b61319 133.5px,#b01217 144.5px,#be151a 162.5px,#d11e1f 179.5px,#ef3c2c 223.5px,#f96245 268.5px,#fb7d5d 295.5px,#fca98c 336.5px,#fedecf 391.5px,#fee7dc 433.5px,#fff0e8 510.5px)"></i><i style="left:206px;width:2px;background:linear-gradient(#ffeee6 0.5px,#feeae0 47.5px,#fee0d2 65.5px,#fdcbb6 76.5px,#fcae92 86.5px,#fb6c4c 102.5px,#ed392b 112.5px,#cb181d 122.5px,#b61319 131.5px,#ad1117 140.5px,#b11218 154.5px,#cf1c1f 181.5px,#e83429 214.5px,#f24633 240.5px,#fb6e4e 283.5px,#fca183 334.5px,#fdd4c2 388.5px,#fee1d3 414.5px,#ffeee6 501.5px,#ffeee7 510.5px)"></i><i style="left:208px;width:2px;background:linear-gradient(#ffeee6 0.5px,#feeae0 47.5px,#fedfd0 66.5px,#fdc7b2 77.5px,#fcad90 86.5px,#fb694a 102.5px,#eb372a 112.5px,#cb181d 121.5px,#b11218 132.5px,#aa1016 144.5px,#b11218 159.5px,#cf1c1f 185.5px,#ea362a 222.5px,#f44f39 254.5px,#fb7151 289.5px,#fc9d7f 335.5px,#fdcebb 389.5px,#fee1d3 427.5px,#ffeee6 510.5px)"></i><i style="left:210px;width:2px;background:linear-gradient(#ffeee6 0.5px,#feeae1 44.5px,#fee1d3 64.5px,#fdccb8 75.5px,#fcaf93 85.5px,#fb6d4d 101.5px,#ec382b 111.5px,#c9181d 121.5px,#af1117 132.5px,#a60f15 144.5px,#ad1117 161.5px,#cf1c1f 189.5px,#ec382b 230.5px,#f85f43 274.5px,#fc7f5f 307.5px,#fca285 345.5px,#fdcbb6 392.5px,#fee1d3 436.5px,#ffede5 510.5px)"></i><i style="left:212px;width:2px;background:linear-gradient(#ffeee6 0.5px,#feeae1 44.5px,#fee1d3 64.5px,#fdcab5 76.5px,#fca486 88.5px,#f96044 103.5px,#eb372a 111.5px,#c9181d 120.5px,#aa1016 133.5px,#a30f15 144.5px,#a81016 159.5px,#cf1c1f 193.5px,#ef3c2c 240.5px,#fb7252 297.5px,#fc9e80 345.5px,#fdc7b2 393.5px,#fee1d3 442.5px,#ffece4 510.5px)"></i><i style="left:214px;width:2px;background:linear-gradient(#ffeee6 0.5px,#feeae1 44.5px,#fee0d2 64.5px,#fdcbb6 75.5px,#fcaa8d 86.5px,#fb694a 101.5px,#ec382b 110.5px,#ca181d 119.5px,#ac1117 130.5px,#9f0e14 141.5px,#9f0e14 155.5px,#b21218 174.5px,#cf1c1f 197.5px,#ef3c2c 244.5px,#fb7252 300.5px,#fca082 350.5px,#fdc6b0 396.5px,#fee1d3 446.5px,#ffece3 510.5px)"></i><i style="left:216px;width:2px;background:linear-gradient(#ffeee6 0.5px,#feeae1 44.5px,#fee0d2 64.5px,#fdcbb6 75.5px,#fca98c 86.5px,#f96245 102.5px,#eb372a 110.5px,#cb181d 118.5px,#ab1016 129.5px,#9c0d14 140.5px,#9c0d14 159.5px,#be151a 187.5px,#d11e1f 203.5px,#f0402f 251.5px,#fb7151 301.5px,#fc9e80 351.5px,#fcc4ad 396.5px,#fedfd0 445.5px,#ffebe2 510.5px)"></i><i style="left:218px;width:2px;background:linear-gradient(#ffeee6 0.5px,#feeae0 46.5px,#fee0d2 64.5px,#fdc5ae 77.5px,#fc9c7d 89.5px,#fa6547 101.5px,#ed392b 109.5px,#c9181d 118.5px,#a91016 129.5px,#980c13 138.5px,#940b13 156.5px,#9d0d14 168.5px,#c8171c 198.5px,#de2b25 225.5px,#f14130 256.5px,#fb7252 305.5px,#fca183 356.5px,#fdc5ae 400.5px,#fee0d2 450.5px,#ffebe2 510.5px)"></i><i style="left:220px;width:2px;background:linear-gradient(#ffeee6 0.5px,#feeae0 46.5px,#fedfd0 64.5px,#fdcab5 75.5px,#fca689 86.5px,#fb694a 100.5px,#eb372a 109.5px,#cb181d 117.5px,#ab1016 127.5px,#960b13 136.5px,#900a12 146.5px,#900a12 162.5px,#a10e15 174.5px,#c5171c 199.5px,#dc2924 225.5px,#f14130 259.5px,#fb7252 307.5px,#fc9e80 355.5px,#fcc3ab 398.5px,#fee0d2 451.5px,#ffebe2 510.5px)"></i><i style="left:222px;width:2px;background:linear-gradient(#ffeee6 0.5px,#feeae1 43.5px,#fee1d3 63.5px,#fdcbb6 74.5px,#fcaa8d 85.5px,#fb6c4c 99.5px,#ed392b 108.5px,#c9181d 117.5px,#a91016 127.5px,#920a13 136.5px,#8a0812 147.5px,#8c0912 164.5px,#9d0d14 175.5px,#b61319 189.5px,#d01d1f 212.5px,#f14130 262.5px,#fb7252 309.5px,#fca082 358.5px,#fcc2aa 398.5px,#fedecf 447.5px,#ffebe2 509.5px,#ffebe2 510.5px)"></i><i style="left:224px;width:2px;background:linear-gradient(#ffeee6 0.5px,#feeae1 43.5px,#fee0d2 63.5px,#fdcbb6 74.5px,#fca98c 85.5px,#fb6b4b 99.5px,#ec382b 108.5px,#cb181d 116.5px,#a91016 126.5px,#900a12 135.5px,#860811 143.5px,#860811 164.5px,#940b13 173.5px,#aa1016 183.5px,#ca181d 208.5px,#f0402f 263.5px,#fb7252 311.5px,#fca082 359.5px,#fcc2aa 399.5px,#fedecf 448.5px,#ffebe2 510.5px)"></i><i style="left:226px;width:2px;background:linear-gradient(#ffeee6 0.5px,#feeae1 43.5px,#fee0d2 63.5px,#fdcbb6 74.5px,#fca78b 85.5px,#fb694a 99.5px,#eb372a 108.5px,#c9181d 116.5px,#920a13 132.5px,#820711 141.5px,#7e0610 160.5px,#8c0912 171.5px,#aa1016 184.5px,#cb181d 212.5px,#f0402f 266.5px,#fb7353 314.5px,#fca082 360.5px,#fcc4ad 403.5px,#fee0d2 454.5px,#ffebe2 510.5px)"></i><i style="left:228px;width:2px;background:linear-gradient(#ffeee6 0.5px,#feeae1 43.5px,#fee0d2 63.5px,#fdccb8 73.5px,#fcb69b 81.5px,#fc8565 93.5px,#f75c41 101.5px,#ee3a2c 107.5px,#cb181d 115.5px,#8c0912 133.5px,#7e0610 141.5px,#7a0510 157.5px,#7e0610 165.5px,#980c13 177.5px,#a91016 184.5px,#c7171c 209.5px,#da2723 235.5px,#f0402f 268.5px,#fb7252 314.5px,#fca082 361.5px,#fcc3ab 402.5px,#fedfd0 452.5px,#ffebe2 510.5px)"></i><i style="left:230px;width:2px;background:linear-gradient(#ffeee6 0.5px,#feeae1 43.5px,#fee0d2 63.5px,#fdc7b2 75.5px,#fcaa8d 84.5px,#fa6849 99.5px,#ed392b 107.5px,#ca181d 115.5px,#8c0912 132.5px,#7a0510 141.5px,#75030f 156.5px,#7c0510 165.5px,#8c0912 173.5px,#a91016 184.5px,#c4161c 208.5px,#d32020 228.5px,#f0402f 269.5px,#fb7151 314.5px,#fca183 363.5px,#fcc2aa 401.5px,#fedecf 450.5px,#feeae1 507.5px,#ffebe2 510.5px)"></i></div></div>
<svg width="1288" height="1184" viewBox="0 0 1288 1184"><defs><clipPath id="clip_T"><rect x="66" y="35" width="231.8" height="510.8"/></clipPath><linearGradient id="cb_T" x1="0" y1="0" x2="0" y2="1"><stop offset="0" stop-color="#0d0887"/><stop offset="0.03" stop-color="#20068f"/><stop offset="0.06" stop-color="#2f0596"/><stop offset="0.09" stop-color="#3e049c"/><stop offset="0.12" stop-color="#4b03a1"/><stop offset="0.16" stop-color="#5801a4"/><stop offset="0.19" stop-color="#6400a7"/><stop offset="0.22" stop-color="#7100a8"/><stop offset="0.25" stop-color="#7d03a8"/><stop offset="0.28" stop-color="#8808a6"/><stop offset="0.31" stop-color="#9410a2"/><stop offset="0.34" stop-color="#9e199d"/><stop offset="0.38" stop-color="#a82296"/><stop offset="0.41" stop-color="#b22b8f"/><stop offset="0.44" stop-color="#bb3488"/><stop offset="0.47" stop-color="#c33d80"/><stop offset="0.5" stop-color="#cb4679"/><stop offset="0.53" stop-color="#d24f71"/><stop offset="0.56" stop-color="#d9586a"/><stop offset="0.59" stop-color="#df6263"/><stop offset="0.62" stop-color="#e56b5d"/><stop offset="0.66" stop-color="#eb7556"/><stop offset="0.69" stop-color="#f07f4f"/><stop offset="0.72" stop-color="#f48948"/><stop offset="0.75" stop-color="#f89441"/><stop offset="0.78" stop-color="#fb9f3a"/><stop offset="0.81" stop-color="#fdab33"/><stop offset="0.84" stop-color="#feb72d"/><stop offset="0.88" stop-color="#fdc328"/><stop offset="0.91" stop-color="#fcd025"/><stop offset="0.94" stop-color="#f9dd25"/><stop offset="0.97" stop-color="#f5eb27"/><stop offset="1" stop-color="#f0f921"/></linearGradient><clipPath id="clip_S"><rect x="509.6" y="35" width="231.8" height="510.8"/></clipPath><linearGradient id="cb_S" x1="0" y1="0" x2="0" y2="1"><stop offset="0" stop-color="#440154"/><stop offset="0.03" stop-color="#460b5e"/><stop offset="0.06" stop-color="#481769"/><stop offset="0.09" stop-color="#482173"/><stop offset="0.12" stop-color="#472c7a"/><stop offset="0.16" stop-color="#453581"/><stop offset="0.19" stop-color="#423f85"/><stop offset="0.22" stop-color="#3f4889"/><stop offset="0.25" stop-color="#3b518b"/><stop offset="0.28" stop-color="#375a8c"/><stop offset="0.31" stop-color="#33628d"/><stop offset="0.34" stop-color="#306a8e"/><stop offset="0.38" stop-color="#2c718e"/><stop offset="0.41" stop-color="#29798e"/><stop offset="0.44" stop-color="#26818e"/><stop offset="0.47" stop-color="#23888e"/><stop offset="0.5" stop-color="#21908d"/><stop offset="0.53" stop-color="#1f978b"/><stop offset="0.56" stop-color="#1f9f88"/><stop offset="0.59" stop-color="#21a685"/><stop offset="0.62" stop-color="#27ad81"/><stop offset="0.66" stop-color="#31b57b"/><stop offset="0.69" stop-color="#3dbc74"/><stop offset="0.72" stop-color="#4cc26c"/><stop offset="0.75" stop-color="#5cc863"/><stop offset="0.78" stop-color="#6ece58"/><stop offset="0.81" stop-color="#81d34d"/><stop offset="0.84" stop-color="#95d840"/><stop offset="0.88" stop-color="#aadc32"/><stop offset="0.91" stop-color="#c0df25"/><stop offset="0.94" stop-color="#d5e21a"/><stop offset="0.97" stop-color="#eae51a"/><stop offset="1" stop-color="#fde725"/></linearGradient><clipPath id="clip_F"><rect x="953.2" y="35" width="231.8" height="510.8"/></clipPath><linearGradient id="cb_F" x1="0" y1="0" x2="0" y2="1"><stop offset="0" stop-color="#00224e"/><stop offset="0.03" stop-color="#002859"/><stop offset="0.06" stop-color="#002d68"/><stop offset="0.09" stop-color="#013271"/><stop offset="0.12" stop-color="#18376f"/><stop offset="0.16" stop-color="#263d6e"/><stop offset="0.19" stop-color="#31436d"/><stop offset="0.22" stop-color="#3a486c"/><stop offset="0.25" stop-color="#424e6c"/><stop offset="0.28" stop-color="#4a536c"/><stop offset="0.31" stop-color="#52596d"/><stop offset="0.34" stop-color="#595e6e"/><stop offset="0.38" stop-color="#60646f"/><stop offset="0.41" stop-color="#676a71"/><stop offset="0.44" stop-color="#6e6f73"/><stop offset="0.47" stop-color="#757575"/><stop offset="0.5" stop-color="#7c7b78"/><stop offset="0.53" stop-color="#838179"/><stop offset="0.56" stop-color="#8b8778"/><stop offset="0.59" stop-color="#928d78"/><stop offset="0.62" stop-color="#9a9376"/><stop offset="0.66" stop-color="#a29975"/><stop offset="0.69" stop-color="#aaa073"/><stop offset="0.72" stop-color="#b3a670"/><stop offset="0.75" stop-color="#bbad6d"/><stop offset="0.78" stop-color="#c3b369"/><stop offset="0.81" stop-color="#ccba64"/><stop offset="0.84" stop-color="#d4c15f"/><stop offset="0.88" stop-color="#ddc858"/><stop offset="0.91" stop-color="#e6d051"/><stop offset="0.94" stop-color="#efd748"/><stop offset="0.97" stop-color="#f8df3c"/><stop offset="1" stop-color="#fee838"/></linearGradient><clipPath id="clip_N"><rect x="66" y="614.8" width="231.8" height="510"/></clipPath><linearGradient id="cb_N" x1="0" y1="0" x2="0" y2="1"><stop offset="0" stop-color="#00441b"/><stop offset="0.03" stop-color="#004d1f"/><stop offset="0.06" stop-color="#005723"/><stop offset="0.09" stop-color="#006227"/><stop offset="0.12" stop-color="#006c2c"/><stop offset="0.16" stop-color="#087432"/><stop offset="0.19" stop-color="#117b38"/><stop offset="0.22" stop-color="#19833e"/><stop offset="0.25" stop-color="#228a44"/><stop offset="0.28" stop-color="#2a924a"/><stop offset="0.31" stop-color="#319a50"/><stop offset="0.34" stop-color="#39a257"/><stop offset="0.38" stop-color="#40aa5d"/><stop offset="0.41" stop-color="#4db163"/><stop offset="0.44" stop-color="#5ab769"/><stop offset="0.47" stop-color="#66bd6f"/><stop offset="0.5" stop-color="#73c476"/><stop offset="0.53" stop-color="#7fc97f"/><stop offset="0.56" stop-color="#8ace88"/><stop offset="0.59" stop-color="#95d391"/><stop offset="0.62" stop-color="#a0d99b"/><stop offset="0.66" stop-color="#aadda4"/><stop offset="0.69" stop-color="#b4e1ad"/><stop offset="0.72" stop-color="#bde5b6"/><stop offset="0.75" stop-color="#c7e9c0"/><stop offset="0.78" stop-color="#ceecc8"/><stop offset="0.81" stop-color="#d6efd0"/><stop offset="0.84" stop-color="#ddf2d8"/><stop offset="0.88" stop-color="#e5f5e0"/><stop offset="0.91" stop-color="#e9f7e5"/><stop offset="0.94" stop-color="#eef8ea"/><stop offset="0.97" stop-color="#f2faf0"/><stop offset="1" stop-color="#f7fcf5"/></linearGradient><clipPath id="clip_C"><rect x="509.6" y="614.8" width="231.8" height="510"/></clipPath><linearGradient id="cb_C" x1="0" y1="0" x2="0" y2="1"><stop offset="0" stop-color="#00441b"/><stop offset="0.03" stop-color="#004d1f"/><stop offset="0.06" stop-color="#005723"/><stop offset="0.09" stop-color="#006227"/><stop offset="0.12" stop-color="#006c2c"/><stop offset="0.16" stop-color="#087432"/><stop offset="0.19" stop-color="#117b38"/><stop offset="0.22" stop-color="#19833e"/><stop offset="0.25" stop-color="#228a44"/><stop offset="0.28" stop-color="#2a924a"/><stop offset="0.31" stop-color="#319a50"/><stop offset="0.34" stop-color="#39a257"/><stop offset="0.38" stop-color="#40aa5d"/><stop offset="0.41" stop-color="#4db163"/><stop offset="0.44" stop-color="#5ab769"/><stop offset="0.47" stop-color="#66bd6f"/><stop offset="0.5" stop-color="#73c476"/><stop offset="0.53" stop-color="#7fc97f"/><stop offset="0.56" stop-color="#8ace88"/><stop offset="0.59" stop-color="#95d391"/><stop offset="0.62" stop-color="#a0d99b"/><stop offset="0.66" stop-color="#aadda4"/><stop offset="0.69" stop-color="#b4e1ad"/><stop offset="0.72" stop-color="#bde5b6"/><stop offset="0.75" stop-color="#c7e9c0"/><stop offset="0.78" stop-color="#ceecc8"/><stop offset="0.81" stop-color="#d6efd0"/><stop offset="0.84" stop-color="#ddf2d8"/><stop offset="0.88" stop-color="#e5f5e0"/><stop offset="0.91" stop-color="#e9f7e5"/><stop offset="0.94" stop-color="#eef8ea"/><stop offset="0.97" stop-color="#f2faf0"/><stop offset="1" stop-color="#f7fcf5"/></linearGradient><clipPath id="clip_R"><rect x="953.2" y="614.8" width="231.8" height="510"/></clipPath><linearGradient id="cb_R" x1="0" y1="0" x2="0" y2="1"><stop offset="0" stop-color="#67000d"/><stop offset="0.03" stop-color="#75030f"/><stop offset="0.06" stop-color="#840711"/><stop offset="0.09" stop-color="#940b13"/><stop offset="0.12" stop-color="#a30f15"/><stop offset="0.16" stop-color="#ad1117"/><stop offset="0.19" stop-color="#b71319"/><stop offset="0.22" stop-color="#c1161b"/><stop offset="0.25" stop-color="#ca181d"/><stop offset="0.28" stop-color="#d32020"/><stop offset="0.31" stop-color="#dc2924"/><stop offset="0.34" stop-color="#e53228"/><stop offset="0.38" stop-color="#ee3a2c"/><stop offset="0.41" stop-color="#f24633"/><stop offset="0.44" stop-color="#f5523a"/><stop offset="0.47" stop-color="#f85d42"/><stop offset="0.5" stop-color="#fb694a"/><stop offset="0.53" stop-color="#fb7353"/><stop offset="0.56" stop-color="#fb7d5d"/><stop offset="0.59" stop-color="#fc8767"/><stop offset="0.62" stop-color="#fc9272"/><stop offset="0.66" stop-color="#fc9c7d"/><stop offset="0.69" stop-color="#fca689"/><stop offset="0.72" stop-color="#fcb095"/><stop offset="0.75" stop-color="#fcbba1"/><stop offset="0.78" stop-color="#fcc4ad"/><stop offset="0.81" stop-color="#fdcdb9"/><stop offset="0.84" stop-color="#fdd7c6"/><stop offset="0.88" stop-color="#fee0d2"/><stop offset="0.91" stop-color="#fee5d9"/><stop offset="0.94" stop-color="#feeae1"/><stop offset="0.97" stop-color="#fff0e8"/><stop offset="1" stop-color="#fff5f0"/></linearGradient></defs><g clip-path="url(#clip_T)">
<path d="M154.74 35V545.8M243.49 35V545.8M66 137.16H297.8M66 239.32H297.8M66 341.48H297.8M66 443.64H297.8" stroke="#b0b0b0" stroke-opacity="0.09" stroke-width="0.8" fill="none"/>
<polyline points="66,38 74.4,40.4 74.4,38.4 86,39.41 91.87,39.94 95.87,40.32 99.3,40.66 102.15,40.97 104.85,41.27 107.41,41.58 109.82,41.89 112.08,42.21 114.19,42.49 116.15,42.75 117.96,42.97 119.62,43.17 121.12,43.35 122.47,43.49 123.67,43.61 124.72,43.69 125.67,43.76 126.5,43.82 127.22,43.85 127.83,43.87 128.33,43.87 128.73,43.86 129.01,43.82 129.19,43.78 130.06,43.76 131.63,43.78 133.9,43.83 136.87,43.92 140.54,44.04 144.9,44.2 149.97,44.39 155.73,44.61 162,44.89 168.77,45.21 176.04,45.58 183.81,46 192.09,46.46 200.87,46.98 210.16,47.54 219.94,48.16 228.59,48.68 236.11,49.12 242.48,49.47 247.72,49.73 251.82,49.91 254.78,49.99 256.61,49.99 257.29,49.91 258.49,49.82 260.2,49.73 262.41,49.64 265.14,49.56 268.97,49.46 273.9,49.35 281.73,49.2 297.8,48.9" fill="none" stroke="#000" stroke-width="0.95" stroke-linejoin="round"/>
<polyline points="66,41.5 74.4,46.2 74.4,43.5 86,45.78 91.87,46.95 95.87,47.78 99.3,48.52 102.15,49.16 104.85,49.8 107.41,50.42 109.82,51.04 112.08,51.66 114.19,52.22 116.15,52.73 117.96,53.18 119.62,53.59 121.12,53.95 122.47,54.25 123.67,54.5 124.72,54.7 125.73,54.85 126.69,54.96 127.61,55.02 128.49,55.03 129.32,55 130.11,54.92 130.85,54.79 131.55,54.61 132.6,54.51 134,54.48 135.74,54.52 137.83,54.63 140.28,54.82 143.07,55.07 146.21,55.4 149.69,55.8 153.03,56.18 156.21,56.55 159.24,56.9 162.11,57.23 164.83,57.54 167.4,57.84 169.82,58.12 172.08,58.38 175.22,58.79 179.24,59.33 184.13,60.02 189.9,60.85 196.54,61.83 204.06,62.94 212.46,64.2 221.74,65.6 229.94,66.8 237.07,67.81 243.12,68.62 248.1,69.23 252.01,69.65 254.85,69.87 256.61,69.89 257.29,69.71 258.11,69.53 259.07,69.35 260.15,69.17 261.37,68.98 262.72,68.79 264.21,68.6 265.82,68.4 267.57,68.2 269.48,68.04 271.55,67.92 273.77,67.83 276.15,67.79 279.07,67.8 282.52,67.86 287.63,68.02 297.8,68.4" fill="none" stroke="#000" stroke-width="0.95" stroke-linejoin="round"/>
<polyline points="66,44.5 74.4,52.3 74.4,47.9 86,51.44 91.73,53.21 95.44,54.39 98.43,55.37 100.7,56.15 102.67,56.87 104.36,57.51 105.75,58.09 106.85,58.61 108.09,59.19 109.47,59.85 110.98,60.57 112.64,61.38 114.71,62.38 117.2,63.6 120.93,65.43 128.4,69.1 128.4,64.2 131.94,64.12 134.04,64.18 135.88,64.35 137.84,64.64 139.93,65.03 142.29,65.53 144.9,66.14 147.78,66.84 150.92,67.66 153.95,68.43 156.87,69.16 159.68,69.86 162.38,70.52 164.97,71.13 167.45,71.71 169.82,72.25 172.08,72.75 175.23,73.51 179.27,74.52 184.19,75.8 190.01,77.33 197.88,79.44 207.8,82.12 223.3,86.35 254.9,95 255.6,88.7 260.28,87.65 262.76,87.14 264.58,86.84 266.28,86.63 267.85,86.5 269.46,86.41 271.12,86.37 272.82,86.38 274.57,86.42 276.37,86.5 278.22,86.6 280.12,86.73 282.06,86.89 284.32,87.11 286.89,87.38 290.59,87.81 297.8,88.7" fill="none" stroke="#000" stroke-width="0.95" stroke-linejoin="round"/>
<polyline points="66,48.2 74.4,60.4 74.4,52.3 82.67,55.72 86.78,57.49 89.49,58.75 91.72,59.89 93.46,60.91 95.03,61.92 96.42,62.93 97.63,63.94 98.67,64.96 99.75,65.98 100.89,67.03 102.07,68.09 103.3,69.16 104.58,70.25 105.91,71.36 107.29,72.48 108.71,73.62 110.19,74.77 111.72,75.95 113.3,77.13 114.93,78.34 116.84,79.72 119.03,81.28 122.2,83.5 128.4,87.8 128.4,72.6 145.49,78.51 155.06,81.98 162.81,85 170.63,88.21 178.54,91.62 188.5,96.07 200.52,101.57 218.62,110.01 254.9,127.1 255.6,99.2 297.8,112.4" fill="none" stroke="#000" stroke-width="0.95" stroke-linejoin="round"/>
<polyline points="66,51.6 74.4,68.8 74.4,57 77.73,58.6 79.46,59.56 80.7,60.4 81.82,61.31 82.82,62.29 83.83,63.39 84.83,64.61 85.84,65.96 86.86,67.44 87.93,68.95 89.05,70.49 90.24,72.07 91.48,73.68 92.79,75.33 94.15,77.01 95.56,78.72 97.04,80.47 98.56,82.2 100.12,83.9 101.73,85.57 103.38,87.21 105.07,88.83 106.81,90.42 108.59,91.98 110.41,93.52 112.19,95.05 113.92,96.56 115.61,98.07 117.24,99.56 119.02,101.22 120.92,103.06 123.51,105.61 128.4,110.5 128.4,80.3 132.53,82.66 134.59,83.93 135.95,84.89 137.06,85.81 137.94,86.69 138.72,87.61 139.43,88.57 140.04,89.58 140.56,90.62 141.22,91.72 142,92.86 142.92,94.04 143.96,95.26 145.13,96.53 146.44,97.84 147.87,99.2 149.43,100.6 151.17,102.09 153.09,103.66 155.18,105.32 157.45,107.06 159.89,108.89 162.51,110.8 165.31,112.81 168.29,114.89 171.5,117.07 174.95,119.34 178.65,121.69 182.58,124.13 186.75,126.67 191.16,129.29 195.81,132 200.69,134.8 205.55,137.58 210.38,140.33 215.17,143.07 219.93,145.78 225.24,148.8 231.1,152.12 239.25,156.74 254.9,165.6 258.3,164.2 259.48,160.66 260.14,158.83 260.66,157.54 261.19,156.39 261.71,155.38 262.37,154.27 263.16,153.04 264.34,151.35 266.7,148.1 268.47,147.8 269.75,147.87 271.11,148.2 272.77,148.76 274.71,149.54 277.43,150.76 280.92,152.4 286.45,155.09 297.8,160.7" fill="none" stroke="#000" stroke-width="0.95" stroke-linejoin="round"/>
<polyline points="66,54.3 74.4,81.7 74.4,64.5 76,68.93 76.97,71.37 77.82,73.31 78.75,75.22 79.75,77.12 80.88,79.17 82.14,81.37 83.54,83.71 85.06,86.19 86.63,88.67 88.25,91.14 89.92,93.59 91.63,96.03 93.39,98.47 95.2,100.89 97.05,103.3 98.95,105.7 100.85,108.07 102.74,110.42 104.62,112.74 106.5,115.03 108.38,117.3 110.25,119.54 112.12,121.76 113.98,123.94 115.76,126.01 117.46,127.95 119.08,129.77 120.62,131.47 122.23,133.2 123.9,134.96 126.11,137.21 130.2,141.3 133.83,140.33 135.68,139.89 136.96,139.65 138.08,139.51 139.04,139.47 139.97,139.48 140.86,139.56 141.73,139.7 142.57,139.9 143.49,140.22 144.48,140.65 145.56,141.19 146.72,141.86 147.95,142.63 149.27,143.53 150.66,144.54 152.14,145.66 153.69,146.82 155.33,148.02 157.05,149.24 158.85,150.51 160.73,151.8 162.69,153.13 164.74,154.5 166.86,155.9 169.1,157.4 171.44,159 173.89,160.71 176.46,162.52 179.13,164.42 181.91,166.43 184.8,168.54 187.8,170.76 190.59,172.79 193.17,174.66 195.54,176.34 197.71,177.86 199.66,179.19 201.4,180.36 202.94,181.34 204.26,182.16 206.07,183.27 208.36,184.7 211.13,186.42 214.39,188.45 218.13,190.79 222.35,193.43 227.06,196.38 232.24,199.62 237.05,202.63 241.49,205.39 245.55,207.91 249.23,210.19 252.53,212.22 255.46,214.01 258.01,215.55 260.19,216.85 262.56,218.1 265.13,219.29 267.89,220.42 270.86,221.5 274.48,222.64 278.78,223.82 285.14,225.39 297.8,228.3" fill="none" stroke="#000" stroke-width="0.95" stroke-linejoin="round"/>
<polyline points="66,56 66.3,57.05 66.46,57.89 66.59,58.85 66.72,60.06 66.85,61.52 67,63.26 67.15,65.29 67.31,67.6 67.49,70.2 67.72,72.82 68.02,75.47 68.37,78.13 68.78,80.82 69.25,83.53 69.78,86.26 70.38,89.01 71.02,91.79 71.7,94.37 72.4,96.76 73.13,98.96 73.89,100.97 74.67,102.78 75.48,104.4 76.32,105.83 77.18,107.07 78.1,108.4 79.06,109.83 80.08,111.34 81.15,112.96 82.27,114.66 83.44,116.46 84.66,118.36 85.94,120.34 87.15,122.27 88.29,124.15 89.37,125.96 90.38,127.72 91.33,129.41 92.21,131.05 93.03,132.64 93.78,134.16 94.67,135.83 95.72,137.64 96.92,139.59 98.26,141.68 99.75,143.92 101.39,146.3 103.18,148.82 105.12,151.48 107.25,154.46 109.57,157.75 112.08,161.36 114.78,165.29 117.67,169.53 120.75,174.08 124.02,178.96 127.48,184.14 131.16,189.28 135.06,194.36 139.17,199.39 143.5,204.36 148.05,209.28 152.82,214.15 157.8,218.97 163,223.73 168.09,228.39 173.07,232.93 177.94,237.37 182.71,241.7 187.36,245.93 191.9,250.04 196.34,254.05 200.66,257.95 205.04,261.85 209.48,265.75 213.97,269.64 218.51,273.53 223.11,277.43 227.76,281.32 232.47,285.21 237.23,289.09 242.08,292.96 247.03,296.81 252.06,300.63 257.19,304.44 263.09,308.69 269.77,313.39 279.28,319.93 297.8,332.5" fill="none" stroke="#000" stroke-width="0.95" stroke-linejoin="round"/>
<polyline points="255.7,108.3 257.01,109.1 257.66,109.54 258.1,109.89 258.47,110.24 258.76,110.58 259.05,111.01 259.35,111.52 259.73,112.28 260.4,113.8 259.89,115.49 259.6,116.35 259.36,116.94 259.11,117.46 258.84,117.89 258.51,118.36 258.09,118.86 257.47,119.53 256.2,120.8 255.7,120.8" fill="none" stroke="#000" stroke-width="0.95" stroke-linejoin="round"/>
</g>
<path d="M66 545.8v-4.8M66 35v4.8M83.75 545.8v-2.4M83.75 35v2.4M101.5 545.8v-2.4M101.5 35v2.4M119.25 545.8v-2.4M119.25 35v2.4M137 545.8v-2.4M137 35v2.4M154.74 545.8v-4.8M154.74 35v4.8M172.49 545.8v-2.4M172.49 35v2.4M190.24 545.8v-2.4M190.24 35v2.4M207.99 545.8v-2.4M207.99 35v2.4M225.74 545.8v-2.4M225.74 35v2.4M243.49 545.8v-4.8M243.49 35v4.8M261.24 545.8v-2.4M261.24 35v2.4M278.99 545.8v-2.4M278.99 35v2.4M296.74 545.8v-2.4M296.74 35v2.4M66 35h4.8M297.8 35h-4.8M66 60.54h2.4M297.8 60.54h-2.4M66 86.08h2.4M297.8 86.08h-2.4M66 111.62h2.4M297.8 111.62h-2.4M66 137.16h4.8M297.8 137.16h-4.8M66 162.7h2.4M297.8 162.7h-2.4M66 188.24h2.4M297.8 188.24h-2.4M66 213.78h2.4M297.8 213.78h-2.4M66 239.32h4.8M297.8 239.32h-4.8M66 264.86h2.4M297.8 264.86h-2.4M66 290.4h2.4M297.8 290.4h-2.4M66 315.94h2.4M297.8 315.94h-2.4M66 341.48h4.8M297.8 341.48h-4.8M66 367.02h2.4M297.8 367.02h-2.4M66 392.56h2.4M297.8 392.56h-2.4M66 418.1h2.4M297.8 418.1h-2.4M66 443.64h4.8M297.8 443.64h-4.8M66 469.18h2.4M297.8 469.18h-2.4M66 494.72h2.4M297.8 494.72h-2.4M66 520.26h2.4M297.8 520.26h-2.4M66 545.8h4.8M297.8 545.8h-4.8" stroke="#000" stroke-opacity="0.75" stroke-width="0.9" fill="none"/>
<rect x="66" y="35" width="231.8" height="510.8" fill="none" stroke="#000" stroke-opacity="0.4" stroke-width="1"/>
<text x="59.8" y="41.2" font-size="18.5" font-family="'Liberation Serif', 'DejaVu Serif', serif" text-anchor="end">0.0</text>
<text x="59.8" y="143.36" font-size="18.5" font-family="'Liberation Serif', 'DejaVu Serif', serif" text-anchor="end">0.2</text>
<text x="59.8" y="245.52" font-size="18.5" font-family="'Liberation Serif', 'DejaVu Serif', serif" text-anchor="end">0.4</text>
<text x="59.8" y="347.68" font-size="18.5" font-family="'Liberation Serif', 'DejaVu Serif', serif" text-anchor="end">0.6</text>
<text x="59.8" y="449.84" font-size="18.5" font-family="'Liberation Serif', 'DejaVu Serif', serif" text-anchor="end">0.8</text>
<text x="59.8" y="552" font-size="18.5" font-family="'Liberation Serif', 'DejaVu Serif', serif" text-anchor="end">1.0</text>
<text x="181.9" y="565.6" font-size="18.0" text-anchor="middle"><tspan font-family="'Liberation Serif', 'DejaVu Serif', serif" font-style="italic">t</tspan><tspan font-family="'Liberation Sans', 'DejaVu Sans', sans-serif" dx="8.5" textLength="48" lengthAdjust="spacingAndGlyphs">[hours]</tspan></text>
<text transform="translate(23.5 291.7) rotate(-90)" font-size="18.0" text-anchor="middle" textLength="79" lengthAdjust="spacingAndGlyphs"><tspan font-family="'Liberation Sans', 'DejaVu Sans', sans-serif">Depth </tspan><tspan font-family="'Liberation Serif', 'DejaVu Serif', serif">[</tspan><tspan font-family="'Liberation Serif', 'DejaVu Serif', serif" font-style="italic">m</tspan><tspan font-family="'Liberation Serif', 'DejaVu Serif', serif">]</tspan></text>
<text x="181.8" y="25.4" font-size="18.0" font-family="'Liberation Sans', 'DejaVu Sans', sans-serif" text-anchor="middle" textLength="103.6" lengthAdjust="spacingAndGlyphs">Temperature</text>
<rect x="312" y="35" width="25.8" height="510.8" fill="url(#cb_T)"/>
<path d="M337.8 545.8h-4.8M337.8 528.48h-2.4M337.8 511.17h-2.4M337.8 493.85h-2.4M337.8 476.54h-2.4M337.8 459.22h-4.8M337.8 441.91h-2.4M337.8 424.59h-2.4M337.8 407.28h-2.4M337.8 389.96h-2.4M337.8 372.65h-4.8M337.8 355.33h-2.4M337.8 338.02h-2.4M337.8 320.7h-2.4M337.8 303.39h-2.4M337.8 286.07h-4.8M337.8 268.76h-2.4M337.8 251.44h-2.4M337.8 234.13h-2.4M337.8 216.81h-2.4M337.8 199.49h-4.8M337.8 182.18h-2.4M337.8 164.86h-2.4M337.8 147.55h-2.4M337.8 130.23h-2.4M337.8 112.92h-4.8M337.8 95.6h-2.4M337.8 78.29h-2.4M337.8 60.97h-2.4M337.8 43.66h-2.4" stroke="#000" stroke-opacity="0.75" stroke-width="0.9" fill="none"/>
<rect x="312" y="35" width="25.8" height="510.8" fill="none" stroke="#000" stroke-opacity="0.4" stroke-width="1"/>
<text x="342.8" y="552" font-size="18.5" font-family="'Liberation Serif', 'DejaVu Serif', serif" text-anchor="start">265</text>
<text x="342.8" y="465.42" font-size="18.5" font-family="'Liberation Serif', 'DejaVu Serif', serif" text-anchor="start">266</text>
<text x="342.8" y="378.85" font-size="18.5" font-family="'Liberation Serif', 'DejaVu Serif', serif" text-anchor="start">267</text>
<text x="342.8" y="292.27" font-size="18.5" font-family="'Liberation Serif', 'DejaVu Serif', serif" text-anchor="start">268</text>
<text x="342.8" y="205.69" font-size="18.5" font-family="'Liberation Serif', 'DejaVu Serif', serif" text-anchor="start">269</text>
<text x="342.8" y="119.12" font-size="18.5" font-family="'Liberation Serif', 'DejaVu Serif', serif" text-anchor="start">270</text>
<g clip-path="url(#clip_S)">
<path d="M598.34 35V545.8M687.09 35V545.8M509.6 137.16H741.4M509.6 239.32H741.4M509.6 341.48H741.4M509.6 443.64H741.4" stroke="#b0b0b0" stroke-opacity="0.09" stroke-width="0.8" fill="none"/>
<polyline points="509.6,38.5 513.14,38.5 514.96,38.49 516.23,38.47 517.34,38.43 518.31,38.39 519.25,38.34 520.17,38.27 521.06,38.19 521.94,38.11 523.25,38.01 525,37.92 527.19,37.82 529.81,37.71 532.88,37.6 536.38,37.48 540.31,37.36 544.69,37.24 549.14,37.12 553.67,37 558.28,36.88 562.97,36.77 567.73,36.66 572.58,36.55 577.5,36.45 582.5,36.35 587.38,36.25 592.12,36.14 596.75,36.03 601.25,35.92 606.12,35.79 611.38,35.64 618.5,35.42 632,35" fill="none" stroke="#000" stroke-width="0.95" stroke-linejoin="round"/>
<polyline points="509.6,43.4 513.14,43.4 514.91,43.38 516.09,43.35 517.06,43.31 517.84,43.24 518.54,43.17 519.18,43.07 519.75,42.96 520.25,42.84 521,42.71 522,42.58 523.25,42.44 524.75,42.31 526.5,42.17 528.5,42.02 530.75,41.88 533.25,41.72 536.73,41.57 541.2,41.42 546.66,41.26 553.09,41.09 560.52,40.93 568.92,40.76 578.31,40.59 588.69,40.41 599.58,40.24 611,40.06 622.94,39.89 635.41,39.71 650.21,39.52 667.35,39.3 692.29,38.99 741.4,38.4" fill="none" stroke="#000" stroke-width="0.95" stroke-linejoin="round"/>
<polyline points="509.6,47.7 513.14,47.36 515.38,47.18 517.47,47.05 519.84,46.93 522.46,46.82 525.48,46.7 528.89,46.58 532.7,46.46 536.9,46.34 541.72,46.21 547.17,46.09 553.23,45.97 559.92,45.85 567.23,45.74 575.16,45.62 583.71,45.51 592.89,45.39 602.73,45.29 613.25,45.19 624.44,45.09 636.31,45.01 650.66,44.92 667.5,44.83 692.29,44.71 741.4,44.5" fill="none" stroke="#000" stroke-width="0.95" stroke-linejoin="round"/>
<polyline points="509.6,52 513.14,51.75 515.52,51.61 517.92,51.51 520.72,51.41 523.93,51.32 527.68,51.22 531.98,51.11 536.81,51.01 542.19,50.89 547.89,50.79 553.92,50.7 560.28,50.62 566.97,50.55 573.98,50.5 581.33,50.45 589,50.41 597,50.39 605.82,50.37 615.46,50.35 625.91,50.34 637.19,50.33 651.1,50.33 667.65,50.34 692.29,50.36 741.4,50.4" fill="none" stroke="#000" stroke-width="0.95" stroke-linejoin="round"/>
<polyline points="509.6,57.5 513.14,57.29 515.23,57.16 517.04,57.05 518.97,56.93 521.01,56.8 523.3,56.65 525.84,56.48 528.63,56.3 531.67,56.1 534.76,55.92 537.91,55.75 541.12,55.59 544.38,55.46 547.7,55.33 551.07,55.23 554.51,55.14 557.99,55.06 561.19,55 564.1,54.96 566.72,54.94 569.05,54.93 571.1,54.95 572.85,54.97 574.31,55.02 575.49,55.08 577.23,55.14 579.52,55.19 582.39,55.23 585.81,55.27 589.8,55.3 594.35,55.32 599.46,55.34 605.14,55.36 611.92,55.38 619.82,55.41 628.82,55.45 638.93,55.5 651.97,55.57 667.94,55.66 692.29,55.8 741.4,56.1" fill="none" stroke="#000" stroke-width="0.95" stroke-linejoin="round"/>
<polyline points="741.4,66.3 724.19,64.49 715.64,63.59 710.02,63 705.41,62.53 701.82,62.17 698.6,61.85 695.76,61.58 693.29,61.34 691.21,61.16 688.46,60.99 685.05,60.84 680.99,60.72 676.26,60.61 670.88,60.52 664.83,60.46 658.13,60.41 650.77,60.39 643.47,60.36 636.24,60.32 629.07,60.27 621.96,60.22 614.92,60.17 607.94,60.11 601.03,60.04 594.17,59.96 587.53,59.9 581.08,59.85 574.83,59.82 568.79,59.8 562.95,59.8 557.31,59.81 551.87,59.83 546.63,59.87 541.95,59.91 537.83,59.97 534.27,60.03 531.27,60.1 528.74,60.19 526.67,60.3 524.77,60.46 522.2,60.8 522.79,62.36 523.15,63.17 523.47,63.75 523.82,64.27 524.2,64.73 524.64,65.19 525.12,65.66 525.66,66.12 526.24,66.58 527.09,67.18 528.2,67.91 529.57,68.78 531.2,69.78 533.1,70.91 535.25,72.18 537.66,73.58 540.34,75.12 543.02,76.65 545.71,78.17 548.4,79.68 551.1,81.19 554.15,82.87 557.54,84.73 562.3,87.32 571.5,92.3 571.7,96.8 574.99,98.49 577.16,99.46 579.3,100.28 581.78,101.13 584.6,102.02 587.88,103 591.62,104.08 595.82,105.26 600.48,106.54 604.85,107.78 608.93,109 612.72,110.19 616.21,111.36 619.41,112.49 622.32,113.6 624.94,114.67 627.26,115.72 629.73,116.75 632.35,117.74 635.12,118.71 638.03,119.64 641.09,120.55 644.3,121.43 647.65,122.29 651.15,123.11 654.77,123.89 658.5,124.63 662.34,125.32 666.31,125.96 670.38,126.56 674.58,127.11 678.89,127.62 683.31,128.08 687.21,128.5 690.59,128.87 693.44,129.21 695.76,129.49 697.56,129.74 698.84,129.94 699.59,130.09 699.81,130.21 700.65,130.38 702.09,130.61 704.14,130.9 706.81,131.25 710.72,131.73 715.87,132.35 724.19,133.32 741.4,135.3" fill="none" stroke="#000" stroke-width="0.95" stroke-linejoin="round"/>
<polyline points="741.4,100.4 730.47,100.74 725.13,100.95 721.72,101.15 719.03,101.38 717.07,101.64 715.42,101.94 714.1,102.27 713.09,102.64 712.41,103.06 711.72,103.52 711.04,104.03 710.36,104.59 709.69,105.21 708.93,105.97 708.1,106.89 706.94,108.26 704.7,111 706.13,112.18 707,112.77 707.78,113.17 708.62,113.5 709.53,113.77 710.57,114.02 711.72,114.25 713,114.46 714.4,114.64 715.97,114.82 717.71,114.99 719.62,115.14 721.7,115.28 724.3,115.43 727.41,115.58 732.08,115.76 741.4,116.1" fill="none" stroke="#000" stroke-width="0.95" stroke-linejoin="round"/>
</g>
<path d="M509.6 545.8v-4.8M509.6 35v4.8M527.35 545.8v-2.4M527.35 35v2.4M545.1 545.8v-2.4M545.1 35v2.4M562.85 545.8v-2.4M562.85 35v2.4M580.6 545.8v-2.4M580.6 35v2.4M598.34 545.8v-4.8M598.34 35v4.8M616.09 545.8v-2.4M616.09 35v2.4M633.84 545.8v-2.4M633.84 35v2.4M651.59 545.8v-2.4M651.59 35v2.4M669.34 545.8v-2.4M669.34 35v2.4M687.09 545.8v-4.8M687.09 35v4.8M704.84 545.8v-2.4M704.84 35v2.4M722.59 545.8v-2.4M722.59 35v2.4M740.34 545.8v-2.4M740.34 35v2.4M509.6 35h4.8M741.4 35h-4.8M509.6 60.54h2.4M741.4 60.54h-2.4M509.6 86.08h2.4M741.4 86.08h-2.4M509.6 111.62h2.4M741.4 111.62h-2.4M509.6 137.16h4.8M741.4 137.16h-4.8M509.6 162.7h2.4M741.4 162.7h-2.4M509.6 188.24h2.4M741.4 188.24h-2.4M509.6 213.78h2.4M741.4 213.78h-2.4M509.6 239.32h4.8M741.4 239.32h-4.8M509.6 264.86h2.4M741.4 264.86h-2.4M509.6 290.4h2.4M741.4 290.4h-2.4M509.6 315.94h2.4M741.4 315.94h-2.4M509.6 341.48h4.8M741.4 341.48h-4.8M509.6 367.02h2.4M741.4 367.02h-2.4M509.6 392.56h2.4M741.4 392.56h-2.4M509.6 418.1h2.4M741.4 418.1h-2.4M509.6 443.64h4.8M741.4 443.64h-4.8M509.6 469.18h2.4M741.4 469.18h-2.4M509.6 494.72h2.4M741.4 494.72h-2.4M509.6 520.26h2.4M741.4 520.26h-2.4M509.6 545.8h4.8M741.4 545.8h-4.8" stroke="#000" stroke-opacity="0.75" stroke-width="0.9" fill="none"/>
<rect x="509.6" y="35" width="231.8" height="510.8" fill="none" stroke="#000" stroke-opacity="0.4" stroke-width="1"/>
<text x="503.4" y="41.2" font-size="18.5" font-family="'Liberation Serif', 'DejaVu Serif', serif" text-anchor="end">0.0</text>
<text x="503.4" y="143.36" font-size="18.5" font-family="'Liberation Serif', 'DejaVu Serif', serif" text-anchor="end">0.2</text>
<text x="503.4" y="245.52" font-size="18.5" font-family="'Liberation Serif', 'DejaVu Serif', serif" text-anchor="end">0.4</text>
<text x="503.4" y="347.68" font-size="18.5" font-family="'Liberation Serif', 'DejaVu Serif', serif" text-anchor="end">0.6</text>
<text x="503.4" y="449.84" font-size="18.5" font-family="'Liberation Serif', 'DejaVu Serif', serif" text-anchor="end">0.8</text>
<text x="503.4" y="552" font-size="18.5" font-family="'Liberation Serif', 'DejaVu Serif', serif" text-anchor="end">1.0</text>
<text x="625.5" y="565.6" font-size="18.0" text-anchor="middle"><tspan font-family="'Liberation Serif', 'DejaVu Serif', serif" font-style="italic">t</tspan><tspan font-family="'Liberation Sans', 'DejaVu Sans', sans-serif" dx="8.5" textLength="48" lengthAdjust="spacingAndGlyphs">[hours]</tspan></text>
<text transform="translate(467.1 291.7) rotate(-90)" font-size="18.0" text-anchor="middle" textLength="79" lengthAdjust="spacingAndGlyphs"><tspan font-family="'Liberation Sans', 'DejaVu Sans', sans-serif">Depth </tspan><tspan font-family="'Liberation Serif', 'DejaVu Serif', serif">[</tspan><tspan font-family="'Liberation Serif', 'DejaVu Serif', serif" font-style="italic">m</tspan><tspan font-family="'Liberation Serif', 'DejaVu Serif', serif">]</tspan></text>
<text x="625.5" y="25.4" font-size="18.0" font-family="'Liberation Sans', 'DejaVu Sans', sans-serif" text-anchor="middle" textLength="58.7" lengthAdjust="spacingAndGlyphs">Salinity</text>
<rect x="755.6" y="35" width="25.8" height="510.8" fill="url(#cb_S)"/>
<path d="M781.4 542.49h-2.4M781.4 530.24h-2.4M781.4 517.99h-2.4M781.4 505.74h-4.8M781.4 493.5h-2.4M781.4 481.25h-2.4M781.4 469h-2.4M781.4 456.75h-2.4M781.4 444.5h-4.8M781.4 432.25h-2.4M781.4 420h-2.4M781.4 407.75h-2.4M781.4 395.5h-2.4M781.4 383.25h-4.8M781.4 371h-2.4M781.4 358.75h-2.4M781.4 346.5h-2.4M781.4 334.25h-2.4M781.4 322h-4.8M781.4 309.75h-2.4M781.4 297.5h-2.4M781.4 285.26h-2.4M781.4 273.01h-2.4M781.4 260.76h-4.8M781.4 248.51h-2.4M781.4 236.26h-2.4M781.4 224.01h-2.4M781.4 211.76h-2.4M781.4 199.51h-4.8M781.4 187.26h-2.4M781.4 175.01h-2.4M781.4 162.76h-2.4M781.4 150.51h-2.4M781.4 138.26h-4.8M781.4 126.01h-2.4M781.4 113.76h-2.4M781.4 101.51h-2.4M781.4 89.26h-2.4M781.4 77.02h-4.8M781.4 64.77h-2.4M781.4 52.52h-2.4M781.4 40.27h-2.4" stroke="#000" stroke-opacity="0.75" stroke-width="0.9" fill="none"/>
<rect x="755.6" y="35" width="25.8" height="510.8" fill="none" stroke="#000" stroke-opacity="0.4" stroke-width="1"/>
<text x="786.4" y="511.94" font-size="18.5" font-family="'Liberation Serif', 'DejaVu Serif', serif" text-anchor="start">5</text>
<text x="786.4" y="450.7" font-size="18.5" font-family="'Liberation Serif', 'DejaVu Serif', serif" text-anchor="start">10</text>
<text x="786.4" y="389.45" font-size="18.5" font-family="'Liberation Serif', 'DejaVu Serif', serif" text-anchor="start">15</text>
<text x="786.4" y="328.2" font-size="18.5" font-family="'Liberation Serif', 'DejaVu Serif', serif" text-anchor="start">20</text>
<text x="786.4" y="266.96" font-size="18.5" font-family="'Liberation Serif', 'DejaVu Serif', serif" text-anchor="start">25</text>
<text x="786.4" y="205.71" font-size="18.5" font-family="'Liberation Serif', 'DejaVu Serif', serif" text-anchor="start">30</text>
<text x="786.4" y="144.46" font-size="18.5" font-family="'Liberation Serif', 'DejaVu Serif', serif" text-anchor="start">35</text>
<text x="786.4" y="83.22" font-size="18.5" font-family="'Liberation Serif', 'DejaVu Serif', serif" text-anchor="start">40</text>
<g clip-path="url(#clip_F)">
<path d="M1041.94 35V545.8M1130.69 35V545.8M953.2 137.16H1185M953.2 239.32H1185M953.2 341.48H1185M953.2 443.64H1185" stroke="#b0b0b0" stroke-opacity="0.09" stroke-width="0.8" fill="none"/>
<polyline points="953.2,40.6 956.58,40.68 958.21,40.73 959.24,40.77 960.03,40.82 960.59,40.86 961.04,40.91 961.37,40.96 961.59,41.02 961.71,41.08 962.49,41.18 963.94,41.32 966.07,41.5 968.86,41.72 972.32,41.98 976.46,42.28 981.26,42.61 986.74,42.99 991.67,43.32 996.07,43.61 999.93,43.85 1003.25,44.05 1006.03,44.21 1008.27,44.32 1009.97,44.39 1011.13,44.41 1013,44.44 1015.59,44.48 1018.88,44.53 1022.89,44.57 1027.61,44.63 1033.04,44.69 1039.17,44.76 1046.02,44.84 1052.57,44.92 1058.82,45 1064.77,45.08 1070.41,45.17 1075.75,45.26 1080.79,45.35 1085.53,45.45 1089.97,45.55 1094.48,45.65 1099.08,45.75 1103.75,45.85 1108.5,45.95 1113.33,46.05 1118.23,46.15 1123.22,46.25 1128.28,46.35 1133.32,46.43 1138.34,46.5 1143.33,46.55 1148.3,46.58 1153.85,46.59 1159.99,46.58 1168.55,46.53 1185,46.4" fill="none" stroke="#000" stroke-width="0.95" stroke-linejoin="round"/>
<polyline points="953.2,47.1 956.58,47.18 958.21,47.24 959.24,47.28 960.03,47.33 960.59,47.39 961.04,47.45 961.37,47.53 961.59,47.61 961.71,47.69 962.2,47.85 963.07,48.08 964.32,48.38 965.95,48.75 967.96,49.19 970.35,49.7 973.12,50.27 976.27,50.92 979.47,51.55 982.7,52.14 985.98,52.71 989.3,53.24 992.66,53.75 996.06,54.23 999.51,54.69 1002.99,55.11 1006.34,55.48 1009.54,55.79 1012.59,56.05 1015.51,56.25 1018.28,56.39 1020.9,56.48 1023.38,56.51 1025.72,56.49 1028.25,56.5 1030.98,56.54 1033.89,56.61 1037.01,56.72 1040.31,56.85 1043.81,57.03 1047.51,57.23 1051.39,57.47 1055.27,57.71 1059.14,57.95 1062.99,58.19 1066.83,58.43 1070.67,58.68 1074.49,58.93 1078.3,59.17 1082.1,59.42 1086.15,59.74 1090.46,60.13 1095.02,60.58 1099.83,61.1 1104.9,61.68 1110.22,62.34 1115.79,63.06 1121.61,63.84 1126.93,64.51 1131.74,65.07 1136.05,65.5 1139.85,65.82 1143.14,66.02 1145.93,66.11 1148.21,66.08 1149.99,65.92 1151.99,65.81 1154.22,65.73 1156.68,65.68 1159.37,65.67 1162.73,65.71 1166.78,65.79 1172.85,65.98 1185,66.4" fill="none" stroke="#000" stroke-width="0.95" stroke-linejoin="round"/>
<polyline points="953.2,54.4 961.2,54.4 961.58,54.78 962.05,55.05 962.75,55.35 963.71,55.7 964.94,56.12 966.44,56.62 968.22,57.19 970.28,57.84 972.62,58.56 974.79,59.27 976.81,59.96 978.66,60.63 980.34,61.29 981.87,61.93 983.23,62.55 984.43,63.16 985.47,63.74 986.57,64.32 987.73,64.87 988.95,65.41 990.23,65.94 991.57,66.45 992.97,66.94 994.44,67.42 995.96,67.88 997.49,68.3 999.01,68.68 1000.53,69.01 1002.05,69.29 1003.56,69.54 1005.08,69.74 1006.59,69.89 1008.11,70.01 1009.49,70.13 1010.74,70.28 1011.86,70.44 1012.84,70.61 1013.7,70.8 1014.43,71.01 1015.02,71.23 1015.48,71.47 1016.29,71.79 1017.46,72.2 1018.97,72.7 1020.83,73.28 1023.04,73.95 1025.61,74.7 1028.52,75.54 1031.78,76.46 1034.98,77.37 1038.1,78.25 1041.17,79.11 1044.16,79.94 1047.09,80.76 1049.95,81.55 1052.74,82.33 1055.46,83.08 1058.16,83.79 1060.84,84.48 1063.5,85.14 1066.13,85.76 1068.74,86.36 1071.32,86.92 1073.88,87.45 1076.42,87.95 1079.11,88.44 1081.97,88.91 1084.98,89.37 1088.15,89.81 1091.47,90.24 1094.96,90.65 1098.6,91.06 1102.4,91.44 1106.14,91.81 1109.81,92.17 1113.42,92.5 1116.96,92.82 1120.44,93.12 1123.85,93.41 1127.21,93.67 1130.49,93.92 1133.4,94.15 1135.93,94.36 1138.08,94.55 1139.85,94.72 1141.24,94.87 1142.25,95 1142.88,95.11 1143.12,95.19 1143.98,95.36 1145.45,95.61 1147.53,95.94 1150.22,96.36 1154.16,96.94 1159.34,97.7 1167.7,98.91 1185,101.4" fill="none" stroke="#000" stroke-width="0.95" stroke-linejoin="round"/>
<polyline points="953.6,35 953.6,57" fill="none" stroke="#000" stroke-width="0.95" stroke-linejoin="round"/>
</g>
<path d="M953.2 545.8v-4.8M953.2 35v4.8M970.95 545.8v-2.4M970.95 35v2.4M988.7 545.8v-2.4M988.7 35v2.4M1006.45 545.8v-2.4M1006.45 35v2.4M1024.2 545.8v-2.4M1024.2 35v2.4M1041.94 545.8v-4.8M1041.94 35v4.8M1059.69 545.8v-2.4M1059.69 35v2.4M1077.44 545.8v-2.4M1077.44 35v2.4M1095.19 545.8v-2.4M1095.19 35v2.4M1112.94 545.8v-2.4M1112.94 35v2.4M1130.69 545.8v-4.8M1130.69 35v4.8M1148.44 545.8v-2.4M1148.44 35v2.4M1166.19 545.8v-2.4M1166.19 35v2.4M1183.94 545.8v-2.4M1183.94 35v2.4M953.2 35h4.8M1185 35h-4.8M953.2 60.54h2.4M1185 60.54h-2.4M953.2 86.08h2.4M1185 86.08h-2.4M953.2 111.62h2.4M1185 111.62h-2.4M953.2 137.16h4.8M1185 137.16h-4.8M953.2 162.7h2.4M1185 162.7h-2.4M953.2 188.24h2.4M1185 188.24h-2.4M953.2 213.78h2.4M1185 213.78h-2.4M953.2 239.32h4.8M1185 239.32h-4.8M953.2 264.86h2.4M1185 264.86h-2.4M953.2 290.4h2.4M1185 290.4h-2.4M953.2 315.94h2.4M1185 315.94h-2.4M953.2 341.48h4.8M1185 341.48h-4.8M953.2 367.02h2.4M1185 367.02h-2.4M953.2 392.56h2.4M1185 392.56h-2.4M953.2 418.1h2.4M1185 418.1h-2.4M953.2 443.64h4.8M1185 443.64h-4.8M953.2 469.18h2.4M1185 469.18h-2.4M953.2 494.72h2.4M1185 494.72h-2.4M953.2 520.26h2.4M1185 520.26h-2.4M953.2 545.8h4.8M1185 545.8h-4.8" stroke="#000" stroke-opacity="0.75" stroke-width="0.9" fill="none"/>
<rect x="953.2" y="35" width="231.8" height="510.8" fill="none" stroke="#000" stroke-opacity="0.4" stroke-width="1"/>
<text x="947" y="41.2" font-size="18.5" font-family="'Liberation Serif', 'DejaVu Serif', serif" text-anchor="end">0.0</text>
<text x="947" y="143.36" font-size="18.5" font-family="'Liberation Serif', 'DejaVu Serif', serif" text-anchor="end">0.2</text>
<text x="947" y="245.52" font-size="18.5" font-family="'Liberation Serif', 'DejaVu Serif', serif" text-anchor="end">0.4</text>
<text x="947" y="347.68" font-size="18.5" font-family="'Liberation Serif', 'DejaVu Serif', serif" text-anchor="end">0.6</text>
<text x="947" y="449.84" font-size="18.5" font-family="'Liberation Serif', 'DejaVu Serif', serif" text-anchor="end">0.8</text>
<text x="947" y="552" font-size="18.5" font-family="'Liberation Serif', 'DejaVu Serif', serif" text-anchor="end">1.0</text>
<text x="1069.1" y="565.6" font-size="18.0" text-anchor="middle"><tspan font-family="'Liberation Serif', 'DejaVu Serif', serif" font-style="italic">t</tspan><tspan font-family="'Liberation Sans', 'DejaVu Sans', sans-serif" dx="8.5" textLength="48" lengthAdjust="spacingAndGlyphs">[hours]</tspan></text>
<text transform="translate(910.7 291.7) rotate(-90)" font-size="18.0" text-anchor="middle" textLength="79" lengthAdjust="spacingAndGlyphs"><tspan font-family="'Liberation Sans', 'DejaVu Sans', sans-serif">Depth </tspan><tspan font-family="'Liberation Serif', 'DejaVu Serif', serif">[</tspan><tspan font-family="'Liberation Serif', 'DejaVu Serif', serif" font-style="italic">m</tspan><tspan font-family="'Liberation Serif', 'DejaVu Serif', serif">]</tspan></text>
<text x="1069" y="25.4" font-size="18.0" font-family="'Liberation Sans', 'DejaVu Sans', sans-serif" text-anchor="middle" textLength="123.5" lengthAdjust="spacingAndGlyphs">Liquid Fraction</text>
<rect x="1199.2" y="35" width="25.8" height="510.8" fill="url(#cb_F)"/>
<path d="M1225 541.01h-2.4M1225 527.34h-2.4M1225 513.66h-4.8M1225 499.99h-2.4M1225 486.31h-2.4M1225 472.63h-2.4M1225 458.96h-2.4M1225 445.28h-4.8M1225 431.61h-2.4M1225 417.93h-2.4M1225 404.25h-2.4M1225 390.58h-2.4M1225 376.9h-4.8M1225 363.22h-2.4M1225 349.55h-2.4M1225 335.87h-2.4M1225 322.2h-2.4M1225 308.52h-4.8M1225 294.84h-2.4M1225 281.17h-2.4M1225 267.49h-2.4M1225 253.82h-2.4M1225 240.14h-4.8M1225 226.46h-2.4M1225 212.79h-2.4M1225 199.11h-2.4M1225 185.44h-2.4M1225 171.76h-4.8M1225 158.08h-2.4M1225 144.41h-2.4M1225 130.73h-2.4M1225 117.06h-2.4M1225 103.38h-4.8M1225 89.7h-2.4M1225 76.03h-2.4M1225 62.35h-2.4M1225 48.68h-2.4M1225 35h-4.8" stroke="#000" stroke-opacity="0.75" stroke-width="0.9" fill="none"/>
<rect x="1199.2" y="35" width="25.8" height="510.8" fill="none" stroke="#000" stroke-opacity="0.4" stroke-width="1"/>
<text x="1230" y="519.86" font-size="18.5" font-family="'Liberation Serif', 'DejaVu Serif', serif" text-anchor="start">0.3</text>
<text x="1230" y="451.48" font-size="18.5" font-family="'Liberation Serif', 'DejaVu Serif', serif" text-anchor="start">0.4</text>
<text x="1230" y="383.1" font-size="18.5" font-family="'Liberation Serif', 'DejaVu Serif', serif" text-anchor="start">0.5</text>
<text x="1230" y="314.72" font-size="18.5" font-family="'Liberation Serif', 'DejaVu Serif', serif" text-anchor="start">0.6</text>
<text x="1230" y="246.34" font-size="18.5" font-family="'Liberation Serif', 'DejaVu Serif', serif" text-anchor="start">0.7</text>
<text x="1230" y="177.96" font-size="18.5" font-family="'Liberation Serif', 'DejaVu Serif', serif" text-anchor="start">0.8</text>
<text x="1230" y="109.58" font-size="18.5" font-family="'Liberation Serif', 'DejaVu Serif', serif" text-anchor="start">0.9</text>
<text x="1230" y="41.2" font-size="18.5" font-family="'Liberation Serif', 'DejaVu Serif', serif" text-anchor="start">1.0</text>
<g clip-path="url(#clip_N)">
<path d="M154.74 614.8V1124.8M243.49 614.8V1124.8M66 716.8H297.8M66 818.8H297.8M66 920.8H297.8M66 1022.8H297.8" stroke="#b0b0b0" stroke-opacity="0.09" stroke-width="0.8" fill="none"/>
<polyline points="66,619.6 69.46,619.39 71.57,619.26 73.48,619.15 75.57,619.04 77.85,618.91 80.45,618.77 83.36,618.62 86.58,618.44 90.12,618.26 93.69,618.08 97.29,617.9 100.93,617.74 104.6,617.58 108.3,617.44 112.03,617.3 115.8,617.16 119.6,617.04 123.4,616.92 127.2,616.8 131,616.69 134.8,616.58 138.6,616.48 142.4,616.39 146.2,616.29 150,616.21 153.82,616.11 157.66,616.01 161.52,615.91 165.4,615.79 169.8,615.66 174.71,615.5 181.63,615.26 195,614.8" fill="none" stroke="#000" stroke-width="0.95" stroke-linejoin="round"/>
<polyline points="66,624.7 69.46,624.49 71.41,624.36 73,624.25 74.62,624.14 76.28,624.01 78.08,623.87 80.04,623.72 82.16,623.54 84.44,623.36 87.06,623.18 90.03,623.02 93.35,622.87 97.02,622.73 101.04,622.61 105.4,622.49 110.12,622.39 115.18,622.31 120.32,622.22 125.52,622.14 130.8,622.05 136.15,621.97 141.57,621.89 147.07,621.81 152.63,621.74 158.27,621.66 164.19,621.59 170.4,621.51 176.89,621.44 183.66,621.36 190.72,621.29 198.07,621.21 205.69,621.14 213.61,621.06 221.41,620.98 229.11,620.9 236.71,620.81 244.19,620.72 252.46,620.6 261.5,620.47 273.96,620.28 297.8,619.9" fill="none" stroke="#000" stroke-width="0.95" stroke-linejoin="round"/>
<polyline points="66,629.3 74.2,629.1 75.2,628.2 86.72,627.78 93.5,627.57 99.4,627.42 105.69,627.3 112.36,627.2 119.85,627.11 128.16,627.02 137.28,626.94 147.22,626.86 157.72,626.8 168.8,626.74 180.43,626.68 192.64,626.64 207.22,626.6 224.18,626.57 248.95,626.54 297.8,626.5" fill="none" stroke="#000" stroke-width="0.95" stroke-linejoin="round"/>
<polyline points="66,634.3 69.46,634.3 71.16,634.28 72.24,634.25 73.11,634.21 73.74,634.14 74.28,634.07 74.73,633.97 75.08,633.86 75.33,633.74 75.95,633.62 76.96,633.5 78.35,633.38 80.12,633.27 82.27,633.16 84.8,633.05 87.71,632.95 90.99,632.85 95.11,632.76 100.06,632.68 105.84,632.62 112.46,632.56 119.9,632.51 128.18,632.48 137.28,632.46 147.22,632.44 157.72,632.44 168.8,632.44 180.43,632.45 192.64,632.47 207.22,632.5 224.18,632.55 248.95,632.63 297.8,632.8" fill="none" stroke="#000" stroke-width="0.95" stroke-linejoin="round"/>
<polyline points="66,639.9 69.46,639.69 71.17,639.57 72.29,639.48 73.2,639.38 73.9,639.29 74.52,639.19 75.06,639.08 75.51,638.96 75.89,638.84 76.61,638.71 77.68,638.59 79.1,638.46 80.87,638.34 82.99,638.21 85.45,638.09 88.27,637.96 91.43,637.84 94.67,637.72 98,637.62 101.4,637.54 104.88,637.46 108.44,637.4 112.08,637.35 115.8,637.31 119.6,637.29 123.63,637.28 127.89,637.29 132.38,637.33 137.1,637.38 142.05,637.44 147.22,637.53 152.63,637.64 158.27,637.76 164.19,637.88 170.4,637.98 176.89,638.07 183.66,638.15 190.72,638.22 198.07,638.28 205.69,638.33 213.61,638.37 220.93,638.41 227.65,638.45 233.79,638.49 239.33,638.53 244.29,638.58 248.65,638.63 252.41,638.68 255.59,638.73 258.85,638.78 262.2,638.85 265.65,638.92 269.18,639 273.28,639.11 277.97,639.23 284.68,639.42 297.8,639.8" fill="none" stroke="#000" stroke-width="0.95" stroke-linejoin="round"/>
<polyline points="66,665.4 80.5,665.4 80.5,690.9 139.7,690.9 139.7,716.1 269.9,716.1 269.9,742 297.8,742" fill="none" stroke="#000" stroke-width="0.95" stroke-linejoin="round"/>
<polyline points="297.8,675.2 286.28,676 280.64,676.45 277.03,676.81 274.18,677.17 272.07,677.53 270.3,677.93 268.86,678.35 267.74,678.81 266.96,679.29 266.2,679.86 265.47,680.5 264.76,681.22 264.09,682.01 263.37,683.02 262.61,684.24 261.6,686.09 259.7,689.8 262.65,691.7 264.27,692.63 265.55,693.23 266.8,693.71 268.03,694.07 269.35,694.37 270.76,694.62 272.26,694.83 273.84,694.98 275.52,695.12 277.29,695.25 279.14,695.38 281.08,695.5 283.4,695.62 286.1,695.74 290.04,695.9 297.8,696.2" fill="none" stroke="#000" stroke-width="0.95" stroke-linejoin="round"/>
</g>
<path d="M66 1124.8v-4.8M66 614.8v4.8M83.75 1124.8v-2.4M83.75 614.8v2.4M101.5 1124.8v-2.4M101.5 614.8v2.4M119.25 1124.8v-2.4M119.25 614.8v2.4M137 1124.8v-2.4M137 614.8v2.4M154.74 1124.8v-4.8M154.74 614.8v4.8M172.49 1124.8v-2.4M172.49 614.8v2.4M190.24 1124.8v-2.4M190.24 614.8v2.4M207.99 1124.8v-2.4M207.99 614.8v2.4M225.74 1124.8v-2.4M225.74 614.8v2.4M243.49 1124.8v-4.8M243.49 614.8v4.8M261.24 1124.8v-2.4M261.24 614.8v2.4M278.99 1124.8v-2.4M278.99 614.8v2.4M296.74 1124.8v-2.4M296.74 614.8v2.4M66 614.8h4.8M297.8 614.8h-4.8M66 640.3h2.4M297.8 640.3h-2.4M66 665.8h2.4M297.8 665.8h-2.4M66 691.3h2.4M297.8 691.3h-2.4M66 716.8h4.8M297.8 716.8h-4.8M66 742.3h2.4M297.8 742.3h-2.4M66 767.8h2.4M297.8 767.8h-2.4M66 793.3h2.4M297.8 793.3h-2.4M66 818.8h4.8M297.8 818.8h-4.8M66 844.3h2.4M297.8 844.3h-2.4M66 869.8h2.4M297.8 869.8h-2.4M66 895.3h2.4M297.8 895.3h-2.4M66 920.8h4.8M297.8 920.8h-4.8M66 946.3h2.4M297.8 946.3h-2.4M66 971.8h2.4M297.8 971.8h-2.4M66 997.3h2.4M297.8 997.3h-2.4M66 1022.8h4.8M297.8 1022.8h-4.8M66 1048.3h2.4M297.8 1048.3h-2.4M66 1073.8h2.4M297.8 1073.8h-2.4M66 1099.3h2.4M297.8 1099.3h-2.4M66 1124.8h4.8M297.8 1124.8h-4.8" stroke="#000" stroke-opacity="0.75" stroke-width="0.9" fill="none"/>
<rect x="66" y="614.8" width="231.8" height="510" fill="none" stroke="#000" stroke-opacity="0.4" stroke-width="1"/>
<text x="59.8" y="621" font-size="18.5" font-family="'Liberation Serif', 'DejaVu Serif', serif" text-anchor="end">0.0</text>
<text x="59.8" y="723" font-size="18.5" font-family="'Liberation Serif', 'DejaVu Serif', serif" text-anchor="end">0.2</text>
<text x="59.8" y="825" font-size="18.5" font-family="'Liberation Serif', 'DejaVu Serif', serif" text-anchor="end">0.4</text>
<text x="59.8" y="927" font-size="18.5" font-family="'Liberation Serif', 'DejaVu Serif', serif" text-anchor="end">0.6</text>
<text x="59.8" y="1029" font-size="18.5" font-family="'Liberation Serif', 'DejaVu Serif', serif" text-anchor="end">0.8</text>
<text x="59.8" y="1131" font-size="18.5" font-family="'Liberation Serif', 'DejaVu Serif', serif" text-anchor="end">1.0</text>
<text x="66" y="1143.7" font-size="18.5" font-family="'Liberation Serif', 'DejaVu Serif', serif" text-anchor="middle">0</text>
<text x="154.74" y="1143.7" font-size="18.5" font-family="'Liberation Serif', 'DejaVu Serif', serif" text-anchor="middle">50</text>
<text x="243.49" y="1143.7" font-size="18.5" font-family="'Liberation Serif', 'DejaVu Serif', serif" text-anchor="middle">100</text>
<text x="181.9" y="1166.4" font-size="18.0" text-anchor="middle"><tspan font-family="'Liberation Serif', 'DejaVu Serif', serif" font-style="italic">t</tspan><tspan font-family="'Liberation Sans', 'DejaVu Sans', sans-serif" dx="8.5" textLength="48" lengthAdjust="spacingAndGlyphs">[hours]</tspan></text>
<text transform="translate(23.5 871.1) rotate(-90)" font-size="18.0" text-anchor="middle" textLength="79" lengthAdjust="spacingAndGlyphs"><tspan font-family="'Liberation Sans', 'DejaVu Sans', sans-serif">Depth </tspan><tspan font-family="'Liberation Serif', 'DejaVu Serif', serif">[</tspan><tspan font-family="'Liberation Serif', 'DejaVu Serif', serif" font-style="italic">m</tspan><tspan font-family="'Liberation Serif', 'DejaVu Serif', serif">]</tspan></text>
<text x="181.5" y="605.2" font-size="18.0" font-family="'Liberation Sans', 'DejaVu Sans', sans-serif" text-anchor="middle" textLength="187.8" lengthAdjust="spacingAndGlyphs">Nutrient Concentration</text>
<rect x="312" y="614.8" width="25.8" height="510" fill="url(#cb_N)"/>
<path d="M337.8 1111.32h-2.4M337.8 1090.59h-2.4M337.8 1069.86h-2.4M337.8 1049.13h-2.4M337.8 1028.4h-4.8M337.8 1007.67h-2.4M337.8 986.93h-2.4M337.8 966.2h-2.4M337.8 945.47h-2.4M337.8 924.74h-4.8M337.8 904.01h-2.4M337.8 883.28h-2.4M337.8 862.54h-2.4M337.8 841.81h-2.4M337.8 821.08h-4.8M337.8 800.35h-2.4M337.8 779.62h-2.4M337.8 758.89h-2.4M337.8 738.15h-2.4M337.8 717.42h-4.8M337.8 696.69h-2.4M337.8 675.96h-2.4M337.8 655.23h-2.4M337.8 634.5h-2.4" stroke="#000" stroke-opacity="0.75" stroke-width="0.9" fill="none"/>
<rect x="312" y="614.8" width="25.8" height="510" fill="none" stroke="#000" stroke-opacity="0.4" stroke-width="1"/>
<text x="342.8" y="1034.6" font-size="18.5" font-family="'Liberation Serif', 'DejaVu Serif', serif" text-anchor="start">10</text>
<text x="342.8" y="930.94" font-size="18.5" font-family="'Liberation Serif', 'DejaVu Serif', serif" text-anchor="start">20</text>
<text x="342.8" y="827.28" font-size="18.5" font-family="'Liberation Serif', 'DejaVu Serif', serif" text-anchor="start">30</text>
<text x="342.8" y="723.62" font-size="18.5" font-family="'Liberation Serif', 'DejaVu Serif', serif" text-anchor="start">40</text>
<g clip-path="url(#clip_C)">
<path d="M598.34 614.8V1124.8M687.09 614.8V1124.8M509.6 678.55H741.4M509.6 742.3H741.4M509.6 806.05H741.4M509.6 869.8H741.4M509.6 933.55H741.4M509.6 997.3H741.4M509.6 1061.05H741.4" stroke="#b0b0b0" stroke-opacity="0.09" stroke-width="0.8" fill="none"/>
<polyline points="509.6,678.3 523.7,678.7 534.33,673.43 540.2,670.63 544.86,668.55 549.49,666.61 554.08,664.79 559.04,662.92 564.35,660.98 570.03,658.98 576.07,656.92 582.31,654.91 588.76,652.95 595.42,651.04 602.28,649.18 609.35,647.38 616.62,645.63 624.11,643.92 631.79,642.28 639.81,640.69 648.16,639.16 656.84,637.7 665.86,636.3 676.49,634.82 688.75,633.26 706.51,631.18 741.4,627.3" fill="none" stroke="#000" stroke-width="0.95" stroke-linejoin="round"/>
<polyline points="741.4,643.1 715.79,648.67 702.64,651.69 693.4,654.03 685.24,656.3 678.16,658.5 671.19,660.84 664.36,663.31 657.64,665.92 651.06,668.67 644.81,671.39 638.91,674.07 633.35,676.71 628.13,679.32 623.25,681.89 618.72,684.42 614.53,686.92 610.67,689.38 606.9,691.85 603.19,694.31 599.55,696.78 595.98,699.25 592.48,701.72 589.05,704.19 585.69,706.66 582.41,709.14 579.17,711.68 575.98,714.29 572.84,716.97 569.76,719.72 566.36,722.92 562.65,726.57 557.55,731.79 547.8,742 549.19,748.45 550,751.97 550.69,754.71 551.41,757.38 552.17,759.99 553.01,762.77 553.94,765.72 554.95,768.85 556.05,772.15 557.18,775.38 558.35,778.54 559.56,781.63 560.79,784.65 562.07,787.6 563.37,790.47 564.71,793.28 566.09,796.02 567.48,798.71 568.89,801.34 570.32,803.93 571.76,806.47 573.41,809.25 575.27,812.27 577.9,816.41 583,824.3 590.97,839.36 594.92,846.77 597.5,851.56 599.59,855.39 601.21,858.26 602.74,860.9 604.19,863.3 605.89,865.95 608.8,870.3 612.13,885.19 613.95,892.83 615.37,898.17 616.75,902.87 618.1,906.93 619.54,910.91 621.07,914.79 622.69,918.59 624.41,922.31 626.23,925.87 628.15,929.3 630.19,932.58 632.33,935.72 634.59,938.71 636.95,941.56 639.41,944.27 641.99,946.83 644.63,949.29 647.34,951.64 650.12,953.88 652.97,956.02 655.89,958.05 658.88,959.97 661.94,961.79 665.06,963.51 668.37,965.16 671.85,966.77 675.52,968.32 679.36,969.81 683.95,971.41 689.3,973.11 697.1,975.4 712.5,979.7 741.4,996.8" fill="none" stroke="#000" stroke-width="0.95" stroke-linejoin="round"/>
<polyline points="741.4,660.7 720.39,669.05 709.76,673.35 702.51,676.37 696.3,679.05 691.13,681.38 686.22,683.67 681.58,685.93 677.21,688.16 673.09,690.34 669.02,692.6 664.97,694.93 660.96,697.33 656.99,699.8 653.05,702.34 649.14,704.95 645.27,707.62 641.43,710.38 637.69,713.12 634.04,715.88 630.49,718.62 627.03,721.38 623.29,724.47 619.25,727.91 613.78,732.72 603.4,742 610.99,759.59 614.96,768.71 617.82,775.23 620.43,781.09 622.79,786.31 625.17,791.52 627.58,796.73 630.02,801.94 632.48,807.16 634.93,812.26 637.37,817.25 639.8,822.13 642.22,826.9 644.63,831.55 647.03,836.1 649.41,840.54 651.79,844.86 653.97,848.81 655.97,852.37 657.77,855.56 659.38,858.37 660.91,860.95 662.35,863.32 664.03,865.95 666.9,870.3 673.65,881.35 677.15,887 679.65,890.91 681.89,894.33 683.88,897.25 685.88,900.08 687.87,902.82 689.86,905.47 691.84,908.03 693.8,910.45 695.72,912.73 697.6,914.87 699.45,916.86 701.48,918.89 703.69,920.95 706.72,923.59 712.5,928.4 741.4,955.8" fill="none" stroke="#000" stroke-width="0.95" stroke-linejoin="round"/>
<polyline points="741.4,677.8 720.39,688.18 709.76,693.55 702.51,697.38 696.3,700.82 691.13,703.88 686.22,706.92 681.58,709.96 677.21,712.99 673.09,716.01 669.25,718.9 665.69,721.65 662.4,724.26 659.38,726.74 656.39,729.32 653.44,732 649.8,735.5 643.3,742 649.8,755.88 653.27,763.25 655.88,768.73 658.36,773.88 660.69,778.68 663.13,783.65 665.68,788.79 668.33,794.11 671.08,799.59 673.78,805.04 676.45,810.44 679.07,815.8 681.65,821.12 684.19,826.4 686.69,831.63 689.14,836.83 691.56,841.98 693.83,846.77 695.95,851.2 697.94,855.27 699.78,858.98 701.65,862.62 703.52,866.18 705.9,870.52 710.2,878.2 715.98,884.95 719.04,888.52 721.3,891.16 723.4,893.62 725.35,895.9 727.63,898.58 730.25,901.64 734.02,906.05 741.4,914.7" fill="none" stroke="#000" stroke-width="0.95" stroke-linejoin="round"/>
<polyline points="741.4,694.7 725.03,703.52 716.72,708.17 711.02,711.61 706.09,714.81 701.96,717.77 697.57,721.22 692.93,725.17 686.76,730.86 675.2,742 683.05,759.59 687.17,768.75 690.18,775.33 692.96,781.3 695.49,786.65 698.08,792.03 700.73,797.45 703.42,802.91 706.17,808.39 708.82,813.7 711.35,818.83 713.77,823.78 716.08,828.55 718.28,833.14 720.38,837.55 722.36,841.78 724.24,845.82 726.04,849.56 727.78,852.99 729.45,856.11 731.05,858.92 732.75,861.61 734.54,864.18 736.93,867.23 741.4,872.5" fill="none" stroke="#000" stroke-width="0.95" stroke-linejoin="round"/>
<polyline points="741.4,710.1 734.31,715.2 730.54,717.97 727.72,720.1 725.06,722.17 722.57,724.16 719.61,726.58 716.2,729.44 711.25,733.65 701.5,742 711.25,763.3 716.2,774.11 719.61,781.52 722.57,787.9 725.06,793.25 727.72,798.91 730.54,804.87 734.31,812.79 741.4,827.6" fill="none" stroke="#000" stroke-width="0.95" stroke-linejoin="round"/>
<polyline points="741.4,727.7 723.5,742 741.4,781.5" fill="none" stroke="#000" stroke-width="0.95" stroke-linejoin="round"/>
</g>
<path d="M509.6 1124.8v-4.8M509.6 614.8v4.8M527.35 1124.8v-2.4M527.35 614.8v2.4M545.1 1124.8v-2.4M545.1 614.8v2.4M562.85 1124.8v-2.4M562.85 614.8v2.4M580.6 1124.8v-2.4M580.6 614.8v2.4M598.34 1124.8v-4.8M598.34 614.8v4.8M616.09 1124.8v-2.4M616.09 614.8v2.4M633.84 1124.8v-2.4M633.84 614.8v2.4M651.59 1124.8v-2.4M651.59 614.8v2.4M669.34 1124.8v-2.4M669.34 614.8v2.4M687.09 1124.8v-4.8M687.09 614.8v4.8M704.84 1124.8v-2.4M704.84 614.8v2.4M722.59 1124.8v-2.4M722.59 614.8v2.4M740.34 1124.8v-2.4M740.34 614.8v2.4M509.6 614.8h4.8M741.4 614.8h-4.8M509.6 627.55h2.4M741.4 627.55h-2.4M509.6 640.3h2.4M741.4 640.3h-2.4M509.6 653.05h2.4M741.4 653.05h-2.4M509.6 665.8h2.4M741.4 665.8h-2.4M509.6 678.55h4.8M741.4 678.55h-4.8M509.6 691.3h2.4M741.4 691.3h-2.4M509.6 704.05h2.4M741.4 704.05h-2.4M509.6 716.8h2.4M741.4 716.8h-2.4M509.6 729.55h2.4M741.4 729.55h-2.4M509.6 742.3h4.8M741.4 742.3h-4.8M509.6 755.05h2.4M741.4 755.05h-2.4M509.6 767.8h2.4M741.4 767.8h-2.4M509.6 780.55h2.4M741.4 780.55h-2.4M509.6 793.3h2.4M741.4 793.3h-2.4M509.6 806.05h4.8M741.4 806.05h-4.8M509.6 818.8h2.4M741.4 818.8h-2.4M509.6 831.55h2.4M741.4 831.55h-2.4M509.6 844.3h2.4M741.4 844.3h-2.4M509.6 857.05h2.4M741.4 857.05h-2.4M509.6 869.8h4.8M741.4 869.8h-4.8M509.6 882.55h2.4M741.4 882.55h-2.4M509.6 895.3h2.4M741.4 895.3h-2.4M509.6 908.05h2.4M741.4 908.05h-2.4M509.6 920.8h2.4M741.4 920.8h-2.4M509.6 933.55h4.8M741.4 933.55h-4.8M509.6 946.3h2.4M741.4 946.3h-2.4M509.6 959.05h2.4M741.4 959.05h-2.4M509.6 971.8h2.4M741.4 971.8h-2.4M509.6 984.55h2.4M741.4 984.55h-2.4M509.6 997.3h4.8M741.4 997.3h-4.8M509.6 1010.05h2.4M741.4 1010.05h-2.4M509.6 1022.8h2.4M741.4 1022.8h-2.4M509.6 1035.55h2.4M741.4 1035.55h-2.4M509.6 1048.3h2.4M741.4 1048.3h-2.4M509.6 1061.05h4.8M741.4 1061.05h-4.8M509.6 1073.8h2.4M741.4 1073.8h-2.4M509.6 1086.55h2.4M741.4 1086.55h-2.4M509.6 1099.3h2.4M741.4 1099.3h-2.4M509.6 1112.05h2.4M741.4 1112.05h-2.4M509.6 1124.8h4.8M741.4 1124.8h-4.8" stroke="#000" stroke-opacity="0.75" stroke-width="0.9" fill="none"/>
<rect x="509.6" y="614.8" width="231.8" height="510" fill="none" stroke="#000" stroke-opacity="0.4" stroke-width="1"/>
<text x="503.4" y="621" font-size="18.5" font-family="'Liberation Serif', 'DejaVu Serif', serif" text-anchor="end">0.000</text>
<text x="503.4" y="684.75" font-size="18.5" font-family="'Liberation Serif', 'DejaVu Serif', serif" text-anchor="end">0.025</text>
<text x="503.4" y="748.5" font-size="18.5" font-family="'Liberation Serif', 'DejaVu Serif', serif" text-anchor="end">0.050</text>
<text x="503.4" y="812.25" font-size="18.5" font-family="'Liberation Serif', 'DejaVu Serif', serif" text-anchor="end">0.075</text>
<text x="503.4" y="876" font-size="18.5" font-family="'Liberation Serif', 'DejaVu Serif', serif" text-anchor="end">0.100</text>
<text x="503.4" y="939.75" font-size="18.5" font-family="'Liberation Serif', 'DejaVu Serif', serif" text-anchor="end">0.125</text>
<text x="503.4" y="1003.5" font-size="18.5" font-family="'Liberation Serif', 'DejaVu Serif', serif" text-anchor="end">0.150</text>
<text x="503.4" y="1067.25" font-size="18.5" font-family="'Liberation Serif', 'DejaVu Serif', serif" text-anchor="end">0.175</text>
<text x="503.4" y="1131" font-size="18.5" font-family="'Liberation Serif', 'DejaVu Serif', serif" text-anchor="end">0.200</text>
<text x="509.6" y="1143.7" font-size="18.5" font-family="'Liberation Serif', 'DejaVu Serif', serif" text-anchor="middle">0</text>
<text x="598.34" y="1143.7" font-size="18.5" font-family="'Liberation Serif', 'DejaVu Serif', serif" text-anchor="middle">50</text>
<text x="687.09" y="1143.7" font-size="18.5" font-family="'Liberation Serif', 'DejaVu Serif', serif" text-anchor="middle">100</text>
<text x="625.5" y="1166.4" font-size="18.0" text-anchor="middle"><tspan font-family="'Liberation Serif', 'DejaVu Serif', serif" font-style="italic">t</tspan><tspan font-family="'Liberation Sans', 'DejaVu Sans', sans-serif" dx="8.5" textLength="48" lengthAdjust="spacingAndGlyphs">[hours]</tspan></text>
<text transform="translate(450 871.1) rotate(-90)" font-size="18.0" text-anchor="middle" textLength="79" lengthAdjust="spacingAndGlyphs"><tspan font-family="'Liberation Sans', 'DejaVu Sans', sans-serif">Depth </tspan><tspan font-family="'Liberation Serif', 'DejaVu Serif', serif">[</tspan><tspan font-family="'Liberation Serif', 'DejaVu Serif', serif" font-style="italic">m</tspan><tspan font-family="'Liberation Serif', 'DejaVu Serif', serif">]</tspan></text>
<text x="624.8" y="605.2" font-size="18.0" font-family="'Liberation Sans', 'DejaVu Sans', sans-serif" text-anchor="middle" textLength="179" lengthAdjust="spacingAndGlyphs">Carbon Concentration</text>
<rect x="755.6" y="614.8" width="25.8" height="510" fill="url(#cb_C)"/>
<path d="M781.4 1118.38h-2.4M781.4 1096.25h-2.4M781.4 1074.11h-2.4M781.4 1051.97h-2.4M781.4 1029.84h-4.8M781.4 1007.7h-2.4M781.4 985.57h-2.4M781.4 963.43h-2.4M781.4 941.3h-2.4M781.4 919.16h-4.8M781.4 897.03h-2.4M781.4 874.89h-2.4M781.4 852.76h-2.4M781.4 830.62h-2.4M781.4 808.48h-4.8M781.4 786.35h-2.4M781.4 764.21h-2.4M781.4 742.08h-2.4M781.4 719.94h-2.4M781.4 697.81h-4.8M781.4 675.67h-2.4M781.4 653.54h-2.4M781.4 631.4h-2.4" stroke="#000" stroke-opacity="0.75" stroke-width="0.9" fill="none"/>
<rect x="755.6" y="614.8" width="25.8" height="510" fill="none" stroke="#000" stroke-opacity="0.4" stroke-width="1"/>
<text x="786.4" y="1036.04" font-size="18.5" font-family="'Liberation Serif', 'DejaVu Serif', serif" text-anchor="start">0.05</text>
<text x="786.4" y="925.36" font-size="18.5" font-family="'Liberation Serif', 'DejaVu Serif', serif" text-anchor="start">0.10</text>
<text x="786.4" y="814.68" font-size="18.5" font-family="'Liberation Serif', 'DejaVu Serif', serif" text-anchor="start">0.15</text>
<text x="786.4" y="704.01" font-size="18.5" font-family="'Liberation Serif', 'DejaVu Serif', serif" text-anchor="start">0.20</text>
<g clip-path="url(#clip_R)">
<path d="M1041.94 614.8V1124.8M1130.69 614.8V1124.8M953.2 678.55H1185M953.2 742.3H1185M953.2 806.05H1185M953.2 869.8H1185M953.2 933.55H1185M953.2 997.3H1185M953.2 1061.05H1185" stroke="#b0b0b0" stroke-opacity="0.09" stroke-width="0.8" fill="none"/>
<polyline points="1185,626.7 1159.14,628.56 1145.66,629.57 1135.94,630.36 1127.1,631.12 1119.15,631.88 1111.13,632.67 1103.03,633.53 1094.87,634.43 1086.63,635.38 1078.74,636.35 1071.19,637.35 1063.98,638.38 1057.12,639.44 1050.6,640.52 1044.42,641.63 1038.59,642.77 1033.11,643.93 1028.06,644.97 1023.47,645.88 1019.32,646.67 1015.61,647.33 1012.35,647.87 1009.53,648.28 1007.16,648.57 1005.24,648.73 1003.28,648.85 1001.28,648.91 999.26,648.93 997.19,648.9 995.1,648.82 992.97,648.69 990.8,648.51 988.6,648.29 986.47,648 984.41,647.66 982.42,647.27 980.5,646.81 978.45,646.21 976.26,645.47 973.33,644.32 967.8,642 967.8,805.6 1027,823.2 1027,928.4 1084.8,948.9 1157.3,966.7 1157.3,1049.3 1185,1060.7" fill="none" stroke="#000" stroke-width="0.95" stroke-linejoin="round"/>
<polyline points="1185,643.1 1159.14,649.13 1146,652.3 1136.97,654.6 1129.16,656.71 1122.59,658.64 1116.28,660.6 1110.25,662.59 1104.49,664.62 1099.01,666.68 1093.69,668.72 1088.54,670.75 1083.57,672.76 1078.76,674.74 1074.12,676.71 1069.66,678.66 1065.36,680.59 1061.24,682.51 1057.22,684.42 1053.3,686.34 1049.49,688.25 1045.78,690.17 1041.77,692.33 1037.45,694.74 1031.6,698.1 1020.5,704.6 1013.9,710.1 967.8,742 1013.9,767.2 1027,776.6 1027,849.5 1040.4,869.1 1059.13,881.63 1069.08,888.16 1076.48,892.87 1083.42,897.15 1089.9,901 1096.62,904.88 1103.56,908.8 1110.74,912.76 1118.16,916.74 1124.85,920.33 1130.82,923.52 1136.07,926.32 1140.6,928.71 1144.62,930.8 1148.12,932.6 1151.73,934.4 1157.3,937.1 1157.3,983.1 1185,996.8" fill="none" stroke="#000" stroke-width="0.95" stroke-linejoin="round"/>
<polyline points="1185,660.7 1159.14,669.98 1146,674.79 1136.97,678.23 1129.16,681.32 1122.59,684.06 1116.28,686.8 1110.25,689.54 1104.49,692.28 1099.01,695.02 1093.86,697.69 1089.06,700.29 1084.6,702.83 1080.48,705.3 1076.7,707.7 1073.27,710.03 1070.17,712.3 1067.42,714.5 1064.74,716.73 1062.13,719 1059.59,721.31 1057.11,723.64 1054.43,726.33 1051.54,729.35 1047.62,733.65 1040.2,742 1047.62,759.59 1051.54,768.75 1054.43,775.33 1057.11,781.3 1059.59,786.65 1062.13,792.03 1064.74,797.45 1067.42,802.91 1070.17,808.39 1072.99,813.83 1075.88,819.2 1078.83,824.53 1081.85,829.8 1084.93,835.01 1088.09,840.17 1091.31,845.28 1094.59,850.32 1097.49,854.78 1100.01,858.64 1102.13,861.9 1103.87,864.57 1105.24,866.68 1106.25,868.23 1106.97,869.33 1107.6,870.3 1122.03,880.85 1129.22,886.1 1133.98,889.58 1137.91,892.46 1141.02,894.74 1144.07,896.98 1147.08,899.18 1150.76,901.89 1157.3,906.7 1157.3,933 1185,954.6" fill="none" stroke="#000" stroke-width="0.95" stroke-linejoin="round"/>
<polyline points="1185,677.8 1163.74,688.18 1152.99,693.55 1145.66,697.38 1139.39,700.82 1134.18,703.88 1129.25,706.92 1124.59,709.96 1120.21,712.99 1116.09,716.01 1112.24,718.9 1108.64,721.65 1105.29,724.26 1102.21,726.74 1099.12,729.32 1096.03,732 1092.16,735.5 1085.2,742 1092.16,757.74 1095.86,765.93 1098.61,771.83 1101.18,777.17 1103.59,781.97 1106.08,786.81 1108.66,791.68 1111.33,796.58 1114.08,801.52 1116.82,806.48 1119.56,811.47 1122.29,816.49 1125.01,821.53 1127.73,826.6 1130.44,831.7 1133.15,836.83 1135.85,841.98 1138.28,846.64 1140.45,850.83 1142.35,854.53 1143.98,857.75 1145.41,860.64 1146.65,863.22 1147.9,865.95 1149.8,870.3 1152.71,873.17 1154.12,874.62 1155,875.62 1155.68,876.47 1156.15,877.18 1156.52,877.86 1156.79,878.5 1156.96,879.11 1157.04,879.69 1157.54,880.71 1158.46,882.17 1159.8,884.08 1161.57,886.43 1164.2,889.73 1167.68,894 1173.31,900.78 1185,914.7" fill="none" stroke="#000" stroke-width="0.95" stroke-linejoin="round"/>
<polyline points="1185,694.7 1168.38,703.52 1159.95,708.17 1154.17,711.61 1149.19,714.81 1145.01,717.77 1140.6,721.22 1135.94,725.17 1129.76,730.86 1118.2,742 1126.05,759.59 1130.17,768.75 1133.18,775.33 1135.96,781.3 1138.49,786.65 1141.08,792.03 1143.73,797.45 1146.42,802.91 1149.17,808.39 1151.83,813.7 1154.4,818.83 1156.87,823.78 1159.25,828.55 1161.54,833.14 1163.74,837.55 1165.84,841.78 1167.86,845.82 1169.77,849.56 1171.6,852.99 1173.33,856.11 1174.97,858.92 1176.67,861.61 1178.44,864.18 1180.74,867.23 1185,872.5" fill="none" stroke="#000" stroke-width="0.95" stroke-linejoin="round"/>
<polyline points="1185,710.1 1177.66,715.2 1173.78,717.97 1170.92,720.1 1168.26,722.17 1165.79,724.16 1162.92,726.58 1159.62,729.44 1154.88,733.65 1145.6,742 1154.88,763.3 1159.62,774.11 1162.92,781.52 1165.79,787.9 1168.26,793.25 1170.92,798.91 1173.78,804.87 1177.66,812.79 1185,827.6" fill="none" stroke="#000" stroke-width="0.95" stroke-linejoin="round"/>
<polyline points="1185,727.7 1167.6,742 1185,781.5" fill="none" stroke="#000" stroke-width="0.95" stroke-linejoin="round"/>
<polyline points="953.2,742 967.8,742 967.8,869.1 1027,869.1 1027,997.5 1157.3,997.5 1157.3,1124.8" fill="none" stroke="#000" stroke-width="0.95" stroke-linejoin="round"/>
</g>
<path d="M953.2 1124.8v-4.8M953.2 614.8v4.8M970.95 1124.8v-2.4M970.95 614.8v2.4M988.7 1124.8v-2.4M988.7 614.8v2.4M1006.45 1124.8v-2.4M1006.45 614.8v2.4M1024.2 1124.8v-2.4M1024.2 614.8v2.4M1041.94 1124.8v-4.8M1041.94 614.8v4.8M1059.69 1124.8v-2.4M1059.69 614.8v2.4M1077.44 1124.8v-2.4M1077.44 614.8v2.4M1095.19 1124.8v-2.4M1095.19 614.8v2.4M1112.94 1124.8v-2.4M1112.94 614.8v2.4M1130.69 1124.8v-4.8M1130.69 614.8v4.8M1148.44 1124.8v-2.4M1148.44 614.8v2.4M1166.19 1124.8v-2.4M1166.19 614.8v2.4M1183.94 1124.8v-2.4M1183.94 614.8v2.4M953.2 614.8h4.8M1185 614.8h-4.8M953.2 627.55h2.4M1185 627.55h-2.4M953.2 640.3h2.4M1185 640.3h-2.4M953.2 653.05h2.4M1185 653.05h-2.4M953.2 665.8h2.4M1185 665.8h-2.4M953.2 678.55h4.8M1185 678.55h-4.8M953.2 691.3h2.4M1185 691.3h-2.4M953.2 704.05h2.4M1185 704.05h-2.4M953.2 716.8h2.4M1185 716.8h-2.4M953.2 729.55h2.4M1185 729.55h-2.4M953.2 742.3h4.8M1185 742.3h-4.8M953.2 755.05h2.4M1185 755.05h-2.4M953.2 767.8h2.4M1185 767.8h-2.4M953.2 780.55h2.4M1185 780.55h-2.4M953.2 793.3h2.4M1185 793.3h-2.4M953.2 806.05h4.8M1185 806.05h-4.8M953.2 818.8h2.4M1185 818.8h-2.4M953.2 831.55h2.4M1185 831.55h-2.4M953.2 844.3h2.4M1185 844.3h-2.4M953.2 857.05h2.4M1185 857.05h-2.4M953.2 869.8h4.8M1185 869.8h-4.8M953.2 882.55h2.4M1185 882.55h-2.4M953.2 895.3h2.4M1185 895.3h-2.4M953.2 908.05h2.4M1185 908.05h-2.4M953.2 920.8h2.4M1185 920.8h-2.4M953.2 933.55h4.8M1185 933.55h-4.8M953.2 946.3h2.4M1185 946.3h-2.4M953.2 959.05h2.4M1185 959.05h-2.4M953.2 971.8h2.4M1185 971.8h-2.4M953.2 984.55h2.4M1185 984.55h-2.4M953.2 997.3h4.8M1185 997.3h-4.8M953.2 1010.05h2.4M1185 1010.05h-2.4M953.2 1022.8h2.4M1185 1022.8h-2.4M953.2 1035.55h2.4M1185 1035.55h-2.4M953.2 1048.3h2.4M1185 1048.3h-2.4M953.2 1061.05h4.8M1185 1061.05h-4.8M953.2 1073.8h2.4M1185 1073.8h-2.4M953.2 1086.55h2.4M1185 1086.55h-2.4M953.2 1099.3h2.4M1185 1099.3h-2.4M953.2 1112.05h2.4M1185 1112.05h-2.4M953.2 1124.8h4.8M1185 1124.8h-4.8" stroke="#000" stroke-opacity="0.75" stroke-width="0.9" fill="none"/>
<rect x="953.2" y="614.8" width="231.8" height="510" fill="none" stroke="#000" stroke-opacity="0.4" stroke-width="1"/>
<text x="947" y="621" font-size="18.5" font-family="'Liberation Serif', 'DejaVu Serif', serif" text-anchor="end">0.000</text>
<text x="947" y="684.75" font-size="18.5" font-family="'Liberation Serif', 'DejaVu Serif', serif" text-anchor="end">0.025</text>
<text x="947" y="748.5" font-size="18.5" font-family="'Liberation Serif', 'DejaVu Serif', serif" text-anchor="end">0.050</text>
<text x="947" y="812.25" font-size="18.5" font-family="'Liberation Serif', 'DejaVu Serif', serif" text-anchor="end">0.075</text>
<text x="947" y="876" font-size="18.5" font-family="'Liberation Serif', 'DejaVu Serif', serif" text-anchor="end">0.100</text>
<text x="947" y="939.75" font-size="18.5" font-family="'Liberation Serif', 'DejaVu Serif', serif" text-anchor="end">0.125</text>
<text x="947" y="1003.5" font-size="18.5" font-family="'Liberation Serif', 'DejaVu Serif', serif" text-anchor="end">0.150</text>
<text x="947" y="1067.25" font-size="18.5" font-family="'Liberation Serif', 'DejaVu Serif', serif" text-anchor="end">0.175</text>
<text x="947" y="1131" font-size="18.5" font-family="'Liberation Serif', 'DejaVu Serif', serif" text-anchor="end">0.200</text>
<text x="953.2" y="1143.7" font-size="18.5" font-family="'Liberation Serif', 'DejaVu Serif', serif" text-anchor="middle">0</text>
<text x="1041.94" y="1143.7" font-size="18.5" font-family="'Liberation Serif', 'DejaVu Serif', serif" text-anchor="middle">50</text>
<text x="1130.69" y="1143.7" font-size="18.5" font-family="'Liberation Serif', 'DejaVu Serif', serif" text-anchor="middle">100</text>
<text x="1069.1" y="1166.4" font-size="18.0" text-anchor="middle"><tspan font-family="'Liberation Serif', 'DejaVu Serif', serif" font-style="italic">t</tspan><tspan font-family="'Liberation Sans', 'DejaVu Sans', sans-serif" dx="8.5" textLength="48" lengthAdjust="spacingAndGlyphs">[hours]</tspan></text>
<text transform="translate(893.6 871.1) rotate(-90)" font-size="18.0" text-anchor="middle" textLength="79" lengthAdjust="spacingAndGlyphs"><tspan font-family="'Liberation Sans', 'DejaVu Sans', sans-serif">Depth </tspan><tspan font-family="'Liberation Serif', 'DejaVu Serif', serif">[</tspan><tspan font-family="'Liberation Serif', 'DejaVu Serif', serif" font-style="italic">m</tspan><tspan font-family="'Liberation Serif', 'DejaVu Serif', serif">]</tspan></text>
<text x="1068.1" y="605.2" font-size="18.0" font-family="'Liberation Sans', 'DejaVu Sans', sans-serif" text-anchor="middle" textLength="77" lengthAdjust="spacingAndGlyphs">Radiation</text>
<rect x="1199.2" y="614.8" width="25.8" height="510" fill="url(#cb_R)"/>
<path d="M1225 1124.8h-4.8M1225 1108.64h-2.4M1225 1092.47h-2.4M1225 1076.31h-2.4M1225 1060.14h-2.4M1225 1043.98h-4.8M1225 1027.81h-2.4M1225 1011.65h-2.4M1225 995.48h-2.4M1225 979.32h-2.4M1225 963.15h-4.8M1225 946.99h-2.4M1225 930.82h-2.4M1225 914.66h-2.4M1225 898.49h-2.4M1225 882.33h-4.8M1225 866.16h-2.4M1225 850h-2.4M1225 833.83h-2.4M1225 817.67h-2.4M1225 801.5h-4.8M1225 785.34h-2.4M1225 769.17h-2.4M1225 753.01h-2.4M1225 736.84h-2.4M1225 720.68h-4.8M1225 704.51h-2.4M1225 688.35h-2.4M1225 672.19h-2.4M1225 656.02h-2.4M1225 639.86h-4.8M1225 623.69h-2.4" stroke="#000" stroke-opacity="0.75" stroke-width="0.9" fill="none"/>
<rect x="1199.2" y="614.8" width="25.8" height="510" fill="none" stroke="#000" stroke-opacity="0.4" stroke-width="1"/>
<text x="1230" y="1131" font-size="18.5" font-family="'Liberation Serif', 'DejaVu Serif', serif" text-anchor="start">0</text>
<text x="1230" y="1050.18" font-size="18.5" font-family="'Liberation Serif', 'DejaVu Serif', serif" text-anchor="start">1</text>
<text x="1230" y="969.35" font-size="18.5" font-family="'Liberation Serif', 'DejaVu Serif', serif" text-anchor="start">2</text>
<text x="1230" y="888.53" font-size="18.5" font-family="'Liberation Serif', 'DejaVu Serif', serif" text-anchor="start">3</text>
<text x="1230" y="807.7" font-size="18.5" font-family="'Liberation Serif', 'DejaVu Serif', serif" text-anchor="start">4</text>
<text x="1230" y="726.88" font-size="18.5" font-family="'Liberation Serif', 'DejaVu Serif', serif" text-anchor="start">5</text>
<text x="1230" y="646.06" font-size="18.5" font-family="'Liberation Serif', 'DejaVu Serif', serif" text-anchor="start">6</text>
<text transform="translate(391 291.2) rotate(-90)" font-size="18.0" text-anchor="middle" textLength="125.4" lengthAdjust="spacingAndGlyphs"><tspan font-family="'Liberation Sans', 'DejaVu Sans', sans-serif">Temperature [K]</tspan></text>
<text transform="translate(824.2 291.2) rotate(-90)" font-size="18.0" text-anchor="middle" textLength="106.8" lengthAdjust="spacingAndGlyphs"><tspan font-family="'Liberation Sans', 'DejaVu Sans', sans-serif">Salinity in ppt</tspan></text>
<text transform="translate(1273 291.2) rotate(-90)" font-size="18.0" text-anchor="middle" textLength="115" lengthAdjust="spacingAndGlyphs"><tspan font-family="'Liberation Sans', 'DejaVu Sans', sans-serif">Liquid Fraction</tspan></text>
<text transform="translate(387 870.6) rotate(-90)" font-size="18.0" text-anchor="middle" textLength="122.5" lengthAdjust="spacingAndGlyphs"><tspan font-family="'Liberation Serif', 'DejaVu Serif', serif" font-style="italic">C</tspan><tspan font-family="'Liberation Serif', 'DejaVu Serif', serif" font-style="italic" font-size="13" dy="4">N</tspan><tspan font-family="'Liberation Serif', 'DejaVu Serif', serif" dy="-4"> [</tspan><tspan font-family="'Liberation Serif', 'DejaVu Serif', serif" font-style="italic">mmol</tspan><tspan font-family="'Liberation Serif', 'DejaVu Serif', serif">/</tspan><tspan font-family="'Liberation Serif', 'DejaVu Serif', serif" font-style="italic">m</tspan><tspan font-family="'Liberation Serif', 'DejaVu Serif', serif" font-size="13" dy="-7">3</tspan><tspan font-family="'Liberation Serif', 'DejaVu Serif', serif" dy="7">]</tspan></text>
<text transform="translate(842.4 870.6) rotate(-90)" font-size="18.0" text-anchor="middle" textLength="119.1" lengthAdjust="spacingAndGlyphs"><tspan font-family="'Liberation Serif', 'DejaVu Serif', serif" font-style="italic">C</tspan><tspan font-family="'Liberation Serif', 'DejaVu Serif', serif" font-style="italic" font-size="13" dy="4">C</tspan><tspan font-family="'Liberation Serif', 'DejaVu Serif', serif" dy="-4"> [</tspan><tspan font-family="'Liberation Serif', 'DejaVu Serif', serif" font-style="italic">mmol</tspan><tspan font-family="'Liberation Serif', 'DejaVu Serif', serif">/</tspan><tspan font-family="'Liberation Serif', 'DejaVu Serif', serif" font-style="italic">m</tspan><tspan font-family="'Liberation Serif', 'DejaVu Serif', serif" font-size="13" dy="-7">3</tspan><tspan font-family="'Liberation Serif', 'DejaVu Serif', serif" dy="7">]</tspan></text>
<text transform="translate(1260.4 870.6) rotate(-90)" font-size="18.0" text-anchor="middle" textLength="88.4" lengthAdjust="spacingAndGlyphs"><tspan font-family="'Liberation Serif', 'DejaVu Serif', serif" font-style="italic">R</tspan><tspan font-family="'Liberation Serif', 'DejaVu Serif', serif" font-style="italic" font-size="13" dy="-7">a</tspan><tspan font-family="'Liberation Serif', 'DejaVu Serif', serif" dy="7"> [</tspan><tspan font-family="'Liberation Serif', 'DejaVu Serif', serif" font-style="italic">W</tspan><tspan font-family="'Liberation Serif', 'DejaVu Serif', serif">/</tspan><tspan font-family="'Liberation Serif', 'DejaVu Serif', serif" font-style="italic">m</tspan><tspan font-family="'Liberation Serif', 'DejaVu Serif', serif" font-size="13" dy="-7">2</tspan><tspan font-family="'Liberation Serif', 'DejaVu Serif', serif" dy="7">]</tspan></text>
<text y="610.7" font-size="18.5" font-family="'Liberation Serif', 'DejaVu Serif', serif"><tspan x="1173.3" font-size="22">×</tspan><tspan x="1186.4" textLength="17.6" lengthAdjust="spacingAndGlyphs">10</tspan><tspan x="1204.6" y="603.6" font-size="13.5" textLength="17" lengthAdjust="spacingAndGlyphs">−5</tspan></text></svg></body></html>
